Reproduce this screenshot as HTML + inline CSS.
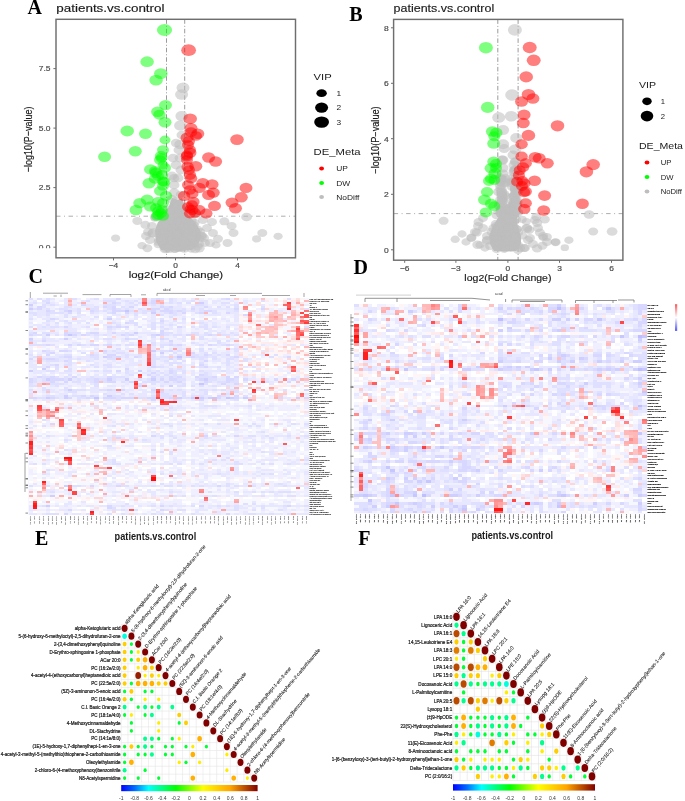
<!DOCTYPE html><html><head><meta charset="utf-8"><style>html,body{margin:0;padding:0;background:#fff;width:685px;height:801px;overflow:hidden}</style></head><body><svg width="685" height="801" viewBox="0 0 685 801" style="position:absolute;left:0;top:0;will-change:transform">
<rect width="685" height="801" fill="#fff"/>
<defs><clipPath id="clipA"><rect x="56" y="19.3" width="239.5" height="238.5"/></clipPath></defs>
<line x1="166.5" y1="19.3" x2="166.5" y2="257.8" stroke="#707070" stroke-width="0.7" stroke-dasharray="4.5,2,1,2"/>
<line x1="184.7" y1="19.3" x2="184.7" y2="257.8" stroke="#707070" stroke-width="0.7" stroke-dasharray="4.5,2,1,2"/>
<line x1="56.0" y1="216.2" x2="295.5" y2="216.2" stroke="#8a8a8a" stroke-width="0.7" stroke-dasharray="4.5,3.5,1,3.5"/>
<g clip-path="url(#clipA)">
<polygon points="161.0,250.0 192.0,250.0 197.0,246.0 201.0,238.0 200.0,230.0 195.0,222.0 188.0,215.0 185.0,206.0 182.0,198.0 178.0,200.0 172.0,198.0 169.0,206.0 165.0,215.0 158.0,222.0 155.0,230.0 156.0,241.0" fill="#bebebe"/>
<ellipse cx="180.4" cy="194.4" rx="4.6" ry="3.7" fill="#bebebe" fill-opacity="0.55"/>
<ellipse cx="163.5" cy="224.8" rx="4.9" ry="3.9" fill="#bebebe" fill-opacity="0.55"/>
<ellipse cx="178.3" cy="233.4" rx="4.3" ry="3.5" fill="#bebebe" fill-opacity="0.55"/>
<ellipse cx="171.0" cy="242.1" rx="4.9" ry="3.9" fill="#bebebe" fill-opacity="0.55"/>
<ellipse cx="191.3" cy="238.8" rx="5.2" ry="4.2" fill="#bebebe" fill-opacity="0.55"/>
<ellipse cx="177.1" cy="204.9" rx="5.5" ry="4.4" fill="#bebebe" fill-opacity="0.55"/>
<ellipse cx="180.3" cy="245.0" rx="5.0" ry="4.0" fill="#bebebe" fill-opacity="0.55"/>
<ellipse cx="177.7" cy="246.5" rx="4.8" ry="3.8" fill="#bebebe" fill-opacity="0.55"/>
<ellipse cx="176.1" cy="203.7" rx="4.6" ry="3.7" fill="#bebebe" fill-opacity="0.55"/>
<ellipse cx="178.0" cy="221.2" rx="4.9" ry="4.0" fill="#bebebe" fill-opacity="0.55"/>
<ellipse cx="177.4" cy="205.3" rx="4.9" ry="3.9" fill="#bebebe" fill-opacity="0.55"/>
<ellipse cx="181.2" cy="210.3" rx="4.3" ry="3.5" fill="#bebebe" fill-opacity="0.55"/>
<ellipse cx="158.1" cy="242.2" rx="4.5" ry="3.6" fill="#bebebe" fill-opacity="0.55"/>
<ellipse cx="169.2" cy="248.7" rx="5.4" ry="4.3" fill="#bebebe" fill-opacity="0.55"/>
<ellipse cx="174.2" cy="192.5" rx="5.2" ry="4.2" fill="#bebebe" fill-opacity="0.55"/>
<ellipse cx="198.0" cy="246.4" rx="4.8" ry="3.9" fill="#bebebe" fill-opacity="0.55"/>
<ellipse cx="171.3" cy="241.9" rx="5.1" ry="4.1" fill="#bebebe" fill-opacity="0.55"/>
<ellipse cx="166.2" cy="244.2" rx="5.4" ry="4.3" fill="#bebebe" fill-opacity="0.55"/>
<ellipse cx="174.8" cy="225.3" rx="4.6" ry="3.7" fill="#bebebe" fill-opacity="0.55"/>
<ellipse cx="175.1" cy="240.4" rx="4.8" ry="3.9" fill="#bebebe" fill-opacity="0.55"/>
<ellipse cx="171.8" cy="199.1" rx="5.2" ry="4.1" fill="#bebebe" fill-opacity="0.55"/>
<ellipse cx="173.4" cy="216.9" rx="4.9" ry="3.9" fill="#bebebe" fill-opacity="0.55"/>
<ellipse cx="179.1" cy="225.5" rx="4.8" ry="3.8" fill="#bebebe" fill-opacity="0.55"/>
<ellipse cx="165.5" cy="224.4" rx="4.3" ry="3.5" fill="#bebebe" fill-opacity="0.55"/>
<ellipse cx="174.1" cy="178.2" rx="5.1" ry="4.1" fill="#bebebe" fill-opacity="0.55"/>
<ellipse cx="155.0" cy="218.2" rx="4.5" ry="3.6" fill="#bebebe" fill-opacity="0.55"/>
<ellipse cx="193.7" cy="225.2" rx="5.0" ry="4.0" fill="#bebebe" fill-opacity="0.55"/>
<ellipse cx="174.2" cy="243.2" rx="4.6" ry="3.7" fill="#bebebe" fill-opacity="0.55"/>
<ellipse cx="189.5" cy="225.8" rx="4.9" ry="3.9" fill="#bebebe" fill-opacity="0.55"/>
<ellipse cx="174.8" cy="208.6" rx="5.0" ry="4.0" fill="#bebebe" fill-opacity="0.55"/>
<ellipse cx="172.3" cy="221.3" rx="4.9" ry="3.9" fill="#bebebe" fill-opacity="0.55"/>
<ellipse cx="164.1" cy="224.3" rx="5.3" ry="4.3" fill="#bebebe" fill-opacity="0.55"/>
<ellipse cx="158.2" cy="244.6" rx="4.6" ry="3.7" fill="#bebebe" fill-opacity="0.55"/>
<ellipse cx="176.6" cy="200.4" rx="4.8" ry="3.8" fill="#bebebe" fill-opacity="0.55"/>
<ellipse cx="199.7" cy="238.6" rx="4.6" ry="3.7" fill="#bebebe" fill-opacity="0.55"/>
<ellipse cx="184.5" cy="225.1" rx="4.4" ry="3.5" fill="#bebebe" fill-opacity="0.55"/>
<ellipse cx="174.5" cy="248.9" rx="5.1" ry="4.1" fill="#bebebe" fill-opacity="0.55"/>
<ellipse cx="166.4" cy="209.0" rx="4.7" ry="3.8" fill="#bebebe" fill-opacity="0.55"/>
<ellipse cx="201.4" cy="235.8" rx="4.8" ry="3.8" fill="#bebebe" fill-opacity="0.55"/>
<ellipse cx="191.2" cy="220.6" rx="5.4" ry="4.3" fill="#bebebe" fill-opacity="0.55"/>
<ellipse cx="185.0" cy="218.5" rx="5.0" ry="4.0" fill="#bebebe" fill-opacity="0.55"/>
<ellipse cx="171.4" cy="230.2" rx="4.9" ry="3.9" fill="#bebebe" fill-opacity="0.55"/>
<ellipse cx="195.1" cy="222.6" rx="4.6" ry="3.7" fill="#bebebe" fill-opacity="0.55"/>
<ellipse cx="184.3" cy="243.9" rx="4.6" ry="3.7" fill="#bebebe" fill-opacity="0.55"/>
<ellipse cx="199.4" cy="248.3" rx="5.3" ry="4.2" fill="#bebebe" fill-opacity="0.55"/>
<ellipse cx="162.5" cy="238.5" rx="5.2" ry="4.2" fill="#bebebe" fill-opacity="0.55"/>
<ellipse cx="162.2" cy="218.3" rx="4.6" ry="3.6" fill="#bebebe" fill-opacity="0.55"/>
<ellipse cx="181.6" cy="247.3" rx="5.5" ry="4.4" fill="#bebebe" fill-opacity="0.55"/>
<ellipse cx="168.0" cy="232.8" rx="4.8" ry="3.8" fill="#bebebe" fill-opacity="0.55"/>
<ellipse cx="191.1" cy="248.9" rx="4.8" ry="3.8" fill="#bebebe" fill-opacity="0.55"/>
<ellipse cx="183.4" cy="207.7" rx="5.6" ry="4.5" fill="#bebebe" fill-opacity="0.55"/>
<ellipse cx="188.7" cy="235.8" rx="4.9" ry="4.0" fill="#bebebe" fill-opacity="0.55"/>
<ellipse cx="176.9" cy="237.5" rx="5.1" ry="4.1" fill="#bebebe" fill-opacity="0.55"/>
<ellipse cx="167.2" cy="237.7" rx="5.1" ry="4.1" fill="#bebebe" fill-opacity="0.55"/>
<ellipse cx="181.1" cy="222.2" rx="5.5" ry="4.4" fill="#bebebe" fill-opacity="0.55"/>
<ellipse cx="186.4" cy="230.3" rx="5.1" ry="4.1" fill="#bebebe" fill-opacity="0.55"/>
<ellipse cx="180.3" cy="228.7" rx="5.4" ry="4.3" fill="#bebebe" fill-opacity="0.55"/>
<ellipse cx="180.5" cy="243.8" rx="4.8" ry="3.8" fill="#bebebe" fill-opacity="0.55"/>
<ellipse cx="162.7" cy="241.4" rx="5.5" ry="4.4" fill="#bebebe" fill-opacity="0.55"/>
<ellipse cx="153.5" cy="232.7" rx="5.6" ry="4.5" fill="#bebebe" fill-opacity="0.55"/>
<ellipse cx="147.4" cy="248.2" rx="4.9" ry="4.0" fill="#bebebe" fill-opacity="0.55"/>
<ellipse cx="163.7" cy="231.5" rx="4.6" ry="3.7" fill="#bebebe" fill-opacity="0.55"/>
<ellipse cx="180.2" cy="246.2" rx="5.3" ry="4.3" fill="#bebebe" fill-opacity="0.55"/>
<ellipse cx="182.0" cy="243.7" rx="4.9" ry="3.9" fill="#bebebe" fill-opacity="0.55"/>
<ellipse cx="188.8" cy="245.3" rx="4.7" ry="3.7" fill="#bebebe" fill-opacity="0.55"/>
<ellipse cx="180.1" cy="233.2" rx="4.5" ry="3.6" fill="#bebebe" fill-opacity="0.55"/>
<ellipse cx="169.6" cy="213.6" rx="5.6" ry="4.5" fill="#bebebe" fill-opacity="0.55"/>
<ellipse cx="205.1" cy="243.0" rx="4.9" ry="3.9" fill="#bebebe" fill-opacity="0.55"/>
<ellipse cx="189.2" cy="226.1" rx="5.2" ry="4.2" fill="#bebebe" fill-opacity="0.55"/>
<ellipse cx="175.5" cy="208.0" rx="4.6" ry="3.7" fill="#bebebe" fill-opacity="0.55"/>
<ellipse cx="186.3" cy="245.3" rx="5.1" ry="4.1" fill="#bebebe" fill-opacity="0.55"/>
<ellipse cx="152.2" cy="233.4" rx="5.1" ry="4.0" fill="#bebebe" fill-opacity="0.55"/>
<ellipse cx="169.9" cy="245.6" rx="4.7" ry="3.7" fill="#bebebe" fill-opacity="0.55"/>
<ellipse cx="195.0" cy="243.6" rx="4.3" ry="3.5" fill="#bebebe" fill-opacity="0.55"/>
<ellipse cx="180.1" cy="241.4" rx="5.1" ry="4.1" fill="#bebebe" fill-opacity="0.55"/>
<ellipse cx="159.0" cy="239.8" rx="4.9" ry="3.9" fill="#bebebe" fill-opacity="0.55"/>
<ellipse cx="170.5" cy="240.9" rx="5.1" ry="4.1" fill="#bebebe" fill-opacity="0.55"/>
<ellipse cx="165.3" cy="232.3" rx="5.3" ry="4.3" fill="#bebebe" fill-opacity="0.55"/>
<ellipse cx="177.1" cy="228.2" rx="4.7" ry="3.8" fill="#bebebe" fill-opacity="0.55"/>
<ellipse cx="183.1" cy="228.0" rx="4.4" ry="3.5" fill="#bebebe" fill-opacity="0.55"/>
<ellipse cx="165.1" cy="248.8" rx="5.6" ry="4.4" fill="#bebebe" fill-opacity="0.55"/>
<ellipse cx="174.1" cy="243.7" rx="4.3" ry="3.5" fill="#bebebe" fill-opacity="0.55"/>
<ellipse cx="174.5" cy="241.3" rx="4.4" ry="3.5" fill="#bebebe" fill-opacity="0.55"/>
<ellipse cx="178.1" cy="232.5" rx="4.9" ry="3.9" fill="#bebebe" fill-opacity="0.55"/>
<ellipse cx="180.2" cy="239.5" rx="5.4" ry="4.3" fill="#bebebe" fill-opacity="0.55"/>
<ellipse cx="171.3" cy="241.2" rx="5.2" ry="4.1" fill="#bebebe" fill-opacity="0.55"/>
<ellipse cx="169.8" cy="239.9" rx="4.7" ry="3.7" fill="#bebebe" fill-opacity="0.55"/>
<ellipse cx="195.2" cy="249.0" rx="5.2" ry="4.2" fill="#bebebe" fill-opacity="0.55"/>
<ellipse cx="177.5" cy="236.4" rx="4.6" ry="3.7" fill="#bebebe" fill-opacity="0.55"/>
<ellipse cx="191.9" cy="235.7" rx="4.8" ry="3.9" fill="#bebebe" fill-opacity="0.55"/>
<ellipse cx="184.6" cy="246.8" rx="4.8" ry="3.8" fill="#bebebe" fill-opacity="0.55"/>
<ellipse cx="178.2" cy="248.4" rx="4.6" ry="3.7" fill="#bebebe" fill-opacity="0.55"/>
<ellipse cx="177.8" cy="247.7" rx="4.9" ry="3.9" fill="#bebebe" fill-opacity="0.55"/>
<ellipse cx="175.2" cy="248.7" rx="5.1" ry="4.1" fill="#bebebe" fill-opacity="0.55"/>
<ellipse cx="180.1" cy="245.8" rx="4.7" ry="3.7" fill="#bebebe" fill-opacity="0.55"/>
<ellipse cx="166.5" cy="227.8" rx="5.3" ry="4.2" fill="#bebebe" fill-opacity="0.55"/>
<ellipse cx="198.2" cy="229.5" rx="4.6" ry="3.7" fill="#bebebe" fill-opacity="0.55"/>
<ellipse cx="192.9" cy="228.6" rx="4.5" ry="3.6" fill="#bebebe" fill-opacity="0.55"/>
<ellipse cx="183.9" cy="241.9" rx="4.9" ry="3.9" fill="#bebebe" fill-opacity="0.55"/>
<ellipse cx="177.5" cy="232.5" rx="5.1" ry="4.1" fill="#bebebe" fill-opacity="0.55"/>
<ellipse cx="173.3" cy="229.4" rx="4.8" ry="3.9" fill="#bebebe" fill-opacity="0.55"/>
<ellipse cx="175.0" cy="233.3" rx="5.3" ry="4.3" fill="#bebebe" fill-opacity="0.55"/>
<ellipse cx="201.8" cy="236.1" rx="5.5" ry="4.4" fill="#bebebe" fill-opacity="0.55"/>
<ellipse cx="164.1" cy="233.2" rx="5.1" ry="4.1" fill="#bebebe" fill-opacity="0.55"/>
<ellipse cx="188.9" cy="228.6" rx="5.6" ry="4.5" fill="#bebebe" fill-opacity="0.55"/>
<ellipse cx="177.2" cy="233.3" rx="4.7" ry="3.8" fill="#bebebe" fill-opacity="0.55"/>
<ellipse cx="193.5" cy="235.9" rx="4.4" ry="3.5" fill="#bebebe" fill-opacity="0.55"/>
<ellipse cx="172.2" cy="228.0" rx="5.1" ry="4.1" fill="#bebebe" fill-opacity="0.55"/>
<ellipse cx="174.7" cy="237.9" rx="4.9" ry="3.9" fill="#bebebe" fill-opacity="0.55"/>
<ellipse cx="166.3" cy="248.4" rx="5.4" ry="4.3" fill="#bebebe" fill-opacity="0.55"/>
<ellipse cx="179.2" cy="232.2" rx="4.5" ry="3.6" fill="#bebebe" fill-opacity="0.55"/>
<ellipse cx="180.8" cy="247.7" rx="4.5" ry="3.6" fill="#bebebe" fill-opacity="0.55"/>
<ellipse cx="171.8" cy="245.1" rx="5.5" ry="4.4" fill="#bebebe" fill-opacity="0.55"/>
<ellipse cx="195.7" cy="232.7" rx="5.1" ry="4.1" fill="#bebebe" fill-opacity="0.55"/>
<ellipse cx="172.3" cy="239.1" rx="4.4" ry="3.5" fill="#bebebe" fill-opacity="0.55"/>
<ellipse cx="184.5" cy="224.3" rx="5.2" ry="4.2" fill="#bebebe" fill-opacity="0.55"/>
<ellipse cx="176.5" cy="234.7" rx="5.4" ry="4.3" fill="#bebebe" fill-opacity="0.55"/>
<ellipse cx="176.5" cy="242.7" rx="5.2" ry="4.2" fill="#bebebe" fill-opacity="0.55"/>
<ellipse cx="183.4" cy="226.7" rx="4.6" ry="3.7" fill="#bebebe" fill-opacity="0.55"/>
<ellipse cx="185.5" cy="241.9" rx="4.7" ry="3.7" fill="#bebebe" fill-opacity="0.55"/>
<ellipse cx="168.1" cy="247.8" rx="4.6" ry="3.7" fill="#bebebe" fill-opacity="0.55"/>
<ellipse cx="176.8" cy="221.6" rx="4.4" ry="3.5" fill="#bebebe" fill-opacity="0.55"/>
<ellipse cx="187.7" cy="232.0" rx="4.8" ry="3.8" fill="#bebebe" fill-opacity="0.55"/>
<ellipse cx="183.8" cy="242.2" rx="5.5" ry="4.4" fill="#bebebe" fill-opacity="0.55"/>
<ellipse cx="184.3" cy="248.7" rx="5.2" ry="4.1" fill="#bebebe" fill-opacity="0.55"/>
<ellipse cx="183.0" cy="87.8" rx="6.5" ry="5.2" fill="#bebebe" fill-opacity="0.55"/>
<ellipse cx="181.6" cy="94.5" rx="6.5" ry="5.2" fill="#bebebe" fill-opacity="0.55"/>
<ellipse cx="181.6" cy="116.1" rx="6.2" ry="5.0" fill="#bebebe" fill-opacity="0.55"/>
<ellipse cx="180.3" cy="125.6" rx="6.2" ry="5.0" fill="#bebebe" fill-opacity="0.55"/>
<ellipse cx="180.3" cy="144.5" rx="6.0" ry="4.8" fill="#bebebe" fill-opacity="0.55"/>
<ellipse cx="246.6" cy="217.0" rx="5.4" ry="4.3" fill="#bebebe" fill-opacity="0.55"/>
<ellipse cx="262.3" cy="233.0" rx="5.0" ry="4.0" fill="#bebebe" fill-opacity="0.55"/>
<ellipse cx="256.6" cy="238.9" rx="4.6" ry="3.6" fill="#bebebe" fill-opacity="0.55"/>
<ellipse cx="278.1" cy="236.3" rx="4.6" ry="3.6" fill="#bebebe" fill-opacity="0.55"/>
<ellipse cx="224.3" cy="221.3" rx="5.0" ry="4.0" fill="#bebebe" fill-opacity="0.55"/>
<ellipse cx="231.6" cy="225.9" rx="5.0" ry="4.0" fill="#bebebe" fill-opacity="0.55"/>
<ellipse cx="233.5" cy="232.9" rx="5.0" ry="4.0" fill="#bebebe" fill-opacity="0.55"/>
<ellipse cx="227.5" cy="242.9" rx="5.0" ry="4.0" fill="#bebebe" fill-opacity="0.55"/>
<ellipse cx="218.0" cy="238.8" rx="5.0" ry="4.0" fill="#bebebe" fill-opacity="0.55"/>
<ellipse cx="115.6" cy="238.1" rx="4.6" ry="3.6" fill="#bebebe" fill-opacity="0.55"/>
<ellipse cx="137.3" cy="220.9" rx="5.0" ry="4.0" fill="#bebebe" fill-opacity="0.55"/>
<ellipse cx="145.3" cy="224.8" rx="5.0" ry="4.0" fill="#bebebe" fill-opacity="0.55"/>
<ellipse cx="142.0" cy="245.6" rx="4.6" ry="3.6" fill="#bebebe" fill-opacity="0.55"/>
<ellipse cx="212.0" cy="222.0" rx="5.0" ry="4.0" fill="#bebebe" fill-opacity="0.55"/>
<ellipse cx="207.0" cy="228.0" rx="5.0" ry="4.0" fill="#bebebe" fill-opacity="0.55"/>
<ellipse cx="213.0" cy="233.0" rx="5.0" ry="4.0" fill="#bebebe" fill-opacity="0.55"/>
<ellipse cx="210.0" cy="243.0" rx="5.0" ry="4.0" fill="#bebebe" fill-opacity="0.55"/>
<ellipse cx="204.0" cy="238.0" rx="5.0" ry="4.0" fill="#bebebe" fill-opacity="0.55"/>
<ellipse cx="203.0" cy="220.0" rx="5.0" ry="4.0" fill="#bebebe" fill-opacity="0.55"/>
<ellipse cx="148.0" cy="232.0" rx="5.0" ry="4.0" fill="#bebebe" fill-opacity="0.55"/>
<ellipse cx="150.0" cy="240.0" rx="5.0" ry="4.0" fill="#bebebe" fill-opacity="0.55"/>
<ellipse cx="152.0" cy="226.0" rx="5.0" ry="4.0" fill="#bebebe" fill-opacity="0.55"/>
<ellipse cx="146.0" cy="236.0" rx="5.0" ry="4.0" fill="#bebebe" fill-opacity="0.55"/>
<ellipse cx="200.0" cy="232.0" rx="5.0" ry="4.0" fill="#bebebe" fill-opacity="0.55"/>
<ellipse cx="199.0" cy="244.0" rx="5.0" ry="4.0" fill="#bebebe" fill-opacity="0.55"/>
<ellipse cx="216.0" cy="245.0" rx="4.6" ry="3.6" fill="#bebebe" fill-opacity="0.55"/>
<ellipse cx="196.0" cy="214.0" rx="5.0" ry="4.0" fill="#bebebe" fill-opacity="0.55"/>
<ellipse cx="155.0" cy="217.0" rx="5.0" ry="4.0" fill="#bebebe" fill-opacity="0.55"/>
<ellipse cx="174.0" cy="185.0" rx="5.5" ry="4.4" fill="#bebebe" fill-opacity="0.55"/>
<ellipse cx="178.0" cy="178.0" rx="5.5" ry="4.4" fill="#bebebe" fill-opacity="0.55"/>
<ellipse cx="172.0" cy="176.0" rx="5.5" ry="4.4" fill="#bebebe" fill-opacity="0.55"/>
<ellipse cx="181.0" cy="170.0" rx="5.5" ry="4.4" fill="#bebebe" fill-opacity="0.55"/>
<ellipse cx="176.0" cy="165.0" rx="5.5" ry="4.4" fill="#bebebe" fill-opacity="0.55"/>
<ellipse cx="180.0" cy="158.0" rx="5.5" ry="4.4" fill="#bebebe" fill-opacity="0.55"/>
<ellipse cx="173.0" cy="158.0" rx="5.2" ry="4.2" fill="#bebebe" fill-opacity="0.55"/>
<ellipse cx="179.0" cy="150.0" rx="5.5" ry="4.4" fill="#bebebe" fill-opacity="0.55"/>
<ellipse cx="176.0" cy="143.0" rx="5.2" ry="4.2" fill="#bebebe" fill-opacity="0.55"/>
<ellipse cx="182.0" cy="135.0" rx="5.5" ry="4.4" fill="#bebebe" fill-opacity="0.55"/>
<ellipse cx="164.5" cy="29.9" rx="7.6" ry="6.0" fill="#00ff00" fill-opacity="0.5"/>
<ellipse cx="147.1" cy="61.7" rx="6.8" ry="5.4" fill="#00ff00" fill-opacity="0.5"/>
<ellipse cx="160.8" cy="73.6" rx="6.8" ry="5.4" fill="#00ff00" fill-opacity="0.5"/>
<ellipse cx="156.1" cy="80.1" rx="6.8" ry="5.4" fill="#00ff00" fill-opacity="0.5"/>
<ellipse cx="165.5" cy="105.1" rx="6.5" ry="5.2" fill="#00ff00" fill-opacity="0.5"/>
<ellipse cx="157.6" cy="111.7" rx="6.5" ry="5.2" fill="#00ff00" fill-opacity="0.5"/>
<ellipse cx="159.5" cy="114.8" rx="6.2" ry="5.0" fill="#00ff00" fill-opacity="0.5"/>
<ellipse cx="165.0" cy="122.2" rx="6.5" ry="5.2" fill="#00ff00" fill-opacity="0.5"/>
<ellipse cx="127.2" cy="131.0" rx="6.8" ry="5.4" fill="#00ff00" fill-opacity="0.5"/>
<ellipse cx="145.5" cy="133.8" rx="6.5" ry="5.2" fill="#00ff00" fill-opacity="0.5"/>
<ellipse cx="104.6" cy="156.8" rx="6.5" ry="5.2" fill="#00ff00" fill-opacity="0.5"/>
<ellipse cx="135.3" cy="151.2" rx="6.5" ry="5.2" fill="#00ff00" fill-opacity="0.5"/>
<ellipse cx="161.0" cy="156.0" rx="6.2" ry="5.0" fill="#00ff00" fill-opacity="0.5"/>
<ellipse cx="161.5" cy="158.0" rx="6.0" ry="4.8" fill="#00ff00" fill-opacity="0.5"/>
<ellipse cx="150.5" cy="169.4" rx="6.5" ry="5.2" fill="#00ff00" fill-opacity="0.5"/>
<ellipse cx="156.0" cy="172.7" rx="6.5" ry="5.2" fill="#00ff00" fill-opacity="0.5"/>
<ellipse cx="162.0" cy="175.0" rx="6.2" ry="5.0" fill="#00ff00" fill-opacity="0.5"/>
<ellipse cx="149.0" cy="183.2" rx="6.5" ry="5.2" fill="#00ff00" fill-opacity="0.5"/>
<ellipse cx="164.2" cy="182.0" rx="6.2" ry="5.0" fill="#00ff00" fill-opacity="0.5"/>
<ellipse cx="155.0" cy="178.8" rx="6.2" ry="5.0" fill="#00ff00" fill-opacity="0.5"/>
<ellipse cx="166.0" cy="196.0" rx="6.2" ry="5.0" fill="#00ff00" fill-opacity="0.5"/>
<ellipse cx="147.2" cy="199.6" rx="6.5" ry="5.2" fill="#00ff00" fill-opacity="0.5"/>
<ellipse cx="139.7" cy="203.1" rx="6.5" ry="5.2" fill="#00ff00" fill-opacity="0.5"/>
<ellipse cx="158.4" cy="201.9" rx="6.2" ry="5.0" fill="#00ff00" fill-opacity="0.5"/>
<ellipse cx="136.0" cy="210.0" rx="6.5" ry="5.2" fill="#00ff00" fill-opacity="0.5"/>
<ellipse cx="150.2" cy="206.6" rx="6.2" ry="5.0" fill="#00ff00" fill-opacity="0.5"/>
<ellipse cx="158.4" cy="211.2" rx="6.2" ry="5.0" fill="#00ff00" fill-opacity="0.5"/>
<ellipse cx="158.4" cy="214.7" rx="6.2" ry="5.0" fill="#00ff00" fill-opacity="0.5"/>
<ellipse cx="161.0" cy="213.0" rx="6.0" ry="4.8" fill="#00ff00" fill-opacity="0.5"/>
<ellipse cx="155.0" cy="171.0" rx="6.0" ry="4.8" fill="#00ff00" fill-opacity="0.5"/>
<ellipse cx="162.9" cy="181.4" rx="6.0" ry="4.8" fill="#00ff00" fill-opacity="0.5"/>
<ellipse cx="163.0" cy="165.0" rx="5.5" ry="4.4" fill="#00ff00" fill-opacity="0.5"/>
<ellipse cx="165.0" cy="140.0" rx="5.5" ry="4.4" fill="#00ff00" fill-opacity="0.5"/>
<ellipse cx="163.0" cy="150.0" rx="6.0" ry="4.8" fill="#00ff00" fill-opacity="0.5"/>
<ellipse cx="160.0" cy="160.0" rx="6.0" ry="4.8" fill="#00ff00" fill-opacity="0.5"/>
<ellipse cx="165.0" cy="168.0" rx="6.0" ry="4.8" fill="#00ff00" fill-opacity="0.5"/>
<ellipse cx="158.0" cy="176.0" rx="6.0" ry="4.8" fill="#00ff00" fill-opacity="0.5"/>
<ellipse cx="163.0" cy="186.0" rx="6.0" ry="4.8" fill="#00ff00" fill-opacity="0.5"/>
<ellipse cx="160.0" cy="191.0" rx="6.0" ry="4.8" fill="#00ff00" fill-opacity="0.5"/>
<ellipse cx="163.0" cy="203.0" rx="6.0" ry="4.8" fill="#00ff00" fill-opacity="0.5"/>
<ellipse cx="156.0" cy="208.0" rx="6.0" ry="4.8" fill="#00ff00" fill-opacity="0.5"/>
<ellipse cx="162.0" cy="210.0" rx="6.0" ry="4.8" fill="#00ff00" fill-opacity="0.5"/>
<ellipse cx="157.0" cy="216.0" rx="6.0" ry="4.8" fill="#00ff00" fill-opacity="0.5"/>
<ellipse cx="163.0" cy="216.0" rx="6.0" ry="4.8" fill="#00ff00" fill-opacity="0.5"/>
<ellipse cx="188.6" cy="50.2" rx="7.4" ry="5.9" fill="#ff0000" fill-opacity="0.5"/>
<ellipse cx="190.2" cy="118.8" rx="6.8" ry="5.4" fill="#ff0000" fill-opacity="0.5"/>
<ellipse cx="191.0" cy="128.3" rx="6.5" ry="5.2" fill="#ff0000" fill-opacity="0.5"/>
<ellipse cx="197.8" cy="133.7" rx="6.5" ry="5.2" fill="#ff0000" fill-opacity="0.5"/>
<ellipse cx="187.0" cy="137.7" rx="6.5" ry="5.2" fill="#ff0000" fill-opacity="0.5"/>
<ellipse cx="237.0" cy="139.6" rx="6.8" ry="5.4" fill="#ff0000" fill-opacity="0.5"/>
<ellipse cx="188.8" cy="141.2" rx="6.2" ry="5.0" fill="#ff0000" fill-opacity="0.5"/>
<ellipse cx="190.0" cy="152.8" rx="6.5" ry="5.2" fill="#ff0000" fill-opacity="0.5"/>
<ellipse cx="186.9" cy="156.4" rx="6.2" ry="5.0" fill="#ff0000" fill-opacity="0.5"/>
<ellipse cx="195.8" cy="166.2" rx="6.5" ry="5.2" fill="#ff0000" fill-opacity="0.5"/>
<ellipse cx="187.6" cy="166.9" rx="6.2" ry="5.0" fill="#ff0000" fill-opacity="0.5"/>
<ellipse cx="208.6" cy="157.5" rx="6.5" ry="5.2" fill="#ff0000" fill-opacity="0.5"/>
<ellipse cx="215.6" cy="161.5" rx="6.5" ry="5.2" fill="#ff0000" fill-opacity="0.5"/>
<ellipse cx="189.9" cy="175.0" rx="6.2" ry="5.0" fill="#ff0000" fill-opacity="0.5"/>
<ellipse cx="191.1" cy="178.5" rx="6.2" ry="5.0" fill="#ff0000" fill-opacity="0.5"/>
<ellipse cx="202.8" cy="183.2" rx="6.5" ry="5.2" fill="#ff0000" fill-opacity="0.5"/>
<ellipse cx="212.1" cy="184.4" rx="6.5" ry="5.2" fill="#ff0000" fill-opacity="0.5"/>
<ellipse cx="199.3" cy="187.9" rx="6.5" ry="5.2" fill="#ff0000" fill-opacity="0.5"/>
<ellipse cx="213.3" cy="192.6" rx="6.5" ry="5.2" fill="#ff0000" fill-opacity="0.5"/>
<ellipse cx="208.6" cy="194.9" rx="6.5" ry="5.2" fill="#ff0000" fill-opacity="0.5"/>
<ellipse cx="246.0" cy="187.9" rx="6.5" ry="5.2" fill="#ff0000" fill-opacity="0.5"/>
<ellipse cx="241.3" cy="197.2" rx="6.5" ry="5.2" fill="#ff0000" fill-opacity="0.5"/>
<ellipse cx="232.0" cy="202.6" rx="6.5" ry="5.2" fill="#ff0000" fill-opacity="0.5"/>
<ellipse cx="235.5" cy="208.2" rx="6.5" ry="5.2" fill="#ff0000" fill-opacity="0.5"/>
<ellipse cx="214.5" cy="205.9" rx="6.5" ry="5.2" fill="#ff0000" fill-opacity="0.5"/>
<ellipse cx="192.3" cy="193.7" rx="6.2" ry="5.0" fill="#ff0000" fill-opacity="0.5"/>
<ellipse cx="184.1" cy="196.1" rx="6.2" ry="5.0" fill="#ff0000" fill-opacity="0.5"/>
<ellipse cx="193.4" cy="201.9" rx="6.2" ry="5.0" fill="#ff0000" fill-opacity="0.5"/>
<ellipse cx="192.3" cy="210.1" rx="6.2" ry="5.0" fill="#ff0000" fill-opacity="0.5"/>
<ellipse cx="189.9" cy="213.6" rx="6.0" ry="4.8" fill="#ff0000" fill-opacity="0.5"/>
<ellipse cx="199.3" cy="210.1" rx="6.2" ry="5.0" fill="#ff0000" fill-opacity="0.5"/>
<ellipse cx="206.3" cy="213.6" rx="6.2" ry="5.0" fill="#ff0000" fill-opacity="0.5"/>
<ellipse cx="187.0" cy="155.1" rx="6.0" ry="4.8" fill="#ff0000" fill-opacity="0.5"/>
<ellipse cx="191.0" cy="132.2" rx="6.2" ry="5.0" fill="#ff0000" fill-opacity="0.5"/>
<ellipse cx="190.0" cy="209.0" rx="5.5" ry="4.4" fill="#ff0000" fill-opacity="0.5"/>
<ellipse cx="188.0" cy="145.0" rx="6.0" ry="4.8" fill="#ff0000" fill-opacity="0.5"/>
<ellipse cx="190.0" cy="150.0" rx="6.0" ry="4.8" fill="#ff0000" fill-opacity="0.5"/>
<ellipse cx="187.0" cy="160.0" rx="6.0" ry="4.8" fill="#ff0000" fill-opacity="0.5"/>
<ellipse cx="189.0" cy="170.0" rx="6.0" ry="4.8" fill="#ff0000" fill-opacity="0.5"/>
<ellipse cx="188.0" cy="185.0" rx="6.0" ry="4.8" fill="#ff0000" fill-opacity="0.5"/>
<ellipse cx="190.0" cy="190.0" rx="6.0" ry="4.8" fill="#ff0000" fill-opacity="0.5"/>
<ellipse cx="192.0" cy="205.0" rx="6.0" ry="4.8" fill="#ff0000" fill-opacity="0.5"/>
<ellipse cx="188.0" cy="207.0" rx="6.0" ry="4.8" fill="#ff0000" fill-opacity="0.5"/>
<ellipse cx="195.0" cy="213.0" rx="6.0" ry="4.8" fill="#ff0000" fill-opacity="0.5"/>
<ellipse cx="196.0" cy="136.0" rx="6.0" ry="4.8" fill="#ff0000" fill-opacity="0.5"/>
</g>
<rect x="56" y="19.3" width="239.5" height="238.5" fill="none" stroke="#6e6e6e" stroke-width="1.45"/>
<line x1="113.5" y1="257.8" x2="113.5" y2="260.4" stroke="#6e6e6e" stroke-width="1"/>
<text transform="translate(113.50,268.30) scale(1.15,1)" font-size="7.3" text-anchor="middle" fill="#4d4d4d" font-family="Liberation Sans" stroke="#4d4d4d" stroke-width="0.2">−4</text>
<line x1="175.5" y1="257.8" x2="175.5" y2="260.4" stroke="#6e6e6e" stroke-width="1"/>
<text transform="translate(175.50,268.30) scale(1.15,1)" font-size="7.3" text-anchor="middle" fill="#4d4d4d" font-family="Liberation Sans" stroke="#4d4d4d" stroke-width="0.2">0</text>
<line x1="237.5" y1="257.8" x2="237.5" y2="260.4" stroke="#6e6e6e" stroke-width="1"/>
<text transform="translate(237.50,268.30) scale(1.15,1)" font-size="7.3" text-anchor="middle" fill="#4d4d4d" font-family="Liberation Sans" stroke="#4d4d4d" stroke-width="0.2">4</text>
<line x1="53.4" y1="247.2" x2="56.0" y2="247.2" stroke="#6e6e6e" stroke-width="1"/>
<text transform="translate(50.50,250.00) scale(1.1,1)" font-size="7.7" text-anchor="end" fill="#4d4d4d" font-family="Liberation Sans" stroke="#4d4d4d" stroke-width="0.2">0.0</text>
<line x1="53.4" y1="187.6" x2="56.0" y2="187.6" stroke="#6e6e6e" stroke-width="1"/>
<text transform="translate(50.50,190.40) scale(1.1,1)" font-size="7.7" text-anchor="end" fill="#4d4d4d" font-family="Liberation Sans" stroke="#4d4d4d" stroke-width="0.2">2.5</text>
<line x1="53.4" y1="128.1" x2="56.0" y2="128.1" stroke="#6e6e6e" stroke-width="1"/>
<text transform="translate(50.50,130.90) scale(1.1,1)" font-size="7.7" text-anchor="end" fill="#4d4d4d" font-family="Liberation Sans" stroke="#4d4d4d" stroke-width="0.2">5.0</text>
<line x1="53.4" y1="68.6" x2="56.0" y2="68.6" stroke="#6e6e6e" stroke-width="1"/>
<text transform="translate(50.50,71.40) scale(1.1,1)" font-size="7.7" text-anchor="end" fill="#4d4d4d" font-family="Liberation Sans" stroke="#4d4d4d" stroke-width="0.2">7.5</text>
<text transform="translate(56.30,12.10) scale(1.2,1)" font-size="11.2" text-anchor="start" fill="#1a1a1a" font-family="Liberation Sans" stroke="#1a1a1a" stroke-width="0.15">patients.vs.control</text>
<text transform="translate(175.90,278.10) scale(1.215,1)" font-size="9.4" text-anchor="middle" fill="#1a1a1a" font-family="Liberation Sans" stroke="#1a1a1a" stroke-width="0.15">log2(Fold Change)</text>
<text transform="translate(31.50,139.40) scale(1.215,1) rotate(-90)" font-size="8.95" text-anchor="middle" fill="#1a1a1a" stroke="#1a1a1a" stroke-width="0.15" font-family="Liberation Sans">−log10(P−value)</text>
<rect x="36" y="248.2" width="15" height="4" fill="#fff"/>
<text transform="translate(313.60,80.20) scale(1.2,1)" font-size="9.4" text-anchor="start" fill="#1a1a1a" font-family="Liberation Sans">VIP</text>
<ellipse cx="321.6" cy="93.2" rx="5.2" ry="3.9" fill="#000"/>
<text transform="translate(336.60,95.70) scale(1.2,1)" font-size="7" text-anchor="start" fill="#1a1a1a" font-family="Liberation Sans">1</text>
<ellipse cx="321.6" cy="107.6" rx="6.5" ry="5.2" fill="#000"/>
<text transform="translate(336.60,110.10) scale(1.2,1)" font-size="7" text-anchor="start" fill="#1a1a1a" font-family="Liberation Sans">2</text>
<ellipse cx="321.6" cy="122.1" rx="7.4" ry="5.7" fill="#000"/>
<text transform="translate(336.60,124.60) scale(1.2,1)" font-size="7" text-anchor="start" fill="#1a1a1a" font-family="Liberation Sans">3</text>
<text transform="translate(313.60,154.80) scale(1.2,1)" font-size="9.4" text-anchor="start" fill="#1a1a1a" font-family="Liberation Sans">DE_Meta</text>
<ellipse cx="321.6" cy="168.4" rx="2.4" ry="2.0" fill="#ff0000"/>
<text transform="translate(336.30,170.90) scale(1.2,1)" font-size="7" text-anchor="start" fill="#1a1a1a" font-family="Liberation Sans">UP</text>
<ellipse cx="321.6" cy="183.0" rx="2.4" ry="2.0" fill="#00ff00"/>
<text transform="translate(336.30,185.50) scale(1.2,1)" font-size="7" text-anchor="start" fill="#1a1a1a" font-family="Liberation Sans">DW</text>
<ellipse cx="321.6" cy="197.0" rx="2.4" ry="2.0" fill="#bebebe"/>
<text transform="translate(336.30,199.50) scale(1.2,1)" font-size="7" text-anchor="start" fill="#1a1a1a" font-family="Liberation Sans">NoDiff</text>
<defs><clipPath id="clipB"><rect x="393.6" y="19.4" width="229.29999999999995" height="240.79999999999998"/></clipPath></defs>
<line x1="497.8" y1="19.4" x2="497.8" y2="260.2" stroke="#707070" stroke-width="0.7" stroke-dasharray="4.5,2,1,2"/>
<line x1="518.1" y1="19.4" x2="518.1" y2="260.2" stroke="#707070" stroke-width="0.7" stroke-dasharray="4.5,2,1,2"/>
<line x1="393.6" y1="213.6" x2="622.9" y2="213.6" stroke="#8a8a8a" stroke-width="0.7" stroke-dasharray="4.5,3.5,1,3.5"/>
<g clip-path="url(#clipB)">
<polygon points="494.0,251.0 516.0,251.0 521.0,244.0 521.0,236.0 518.0,228.0 517.0,218.0 515.0,210.0 512.0,210.0 508.0,212.0 504.0,208.0 500.0,210.0 498.0,218.0 493.0,226.0 489.0,236.0 490.0,244.0" fill="#bebebe"/>
<ellipse cx="503.2" cy="179.4" rx="5.2" ry="4.2" fill="#bebebe" fill-opacity="0.55"/>
<ellipse cx="502.9" cy="191.5" rx="4.4" ry="3.6" fill="#bebebe" fill-opacity="0.55"/>
<ellipse cx="501.6" cy="196.0" rx="5.3" ry="4.2" fill="#bebebe" fill-opacity="0.55"/>
<ellipse cx="500.3" cy="208.5" rx="4.5" ry="3.6" fill="#bebebe" fill-opacity="0.55"/>
<ellipse cx="499.4" cy="205.5" rx="5.6" ry="4.5" fill="#bebebe" fill-opacity="0.55"/>
<ellipse cx="502.2" cy="188.6" rx="4.3" ry="3.5" fill="#bebebe" fill-opacity="0.55"/>
<ellipse cx="500.3" cy="213.9" rx="4.7" ry="3.8" fill="#bebebe" fill-opacity="0.55"/>
<ellipse cx="502.3" cy="200.7" rx="5.5" ry="4.4" fill="#bebebe" fill-opacity="0.55"/>
<ellipse cx="502.1" cy="195.0" rx="5.0" ry="4.0" fill="#bebebe" fill-opacity="0.55"/>
<ellipse cx="504.4" cy="214.2" rx="5.4" ry="4.3" fill="#bebebe" fill-opacity="0.55"/>
<ellipse cx="502.7" cy="200.4" rx="5.6" ry="4.5" fill="#bebebe" fill-opacity="0.55"/>
<ellipse cx="505.5" cy="182.6" rx="5.3" ry="4.2" fill="#bebebe" fill-opacity="0.55"/>
<ellipse cx="500.6" cy="212.6" rx="5.3" ry="4.3" fill="#bebebe" fill-opacity="0.55"/>
<ellipse cx="500.2" cy="209.9" rx="4.6" ry="3.6" fill="#bebebe" fill-opacity="0.55"/>
<ellipse cx="501.6" cy="208.0" rx="4.7" ry="3.8" fill="#bebebe" fill-opacity="0.55"/>
<ellipse cx="502.1" cy="199.7" rx="4.8" ry="3.9" fill="#bebebe" fill-opacity="0.55"/>
<ellipse cx="504.4" cy="208.1" rx="5.6" ry="4.5" fill="#bebebe" fill-opacity="0.55"/>
<ellipse cx="496.7" cy="214.9" rx="5.3" ry="4.3" fill="#bebebe" fill-opacity="0.55"/>
<ellipse cx="502.9" cy="198.8" rx="5.0" ry="4.0" fill="#bebebe" fill-opacity="0.55"/>
<ellipse cx="504.3" cy="208.7" rx="4.4" ry="3.5" fill="#bebebe" fill-opacity="0.55"/>
<ellipse cx="504.1" cy="194.3" rx="5.2" ry="4.2" fill="#bebebe" fill-opacity="0.55"/>
<ellipse cx="500.1" cy="188.8" rx="4.8" ry="3.9" fill="#bebebe" fill-opacity="0.55"/>
<ellipse cx="514.3" cy="181.0" rx="5.5" ry="4.4" fill="#bebebe" fill-opacity="0.55"/>
<ellipse cx="515.5" cy="202.0" rx="5.2" ry="4.2" fill="#bebebe" fill-opacity="0.55"/>
<ellipse cx="510.5" cy="183.1" rx="5.0" ry="4.0" fill="#bebebe" fill-opacity="0.55"/>
<ellipse cx="513.8" cy="213.8" rx="5.4" ry="4.4" fill="#bebebe" fill-opacity="0.55"/>
<ellipse cx="517.0" cy="197.6" rx="4.5" ry="3.6" fill="#bebebe" fill-opacity="0.55"/>
<ellipse cx="514.0" cy="170.2" rx="5.2" ry="4.2" fill="#bebebe" fill-opacity="0.55"/>
<ellipse cx="516.3" cy="211.5" rx="4.6" ry="3.6" fill="#bebebe" fill-opacity="0.55"/>
<ellipse cx="510.2" cy="181.4" rx="4.5" ry="3.6" fill="#bebebe" fill-opacity="0.55"/>
<ellipse cx="514.8" cy="214.5" rx="4.3" ry="3.5" fill="#bebebe" fill-opacity="0.55"/>
<ellipse cx="514.7" cy="177.9" rx="4.3" ry="3.5" fill="#bebebe" fill-opacity="0.55"/>
<ellipse cx="514.8" cy="196.9" rx="5.5" ry="4.4" fill="#bebebe" fill-opacity="0.55"/>
<ellipse cx="515.3" cy="187.9" rx="5.4" ry="4.3" fill="#bebebe" fill-opacity="0.55"/>
<ellipse cx="511.9" cy="208.9" rx="5.3" ry="4.2" fill="#bebebe" fill-opacity="0.55"/>
<ellipse cx="513.0" cy="204.8" rx="4.6" ry="3.7" fill="#bebebe" fill-opacity="0.55"/>
<ellipse cx="514.1" cy="196.0" rx="5.6" ry="4.5" fill="#bebebe" fill-opacity="0.55"/>
<ellipse cx="515.8" cy="199.7" rx="4.4" ry="3.5" fill="#bebebe" fill-opacity="0.55"/>
<ellipse cx="514.8" cy="201.4" rx="5.2" ry="4.2" fill="#bebebe" fill-opacity="0.55"/>
<ellipse cx="512.2" cy="182.3" rx="4.4" ry="3.5" fill="#bebebe" fill-opacity="0.55"/>
<ellipse cx="515.5" cy="206.9" rx="4.8" ry="3.8" fill="#bebebe" fill-opacity="0.55"/>
<ellipse cx="514.5" cy="189.5" rx="4.3" ry="3.5" fill="#bebebe" fill-opacity="0.55"/>
<ellipse cx="516.6" cy="169.2" rx="5.5" ry="4.4" fill="#bebebe" fill-opacity="0.55"/>
<ellipse cx="513.2" cy="201.9" rx="5.5" ry="4.4" fill="#bebebe" fill-opacity="0.55"/>
<ellipse cx="510.6" cy="248.4" rx="4.4" ry="3.5" fill="#bebebe" fill-opacity="0.55"/>
<ellipse cx="504.6" cy="243.8" rx="5.3" ry="4.2" fill="#bebebe" fill-opacity="0.55"/>
<ellipse cx="500.6" cy="236.7" rx="5.1" ry="4.1" fill="#bebebe" fill-opacity="0.55"/>
<ellipse cx="518.6" cy="232.4" rx="4.5" ry="3.6" fill="#bebebe" fill-opacity="0.55"/>
<ellipse cx="496.3" cy="224.3" rx="5.6" ry="4.5" fill="#bebebe" fill-opacity="0.55"/>
<ellipse cx="520.1" cy="248.1" rx="5.0" ry="4.0" fill="#bebebe" fill-opacity="0.55"/>
<ellipse cx="505.8" cy="225.1" rx="4.3" ry="3.5" fill="#bebebe" fill-opacity="0.55"/>
<ellipse cx="508.2" cy="226.2" rx="4.7" ry="3.8" fill="#bebebe" fill-opacity="0.55"/>
<ellipse cx="512.5" cy="221.1" rx="5.0" ry="4.0" fill="#bebebe" fill-opacity="0.55"/>
<ellipse cx="502.9" cy="210.5" rx="4.3" ry="3.5" fill="#bebebe" fill-opacity="0.55"/>
<ellipse cx="510.6" cy="217.4" rx="5.6" ry="4.5" fill="#bebebe" fill-opacity="0.55"/>
<ellipse cx="516.0" cy="236.9" rx="4.5" ry="3.6" fill="#bebebe" fill-opacity="0.55"/>
<ellipse cx="512.4" cy="246.0" rx="5.5" ry="4.4" fill="#bebebe" fill-opacity="0.55"/>
<ellipse cx="487.1" cy="240.8" rx="5.3" ry="4.3" fill="#bebebe" fill-opacity="0.55"/>
<ellipse cx="522.2" cy="219.4" rx="4.5" ry="3.6" fill="#bebebe" fill-opacity="0.55"/>
<ellipse cx="502.3" cy="240.4" rx="5.2" ry="4.2" fill="#bebebe" fill-opacity="0.55"/>
<ellipse cx="496.7" cy="226.1" rx="5.5" ry="4.4" fill="#bebebe" fill-opacity="0.55"/>
<ellipse cx="504.1" cy="228.3" rx="5.4" ry="4.3" fill="#bebebe" fill-opacity="0.55"/>
<ellipse cx="516.2" cy="219.4" rx="4.9" ry="3.9" fill="#bebebe" fill-opacity="0.55"/>
<ellipse cx="492.0" cy="231.8" rx="5.5" ry="4.4" fill="#bebebe" fill-opacity="0.55"/>
<ellipse cx="497.7" cy="239.1" rx="4.7" ry="3.8" fill="#bebebe" fill-opacity="0.55"/>
<ellipse cx="506.7" cy="238.0" rx="4.5" ry="3.6" fill="#bebebe" fill-opacity="0.55"/>
<ellipse cx="502.6" cy="246.6" rx="4.7" ry="3.8" fill="#bebebe" fill-opacity="0.55"/>
<ellipse cx="537.1" cy="248.4" rx="5.2" ry="4.2" fill="#bebebe" fill-opacity="0.55"/>
<ellipse cx="493.3" cy="228.4" rx="5.1" ry="4.1" fill="#bebebe" fill-opacity="0.55"/>
<ellipse cx="505.1" cy="216.5" rx="4.6" ry="3.7" fill="#bebebe" fill-opacity="0.55"/>
<ellipse cx="517.4" cy="228.9" rx="4.4" ry="3.5" fill="#bebebe" fill-opacity="0.55"/>
<ellipse cx="498.8" cy="243.1" rx="5.2" ry="4.2" fill="#bebebe" fill-opacity="0.55"/>
<ellipse cx="514.2" cy="246.6" rx="4.4" ry="3.5" fill="#bebebe" fill-opacity="0.55"/>
<ellipse cx="522.7" cy="235.9" rx="4.7" ry="3.7" fill="#bebebe" fill-opacity="0.55"/>
<ellipse cx="507.3" cy="209.7" rx="5.0" ry="4.0" fill="#bebebe" fill-opacity="0.55"/>
<ellipse cx="501.6" cy="244.5" rx="4.6" ry="3.7" fill="#bebebe" fill-opacity="0.55"/>
<ellipse cx="508.6" cy="208.3" rx="5.2" ry="4.2" fill="#bebebe" fill-opacity="0.55"/>
<ellipse cx="500.2" cy="182.7" rx="4.8" ry="3.8" fill="#bebebe" fill-opacity="0.55"/>
<ellipse cx="501.5" cy="204.5" rx="5.5" ry="4.4" fill="#bebebe" fill-opacity="0.55"/>
<ellipse cx="501.1" cy="180.7" rx="5.2" ry="4.2" fill="#bebebe" fill-opacity="0.55"/>
<ellipse cx="501.8" cy="179.2" rx="4.5" ry="3.6" fill="#bebebe" fill-opacity="0.55"/>
<ellipse cx="510.9" cy="205.7" rx="5.2" ry="4.2" fill="#bebebe" fill-opacity="0.55"/>
<ellipse cx="526.3" cy="221.5" rx="4.5" ry="3.6" fill="#bebebe" fill-opacity="0.55"/>
<ellipse cx="504.0" cy="183.9" rx="4.7" ry="3.8" fill="#bebebe" fill-opacity="0.55"/>
<ellipse cx="505.8" cy="234.1" rx="4.7" ry="3.8" fill="#bebebe" fill-opacity="0.55"/>
<ellipse cx="500.8" cy="182.4" rx="4.9" ry="3.9" fill="#bebebe" fill-opacity="0.55"/>
<ellipse cx="504.3" cy="240.9" rx="5.3" ry="4.2" fill="#bebebe" fill-opacity="0.55"/>
<ellipse cx="477.5" cy="244.8" rx="5.2" ry="4.2" fill="#bebebe" fill-opacity="0.55"/>
<ellipse cx="507.9" cy="226.7" rx="4.7" ry="3.8" fill="#bebebe" fill-opacity="0.55"/>
<ellipse cx="505.6" cy="196.1" rx="4.9" ry="3.9" fill="#bebebe" fill-opacity="0.55"/>
<ellipse cx="518.3" cy="245.3" rx="4.8" ry="3.8" fill="#bebebe" fill-opacity="0.55"/>
<ellipse cx="514.6" cy="229.0" rx="4.5" ry="3.6" fill="#bebebe" fill-opacity="0.55"/>
<ellipse cx="504.9" cy="248.5" rx="4.8" ry="3.9" fill="#bebebe" fill-opacity="0.55"/>
<ellipse cx="505.4" cy="178.1" rx="5.0" ry="4.0" fill="#bebebe" fill-opacity="0.55"/>
<ellipse cx="502.6" cy="201.1" rx="4.5" ry="3.6" fill="#bebebe" fill-opacity="0.55"/>
<ellipse cx="502.2" cy="195.2" rx="5.1" ry="4.1" fill="#bebebe" fill-opacity="0.55"/>
<ellipse cx="526.6" cy="228.7" rx="5.6" ry="4.5" fill="#bebebe" fill-opacity="0.55"/>
<ellipse cx="505.1" cy="210.2" rx="4.9" ry="3.9" fill="#bebebe" fill-opacity="0.55"/>
<ellipse cx="500.9" cy="211.8" rx="5.3" ry="4.3" fill="#bebebe" fill-opacity="0.55"/>
<ellipse cx="497.2" cy="238.5" rx="4.6" ry="3.7" fill="#bebebe" fill-opacity="0.55"/>
<ellipse cx="505.3" cy="223.8" rx="4.3" ry="3.5" fill="#bebebe" fill-opacity="0.55"/>
<ellipse cx="505.9" cy="222.9" rx="4.4" ry="3.6" fill="#bebebe" fill-opacity="0.55"/>
<ellipse cx="506.3" cy="239.1" rx="4.5" ry="3.6" fill="#bebebe" fill-opacity="0.55"/>
<ellipse cx="507.8" cy="210.1" rx="4.6" ry="3.7" fill="#bebebe" fill-opacity="0.55"/>
<ellipse cx="498.4" cy="229.3" rx="5.1" ry="4.1" fill="#bebebe" fill-opacity="0.55"/>
<ellipse cx="506.7" cy="208.4" rx="5.5" ry="4.4" fill="#bebebe" fill-opacity="0.55"/>
<ellipse cx="504.0" cy="248.7" rx="5.0" ry="4.0" fill="#bebebe" fill-opacity="0.55"/>
<ellipse cx="495.5" cy="232.4" rx="4.4" ry="3.5" fill="#bebebe" fill-opacity="0.55"/>
<ellipse cx="501.3" cy="223.5" rx="4.4" ry="3.5" fill="#bebebe" fill-opacity="0.55"/>
<ellipse cx="504.7" cy="242.4" rx="4.8" ry="3.8" fill="#bebebe" fill-opacity="0.55"/>
<ellipse cx="516.9" cy="229.2" rx="4.7" ry="3.7" fill="#bebebe" fill-opacity="0.55"/>
<ellipse cx="496.6" cy="249.4" rx="4.8" ry="3.8" fill="#bebebe" fill-opacity="0.55"/>
<ellipse cx="501.5" cy="178.5" rx="4.7" ry="3.8" fill="#bebebe" fill-opacity="0.55"/>
<ellipse cx="500.5" cy="244.0" rx="5.2" ry="4.1" fill="#bebebe" fill-opacity="0.55"/>
<ellipse cx="511.7" cy="186.6" rx="5.1" ry="4.1" fill="#bebebe" fill-opacity="0.55"/>
<ellipse cx="513.3" cy="203.9" rx="4.4" ry="3.5" fill="#bebebe" fill-opacity="0.55"/>
<ellipse cx="515.0" cy="161.5" rx="4.6" ry="3.7" fill="#bebebe" fill-opacity="0.55"/>
<ellipse cx="512.3" cy="214.9" rx="4.9" ry="3.9" fill="#bebebe" fill-opacity="0.55"/>
<ellipse cx="510.5" cy="210.5" rx="4.5" ry="3.6" fill="#bebebe" fill-opacity="0.55"/>
<ellipse cx="514.5" cy="204.2" rx="5.4" ry="4.3" fill="#bebebe" fill-opacity="0.55"/>
<ellipse cx="513.8" cy="200.2" rx="4.4" ry="3.5" fill="#bebebe" fill-opacity="0.55"/>
<ellipse cx="510.3" cy="208.2" rx="5.1" ry="4.1" fill="#bebebe" fill-opacity="0.55"/>
<ellipse cx="518.9" cy="190.2" rx="4.9" ry="3.9" fill="#bebebe" fill-opacity="0.55"/>
<ellipse cx="515.0" cy="207.0" rx="5.4" ry="4.4" fill="#bebebe" fill-opacity="0.55"/>
<ellipse cx="516.2" cy="206.8" rx="5.3" ry="4.3" fill="#bebebe" fill-opacity="0.55"/>
<ellipse cx="512.8" cy="197.0" rx="5.5" ry="4.4" fill="#bebebe" fill-opacity="0.55"/>
<ellipse cx="515.1" cy="211.7" rx="4.6" ry="3.7" fill="#bebebe" fill-opacity="0.55"/>
<ellipse cx="514.8" cy="214.1" rx="4.9" ry="3.9" fill="#bebebe" fill-opacity="0.55"/>
<ellipse cx="513.1" cy="203.9" rx="4.8" ry="3.8" fill="#bebebe" fill-opacity="0.55"/>
<ellipse cx="516.8" cy="192.8" rx="5.1" ry="4.0" fill="#bebebe" fill-opacity="0.55"/>
<ellipse cx="517.1" cy="202.4" rx="5.5" ry="4.4" fill="#bebebe" fill-opacity="0.55"/>
<ellipse cx="511.9" cy="211.1" rx="5.6" ry="4.5" fill="#bebebe" fill-opacity="0.55"/>
<ellipse cx="516.6" cy="205.4" rx="5.6" ry="4.4" fill="#bebebe" fill-opacity="0.55"/>
<ellipse cx="518.2" cy="212.4" rx="5.0" ry="4.0" fill="#bebebe" fill-opacity="0.55"/>
<ellipse cx="515.1" cy="206.8" rx="5.0" ry="4.0" fill="#bebebe" fill-opacity="0.55"/>
<ellipse cx="518.6" cy="189.3" rx="4.4" ry="3.5" fill="#bebebe" fill-opacity="0.55"/>
<ellipse cx="515.1" cy="211.0" rx="5.3" ry="4.3" fill="#bebebe" fill-opacity="0.55"/>
<ellipse cx="513.9" cy="195.5" rx="4.5" ry="3.6" fill="#bebebe" fill-opacity="0.55"/>
<ellipse cx="514.6" cy="189.8" rx="4.4" ry="3.5" fill="#bebebe" fill-opacity="0.55"/>
<ellipse cx="514.9" cy="29.9" rx="7.0" ry="5.8" fill="#bebebe" fill-opacity="0.55"/>
<ellipse cx="512.2" cy="95.0" rx="7.0" ry="5.8" fill="#bebebe" fill-opacity="0.55"/>
<ellipse cx="498.7" cy="117.4" rx="6.5" ry="5.3" fill="#bebebe" fill-opacity="0.55"/>
<ellipse cx="511.3" cy="116.3" rx="6.5" ry="5.3" fill="#bebebe" fill-opacity="0.55"/>
<ellipse cx="503.1" cy="130.1" rx="6.0" ry="5.0" fill="#bebebe" fill-opacity="0.55"/>
<ellipse cx="516.2" cy="138.0" rx="6.0" ry="5.0" fill="#bebebe" fill-opacity="0.55"/>
<ellipse cx="503.1" cy="144.2" rx="6.0" ry="5.0" fill="#bebebe" fill-opacity="0.55"/>
<ellipse cx="515.3" cy="149.4" rx="6.0" ry="5.0" fill="#bebebe" fill-opacity="0.55"/>
<ellipse cx="515.3" cy="161.7" rx="5.5" ry="4.5" fill="#bebebe" fill-opacity="0.55"/>
<ellipse cx="515.3" cy="169.6" rx="5.5" ry="4.5" fill="#bebebe" fill-opacity="0.55"/>
<ellipse cx="503.1" cy="174.0" rx="5.5" ry="4.5" fill="#bebebe" fill-opacity="0.55"/>
<ellipse cx="500.4" cy="185.3" rx="5.5" ry="4.5" fill="#bebebe" fill-opacity="0.55"/>
<ellipse cx="501.3" cy="192.3" rx="5.5" ry="4.5" fill="#bebebe" fill-opacity="0.55"/>
<ellipse cx="515.3" cy="188.8" rx="5.5" ry="4.5" fill="#bebebe" fill-opacity="0.55"/>
<ellipse cx="443.6" cy="220.8" rx="5.0" ry="4.0" fill="#bebebe" fill-opacity="0.55"/>
<ellipse cx="455.2" cy="239.3" rx="4.6" ry="3.7" fill="#bebebe" fill-opacity="0.55"/>
<ellipse cx="471.5" cy="237.6" rx="5.0" ry="4.0" fill="#bebebe" fill-opacity="0.55"/>
<ellipse cx="476.8" cy="232.6" rx="5.0" ry="4.0" fill="#bebebe" fill-opacity="0.55"/>
<ellipse cx="478.5" cy="222.0" rx="5.0" ry="4.0" fill="#bebebe" fill-opacity="0.55"/>
<ellipse cx="536.4" cy="216.8" rx="5.0" ry="4.0" fill="#bebebe" fill-opacity="0.55"/>
<ellipse cx="544.8" cy="219.4" rx="5.0" ry="4.0" fill="#bebebe" fill-opacity="0.55"/>
<ellipse cx="537.2" cy="222.9" rx="5.0" ry="4.0" fill="#bebebe" fill-opacity="0.55"/>
<ellipse cx="529.3" cy="229.9" rx="5.0" ry="4.0" fill="#bebebe" fill-opacity="0.55"/>
<ellipse cx="539.9" cy="232.6" rx="5.0" ry="4.0" fill="#bebebe" fill-opacity="0.55"/>
<ellipse cx="546.9" cy="236.9" rx="5.0" ry="4.0" fill="#bebebe" fill-opacity="0.55"/>
<ellipse cx="555.6" cy="242.2" rx="5.0" ry="4.0" fill="#bebebe" fill-opacity="0.55"/>
<ellipse cx="542.5" cy="245.7" rx="5.0" ry="4.0" fill="#bebebe" fill-opacity="0.55"/>
<ellipse cx="589.1" cy="214.5" rx="5.4" ry="4.3" fill="#bebebe" fill-opacity="0.55"/>
<ellipse cx="612.1" cy="231.5" rx="5.4" ry="4.3" fill="#bebebe" fill-opacity="0.55"/>
<ellipse cx="593.2" cy="231.5" rx="5.0" ry="4.0" fill="#bebebe" fill-opacity="0.55"/>
<ellipse cx="568.9" cy="240.2" rx="4.6" ry="3.7" fill="#bebebe" fill-opacity="0.55"/>
<ellipse cx="564.8" cy="247.7" rx="4.2" ry="3.4" fill="#bebebe" fill-opacity="0.55"/>
<ellipse cx="555.4" cy="242.1" rx="4.6" ry="3.7" fill="#bebebe" fill-opacity="0.55"/>
<ellipse cx="543.2" cy="237.5" rx="4.6" ry="3.7" fill="#bebebe" fill-opacity="0.55"/>
<ellipse cx="504.2" cy="148.6" rx="5.5" ry="4.5" fill="#bebebe" fill-opacity="0.55"/>
<ellipse cx="502.9" cy="160.0" rx="5.5" ry="4.5" fill="#bebebe" fill-opacity="0.55"/>
<ellipse cx="513.0" cy="178.0" rx="5.5" ry="4.5" fill="#bebebe" fill-opacity="0.55"/>
<ellipse cx="483.0" cy="228.0" rx="5.0" ry="4.0" fill="#bebebe" fill-opacity="0.55"/>
<ellipse cx="487.0" cy="236.0" rx="5.0" ry="4.0" fill="#bebebe" fill-opacity="0.55"/>
<ellipse cx="528.0" cy="240.0" rx="5.0" ry="4.0" fill="#bebebe" fill-opacity="0.55"/>
<ellipse cx="533.0" cy="244.0" rx="5.0" ry="4.0" fill="#bebebe" fill-opacity="0.55"/>
<ellipse cx="490.0" cy="246.0" rx="5.0" ry="4.0" fill="#bebebe" fill-opacity="0.55"/>
<ellipse cx="525.0" cy="248.0" rx="5.0" ry="4.0" fill="#bebebe" fill-opacity="0.55"/>
<ellipse cx="462.0" cy="234.0" rx="4.6" ry="3.7" fill="#bebebe" fill-opacity="0.55"/>
<ellipse cx="466.0" cy="242.0" rx="4.6" ry="3.7" fill="#bebebe" fill-opacity="0.55"/>
<ellipse cx="502.0" cy="160.0" rx="5.5" ry="4.5" fill="#bebebe" fill-opacity="0.55"/>
<ellipse cx="503.0" cy="168.0" rx="5.5" ry="4.5" fill="#bebebe" fill-opacity="0.55"/>
<ellipse cx="514.0" cy="165.0" rx="5.5" ry="4.5" fill="#bebebe" fill-opacity="0.55"/>
<ellipse cx="513.0" cy="155.0" rx="5.5" ry="4.5" fill="#bebebe" fill-opacity="0.55"/>
<ellipse cx="500.0" cy="178.0" rx="5.5" ry="4.5" fill="#bebebe" fill-opacity="0.55"/>
<ellipse cx="514.0" cy="172.0" rx="5.5" ry="4.5" fill="#bebebe" fill-opacity="0.55"/>
<ellipse cx="471.2" cy="238.0" rx="4.8" ry="3.9" fill="#bebebe" fill-opacity="0.55"/>
<ellipse cx="475.0" cy="232.0" rx="5.0" ry="4.0" fill="#bebebe" fill-opacity="0.55"/>
<ellipse cx="478.0" cy="226.0" rx="5.0" ry="4.0" fill="#bebebe" fill-opacity="0.55"/>
<ellipse cx="483.0" cy="218.0" rx="5.0" ry="4.0" fill="#bebebe" fill-opacity="0.55"/>
<ellipse cx="487.0" cy="240.0" rx="5.0" ry="4.0" fill="#bebebe" fill-opacity="0.55"/>
<ellipse cx="480.0" cy="245.0" rx="4.6" ry="3.7" fill="#bebebe" fill-opacity="0.55"/>
<ellipse cx="485.0" cy="248.0" rx="4.6" ry="3.7" fill="#bebebe" fill-opacity="0.55"/>
<ellipse cx="535.0" cy="220.0" rx="5.0" ry="4.0" fill="#bebebe" fill-opacity="0.55"/>
<ellipse cx="538.0" cy="228.0" rx="5.0" ry="4.0" fill="#bebebe" fill-opacity="0.55"/>
<ellipse cx="543.0" cy="236.0" rx="5.0" ry="4.0" fill="#bebebe" fill-opacity="0.55"/>
<ellipse cx="547.0" cy="242.0" rx="5.0" ry="4.0" fill="#bebebe" fill-opacity="0.55"/>
<ellipse cx="530.0" cy="238.0" rx="5.0" ry="4.0" fill="#bebebe" fill-opacity="0.55"/>
<ellipse cx="527.0" cy="228.0" rx="5.0" ry="4.0" fill="#bebebe" fill-opacity="0.55"/>
<ellipse cx="524.0" cy="248.0" rx="5.0" ry="4.0" fill="#bebebe" fill-opacity="0.55"/>
<ellipse cx="518.0" cy="250.0" rx="5.0" ry="4.0" fill="#bebebe" fill-opacity="0.55"/>
<ellipse cx="500.0" cy="200.0" rx="5.0" ry="4.0" fill="#bebebe" fill-opacity="0.55"/>
<ellipse cx="517.0" cy="205.0" rx="5.0" ry="4.0" fill="#bebebe" fill-opacity="0.55"/>
<ellipse cx="498.0" cy="192.0" rx="5.0" ry="4.0" fill="#bebebe" fill-opacity="0.55"/>
<ellipse cx="515.0" cy="193.0" rx="5.0" ry="4.0" fill="#bebebe" fill-opacity="0.55"/>
<ellipse cx="485.9" cy="47.7" rx="7.0" ry="5.8" fill="#00ff00" fill-opacity="0.5"/>
<ellipse cx="487.7" cy="107.4" rx="6.8" ry="5.6" fill="#00ff00" fill-opacity="0.5"/>
<ellipse cx="492.4" cy="131.5" rx="6.5" ry="5.3" fill="#00ff00" fill-opacity="0.5"/>
<ellipse cx="496.3" cy="132.8" rx="6.2" ry="5.0" fill="#00ff00" fill-opacity="0.5"/>
<ellipse cx="494.3" cy="136.3" rx="6.0" ry="5.0" fill="#00ff00" fill-opacity="0.5"/>
<ellipse cx="493.7" cy="143.4" rx="6.5" ry="5.3" fill="#00ff00" fill-opacity="0.5"/>
<ellipse cx="493.7" cy="161.7" rx="6.5" ry="5.3" fill="#00ff00" fill-opacity="0.5"/>
<ellipse cx="496.0" cy="164.0" rx="6.0" ry="5.0" fill="#00ff00" fill-opacity="0.5"/>
<ellipse cx="491.1" cy="168.3" rx="6.5" ry="5.3" fill="#00ff00" fill-opacity="0.5"/>
<ellipse cx="496.0" cy="168.0" rx="6.0" ry="5.0" fill="#00ff00" fill-opacity="0.5"/>
<ellipse cx="495.0" cy="173.6" rx="6.5" ry="5.3" fill="#00ff00" fill-opacity="0.5"/>
<ellipse cx="491.1" cy="178.8" rx="6.2" ry="5.0" fill="#00ff00" fill-opacity="0.5"/>
<ellipse cx="494.3" cy="180.0" rx="6.0" ry="5.0" fill="#00ff00" fill-opacity="0.5"/>
<ellipse cx="487.1" cy="192.0" rx="6.2" ry="5.0" fill="#00ff00" fill-opacity="0.5"/>
<ellipse cx="484.5" cy="199.8" rx="6.5" ry="5.3" fill="#00ff00" fill-opacity="0.5"/>
<ellipse cx="491.1" cy="203.8" rx="6.2" ry="5.0" fill="#00ff00" fill-opacity="0.5"/>
<ellipse cx="494.3" cy="206.3" rx="6.0" ry="5.0" fill="#00ff00" fill-opacity="0.5"/>
<ellipse cx="485.9" cy="212.4" rx="6.2" ry="5.0" fill="#00ff00" fill-opacity="0.5"/>
<ellipse cx="489.0" cy="181.0" rx="6.0" ry="5.0" fill="#00ff00" fill-opacity="0.5"/>
<ellipse cx="529.7" cy="47.5" rx="7.0" ry="5.8" fill="#ff0000" fill-opacity="0.5"/>
<ellipse cx="533.7" cy="60.3" rx="7.0" ry="5.8" fill="#ff0000" fill-opacity="0.5"/>
<ellipse cx="526.2" cy="76.9" rx="6.8" ry="5.6" fill="#ff0000" fill-opacity="0.5"/>
<ellipse cx="528.5" cy="94.5" rx="6.8" ry="5.6" fill="#ff0000" fill-opacity="0.5"/>
<ellipse cx="532.9" cy="98.5" rx="6.5" ry="5.3" fill="#ff0000" fill-opacity="0.5"/>
<ellipse cx="521.5" cy="101.5" rx="6.5" ry="5.3" fill="#ff0000" fill-opacity="0.5"/>
<ellipse cx="557.5" cy="125.8" rx="6.8" ry="5.6" fill="#ff0000" fill-opacity="0.5"/>
<ellipse cx="524.1" cy="114.8" rx="6.5" ry="5.3" fill="#ff0000" fill-opacity="0.5"/>
<ellipse cx="523.3" cy="123.0" rx="6.5" ry="5.3" fill="#ff0000" fill-opacity="0.5"/>
<ellipse cx="528.4" cy="135.4" rx="6.8" ry="5.6" fill="#ff0000" fill-opacity="0.5"/>
<ellipse cx="521.6" cy="144.3" rx="6.2" ry="5.0" fill="#ff0000" fill-opacity="0.5"/>
<ellipse cx="521.6" cy="156.5" rx="6.2" ry="5.0" fill="#ff0000" fill-opacity="0.5"/>
<ellipse cx="535.1" cy="157.3" rx="6.5" ry="5.3" fill="#ff0000" fill-opacity="0.5"/>
<ellipse cx="539.2" cy="158.3" rx="6.5" ry="5.3" fill="#ff0000" fill-opacity="0.5"/>
<ellipse cx="547.3" cy="163.2" rx="6.5" ry="5.3" fill="#ff0000" fill-opacity="0.5"/>
<ellipse cx="525.7" cy="163.2" rx="6.2" ry="5.0" fill="#ff0000" fill-opacity="0.5"/>
<ellipse cx="523.0" cy="167.3" rx="6.2" ry="5.0" fill="#ff0000" fill-opacity="0.5"/>
<ellipse cx="593.2" cy="164.6" rx="6.8" ry="5.6" fill="#ff0000" fill-opacity="0.5"/>
<ellipse cx="586.4" cy="171.8" rx="6.8" ry="5.6" fill="#ff0000" fill-opacity="0.5"/>
<ellipse cx="518.9" cy="175.4" rx="6.0" ry="5.0" fill="#ff0000" fill-opacity="0.5"/>
<ellipse cx="524.3" cy="183.5" rx="6.2" ry="5.0" fill="#ff0000" fill-opacity="0.5"/>
<ellipse cx="525.7" cy="191.6" rx="6.2" ry="5.0" fill="#ff0000" fill-opacity="0.5"/>
<ellipse cx="534.6" cy="180.8" rx="6.5" ry="5.3" fill="#ff0000" fill-opacity="0.5"/>
<ellipse cx="544.6" cy="195.6" rx="6.5" ry="5.3" fill="#ff0000" fill-opacity="0.5"/>
<ellipse cx="582.4" cy="203.7" rx="6.5" ry="5.3" fill="#ff0000" fill-opacity="0.5"/>
<ellipse cx="525.7" cy="203.2" rx="6.2" ry="5.0" fill="#ff0000" fill-opacity="0.5"/>
<ellipse cx="524.3" cy="209.1" rx="6.2" ry="5.0" fill="#ff0000" fill-opacity="0.5"/>
<ellipse cx="543.7" cy="210.5" rx="6.5" ry="5.3" fill="#ff0000" fill-opacity="0.5"/>
<ellipse cx="522.3" cy="181.0" rx="6.0" ry="5.0" fill="#ff0000" fill-opacity="0.5"/>
<ellipse cx="519.7" cy="170.4" rx="6.0" ry="5.0" fill="#ff0000" fill-opacity="0.5"/>
<ellipse cx="517.1" cy="181.8" rx="6.0" ry="5.0" fill="#ff0000" fill-opacity="0.5"/>
<ellipse cx="524.1" cy="192.3" rx="6.0" ry="5.0" fill="#ff0000" fill-opacity="0.5"/>
<ellipse cx="522.0" cy="186.0" rx="6.0" ry="5.0" fill="#ff0000" fill-opacity="0.5"/>
</g>
<rect x="393.6" y="19.4" width="229.29999999999995" height="240.79999999999998" fill="none" stroke="#6e6e6e" stroke-width="1.45"/>
<line x1="404.7" y1="260.2" x2="404.7" y2="262.8" stroke="#6e6e6e" stroke-width="1"/>
<text transform="translate(404.70,270.70) scale(1.15,1)" font-size="7.3" text-anchor="middle" fill="#4d4d4d" font-family="Liberation Sans" stroke="#4d4d4d" stroke-width="0.2">−6</text>
<line x1="455.9" y1="260.2" x2="455.9" y2="262.8" stroke="#6e6e6e" stroke-width="1"/>
<text transform="translate(455.90,270.70) scale(1.15,1)" font-size="7.3" text-anchor="middle" fill="#4d4d4d" font-family="Liberation Sans" stroke="#4d4d4d" stroke-width="0.2">−3</text>
<line x1="507.9" y1="260.2" x2="507.9" y2="262.8" stroke="#6e6e6e" stroke-width="1"/>
<text transform="translate(507.90,270.70) scale(1.15,1)" font-size="7.3" text-anchor="middle" fill="#4d4d4d" font-family="Liberation Sans" stroke="#4d4d4d" stroke-width="0.2">0</text>
<line x1="559.5" y1="260.2" x2="559.5" y2="262.8" stroke="#6e6e6e" stroke-width="1"/>
<text transform="translate(559.50,270.70) scale(1.15,1)" font-size="7.3" text-anchor="middle" fill="#4d4d4d" font-family="Liberation Sans" stroke="#4d4d4d" stroke-width="0.2">3</text>
<line x1="611.5" y1="260.2" x2="611.5" y2="262.8" stroke="#6e6e6e" stroke-width="1"/>
<text transform="translate(611.50,270.70) scale(1.15,1)" font-size="7.3" text-anchor="middle" fill="#4d4d4d" font-family="Liberation Sans" stroke="#4d4d4d" stroke-width="0.2">6</text>
<line x1="391.0" y1="249.8" x2="393.6" y2="249.8" stroke="#6e6e6e" stroke-width="1"/>
<text transform="translate(388.80,252.60) scale(1.1,1)" font-size="7.7" text-anchor="end" fill="#4d4d4d" font-family="Liberation Sans" stroke="#4d4d4d" stroke-width="0.2">0</text>
<line x1="391.0" y1="194.3" x2="393.6" y2="194.3" stroke="#6e6e6e" stroke-width="1"/>
<text transform="translate(388.80,197.10) scale(1.1,1)" font-size="7.7" text-anchor="end" fill="#4d4d4d" font-family="Liberation Sans" stroke="#4d4d4d" stroke-width="0.2">2</text>
<line x1="391.0" y1="138.7" x2="393.6" y2="138.7" stroke="#6e6e6e" stroke-width="1"/>
<text transform="translate(388.80,141.50) scale(1.1,1)" font-size="7.7" text-anchor="end" fill="#4d4d4d" font-family="Liberation Sans" stroke="#4d4d4d" stroke-width="0.2">4</text>
<line x1="391.0" y1="83.3" x2="393.6" y2="83.3" stroke="#6e6e6e" stroke-width="1"/>
<text transform="translate(388.80,86.10) scale(1.1,1)" font-size="7.7" text-anchor="end" fill="#4d4d4d" font-family="Liberation Sans" stroke="#4d4d4d" stroke-width="0.2">6</text>
<line x1="391.0" y1="27.8" x2="393.6" y2="27.8" stroke="#6e6e6e" stroke-width="1"/>
<text transform="translate(388.80,30.60) scale(1.1,1)" font-size="7.7" text-anchor="end" fill="#4d4d4d" font-family="Liberation Sans" stroke="#4d4d4d" stroke-width="0.2">8</text>
<text transform="translate(393.60,12.30) scale(1.086,1)" font-size="11.5" text-anchor="start" fill="#1a1a1a" font-family="Liberation Sans" stroke="#1a1a1a" stroke-width="0.15">patients.vs.control</text>
<text transform="translate(507.90,281.00) scale(1.12,1)" font-size="9.4" text-anchor="middle" fill="#1a1a1a" font-family="Liberation Sans" stroke="#1a1a1a" stroke-width="0.15">log2(Fold Change)</text>
<text transform="translate(378.50,140.00) scale(1.12,1) rotate(-90)" font-size="9.18" text-anchor="middle" fill="#1a1a1a" stroke="#1a1a1a" stroke-width="0.15" font-family="Liberation Sans">−log10(P−value)</text>
<text transform="translate(639.00,88.20) scale(1.1,1)" font-size="9.6" text-anchor="start" fill="#1a1a1a" font-family="Liberation Sans">VIP</text>
<ellipse cx="647.0" cy="101.3" rx="4.7" ry="3.9" fill="#000"/>
<text transform="translate(660.80,103.80) scale(1.1,1)" font-size="7" text-anchor="start" fill="#1a1a1a" font-family="Liberation Sans">1</text>
<ellipse cx="647.0" cy="116.1" rx="6.3" ry="5.3" fill="#000"/>
<text transform="translate(660.80,118.60) scale(1.1,1)" font-size="7" text-anchor="start" fill="#1a1a1a" font-family="Liberation Sans">2</text>
<text transform="translate(639.00,149.40) scale(1.1,1)" font-size="9.6" text-anchor="start" fill="#1a1a1a" font-family="Liberation Sans">DE_Meta</text>
<ellipse cx="647.0" cy="162.4" rx="2.4" ry="2.0" fill="#ff0000"/>
<text transform="translate(660.70,164.90) scale(1.1,1)" font-size="7" text-anchor="start" fill="#1a1a1a" font-family="Liberation Sans">UP</text>
<ellipse cx="647.0" cy="177.0" rx="2.4" ry="2.0" fill="#00ff00"/>
<text transform="translate(660.70,179.50) scale(1.1,1)" font-size="7" text-anchor="start" fill="#1a1a1a" font-family="Liberation Sans">DW</text>
<ellipse cx="647.0" cy="191.6" rx="2.4" ry="2.0" fill="#bebebe"/>
<text transform="translate(660.70,194.10) scale(1.1,1)" font-size="7" text-anchor="start" fill="#1a1a1a" font-family="Liberation Sans">NoDiff</text>
<rect x="28.60" y="298.20" width="280.20" height="216.80" fill="rgb(235, 235, 255)"/>
<g transform="translate(28.60,298.20) scale(4.3781,2.0074)" shape-rendering="crispEdges">
<path fill="#dfdfff" d="M0 0h1v1h-1zM2 0h1v1h-1zM4 0h1v1h-1zM10 0h1v1h-1zM15 0h1v1h-1zM28 0h1v1h-1zM30 0h1v1h-1zM32 0h1v1h-1zM44 0h1v1h-1zM59 0h1v1h-1zM3 1h2v1h-2zM13 1h1v1h-1zM17 1h3v1h-3zM22 1h1v1h-1zM24 1h1v1h-1zM32 1h1v1h-1zM37 1h1v1h-1zM53 1h1v1h-1zM1 2h1v1h-1zM20 2h1v1h-1zM23 2h1v1h-1zM25 2h1v1h-1zM27 2h1v1h-1zM32 2h1v1h-1zM34 2h1v1h-1zM36 2h1v1h-1zM44 2h2v1h-2zM3 3h1v1h-1zM5 3h1v1h-1zM17 3h3v1h-3zM24 3h1v1h-1zM28 3h1v1h-1zM30 3h1v1h-1zM38 3h2v1h-2zM47 3h1v1h-1zM0 4h1v1h-1zM3 4h1v1h-1zM8 4h2v1h-2zM15 4h1v1h-1zM18 4h1v1h-1zM21 4h1v1h-1zM31 4h1v1h-1zM37 4h1v1h-1zM43 4h1v1h-1zM45 4h1v1h-1zM47 4h1v1h-1zM53 4h1v1h-1zM1 5h1v1h-1zM4 5h1v1h-1zM7 5h2v1h-2zM11 5h1v1h-1zM14 5h2v1h-2zM18 5h1v1h-1zM20 5h1v1h-1zM22 5h1v1h-1zM25 5h1v1h-1zM32 5h1v1h-1zM35 5h1v1h-1zM39 5h1v1h-1zM63 5h1v1h-1zM5 6h1v1h-1zM11 6h1v1h-1zM15 6h1v1h-1zM17 6h1v1h-1zM23 6h1v1h-1zM26 6h2v1h-2zM33 6h1v1h-1zM35 6h1v1h-1zM37 6h1v1h-1zM39 6h1v1h-1zM42 6h1v1h-1zM47 6h1v1h-1zM0 7h2v1h-2zM4 7h4v1h-4zM11 7h1v1h-1zM14 7h1v1h-1zM18 7h1v1h-1zM24 7h1v1h-1zM26 7h1v1h-1zM31 7h1v1h-1zM33 7h1v1h-1zM38 7h1v1h-1zM42 7h1v1h-1zM1 8h1v1h-1zM4 8h1v1h-1zM8 8h1v1h-1zM24 8h1v1h-1zM30 8h1v1h-1zM33 8h1v1h-1zM8 9h1v1h-1zM10 9h1v1h-1zM15 9h1v1h-1zM18 9h1v1h-1zM32 9h1v1h-1zM0 10h1v1h-1zM6 10h1v1h-1zM30 10h1v1h-1zM35 10h1v1h-1zM37 10h1v1h-1zM4 11h1v1h-1zM8 11h1v1h-1zM23 11h1v1h-1zM33 11h1v1h-1zM6 12h1v1h-1zM9 12h1v1h-1zM13 12h1v1h-1zM19 12h1v1h-1zM23 12h2v1h-2zM28 12h1v1h-1zM30 12h1v1h-1zM39 12h1v1h-1zM4 13h1v1h-1zM20 13h1v1h-1zM24 13h1v1h-1zM28 13h1v1h-1zM32 13h1v1h-1zM40 13h1v1h-1zM0 14h1v1h-1zM3 14h1v1h-1zM5 14h2v1h-2zM13 14h1v1h-1zM19 14h1v1h-1zM21 14h1v1h-1zM25 14h1v1h-1zM28 14h1v1h-1zM30 14h1v1h-1zM37 14h1v1h-1zM39 14h2v1h-2zM42 14h1v1h-1zM45 14h1v1h-1zM63 14h1v1h-1zM18 15h1v1h-1zM28 15h1v1h-1zM31 15h1v1h-1zM40 15h1v1h-1zM0 17h1v1h-1zM3 17h2v1h-2zM9 17h3v1h-3zM13 17h1v1h-1zM22 17h1v1h-1zM31 17h2v1h-2zM37 17h2v1h-2zM40 17h1v1h-1zM43 17h1v1h-1zM46 17h1v1h-1zM1 18h2v1h-2zM6 18h1v1h-1zM13 18h1v1h-1zM15 18h1v1h-1zM17 18h1v1h-1zM22 18h1v1h-1zM31 18h1v1h-1zM33 18h2v1h-2zM38 18h1v1h-1zM40 18h1v1h-1zM42 18h1v1h-1zM44 18h2v1h-2zM47 18h1v1h-1zM28 19h1v1h-1zM39 19h1v1h-1zM3 20h1v1h-1zM17 20h2v1h-2zM23 20h2v1h-2zM31 20h1v1h-1zM39 20h1v1h-1zM43 21h1v1h-1zM45 21h1v1h-1zM28 22h1v1h-1zM32 22h1v1h-1zM37 22h1v1h-1zM43 22h1v1h-1zM0 23h4v1h-4zM5 23h1v1h-1zM12 23h1v1h-1zM17 23h1v1h-1zM20 23h1v1h-1zM22 23h2v1h-2zM28 23h1v1h-1zM30 23h2v1h-2zM33 23h1v1h-1zM39 23h1v1h-1zM42 23h1v1h-1zM44 23h1v1h-1zM46 23h1v1h-1zM30 24h1v1h-1zM20 25h1v1h-1zM39 25h1v1h-1zM41 25h1v1h-1zM47 25h1v1h-1zM49 25h1v1h-1zM4 26h1v1h-1zM9 26h1v1h-1zM19 26h1v1h-1zM30 26h2v1h-2zM34 26h1v1h-1zM39 26h1v1h-1zM47 26h1v1h-1zM4 27h1v1h-1zM12 27h1v1h-1zM17 27h1v1h-1zM20 27h2v1h-2zM33 27h1v1h-1zM40 27h1v1h-1zM42 27h1v1h-1zM0 28h1v1h-1zM8 28h2v1h-2zM15 28h1v1h-1zM22 28h1v1h-1zM25 28h1v1h-1zM28 28h1v1h-1zM32 28h1v1h-1zM34 28h1v1h-1zM37 28h2v1h-2zM41 28h1v1h-1zM43 28h1v1h-1zM56 28h1v1h-1zM1 29h1v1h-1zM7 29h1v1h-1zM14 29h2v1h-2zM19 29h1v1h-1zM22 29h1v1h-1zM25 29h1v1h-1zM28 29h1v1h-1zM30 29h2v1h-2zM33 29h1v1h-1zM36 29h1v1h-1zM38 29h3v1h-3zM42 29h1v1h-1zM46 29h1v1h-1zM55 29h1v1h-1zM3 30h1v1h-1zM6 30h1v1h-1zM9 30h1v1h-1zM11 30h1v1h-1zM15 30h1v1h-1zM18 30h2v1h-2zM28 30h2v1h-2zM39 30h1v1h-1zM42 30h1v1h-1zM45 30h2v1h-2zM49 30h1v1h-1zM4 31h3v1h-3zM9 31h1v1h-1zM13 31h1v1h-1zM28 31h1v1h-1zM31 31h1v1h-1zM35 31h1v1h-1zM45 31h1v1h-1zM49 31h1v1h-1zM9 32h1v1h-1zM28 32h1v1h-1zM32 32h3v1h-3zM39 32h1v1h-1zM45 32h1v1h-1zM5 33h1v1h-1zM8 33h2v1h-2zM14 33h1v1h-1zM17 33h2v1h-2zM28 33h1v1h-1zM32 33h1v1h-1zM45 33h1v1h-1zM6 34h1v1h-1zM15 34h1v1h-1zM18 34h1v1h-1zM29 34h2v1h-2zM39 34h1v1h-1zM43 34h1v1h-1zM51 34h1v1h-1zM6 35h1v1h-1zM9 35h1v1h-1zM32 35h1v1h-1zM34 35h1v1h-1zM4 36h2v1h-2zM8 36h2v1h-2zM15 36h1v1h-1zM17 36h2v1h-2zM22 36h1v1h-1zM27 36h1v1h-1zM29 36h1v1h-1zM33 36h1v1h-1zM35 36h1v1h-1zM39 36h1v1h-1zM44 36h1v1h-1zM47 36h1v1h-1zM22 37h1v1h-1zM30 37h1v1h-1zM33 37h1v1h-1zM35 37h1v1h-1zM40 37h1v1h-1zM9 38h1v1h-1zM23 38h1v1h-1zM29 38h1v1h-1zM31 38h1v1h-1zM33 38h1v1h-1zM40 38h1v1h-1zM3 39h2v1h-2zM6 39h1v1h-1zM8 39h1v1h-1zM14 39h1v1h-1zM19 39h3v1h-3zM30 39h1v1h-1zM33 39h1v1h-1zM39 39h3v1h-3zM1 40h1v1h-1zM3 40h1v1h-1zM8 40h1v1h-1zM11 40h1v1h-1zM13 40h2v1h-2zM16 40h2v1h-2zM19 40h1v1h-1zM25 40h1v1h-1zM27 40h1v1h-1zM34 40h2v1h-2zM38 40h1v1h-1zM41 40h2v1h-2zM47 40h1v1h-1zM1 41h1v1h-1zM3 41h2v1h-2zM10 41h2v1h-2zM14 41h1v1h-1zM17 41h1v1h-1zM21 41h1v1h-1zM26 41h4v1h-4zM33 41h1v1h-1zM41 41h1v1h-1zM43 41h2v1h-2zM46 41h2v1h-2zM54 41h1v1h-1zM0 42h1v1h-1zM5 42h3v1h-3zM15 42h1v1h-1zM25 42h1v1h-1zM28 42h1v1h-1zM35 42h1v1h-1zM40 42h1v1h-1zM0 43h2v1h-2zM6 43h1v1h-1zM15 43h1v1h-1zM30 43h1v1h-1zM34 43h2v1h-2zM37 43h1v1h-1zM39 43h1v1h-1zM42 43h1v1h-1zM45 43h1v1h-1zM3 44h1v1h-1zM8 44h1v1h-1zM0 45h1v1h-1zM3 45h1v1h-1zM8 45h1v1h-1zM10 45h3v1h-3zM16 45h2v1h-2zM19 45h1v1h-1zM32 45h1v1h-1zM34 45h1v1h-1zM37 45h1v1h-1zM39 45h2v1h-2zM42 45h1v1h-1zM44 45h1v1h-1zM46 45h2v1h-2zM58 45h1v1h-1zM9 46h2v1h-2zM20 46h1v1h-1zM28 46h1v1h-1zM35 46h1v1h-1zM40 46h1v1h-1zM47 46h1v1h-1zM0 47h1v1h-1zM17 47h1v1h-1zM21 47h1v1h-1zM23 47h1v1h-1zM30 47h2v1h-2zM35 47h1v1h-1zM40 47h1v1h-1zM45 47h1v1h-1zM4 48h2v1h-2zM10 48h2v1h-2zM15 48h1v1h-1zM19 48h2v1h-2zM28 48h1v1h-1zM30 48h3v1h-3zM35 48h1v1h-1zM37 48h3v1h-3zM44 48h1v1h-1zM49 48h1v1h-1zM2 49h2v1h-2zM6 49h1v1h-1zM11 49h2v1h-2zM14 49h1v1h-1zM20 49h1v1h-1zM25 49h2v1h-2zM30 49h2v1h-2zM35 49h2v1h-2zM40 49h1v1h-1zM50 49h1v1h-1zM11 50h1v1h-1zM15 50h1v1h-1zM20 50h1v1h-1zM38 50h1v1h-1zM47 50h1v1h-1zM15 53h1v1h-1zM40 53h3v1h-3zM50 53h1v1h-1zM28 54h1v1h-1zM32 54h1v1h-1zM32 58h1v1h-1zM3 60h1v1h-1zM31 62h1v1h-1zM40 62h1v1h-1zM43 62h1v1h-1zM51 62h1v1h-1zM60 62h1v1h-1zM63 62h1v1h-1zM3 63h1v1h-1zM19 63h1v1h-1zM32 63h1v1h-1zM50 63h1v1h-1zM52 63h1v1h-1zM53 66h1v1h-1zM4 68h1v1h-1zM9 68h1v1h-1zM19 68h1v1h-1zM30 68h1v1h-1zM32 68h1v1h-1zM42 68h1v1h-1zM50 68h2v1h-2zM54 68h1v1h-1zM59 68h1v1h-1zM63 68h1v1h-1zM30 69h1v1h-1zM33 69h1v1h-1zM40 69h1v1h-1zM55 69h1v1h-1zM8 70h1v1h-1zM26 70h1v1h-1zM18 73h1v1h-1zM8 75h1v1h-1zM28 75h1v1h-1zM30 76h1v1h-1zM32 76h1v1h-1zM53 76h1v1h-1zM32 77h1v1h-1zM45 79h1v1h-1zM19 80h1v1h-1zM42 80h1v1h-1zM44 80h1v1h-1zM63 80h1v1h-1zM19 81h1v1h-1zM47 81h1v1h-1zM1 82h1v1h-1zM3 82h1v1h-1zM19 82h2v1h-2zM32 82h1v1h-1zM34 82h1v1h-1zM39 82h1v1h-1zM47 82h2v1h-2zM53 82h1v1h-1zM55 82h1v1h-1zM59 82h1v1h-1zM63 82h1v1h-1zM4 85h1v1h-1zM3 87h1v1h-1zM30 87h1v1h-1zM43 87h1v1h-1zM53 87h1v1h-1zM55 87h1v1h-1zM30 92h1v1h-1zM45 92h1v1h-1zM57 92h1v1h-1zM0 93h1v1h-1zM4 93h1v1h-1zM10 93h2v1h-2zM21 93h2v1h-2zM28 93h1v1h-1zM31 93h2v1h-2zM34 93h1v1h-1zM37 93h1v1h-1zM39 93h1v1h-1zM45 93h1v1h-1zM47 93h1v1h-1zM51 93h1v1h-1zM58 93h1v1h-1zM23 95h1v1h-1zM5 96h1v1h-1zM32 96h1v1h-1zM41 96h1v1h-1zM47 96h1v1h-1zM51 96h1v1h-1zM53 96h1v1h-1zM55 96h1v1h-1zM57 96h3v1h-3zM33 98h1v1h-1zM35 98h1v1h-1zM40 98h1v1h-1zM42 98h1v1h-1zM53 98h1v1h-1zM59 98h2v1h-2zM22 102h1v1h-1zM49 102h1v1h-1zM51 102h1v1h-1zM3 103h1v1h-1zM21 103h1v1h-1zM28 103h1v1h-1zM32 103h1v1h-1zM37 103h1v1h-1zM43 103h1v1h-1zM45 103h1v1h-1zM47 103h1v1h-1zM53 103h1v1h-1zM58 103h1v1h-1zM63 103h1v1h-1zM19 104h1v1h-1zM47 104h1v1h-1zM53 104h1v1h-1zM14 105h1v1h-1zM19 105h1v1h-1zM21 105h1v1h-1zM24 105h1v1h-1zM31 105h1v1h-1zM34 105h2v1h-2zM47 105h1v1h-1zM51 105h1v1h-1zM57 105h1v1h-1zM4 107h3v1h-3zM13 107h1v1h-1zM18 107h1v1h-1zM21 107h1v1h-1zM28 107h1v1h-1zM30 107h1v1h-1zM32 107h1v1h-1zM37 107h1v1h-1zM50 107h2v1h-2zM55 107h1v1h-1zM59 107h1v1h-1z"/>
<path fill="#f7f7ff" d="M1 0h1v1h-1zM6 0h2v1h-2zM16 0h1v1h-1zM36 0h1v1h-1zM40 0h1v1h-1zM42 0h1v1h-1zM50 0h1v1h-1zM55 0h1v1h-1zM63 0h1v1h-1zM6 1h1v1h-1zM11 1h1v1h-1zM31 1h1v1h-1zM41 1h1v1h-1zM48 1h1v1h-1zM55 1h1v1h-1zM16 2h1v1h-1zM35 2h1v1h-1zM41 2h1v1h-1zM46 2h1v1h-1zM50 2h2v1h-2zM54 2h2v1h-2zM63 2h1v1h-1zM2 3h1v1h-1zM11 3h1v1h-1zM57 3h1v1h-1zM6 4h1v1h-1zM20 4h1v1h-1zM25 4h1v1h-1zM36 4h1v1h-1zM42 4h1v1h-1zM46 4h1v1h-1zM48 4h1v1h-1zM51 4h1v1h-1zM56 4h1v1h-1zM58 4h1v1h-1zM12 5h1v1h-1zM56 5h1v1h-1zM61 5h1v1h-1zM6 6h1v1h-1zM48 6h1v1h-1zM52 6h1v1h-1zM62 6h1v1h-1zM13 7h1v1h-1zM21 7h1v1h-1zM36 7h1v1h-1zM48 7h1v1h-1zM52 7h2v1h-2zM6 8h1v1h-1zM10 8h1v1h-1zM13 8h1v1h-1zM16 8h1v1h-1zM18 8h1v1h-1zM25 8h1v1h-1zM38 8h1v1h-1zM51 8h1v1h-1zM58 8h1v1h-1zM1 9h1v1h-1zM14 9h1v1h-1zM23 9h1v1h-1zM30 9h1v1h-1zM36 9h3v1h-3zM40 9h3v1h-3zM45 9h1v1h-1zM2 10h1v1h-1zM8 10h2v1h-2zM11 10h1v1h-1zM22 10h1v1h-1zM31 10h1v1h-1zM39 10h1v1h-1zM43 10h1v1h-1zM46 10h1v1h-1zM49 10h1v1h-1zM51 10h1v1h-1zM1 11h3v1h-3zM6 11h1v1h-1zM13 11h1v1h-1zM15 11h1v1h-1zM17 11h1v1h-1zM25 11h2v1h-2zM29 11h1v1h-1zM34 11h1v1h-1zM46 11h1v1h-1zM2 12h1v1h-1zM7 12h1v1h-1zM10 12h1v1h-1zM12 12h1v1h-1zM14 12h2v1h-2zM17 12h1v1h-1zM21 12h1v1h-1zM25 12h2v1h-2zM36 12h1v1h-1zM44 12h1v1h-1zM48 12h1v1h-1zM52 12h2v1h-2zM58 12h1v1h-1zM7 13h1v1h-1zM25 13h1v1h-1zM29 13h1v1h-1zM34 13h1v1h-1zM49 13h2v1h-2zM54 13h1v1h-1zM60 13h1v1h-1zM1 14h1v1h-1zM14 14h2v1h-2zM23 14h1v1h-1zM26 14h1v1h-1zM33 14h1v1h-1zM46 14h1v1h-1zM58 14h2v1h-2zM0 15h1v1h-1zM12 15h1v1h-1zM23 15h1v1h-1zM25 15h1v1h-1zM29 15h1v1h-1zM36 15h1v1h-1zM42 15h1v1h-1zM53 15h1v1h-1zM58 15h2v1h-2zM4 16h1v1h-1zM7 16h1v1h-1zM11 16h1v1h-1zM13 16h1v1h-1zM16 16h2v1h-2zM20 16h1v1h-1zM22 16h1v1h-1zM25 16h1v1h-1zM28 16h1v1h-1zM32 16h1v1h-1zM36 16h1v1h-1zM40 16h1v1h-1zM2 17h1v1h-1zM7 17h1v1h-1zM12 17h1v1h-1zM42 17h1v1h-1zM48 17h1v1h-1zM50 17h1v1h-1zM49 18h1v1h-1zM1 19h1v1h-1zM13 19h1v1h-1zM16 19h1v1h-1zM23 19h2v1h-2zM27 19h1v1h-1zM29 19h1v1h-1zM34 19h1v1h-1zM40 19h2v1h-2zM43 19h2v1h-2zM47 19h1v1h-1zM10 20h1v1h-1zM14 20h1v1h-1zM27 20h1v1h-1zM36 20h1v1h-1zM49 20h1v1h-1zM55 20h1v1h-1zM11 21h2v1h-2zM20 21h1v1h-1zM23 21h2v1h-2zM38 21h1v1h-1zM44 21h1v1h-1zM53 21h2v1h-2zM63 21h1v1h-1zM2 22h1v1h-1zM12 22h1v1h-1zM17 22h1v1h-1zM19 22h2v1h-2zM22 22h1v1h-1zM27 22h1v1h-1zM35 22h2v1h-2zM41 22h2v1h-2zM46 22h1v1h-1zM51 22h1v1h-1zM7 23h1v1h-1zM36 23h1v1h-1zM52 23h1v1h-1zM57 23h1v1h-1zM4 24h1v1h-1zM10 24h1v1h-1zM14 24h1v1h-1zM17 24h1v1h-1zM21 24h1v1h-1zM24 24h1v1h-1zM29 24h1v1h-1zM31 24h1v1h-1zM37 24h1v1h-1zM40 24h3v1h-3zM44 24h1v1h-1zM49 24h1v1h-1zM2 25h2v1h-2zM5 25h1v1h-1zM12 25h1v1h-1zM16 25h1v1h-1zM21 25h1v1h-1zM31 25h1v1h-1zM37 25h1v1h-1zM40 25h1v1h-1zM43 25h2v1h-2zM6 26h1v1h-1zM10 26h1v1h-1zM24 26h1v1h-1zM35 26h1v1h-1zM38 26h1v1h-1zM49 26h1v1h-1zM7 27h1v1h-1zM11 27h1v1h-1zM16 27h1v1h-1zM24 27h1v1h-1zM29 27h1v1h-1zM32 27h1v1h-1zM41 27h1v1h-1zM50 27h3v1h-3zM1 28h1v1h-1zM3 28h1v1h-1zM5 28h1v1h-1zM10 28h2v1h-2zM29 28h1v1h-1zM31 28h1v1h-1zM46 28h1v1h-1zM49 28h1v1h-1zM55 28h1v1h-1zM50 29h1v1h-1zM54 29h1v1h-1zM60 29h1v1h-1zM63 29h1v1h-1zM24 30h1v1h-1zM41 30h1v1h-1zM51 30h1v1h-1zM53 30h1v1h-1zM55 30h1v1h-1zM58 30h1v1h-1zM24 31h1v1h-1zM32 31h1v1h-1zM34 31h1v1h-1zM38 31h1v1h-1zM55 31h1v1h-1zM59 31h1v1h-1zM61 31h1v1h-1zM13 32h2v1h-2zM38 32h1v1h-1zM41 32h1v1h-1zM43 32h1v1h-1zM48 32h1v1h-1zM55 32h1v1h-1zM59 32h1v1h-1zM20 33h1v1h-1zM33 33h1v1h-1zM41 33h3v1h-3zM57 33h1v1h-1zM24 34h1v1h-1zM36 34h1v1h-1zM57 34h1v1h-1zM61 34h2v1h-2zM7 35h2v1h-2zM14 35h3v1h-3zM19 35h3v1h-3zM29 35h1v1h-1zM36 35h2v1h-2zM42 35h1v1h-1zM44 35h1v1h-1zM56 35h1v1h-1zM63 35h1v1h-1zM7 36h1v1h-1zM19 36h1v1h-1zM21 36h1v1h-1zM24 36h1v1h-1zM38 36h1v1h-1zM50 36h1v1h-1zM55 36h2v1h-2zM63 36h1v1h-1zM4 37h1v1h-1zM14 37h1v1h-1zM19 37h1v1h-1zM25 37h1v1h-1zM34 37h1v1h-1zM44 37h1v1h-1zM47 37h1v1h-1zM50 37h1v1h-1zM2 38h1v1h-1zM8 38h1v1h-1zM10 38h1v1h-1zM14 38h1v1h-1zM16 38h1v1h-1zM20 38h1v1h-1zM24 38h1v1h-1zM36 38h1v1h-1zM38 38h1v1h-1zM47 38h1v1h-1zM52 38h1v1h-1zM55 38h1v1h-1zM59 38h1v1h-1zM24 39h1v1h-1zM26 39h1v1h-1zM37 39h1v1h-1zM46 39h1v1h-1zM48 39h1v1h-1zM54 39h1v1h-1zM56 39h1v1h-1zM62 39h1v1h-1zM25 41h1v1h-1zM36 41h1v1h-1zM38 41h1v1h-1zM58 41h1v1h-1zM60 41h1v1h-1zM62 41h1v1h-1zM13 42h1v1h-1zM17 42h2v1h-2zM27 42h1v1h-1zM36 42h1v1h-1zM41 42h1v1h-1zM57 42h1v1h-1zM59 42h2v1h-2zM3 43h1v1h-1zM14 43h1v1h-1zM17 43h1v1h-1zM33 43h1v1h-1zM36 43h1v1h-1zM53 43h1v1h-1zM1 44h1v1h-1zM7 44h1v1h-1zM11 44h1v1h-1zM22 44h1v1h-1zM26 44h1v1h-1zM31 44h2v1h-2zM35 44h1v1h-1zM37 44h1v1h-1zM62 44h1v1h-1zM27 45h1v1h-1zM54 45h1v1h-1zM56 45h1v1h-1zM59 45h1v1h-1zM61 45h2v1h-2zM13 46h1v1h-1zM25 46h1v1h-1zM41 46h1v1h-1zM43 46h1v1h-1zM53 46h1v1h-1zM59 46h1v1h-1zM63 46h1v1h-1zM2 47h1v1h-1zM5 47h1v1h-1zM9 47h1v1h-1zM13 47h1v1h-1zM27 47h1v1h-1zM49 47h1v1h-1zM51 47h1v1h-1zM59 47h1v1h-1zM16 48h1v1h-1zM42 48h1v1h-1zM48 48h1v1h-1zM50 48h1v1h-1zM53 48h1v1h-1zM54 49h1v1h-1zM0 50h1v1h-1zM6 50h1v1h-1zM24 50h2v1h-2zM35 50h1v1h-1zM41 50h1v1h-1zM49 50h1v1h-1zM53 50h2v1h-2zM0 51h1v1h-1zM18 51h1v1h-1zM37 51h1v1h-1zM43 51h2v1h-2zM47 51h2v1h-2zM51 51h1v1h-1zM53 51h3v1h-3zM57 51h2v1h-2zM0 52h1v1h-1zM4 52h2v1h-2zM8 52h1v1h-1zM15 52h1v1h-1zM18 52h1v1h-1zM21 52h2v1h-2zM24 52h1v1h-1zM32 52h2v1h-2zM35 52h3v1h-3zM40 52h1v1h-1zM42 52h2v1h-2zM46 52h1v1h-1zM48 52h2v1h-2zM56 52h2v1h-2zM59 52h3v1h-3zM1 53h1v1h-1zM4 53h1v1h-1zM6 53h1v1h-1zM11 53h1v1h-1zM13 53h1v1h-1zM16 53h1v1h-1zM19 53h1v1h-1zM21 53h1v1h-1zM23 53h1v1h-1zM37 53h2v1h-2zM51 53h1v1h-1zM1 54h1v1h-1zM10 54h1v1h-1zM12 54h3v1h-3zM16 54h1v1h-1zM19 54h1v1h-1zM21 54h1v1h-1zM23 54h1v1h-1zM29 54h1v1h-1zM45 54h1v1h-1zM48 54h1v1h-1zM56 54h1v1h-1zM62 54h1v1h-1zM8 55h1v1h-1zM13 55h1v1h-1zM18 55h1v1h-1zM21 55h1v1h-1zM27 55h1v1h-1zM29 55h1v1h-1zM37 55h2v1h-2zM41 55h6v1h-6zM49 55h1v1h-1zM51 55h1v1h-1zM56 55h1v1h-1zM61 55h1v1h-1zM63 55h1v1h-1zM0 56h1v1h-1zM8 56h1v1h-1zM21 56h1v1h-1zM33 56h1v1h-1zM37 56h1v1h-1zM41 56h1v1h-1zM44 56h1v1h-1zM48 56h2v1h-2zM51 56h1v1h-1zM56 56h1v1h-1zM59 56h1v1h-1zM0 57h2v1h-2zM6 57h1v1h-1zM12 57h1v1h-1zM22 57h3v1h-3zM26 57h1v1h-1zM29 57h1v1h-1zM36 57h6v1h-6zM47 57h1v1h-1zM53 57h2v1h-2zM56 57h1v1h-1zM59 57h1v1h-1zM61 57h1v1h-1zM1 58h1v1h-1zM6 58h1v1h-1zM11 58h1v1h-1zM14 58h2v1h-2zM17 58h1v1h-1zM19 58h3v1h-3zM24 58h1v1h-1zM29 58h1v1h-1zM33 58h1v1h-1zM35 58h1v1h-1zM38 58h1v1h-1zM46 58h2v1h-2zM49 58h1v1h-1zM51 58h3v1h-3zM56 58h1v1h-1zM58 58h1v1h-1zM61 58h1v1h-1zM0 59h1v1h-1zM8 59h1v1h-1zM11 59h1v1h-1zM15 59h1v1h-1zM19 59h2v1h-2zM22 59h3v1h-3zM26 59h1v1h-1zM30 59h1v1h-1zM33 59h3v1h-3zM38 59h3v1h-3zM42 59h1v1h-1zM45 59h6v1h-6zM57 59h2v1h-2zM62 59h1v1h-1zM1 60h1v1h-1zM6 60h1v1h-1zM10 60h3v1h-3zM14 60h1v1h-1zM16 60h2v1h-2zM20 60h1v1h-1zM23 60h1v1h-1zM27 60h1v1h-1zM34 60h1v1h-1zM36 60h1v1h-1zM40 60h1v1h-1zM46 60h1v1h-1zM49 60h1v1h-1zM51 60h1v1h-1zM56 60h1v1h-1zM61 60h3v1h-3zM9 61h1v1h-1zM23 61h1v1h-1zM30 61h1v1h-1zM32 61h1v1h-1zM37 61h1v1h-1zM39 61h1v1h-1zM43 61h1v1h-1zM47 61h4v1h-4zM52 61h1v1h-1zM58 61h1v1h-1zM61 61h1v1h-1zM1 62h1v1h-1zM6 62h1v1h-1zM12 62h1v1h-1zM14 62h1v1h-1zM24 62h1v1h-1zM26 62h1v1h-1zM29 62h1v1h-1zM38 62h1v1h-1zM48 62h1v1h-1zM50 62h1v1h-1zM58 62h1v1h-1zM62 62h1v1h-1zM0 63h1v1h-1zM2 63h1v1h-1zM8 63h2v1h-2zM12 63h1v1h-1zM14 63h4v1h-4zM20 63h1v1h-1zM22 63h1v1h-1zM24 63h2v1h-2zM27 63h2v1h-2zM33 63h1v1h-1zM35 63h1v1h-1zM39 63h1v1h-1zM47 63h1v1h-1zM55 63h1v1h-1zM57 63h2v1h-2zM60 63h3v1h-3zM1 64h1v1h-1zM4 64h2v1h-2zM15 64h1v1h-1zM18 64h2v1h-2zM22 64h1v1h-1zM24 64h1v1h-1zM31 64h1v1h-1zM33 64h1v1h-1zM37 64h1v1h-1zM40 64h2v1h-2zM45 64h1v1h-1zM49 64h1v1h-1zM51 64h1v1h-1zM53 64h1v1h-1zM55 64h2v1h-2zM60 64h1v1h-1zM8 65h1v1h-1zM10 65h1v1h-1zM20 65h1v1h-1zM31 65h3v1h-3zM35 65h3v1h-3zM40 65h1v1h-1zM42 65h1v1h-1zM44 65h1v1h-1zM51 65h2v1h-2zM55 65h1v1h-1zM60 65h1v1h-1zM2 66h1v1h-1zM5 66h2v1h-2zM8 66h2v1h-2zM13 66h1v1h-1zM15 66h1v1h-1zM18 66h1v1h-1zM22 66h1v1h-1zM24 66h1v1h-1zM26 66h2v1h-2zM31 66h1v1h-1zM37 66h1v1h-1zM43 66h1v1h-1zM45 66h1v1h-1zM49 66h1v1h-1zM51 66h1v1h-1zM56 66h2v1h-2zM60 66h2v1h-2zM1 67h2v1h-2zM4 67h2v1h-2zM7 67h1v1h-1zM14 67h1v1h-1zM18 67h1v1h-1zM21 67h2v1h-2zM27 67h1v1h-1zM33 67h1v1h-1zM38 67h1v1h-1zM45 67h1v1h-1zM48 67h4v1h-4zM54 67h1v1h-1zM58 67h1v1h-1zM60 67h1v1h-1zM3 68h1v1h-1zM27 68h1v1h-1zM36 68h1v1h-1zM41 68h1v1h-1zM44 68h1v1h-1zM2 69h1v1h-1zM5 69h2v1h-2zM9 69h2v1h-2zM15 69h2v1h-2zM22 69h1v1h-1zM31 69h1v1h-1zM45 69h2v1h-2zM52 69h1v1h-1zM57 69h1v1h-1zM2 70h6v1h-6zM15 70h1v1h-1zM31 70h1v1h-1zM33 70h1v1h-1zM45 70h1v1h-1zM50 70h1v1h-1zM52 70h1v1h-1zM54 70h1v1h-1zM57 70h1v1h-1zM60 70h1v1h-1zM63 70h1v1h-1zM1 71h1v1h-1zM3 71h1v1h-1zM5 71h2v1h-2zM9 71h3v1h-3zM20 71h1v1h-1zM23 71h1v1h-1zM30 71h2v1h-2zM38 71h1v1h-1zM41 71h2v1h-2zM44 71h3v1h-3zM48 71h1v1h-1zM57 71h3v1h-3zM61 71h1v1h-1zM1 72h1v1h-1zM4 72h2v1h-2zM9 72h1v1h-1zM11 72h5v1h-5zM17 72h2v1h-2zM22 72h1v1h-1zM35 72h4v1h-4zM40 72h2v1h-2zM44 72h1v1h-1zM46 72h1v1h-1zM48 72h1v1h-1zM53 72h1v1h-1zM55 72h1v1h-1zM59 72h2v1h-2zM62 72h1v1h-1zM6 73h1v1h-1zM8 73h1v1h-1zM10 73h1v1h-1zM13 73h2v1h-2zM19 73h2v1h-2zM24 73h1v1h-1zM31 73h3v1h-3zM36 73h1v1h-1zM38 73h1v1h-1zM43 73h1v1h-1zM62 73h1v1h-1zM1 74h1v1h-1zM9 74h1v1h-1zM11 74h1v1h-1zM17 74h1v1h-1zM21 74h3v1h-3zM30 74h3v1h-3zM34 74h2v1h-2zM40 74h1v1h-1zM42 74h1v1h-1zM45 74h1v1h-1zM50 74h1v1h-1zM54 74h1v1h-1zM57 74h1v1h-1zM59 74h2v1h-2zM1 75h2v1h-2zM13 75h1v1h-1zM16 75h1v1h-1zM20 75h2v1h-2zM23 75h1v1h-1zM25 75h3v1h-3zM35 75h1v1h-1zM37 75h1v1h-1zM43 75h1v1h-1zM47 75h3v1h-3zM53 75h1v1h-1zM57 75h1v1h-1zM2 76h1v1h-1zM4 76h2v1h-2zM8 76h1v1h-1zM13 76h2v1h-2zM16 76h1v1h-1zM18 76h3v1h-3zM23 76h1v1h-1zM26 76h2v1h-2zM29 76h1v1h-1zM36 76h1v1h-1zM48 76h1v1h-1zM57 76h1v1h-1zM61 76h3v1h-3zM2 77h1v1h-1zM13 77h1v1h-1zM15 77h1v1h-1zM18 77h5v1h-5zM24 77h3v1h-3zM30 77h1v1h-1zM33 77h1v1h-1zM39 77h1v1h-1zM41 77h1v1h-1zM46 77h1v1h-1zM48 77h1v1h-1zM50 77h1v1h-1zM52 77h2v1h-2zM61 77h1v1h-1zM63 77h1v1h-1zM0 78h1v1h-1zM10 78h2v1h-2zM15 78h1v1h-1zM18 78h1v1h-1zM21 78h3v1h-3zM27 78h1v1h-1zM29 78h1v1h-1zM36 78h1v1h-1zM40 78h3v1h-3zM49 78h1v1h-1zM52 78h1v1h-1zM54 78h1v1h-1zM57 78h2v1h-2zM61 78h1v1h-1zM1 79h2v1h-2zM4 79h1v1h-1zM7 79h1v1h-1zM12 79h1v1h-1zM18 79h1v1h-1zM20 79h1v1h-1zM22 79h3v1h-3zM34 79h2v1h-2zM37 79h2v1h-2zM43 79h1v1h-1zM46 79h2v1h-2zM50 79h1v1h-1zM53 79h1v1h-1zM59 79h2v1h-2zM0 80h3v1h-3zM10 80h1v1h-1zM16 80h1v1h-1zM21 80h2v1h-2zM27 80h1v1h-1zM39 80h1v1h-1zM51 80h1v1h-1zM1 81h2v1h-2zM5 81h1v1h-1zM8 81h1v1h-1zM12 81h1v1h-1zM21 81h3v1h-3zM28 81h3v1h-3zM38 81h1v1h-1zM50 81h2v1h-2zM56 81h2v1h-2zM62 81h1v1h-1zM2 82h1v1h-1zM10 82h1v1h-1zM21 82h1v1h-1zM24 82h1v1h-1zM33 82h1v1h-1zM36 82h1v1h-1zM41 82h1v1h-1zM52 82h1v1h-1zM56 82h2v1h-2zM3 83h1v1h-1zM18 83h2v1h-2zM30 83h1v1h-1zM37 83h2v1h-2zM41 83h3v1h-3zM45 83h2v1h-2zM49 83h2v1h-2zM52 83h4v1h-4zM57 83h1v1h-1zM59 83h2v1h-2zM62 83h2v1h-2zM3 84h3v1h-3zM7 84h1v1h-1zM13 84h1v1h-1zM23 84h1v1h-1zM25 84h1v1h-1zM40 84h1v1h-1zM43 84h2v1h-2zM49 84h3v1h-3zM53 84h2v1h-2zM57 84h3v1h-3zM61 84h3v1h-3zM1 85h1v1h-1zM3 85h1v1h-1zM9 85h1v1h-1zM11 85h2v1h-2zM14 85h1v1h-1zM26 85h1v1h-1zM32 85h2v1h-2zM35 85h1v1h-1zM37 85h1v1h-1zM41 85h1v1h-1zM44 85h1v1h-1zM49 85h3v1h-3zM56 85h2v1h-2zM61 85h1v1h-1zM1 86h1v1h-1zM13 86h1v1h-1zM22 86h1v1h-1zM24 86h2v1h-2zM29 86h1v1h-1zM31 86h1v1h-1zM58 86h1v1h-1zM60 86h1v1h-1zM2 87h1v1h-1zM5 87h1v1h-1zM8 87h1v1h-1zM10 87h2v1h-2zM16 87h1v1h-1zM21 87h1v1h-1zM24 87h3v1h-3zM36 87h1v1h-1zM62 87h1v1h-1zM0 88h1v1h-1zM2 88h2v1h-2zM5 88h1v1h-1zM7 88h1v1h-1zM15 88h1v1h-1zM17 88h1v1h-1zM19 88h1v1h-1zM22 88h1v1h-1zM25 88h1v1h-1zM27 88h1v1h-1zM31 88h1v1h-1zM39 88h1v1h-1zM42 88h2v1h-2zM59 88h2v1h-2zM62 88h1v1h-1zM0 89h1v1h-1zM2 89h1v1h-1zM4 89h1v1h-1zM6 89h1v1h-1zM9 89h1v1h-1zM11 89h3v1h-3zM15 89h1v1h-1zM23 89h1v1h-1zM31 89h1v1h-1zM35 89h3v1h-3zM39 89h1v1h-1zM41 89h3v1h-3zM47 89h1v1h-1zM49 89h2v1h-2zM52 89h1v1h-1zM54 89h1v1h-1zM56 89h1v1h-1zM58 89h1v1h-1zM62 89h1v1h-1zM0 90h1v1h-1zM19 90h1v1h-1zM33 90h1v1h-1zM35 90h1v1h-1zM37 90h1v1h-1zM41 90h1v1h-1zM58 90h1v1h-1zM61 90h1v1h-1zM2 91h1v1h-1zM7 91h1v1h-1zM10 91h4v1h-4zM17 91h2v1h-2zM20 91h2v1h-2zM23 91h2v1h-2zM30 91h1v1h-1zM33 91h1v1h-1zM37 91h2v1h-2zM42 91h1v1h-1zM46 91h3v1h-3zM51 91h1v1h-1zM54 91h1v1h-1zM56 91h2v1h-2zM61 91h2v1h-2zM0 92h1v1h-1zM2 92h1v1h-1zM5 92h1v1h-1zM8 92h1v1h-1zM11 92h3v1h-3zM15 92h1v1h-1zM22 92h2v1h-2zM26 92h1v1h-1zM43 92h1v1h-1zM60 92h1v1h-1zM62 92h1v1h-1zM7 93h1v1h-1zM16 93h1v1h-1zM0 94h1v1h-1zM15 94h1v1h-1zM17 94h1v1h-1zM26 94h1v1h-1zM30 94h1v1h-1zM32 94h2v1h-2zM37 94h4v1h-4zM42 94h1v1h-1zM44 94h1v1h-1zM49 94h1v1h-1zM51 94h1v1h-1zM56 94h1v1h-1zM59 94h1v1h-1zM1 95h1v1h-1zM7 95h1v1h-1zM14 95h2v1h-2zM17 95h1v1h-1zM20 95h1v1h-1zM22 95h1v1h-1zM24 95h1v1h-1zM28 95h1v1h-1zM35 95h1v1h-1zM41 95h2v1h-2zM44 95h1v1h-1zM46 95h1v1h-1zM48 95h1v1h-1zM50 95h1v1h-1zM52 95h2v1h-2zM56 95h1v1h-1zM61 95h2v1h-2zM1 96h1v1h-1zM13 96h1v1h-1zM16 96h1v1h-1zM22 96h1v1h-1zM25 96h1v1h-1zM29 96h1v1h-1zM36 96h1v1h-1zM48 96h1v1h-1zM0 97h1v1h-1zM3 97h1v1h-1zM6 97h2v1h-2zM15 97h1v1h-1zM18 97h1v1h-1zM20 97h1v1h-1zM23 97h1v1h-1zM25 97h1v1h-1zM27 97h1v1h-1zM29 97h3v1h-3zM33 97h1v1h-1zM40 97h5v1h-5zM55 97h1v1h-1zM58 97h1v1h-1zM60 97h1v1h-1zM62 97h1v1h-1zM1 98h1v1h-1zM6 98h1v1h-1zM8 98h1v1h-1zM10 98h1v1h-1zM12 98h2v1h-2zM15 98h2v1h-2zM27 98h1v1h-1zM36 98h1v1h-1zM46 98h1v1h-1zM18 99h1v1h-1zM38 99h1v1h-1zM41 99h1v1h-1zM46 99h1v1h-1zM51 99h1v1h-1zM54 99h1v1h-1zM56 99h1v1h-1zM59 99h1v1h-1zM3 100h1v1h-1zM5 100h2v1h-2zM8 100h2v1h-2zM15 100h1v1h-1zM18 100h1v1h-1zM20 100h1v1h-1zM25 100h1v1h-1zM31 100h2v1h-2zM35 100h4v1h-4zM43 100h1v1h-1zM46 100h1v1h-1zM48 100h5v1h-5zM55 100h1v1h-1zM59 100h1v1h-1zM61 100h1v1h-1zM6 101h3v1h-3zM11 101h1v1h-1zM15 101h1v1h-1zM17 101h2v1h-2zM23 101h1v1h-1zM25 101h2v1h-2zM28 101h1v1h-1zM37 101h2v1h-2zM41 101h1v1h-1zM44 101h1v1h-1zM48 101h3v1h-3zM52 101h4v1h-4zM57 101h1v1h-1zM60 101h3v1h-3zM0 102h1v1h-1zM2 102h2v1h-2zM5 102h1v1h-1zM10 102h2v1h-2zM13 102h1v1h-1zM15 102h1v1h-1zM23 102h1v1h-1zM29 102h1v1h-1zM35 102h1v1h-1zM42 102h1v1h-1zM48 102h1v1h-1zM50 102h1v1h-1zM52 102h1v1h-1zM54 102h1v1h-1zM57 102h1v1h-1zM62 102h1v1h-1zM2 104h2v1h-2zM10 104h1v1h-1zM14 104h1v1h-1zM17 104h1v1h-1zM20 104h1v1h-1zM24 104h2v1h-2zM28 104h1v1h-1zM33 104h1v1h-1zM35 104h4v1h-4zM50 104h1v1h-1zM52 104h1v1h-1zM54 104h3v1h-3zM59 104h2v1h-2zM62 104h1v1h-1zM16 105h1v1h-1zM25 105h3v1h-3zM29 105h1v1h-1zM36 105h1v1h-1zM41 105h1v1h-1zM52 105h1v1h-1zM55 105h1v1h-1zM3 106h1v1h-1zM15 106h1v1h-1zM18 106h1v1h-1zM21 106h1v1h-1zM23 106h2v1h-2zM26 106h1v1h-1zM28 106h1v1h-1zM37 106h1v1h-1zM39 106h3v1h-3zM45 106h3v1h-3zM50 106h3v1h-3zM54 106h1v1h-1zM56 106h2v1h-2zM60 106h3v1h-3zM7 107h1v1h-1zM15 107h1v1h-1zM19 107h1v1h-1z"/>
<path fill="#efefff" d="M3 0h1v1h-1zM11 0h1v1h-1zM13 0h1v1h-1zM21 0h4v1h-4zM27 0h1v1h-1zM31 0h1v1h-1zM34 0h1v1h-1zM39 0h1v1h-1zM41 0h1v1h-1zM43 0h1v1h-1zM46 0h1v1h-1zM49 0h1v1h-1zM51 0h2v1h-2zM0 1h1v1h-1zM5 1h1v1h-1zM7 1h1v1h-1zM10 1h1v1h-1zM14 1h3v1h-3zM20 1h1v1h-1zM25 1h1v1h-1zM34 1h1v1h-1zM38 1h1v1h-1zM44 1h2v1h-2zM47 1h1v1h-1zM50 1h2v1h-2zM2 2h1v1h-1zM6 2h1v1h-1zM10 2h1v1h-1zM13 2h3v1h-3zM21 2h1v1h-1zM24 2h1v1h-1zM43 2h1v1h-1zM60 2h1v1h-1zM1 3h1v1h-1zM7 3h1v1h-1zM15 3h2v1h-2zM21 3h1v1h-1zM25 3h1v1h-1zM31 3h3v1h-3zM35 3h3v1h-3zM41 3h3v1h-3zM45 3h1v1h-1zM49 3h1v1h-1zM51 3h1v1h-1zM55 3h1v1h-1zM63 3h1v1h-1zM1 4h1v1h-1zM4 4h2v1h-2zM7 4h1v1h-1zM10 4h3v1h-3zM16 4h1v1h-1zM24 4h1v1h-1zM26 4h2v1h-2zM35 4h1v1h-1zM44 4h1v1h-1zM61 4h1v1h-1zM5 5h1v1h-1zM24 5h1v1h-1zM36 5h1v1h-1zM40 5h1v1h-1zM52 5h1v1h-1zM55 5h1v1h-1zM57 5h2v1h-2zM60 5h1v1h-1zM1 6h1v1h-1zM12 6h2v1h-2zM43 6h2v1h-2zM49 6h1v1h-1zM55 6h1v1h-1zM58 6h2v1h-2zM10 7h1v1h-1zM16 7h2v1h-2zM20 7h1v1h-1zM27 7h1v1h-1zM37 7h1v1h-1zM41 7h1v1h-1zM44 7h1v1h-1zM51 7h1v1h-1zM59 7h1v1h-1zM5 8h1v1h-1zM7 8h1v1h-1zM9 8h1v1h-1zM14 8h2v1h-2zM17 8h1v1h-1zM21 8h1v1h-1zM23 8h1v1h-1zM26 8h2v1h-2zM31 8h1v1h-1zM35 8h1v1h-1zM37 8h1v1h-1zM39 8h1v1h-1zM44 8h3v1h-3zM53 8h1v1h-1zM3 9h1v1h-1zM5 9h3v1h-3zM9 9h1v1h-1zM12 9h2v1h-2zM17 9h1v1h-1zM20 9h1v1h-1zM25 9h1v1h-1zM27 9h1v1h-1zM31 9h1v1h-1zM33 9h2v1h-2zM39 9h1v1h-1zM44 9h1v1h-1zM46 9h1v1h-1zM53 9h1v1h-1zM1 10h1v1h-1zM7 10h1v1h-1zM12 10h2v1h-2zM15 10h1v1h-1zM19 10h1v1h-1zM21 10h1v1h-1zM23 10h1v1h-1zM27 10h1v1h-1zM29 10h1v1h-1zM32 10h1v1h-1zM34 10h1v1h-1zM45 10h1v1h-1zM0 11h1v1h-1zM9 11h1v1h-1zM14 11h1v1h-1zM16 11h1v1h-1zM18 11h1v1h-1zM20 11h1v1h-1zM22 11h1v1h-1zM32 11h1v1h-1zM37 11h2v1h-2zM40 11h1v1h-1zM42 11h3v1h-3zM60 11h1v1h-1zM5 12h1v1h-1zM16 12h1v1h-1zM27 12h1v1h-1zM31 12h1v1h-1zM33 12h1v1h-1zM41 12h1v1h-1zM43 12h1v1h-1zM45 12h3v1h-3zM0 13h1v1h-1zM3 13h1v1h-1zM5 13h1v1h-1zM8 13h1v1h-1zM10 13h5v1h-5zM19 13h1v1h-1zM21 13h3v1h-3zM26 13h1v1h-1zM35 13h1v1h-1zM37 13h1v1h-1zM41 13h1v1h-1zM43 13h2v1h-2zM53 13h1v1h-1zM10 14h2v1h-2zM17 14h1v1h-1zM24 14h1v1h-1zM29 14h1v1h-1zM31 14h1v1h-1zM38 14h1v1h-1zM41 14h1v1h-1zM44 14h1v1h-1zM47 14h1v1h-1zM6 15h2v1h-2zM11 15h1v1h-1zM13 15h2v1h-2zM17 15h1v1h-1zM20 15h1v1h-1zM24 15h1v1h-1zM26 15h1v1h-1zM33 15h1v1h-1zM35 15h1v1h-1zM37 15h1v1h-1zM39 15h1v1h-1zM43 15h2v1h-2zM1 16h3v1h-3zM6 16h1v1h-1zM14 16h2v1h-2zM19 16h1v1h-1zM21 16h1v1h-1zM23 16h2v1h-2zM26 16h2v1h-2zM31 16h1v1h-1zM33 16h1v1h-1zM35 16h1v1h-1zM37 16h3v1h-3zM43 16h1v1h-1zM45 16h3v1h-3zM49 16h1v1h-1zM51 16h1v1h-1zM16 17h2v1h-2zM29 17h1v1h-1zM33 17h1v1h-1zM35 17h2v1h-2zM39 17h1v1h-1zM45 17h1v1h-1zM58 17h2v1h-2zM5 18h1v1h-1zM7 18h1v1h-1zM19 18h1v1h-1zM25 18h2v1h-2zM51 18h1v1h-1zM59 18h1v1h-1zM0 19h1v1h-1zM4 19h1v1h-1zM8 19h2v1h-2zM11 19h1v1h-1zM14 19h1v1h-1zM18 19h1v1h-1zM20 19h2v1h-2zM26 19h1v1h-1zM31 19h2v1h-2zM42 19h1v1h-1zM46 19h1v1h-1zM1 20h2v1h-2zM6 20h1v1h-1zM12 20h2v1h-2zM16 20h1v1h-1zM20 20h1v1h-1zM25 20h2v1h-2zM29 20h1v1h-1zM32 20h2v1h-2zM38 20h1v1h-1zM41 20h1v1h-1zM43 20h3v1h-3zM50 20h1v1h-1zM52 20h1v1h-1zM57 20h1v1h-1zM7 21h4v1h-4zM13 21h1v1h-1zM15 21h1v1h-1zM17 21h1v1h-1zM19 21h1v1h-1zM26 21h1v1h-1zM31 21h1v1h-1zM33 21h2v1h-2zM37 21h1v1h-1zM39 21h2v1h-2zM46 21h1v1h-1zM3 22h7v1h-7zM13 22h1v1h-1zM21 22h1v1h-1zM24 22h1v1h-1zM26 22h1v1h-1zM29 22h1v1h-1zM33 22h2v1h-2zM39 22h1v1h-1zM45 22h1v1h-1zM47 22h1v1h-1zM6 23h1v1h-1zM16 23h1v1h-1zM21 23h1v1h-1zM29 23h1v1h-1zM37 23h1v1h-1zM40 23h1v1h-1zM48 23h1v1h-1zM51 23h1v1h-1zM54 23h2v1h-2zM58 23h1v1h-1zM63 23h1v1h-1zM0 24h1v1h-1zM3 24h1v1h-1zM12 24h2v1h-2zM15 24h1v1h-1zM19 24h2v1h-2zM22 24h1v1h-1zM32 24h1v1h-1zM35 24h1v1h-1zM39 24h1v1h-1zM43 24h1v1h-1zM45 24h1v1h-1zM0 25h1v1h-1zM4 25h1v1h-1zM6 25h2v1h-2zM9 25h2v1h-2zM17 25h3v1h-3zM24 25h1v1h-1zM30 25h1v1h-1zM38 25h1v1h-1zM42 25h1v1h-1zM1 26h2v1h-2zM12 26h2v1h-2zM15 26h1v1h-1zM22 26h1v1h-1zM37 26h1v1h-1zM40 26h2v1h-2zM43 26h2v1h-2zM46 26h1v1h-1zM55 26h1v1h-1zM2 27h1v1h-1zM6 27h1v1h-1zM8 27h2v1h-2zM23 27h1v1h-1zM31 27h1v1h-1zM34 27h1v1h-1zM38 27h1v1h-1zM43 27h1v1h-1zM46 27h1v1h-1zM54 27h1v1h-1zM16 28h2v1h-2zM20 28h1v1h-1zM26 28h1v1h-1zM33 28h1v1h-1zM50 28h1v1h-1zM52 28h1v1h-1zM58 28h2v1h-2zM10 29h1v1h-1zM16 29h1v1h-1zM23 29h1v1h-1zM26 29h1v1h-1zM43 29h1v1h-1zM53 29h1v1h-1zM57 29h1v1h-1zM61 29h1v1h-1zM1 30h1v1h-1zM16 30h2v1h-2zM21 30h1v1h-1zM25 30h2v1h-2zM35 30h1v1h-1zM44 30h1v1h-1zM52 30h1v1h-1zM61 30h1v1h-1zM11 31h2v1h-2zM15 31h2v1h-2zM18 31h1v1h-1zM20 31h1v1h-1zM22 31h1v1h-1zM26 31h1v1h-1zM29 31h1v1h-1zM37 31h1v1h-1zM41 31h1v1h-1zM44 31h1v1h-1zM46 31h1v1h-1zM50 31h1v1h-1zM58 31h1v1h-1zM63 31h1v1h-1zM1 32h1v1h-1zM3 32h1v1h-1zM5 32h3v1h-3zM16 32h2v1h-2zM19 32h1v1h-1zM21 32h2v1h-2zM26 32h1v1h-1zM29 32h2v1h-2zM35 32h1v1h-1zM40 32h1v1h-1zM42 32h1v1h-1zM47 32h1v1h-1zM7 33h1v1h-1zM10 33h1v1h-1zM13 33h1v1h-1zM16 33h1v1h-1zM19 33h1v1h-1zM21 33h1v1h-1zM26 33h1v1h-1zM29 33h1v1h-1zM31 33h1v1h-1zM36 33h1v1h-1zM44 33h1v1h-1zM46 33h1v1h-1zM5 34h1v1h-1zM7 34h1v1h-1zM10 34h2v1h-2zM14 34h1v1h-1zM16 34h1v1h-1zM21 34h1v1h-1zM23 34h1v1h-1zM25 34h2v1h-2zM32 34h2v1h-2zM44 34h1v1h-1zM47 34h1v1h-1zM50 34h1v1h-1zM52 34h2v1h-2zM63 34h1v1h-1zM0 35h1v1h-1zM4 35h1v1h-1zM10 35h1v1h-1zM12 35h1v1h-1zM18 35h1v1h-1zM23 35h4v1h-4zM28 35h1v1h-1zM30 35h2v1h-2zM39 35h3v1h-3zM46 35h1v1h-1zM57 35h1v1h-1zM10 36h1v1h-1zM13 36h1v1h-1zM16 36h1v1h-1zM26 36h1v1h-1zM30 36h1v1h-1zM36 36h1v1h-1zM54 36h1v1h-1zM57 36h3v1h-3zM0 37h1v1h-1zM3 37h1v1h-1zM6 37h1v1h-1zM10 37h2v1h-2zM13 37h1v1h-1zM15 37h2v1h-2zM21 37h1v1h-1zM38 37h1v1h-1zM42 37h2v1h-2zM49 37h1v1h-1zM53 37h1v1h-1zM0 38h2v1h-2zM4 38h2v1h-2zM7 38h1v1h-1zM13 38h1v1h-1zM21 38h1v1h-1zM26 38h1v1h-1zM30 38h1v1h-1zM42 38h1v1h-1zM45 38h2v1h-2zM58 38h1v1h-1zM61 38h1v1h-1zM0 39h1v1h-1zM7 39h1v1h-1zM11 39h1v1h-1zM23 39h1v1h-1zM27 39h1v1h-1zM36 39h1v1h-1zM43 39h1v1h-1zM50 39h1v1h-1zM55 39h1v1h-1zM57 39h2v1h-2zM60 39h1v1h-1zM23 40h1v1h-1zM36 40h2v1h-2zM52 40h1v1h-1zM55 40h1v1h-1zM57 40h1v1h-1zM7 41h1v1h-1zM9 41h1v1h-1zM12 41h1v1h-1zM20 41h1v1h-1zM56 41h1v1h-1zM9 42h2v1h-2zM19 42h3v1h-3zM23 42h1v1h-1zM29 42h1v1h-1zM42 42h1v1h-1zM52 42h1v1h-1zM61 42h2v1h-2zM4 43h1v1h-1zM7 43h2v1h-2zM10 43h2v1h-2zM13 43h1v1h-1zM20 43h1v1h-1zM22 43h2v1h-2zM27 43h3v1h-3zM31 43h1v1h-1zM38 43h1v1h-1zM40 43h1v1h-1zM44 43h1v1h-1zM59 43h1v1h-1zM61 43h1v1h-1zM0 44h1v1h-1zM2 44h1v1h-1zM4 44h3v1h-3zM9 44h1v1h-1zM12 44h1v1h-1zM17 44h3v1h-3zM21 44h1v1h-1zM23 44h1v1h-1zM25 44h1v1h-1zM27 44h1v1h-1zM30 44h1v1h-1zM33 44h2v1h-2zM38 44h5v1h-5zM46 44h1v1h-1zM1 45h2v1h-2zM6 45h1v1h-1zM24 45h1v1h-1zM36 45h1v1h-1zM38 45h1v1h-1zM49 45h1v1h-1zM57 45h1v1h-1zM2 46h1v1h-1zM7 46h1v1h-1zM11 46h2v1h-2zM16 46h2v1h-2zM21 46h1v1h-1zM23 46h2v1h-2zM36 46h2v1h-2zM42 46h1v1h-1zM44 46h1v1h-1zM48 46h2v1h-2zM56 46h1v1h-1zM1 47h1v1h-1zM3 47h1v1h-1zM6 47h1v1h-1zM11 47h2v1h-2zM14 47h2v1h-2zM20 47h1v1h-1zM22 47h1v1h-1zM24 47h1v1h-1zM38 47h1v1h-1zM43 47h1v1h-1zM47 47h1v1h-1zM1 48h2v1h-2zM22 48h1v1h-1zM27 48h1v1h-1zM34 48h1v1h-1zM36 48h1v1h-1zM46 48h1v1h-1zM55 48h1v1h-1zM58 48h1v1h-1zM63 48h1v1h-1zM10 49h1v1h-1zM16 49h1v1h-1zM52 49h2v1h-2zM55 49h1v1h-1zM60 49h1v1h-1zM62 49h1v1h-1zM2 50h1v1h-1zM7 50h4v1h-4zM12 50h2v1h-2zM21 50h3v1h-3zM29 50h1v1h-1zM31 50h1v1h-1zM36 50h1v1h-1zM40 50h1v1h-1zM45 50h1v1h-1zM28 51h1v1h-1zM34 51h2v1h-2zM39 51h2v1h-2zM42 51h1v1h-1zM45 51h1v1h-1zM50 51h1v1h-1zM63 51h1v1h-1zM9 52h1v1h-1zM34 52h1v1h-1zM38 52h1v1h-1zM47 52h1v1h-1zM50 52h4v1h-4zM55 52h1v1h-1zM58 52h1v1h-1zM63 52h1v1h-1zM3 53h1v1h-1zM7 53h2v1h-2zM10 53h1v1h-1zM17 53h2v1h-2zM20 53h1v1h-1zM25 53h4v1h-4zM33 53h1v1h-1zM35 53h2v1h-2zM44 53h3v1h-3zM53 53h2v1h-2zM56 53h5v1h-5zM63 53h1v1h-1zM0 54h1v1h-1zM4 54h1v1h-1zM11 54h1v1h-1zM31 54h1v1h-1zM36 54h1v1h-1zM38 54h1v1h-1zM41 54h1v1h-1zM43 54h2v1h-2zM46 54h2v1h-2zM49 54h1v1h-1zM52 54h2v1h-2zM55 54h1v1h-1zM57 54h5v1h-5zM63 54h1v1h-1zM0 55h1v1h-1zM5 55h1v1h-1zM9 55h2v1h-2zM14 55h2v1h-2zM22 55h2v1h-2zM28 55h1v1h-1zM34 55h2v1h-2zM39 55h2v1h-2zM47 55h1v1h-1zM50 55h1v1h-1zM53 55h3v1h-3zM57 55h4v1h-4zM32 56h1v1h-1zM39 56h1v1h-1zM50 56h1v1h-1zM9 57h1v1h-1zM20 57h2v1h-2zM25 57h1v1h-1zM33 57h1v1h-1zM42 57h2v1h-2zM45 57h2v1h-2zM48 57h5v1h-5zM58 57h1v1h-1zM60 57h1v1h-1zM63 57h1v1h-1zM0 58h1v1h-1zM8 58h3v1h-3zM13 58h1v1h-1zM18 58h1v1h-1zM22 58h2v1h-2zM25 58h1v1h-1zM28 58h1v1h-1zM39 58h2v1h-2zM44 58h2v1h-2zM50 58h1v1h-1zM55 58h1v1h-1zM57 58h1v1h-1zM59 58h2v1h-2zM62 58h2v1h-2zM5 59h1v1h-1zM31 59h1v1h-1zM41 59h1v1h-1zM44 59h1v1h-1zM52 59h2v1h-2zM0 60h1v1h-1zM15 60h1v1h-1zM19 60h1v1h-1zM21 60h2v1h-2zM24 60h1v1h-1zM28 60h3v1h-3zM32 60h2v1h-2zM37 60h2v1h-2zM42 60h1v1h-1zM48 60h1v1h-1zM50 60h1v1h-1zM52 60h1v1h-1zM55 60h1v1h-1zM57 60h1v1h-1zM60 60h1v1h-1zM4 61h1v1h-1zM28 61h1v1h-1zM34 61h1v1h-1zM51 61h1v1h-1zM53 61h1v1h-1zM63 61h1v1h-1zM0 62h1v1h-1zM3 62h2v1h-2zM9 62h2v1h-2zM13 62h1v1h-1zM15 62h1v1h-1zM17 62h3v1h-3zM25 62h1v1h-1zM27 62h1v1h-1zM33 62h1v1h-1zM36 62h1v1h-1zM39 62h1v1h-1zM41 62h2v1h-2zM44 62h3v1h-3zM52 62h2v1h-2zM59 62h1v1h-1zM4 63h1v1h-1zM10 63h1v1h-1zM13 63h1v1h-1zM23 63h1v1h-1zM29 63h3v1h-3zM34 63h1v1h-1zM37 63h2v1h-2zM40 63h7v1h-7zM48 63h2v1h-2zM51 63h1v1h-1zM53 63h1v1h-1zM8 64h1v1h-1zM23 64h1v1h-1zM27 64h1v1h-1zM30 64h1v1h-1zM32 64h1v1h-1zM34 64h2v1h-2zM39 64h1v1h-1zM42 64h3v1h-3zM46 64h1v1h-1zM50 64h1v1h-1zM52 64h1v1h-1zM58 64h1v1h-1zM62 64h2v1h-2zM9 65h1v1h-1zM14 65h1v1h-1zM17 65h2v1h-2zM22 65h1v1h-1zM24 65h1v1h-1zM34 65h1v1h-1zM38 65h1v1h-1zM45 65h2v1h-2zM48 65h2v1h-2zM53 65h2v1h-2zM61 65h1v1h-1zM4 66h1v1h-1zM23 66h1v1h-1zM30 66h1v1h-1zM33 66h1v1h-1zM35 66h1v1h-1zM39 66h4v1h-4zM47 66h2v1h-2zM50 66h1v1h-1zM54 66h1v1h-1zM58 66h2v1h-2zM63 66h1v1h-1zM3 67h1v1h-1zM8 67h2v1h-2zM13 67h1v1h-1zM15 67h1v1h-1zM17 67h1v1h-1zM19 67h1v1h-1zM23 67h1v1h-1zM28 67h1v1h-1zM34 67h1v1h-1zM37 67h1v1h-1zM46 67h2v1h-2zM52 67h2v1h-2zM55 67h3v1h-3zM61 67h1v1h-1zM63 67h1v1h-1zM1 68h1v1h-1zM6 68h3v1h-3zM12 68h1v1h-1zM15 68h1v1h-1zM17 68h2v1h-2zM21 68h2v1h-2zM24 68h3v1h-3zM31 68h1v1h-1zM34 68h1v1h-1zM37 68h2v1h-2zM46 68h1v1h-1zM49 68h1v1h-1zM52 68h1v1h-1zM55 68h1v1h-1zM60 68h2v1h-2zM3 69h2v1h-2zM8 69h1v1h-1zM14 69h1v1h-1zM26 69h4v1h-4zM32 69h1v1h-1zM34 69h4v1h-4zM42 69h3v1h-3zM47 69h1v1h-1zM51 69h1v1h-1zM54 69h1v1h-1zM56 69h1v1h-1zM58 69h1v1h-1zM60 69h1v1h-1zM62 69h1v1h-1zM1 70h1v1h-1zM16 70h1v1h-1zM23 70h1v1h-1zM25 70h1v1h-1zM28 70h3v1h-3zM37 70h1v1h-1zM40 70h2v1h-2zM47 70h3v1h-3zM53 70h1v1h-1zM56 70h1v1h-1zM58 70h2v1h-2zM61 70h2v1h-2zM2 71h1v1h-1zM12 71h1v1h-1zM14 71h2v1h-2zM18 71h1v1h-1zM22 71h1v1h-1zM24 71h2v1h-2zM28 71h2v1h-2zM33 71h1v1h-1zM35 71h1v1h-1zM39 71h2v1h-2zM43 71h1v1h-1zM52 71h1v1h-1zM60 71h1v1h-1zM63 71h1v1h-1zM19 72h1v1h-1zM23 72h1v1h-1zM28 72h1v1h-1zM32 72h3v1h-3zM39 72h1v1h-1zM42 72h1v1h-1zM47 72h1v1h-1zM49 72h1v1h-1zM51 72h1v1h-1zM54 72h1v1h-1zM57 72h1v1h-1zM61 72h1v1h-1zM63 72h1v1h-1zM1 73h2v1h-2zM5 73h1v1h-1zM12 73h1v1h-1zM15 73h2v1h-2zM21 73h1v1h-1zM26 73h2v1h-2zM35 73h1v1h-1zM37 73h1v1h-1zM40 73h1v1h-1zM44 73h1v1h-1zM46 73h2v1h-2zM49 73h2v1h-2zM53 73h7v1h-7zM61 73h1v1h-1zM63 73h1v1h-1zM2 74h3v1h-3zM10 74h1v1h-1zM28 74h1v1h-1zM33 74h1v1h-1zM37 74h2v1h-2zM44 74h1v1h-1zM49 74h1v1h-1zM51 74h3v1h-3zM55 74h1v1h-1zM58 74h1v1h-1zM61 74h1v1h-1zM63 74h1v1h-1zM4 75h1v1h-1zM6 75h1v1h-1zM18 75h2v1h-2zM30 75h1v1h-1zM32 75h1v1h-1zM34 75h1v1h-1zM36 75h1v1h-1zM38 75h1v1h-1zM40 75h1v1h-1zM44 75h2v1h-2zM51 75h1v1h-1zM55 75h1v1h-1zM58 75h4v1h-4zM63 75h1v1h-1zM1 76h1v1h-1zM3 76h1v1h-1zM7 76h1v1h-1zM9 76h1v1h-1zM11 76h2v1h-2zM15 76h1v1h-1zM17 76h1v1h-1zM21 76h1v1h-1zM24 76h2v1h-2zM28 76h1v1h-1zM33 76h3v1h-3zM37 76h2v1h-2zM40 76h2v1h-2zM43 76h1v1h-1zM46 76h1v1h-1zM49 76h4v1h-4zM56 76h1v1h-1zM59 76h1v1h-1zM3 77h1v1h-1zM5 77h1v1h-1zM7 77h2v1h-2zM17 77h1v1h-1zM23 77h1v1h-1zM28 77h1v1h-1zM34 77h2v1h-2zM37 77h2v1h-2zM43 77h1v1h-1zM47 77h1v1h-1zM51 77h1v1h-1zM59 77h2v1h-2zM62 77h1v1h-1zM4 78h1v1h-1zM9 78h1v1h-1zM16 78h1v1h-1zM20 78h1v1h-1zM30 78h1v1h-1zM32 78h4v1h-4zM37 78h3v1h-3zM44 78h2v1h-2zM47 78h2v1h-2zM51 78h1v1h-1zM53 78h1v1h-1zM55 78h2v1h-2zM59 78h2v1h-2zM63 78h1v1h-1zM0 79h1v1h-1zM6 79h1v1h-1zM14 79h2v1h-2zM19 79h1v1h-1zM26 79h1v1h-1zM30 79h1v1h-1zM32 79h1v1h-1zM39 79h1v1h-1zM41 79h2v1h-2zM44 79h1v1h-1zM49 79h1v1h-1zM51 79h1v1h-1zM54 79h2v1h-2zM57 79h2v1h-2zM61 79h1v1h-1zM5 80h2v1h-2zM11 80h1v1h-1zM14 80h1v1h-1zM23 80h1v1h-1zM30 80h1v1h-1zM32 80h1v1h-1zM34 80h1v1h-1zM36 80h1v1h-1zM38 80h1v1h-1zM43 80h1v1h-1zM45 80h1v1h-1zM47 80h3v1h-3zM52 80h1v1h-1zM57 80h2v1h-2zM60 80h1v1h-1zM0 81h1v1h-1zM3 81h2v1h-2zM17 81h1v1h-1zM20 81h1v1h-1zM24 81h1v1h-1zM27 81h1v1h-1zM32 81h1v1h-1zM35 81h1v1h-1zM39 81h1v1h-1zM42 81h5v1h-5zM48 81h2v1h-2zM53 81h1v1h-1zM55 81h1v1h-1zM58 81h2v1h-2zM61 81h1v1h-1zM63 81h1v1h-1zM4 82h1v1h-1zM6 82h1v1h-1zM14 82h2v1h-2zM26 82h2v1h-2zM29 82h1v1h-1zM35 82h1v1h-1zM38 82h1v1h-1zM40 82h1v1h-1zM43 82h2v1h-2zM49 82h1v1h-1zM54 82h1v1h-1zM62 82h1v1h-1zM9 83h1v1h-1zM20 83h2v1h-2zM33 83h1v1h-1zM39 83h2v1h-2zM44 83h1v1h-1zM47 83h1v1h-1zM9 84h1v1h-1zM28 84h1v1h-1zM32 84h3v1h-3zM37 84h1v1h-1zM39 84h1v1h-1zM45 84h1v1h-1zM0 85h1v1h-1zM6 85h1v1h-1zM10 85h1v1h-1zM17 85h3v1h-3zM21 85h1v1h-1zM25 85h1v1h-1zM30 85h2v1h-2zM38 85h1v1h-1zM40 85h1v1h-1zM42 85h1v1h-1zM45 85h1v1h-1zM52 85h1v1h-1zM59 85h2v1h-2zM62 85h2v1h-2zM0 86h1v1h-1zM4 86h1v1h-1zM6 86h3v1h-3zM14 86h2v1h-2zM21 86h1v1h-1zM33 86h1v1h-1zM35 86h1v1h-1zM38 86h5v1h-5zM44 86h1v1h-1zM46 86h1v1h-1zM48 86h1v1h-1zM51 86h1v1h-1zM53 86h5v1h-5zM61 86h2v1h-2zM0 87h2v1h-2zM6 87h2v1h-2zM12 87h1v1h-1zM14 87h1v1h-1zM18 87h1v1h-1zM20 87h1v1h-1zM23 87h1v1h-1zM27 87h1v1h-1zM31 87h1v1h-1zM38 87h1v1h-1zM41 87h1v1h-1zM46 87h1v1h-1zM48 87h1v1h-1zM50 87h1v1h-1zM52 87h1v1h-1zM57 87h1v1h-1zM61 87h1v1h-1zM4 88h1v1h-1zM8 88h1v1h-1zM13 88h2v1h-2zM20 88h2v1h-2zM23 88h2v1h-2zM26 88h1v1h-1zM34 88h2v1h-2zM41 88h1v1h-1zM45 88h7v1h-7zM53 88h6v1h-6zM61 88h1v1h-1zM63 88h1v1h-1zM1 89h1v1h-1zM5 89h1v1h-1zM8 89h1v1h-1zM22 89h1v1h-1zM24 89h1v1h-1zM30 89h1v1h-1zM32 89h1v1h-1zM34 89h1v1h-1zM38 89h1v1h-1zM46 89h1v1h-1zM53 89h1v1h-1zM55 89h1v1h-1zM57 89h1v1h-1zM59 89h1v1h-1zM61 89h1v1h-1zM63 89h1v1h-1zM17 90h1v1h-1zM25 90h1v1h-1zM38 90h3v1h-3zM45 90h1v1h-1zM49 90h1v1h-1zM53 90h1v1h-1zM63 90h1v1h-1zM4 91h1v1h-1zM8 91h2v1h-2zM27 91h1v1h-1zM35 91h2v1h-2zM41 91h1v1h-1zM43 91h3v1h-3zM49 91h1v1h-1zM53 91h1v1h-1zM55 91h1v1h-1zM58 91h1v1h-1zM4 92h1v1h-1zM9 92h1v1h-1zM14 92h1v1h-1zM19 92h1v1h-1zM24 92h2v1h-2zM27 92h2v1h-2zM31 92h1v1h-1zM33 92h1v1h-1zM35 92h3v1h-3zM39 92h1v1h-1zM41 92h1v1h-1zM44 92h1v1h-1zM47 92h1v1h-1zM50 92h1v1h-1zM52 92h1v1h-1zM55 92h1v1h-1zM59 92h1v1h-1zM61 92h1v1h-1zM1 93h2v1h-2zM5 93h1v1h-1zM13 93h1v1h-1zM15 93h1v1h-1zM23 93h1v1h-1zM30 93h1v1h-1zM33 93h1v1h-1zM36 93h1v1h-1zM46 93h1v1h-1zM52 93h1v1h-1zM54 93h2v1h-2zM10 94h1v1h-1zM18 94h2v1h-2zM22 94h2v1h-2zM35 94h1v1h-1zM41 94h1v1h-1zM43 94h1v1h-1zM45 94h1v1h-1zM47 94h1v1h-1zM52 94h1v1h-1zM55 94h1v1h-1zM0 95h1v1h-1zM6 95h1v1h-1zM18 95h2v1h-2zM21 95h1v1h-1zM31 95h1v1h-1zM33 95h2v1h-2zM37 95h2v1h-2zM40 95h1v1h-1zM49 95h1v1h-1zM51 95h1v1h-1zM54 95h2v1h-2zM57 95h3v1h-3zM63 95h1v1h-1zM6 96h3v1h-3zM11 96h1v1h-1zM15 96h1v1h-1zM17 96h2v1h-2zM21 96h1v1h-1zM24 96h1v1h-1zM26 96h1v1h-1zM30 96h2v1h-2zM35 96h1v1h-1zM37 96h2v1h-2zM40 96h1v1h-1zM42 96h3v1h-3zM46 96h1v1h-1zM52 96h1v1h-1zM61 96h3v1h-3zM4 97h2v1h-2zM8 97h1v1h-1zM11 97h1v1h-1zM14 97h1v1h-1zM19 97h1v1h-1zM22 97h1v1h-1zM34 97h2v1h-2zM37 97h3v1h-3zM45 97h2v1h-2zM49 97h2v1h-2zM53 97h1v1h-1zM57 97h1v1h-1zM59 97h1v1h-1zM61 97h1v1h-1zM63 97h1v1h-1zM9 98h1v1h-1zM14 98h1v1h-1zM18 98h1v1h-1zM20 98h2v1h-2zM24 98h1v1h-1zM26 98h1v1h-1zM29 98h1v1h-1zM38 98h1v1h-1zM44 98h1v1h-1zM50 98h1v1h-1zM54 98h2v1h-2zM58 98h1v1h-1zM61 98h2v1h-2zM17 100h1v1h-1zM19 100h1v1h-1zM23 100h1v1h-1zM30 100h1v1h-1zM33 100h2v1h-2zM39 100h1v1h-1zM41 100h2v1h-2zM56 100h3v1h-3zM60 100h1v1h-1zM63 100h1v1h-1zM0 101h1v1h-1zM3 101h1v1h-1zM20 101h2v1h-2zM24 101h1v1h-1zM27 101h1v1h-1zM30 101h5v1h-5zM42 101h2v1h-2zM45 101h2v1h-2zM63 101h1v1h-1zM4 102h1v1h-1zM6 102h1v1h-1zM12 102h1v1h-1zM18 102h4v1h-4zM24 102h4v1h-4zM31 102h2v1h-2zM34 102h1v1h-1zM38 102h4v1h-4zM43 102h1v1h-1zM45 102h2v1h-2zM53 102h1v1h-1zM56 102h1v1h-1zM58 102h2v1h-2zM61 102h1v1h-1zM63 102h1v1h-1zM5 103h1v1h-1zM7 103h1v1h-1zM9 103h2v1h-2zM12 103h1v1h-1zM15 103h1v1h-1zM26 103h1v1h-1zM29 103h1v1h-1zM36 103h1v1h-1zM40 103h1v1h-1zM49 103h1v1h-1zM51 103h1v1h-1zM4 104h1v1h-1zM7 104h3v1h-3zM21 104h3v1h-3zM29 104h4v1h-4zM34 104h1v1h-1zM40 104h1v1h-1zM42 104h1v1h-1zM44 104h3v1h-3zM57 104h1v1h-1zM61 104h1v1h-1zM63 104h1v1h-1zM2 105h2v1h-2zM5 105h2v1h-2zM10 105h2v1h-2zM15 105h1v1h-1zM17 105h1v1h-1zM33 105h1v1h-1zM37 105h1v1h-1zM42 105h2v1h-2zM48 105h3v1h-3zM54 105h1v1h-1zM56 105h1v1h-1zM59 105h1v1h-1zM61 105h2v1h-2zM0 106h1v1h-1zM4 106h1v1h-1zM8 106h2v1h-2zM22 106h1v1h-1zM27 106h1v1h-1zM30 106h1v1h-1zM33 106h1v1h-1zM35 106h1v1h-1zM44 106h1v1h-1zM48 106h1v1h-1zM53 106h1v1h-1zM55 106h1v1h-1zM58 106h2v1h-2zM63 106h1v1h-1zM2 107h1v1h-1zM9 107h1v1h-1zM12 107h1v1h-1zM16 107h2v1h-2zM20 107h1v1h-1zM25 107h1v1h-1zM27 107h1v1h-1zM33 107h1v1h-1zM35 107h2v1h-2zM40 107h2v1h-2zM44 107h1v1h-1zM46 107h1v1h-1zM48 107h1v1h-1zM58 107h1v1h-1z"/>
<path fill="#e7e7ff" d="M5 0h1v1h-1zM8 0h1v1h-1zM14 0h1v1h-1zM17 0h3v1h-3zM25 0h1v1h-1zM33 0h1v1h-1zM35 0h1v1h-1zM37 0h1v1h-1zM1 1h1v1h-1zM8 1h1v1h-1zM12 1h1v1h-1zM21 1h1v1h-1zM23 1h1v1h-1zM27 1h1v1h-1zM33 1h1v1h-1zM35 1h2v1h-2zM39 1h2v1h-2zM42 1h2v1h-2zM46 1h1v1h-1zM49 1h1v1h-1zM0 2h1v1h-1zM3 2h1v1h-1zM5 2h1v1h-1zM8 2h1v1h-1zM11 2h1v1h-1zM18 2h1v1h-1zM22 2h1v1h-1zM31 2h1v1h-1zM33 2h1v1h-1zM40 2h1v1h-1zM42 2h1v1h-1zM47 2h1v1h-1zM49 2h1v1h-1zM4 3h1v1h-1zM6 3h1v1h-1zM8 3h1v1h-1zM10 3h1v1h-1zM13 3h2v1h-2zM20 3h1v1h-1zM22 3h2v1h-2zM27 3h1v1h-1zM29 3h1v1h-1zM34 3h1v1h-1zM40 3h1v1h-1zM44 3h1v1h-1zM46 3h1v1h-1zM53 3h1v1h-1zM13 4h2v1h-2zM22 4h1v1h-1zM28 4h2v1h-2zM33 4h2v1h-2zM38 4h2v1h-2zM41 4h1v1h-1zM3 5h1v1h-1zM6 5h1v1h-1zM9 5h2v1h-2zM17 5h1v1h-1zM21 5h1v1h-1zM23 5h1v1h-1zM26 5h1v1h-1zM30 5h1v1h-1zM33 5h2v1h-2zM38 5h1v1h-1zM41 5h6v1h-6zM0 6h1v1h-1zM2 6h2v1h-2zM7 6h1v1h-1zM10 6h1v1h-1zM16 6h1v1h-1zM18 6h1v1h-1zM25 6h1v1h-1zM29 6h1v1h-1zM36 6h1v1h-1zM38 6h1v1h-1zM45 6h2v1h-2zM50 6h1v1h-1zM53 6h1v1h-1zM57 6h1v1h-1zM2 7h2v1h-2zM8 7h1v1h-1zM15 7h1v1h-1zM23 7h1v1h-1zM25 7h1v1h-1zM29 7h2v1h-2zM34 7h1v1h-1zM43 7h1v1h-1zM46 7h2v1h-2zM0 8h1v1h-1zM2 8h2v1h-2zM11 8h2v1h-2zM19 8h2v1h-2zM22 8h1v1h-1zM28 8h1v1h-1zM32 8h1v1h-1zM34 8h1v1h-1zM40 8h4v1h-4zM47 8h1v1h-1zM0 9h1v1h-1zM2 9h1v1h-1zM4 9h1v1h-1zM11 9h1v1h-1zM22 9h1v1h-1zM24 9h1v1h-1zM28 9h1v1h-1zM35 9h1v1h-1zM47 9h1v1h-1zM3 10h2v1h-2zM14 10h1v1h-1zM17 10h1v1h-1zM20 10h1v1h-1zM24 10h1v1h-1zM26 10h1v1h-1zM28 10h1v1h-1zM42 10h1v1h-1zM44 10h1v1h-1zM47 10h1v1h-1zM58 10h1v1h-1zM5 11h1v1h-1zM7 11h1v1h-1zM10 11h3v1h-3zM19 11h1v1h-1zM27 11h2v1h-2zM31 11h1v1h-1zM35 11h1v1h-1zM39 11h1v1h-1zM41 11h1v1h-1zM45 11h1v1h-1zM47 11h1v1h-1zM0 12h1v1h-1zM3 12h2v1h-2zM8 12h1v1h-1zM11 12h1v1h-1zM20 12h1v1h-1zM29 12h1v1h-1zM32 12h1v1h-1zM34 12h2v1h-2zM40 12h1v1h-1zM42 12h1v1h-1zM1 13h2v1h-2zM6 13h1v1h-1zM9 13h1v1h-1zM17 13h2v1h-2zM27 13h1v1h-1zM30 13h2v1h-2zM33 13h1v1h-1zM39 13h1v1h-1zM42 13h1v1h-1zM45 13h3v1h-3zM55 13h1v1h-1zM2 14h1v1h-1zM4 14h1v1h-1zM7 14h1v1h-1zM9 14h1v1h-1zM12 14h1v1h-1zM27 14h1v1h-1zM32 14h1v1h-1zM35 14h1v1h-1zM43 14h1v1h-1zM2 15h4v1h-4zM8 15h3v1h-3zM15 15h1v1h-1zM19 15h1v1h-1zM22 15h1v1h-1zM30 15h1v1h-1zM32 15h1v1h-1zM34 15h1v1h-1zM38 15h1v1h-1zM41 15h1v1h-1zM45 15h1v1h-1zM47 15h1v1h-1zM0 16h1v1h-1zM9 16h2v1h-2zM18 16h1v1h-1zM34 16h1v1h-1zM41 16h2v1h-2zM44 16h1v1h-1zM5 17h2v1h-2zM18 17h1v1h-1zM20 17h2v1h-2zM23 17h1v1h-1zM25 17h4v1h-4zM34 17h1v1h-1zM41 17h1v1h-1zM44 17h1v1h-1zM47 17h1v1h-1zM3 18h1v1h-1zM11 18h1v1h-1zM14 18h1v1h-1zM16 18h1v1h-1zM18 18h1v1h-1zM20 18h1v1h-1zM24 18h1v1h-1zM27 18h1v1h-1zM32 18h1v1h-1zM35 18h1v1h-1zM39 18h1v1h-1zM46 18h1v1h-1zM56 18h1v1h-1zM3 19h1v1h-1zM10 19h1v1h-1zM15 19h1v1h-1zM22 19h1v1h-1zM25 19h1v1h-1zM33 19h1v1h-1zM35 19h1v1h-1zM4 20h2v1h-2zM7 20h1v1h-1zM9 20h1v1h-1zM11 20h1v1h-1zM15 20h1v1h-1zM19 20h1v1h-1zM21 20h1v1h-1zM28 20h1v1h-1zM34 20h2v1h-2zM40 20h1v1h-1zM42 20h1v1h-1zM46 20h2v1h-2zM1 21h2v1h-2zM4 21h3v1h-3zM18 21h1v1h-1zM21 21h2v1h-2zM27 21h2v1h-2zM30 21h1v1h-1zM35 21h1v1h-1zM41 21h2v1h-2zM1 22h1v1h-1zM10 22h2v1h-2zM14 22h1v1h-1zM18 22h1v1h-1zM23 22h1v1h-1zM30 22h2v1h-2zM38 22h1v1h-1zM40 22h1v1h-1zM44 22h1v1h-1zM8 23h1v1h-1zM10 23h1v1h-1zM13 23h1v1h-1zM19 23h1v1h-1zM24 23h1v1h-1zM35 23h1v1h-1zM38 23h1v1h-1zM43 23h1v1h-1zM47 23h1v1h-1zM53 23h1v1h-1zM60 23h1v1h-1zM62 23h1v1h-1zM6 24h1v1h-1zM9 24h1v1h-1zM28 24h1v1h-1zM33 24h2v1h-2zM47 24h1v1h-1zM8 25h1v1h-1zM15 25h1v1h-1zM22 25h2v1h-2zM28 25h1v1h-1zM32 25h1v1h-1zM34 25h2v1h-2zM46 25h1v1h-1zM0 26h1v1h-1zM5 26h1v1h-1zM11 26h1v1h-1zM14 26h1v1h-1zM18 26h1v1h-1zM20 26h2v1h-2zM29 26h1v1h-1zM33 26h1v1h-1zM42 26h1v1h-1zM45 26h1v1h-1zM53 26h1v1h-1zM0 27h1v1h-1zM3 27h1v1h-1zM15 27h1v1h-1zM18 27h2v1h-2zM22 27h1v1h-1zM28 27h1v1h-1zM35 27h1v1h-1zM39 27h1v1h-1zM44 27h2v1h-2zM47 27h1v1h-1zM2 28h1v1h-1zM6 28h2v1h-2zM13 28h1v1h-1zM21 28h1v1h-1zM23 28h2v1h-2zM30 28h1v1h-1zM35 28h1v1h-1zM39 28h1v1h-1zM42 28h1v1h-1zM44 28h1v1h-1zM47 28h1v1h-1zM51 28h1v1h-1zM53 28h1v1h-1zM0 29h1v1h-1zM3 29h4v1h-4zM11 29h3v1h-3zM21 29h1v1h-1zM29 29h1v1h-1zM35 29h1v1h-1zM41 29h1v1h-1zM44 29h2v1h-2zM48 29h1v1h-1zM58 29h1v1h-1zM7 30h2v1h-2zM10 30h1v1h-1zM12 30h3v1h-3zM22 30h2v1h-2zM30 30h2v1h-2zM33 30h1v1h-1zM37 30h2v1h-2zM40 30h1v1h-1zM43 30h1v1h-1zM47 30h1v1h-1zM50 30h1v1h-1zM0 31h2v1h-2zM3 31h1v1h-1zM7 31h1v1h-1zM14 31h1v1h-1zM17 31h1v1h-1zM19 31h1v1h-1zM21 31h1v1h-1zM23 31h1v1h-1zM25 31h1v1h-1zM30 31h1v1h-1zM33 31h1v1h-1zM39 31h1v1h-1zM42 31h2v1h-2zM47 31h1v1h-1zM0 32h1v1h-1zM4 32h1v1h-1zM8 32h1v1h-1zM10 32h1v1h-1zM15 32h1v1h-1zM18 32h1v1h-1zM20 32h1v1h-1zM23 32h3v1h-3zM31 32h1v1h-1zM37 32h1v1h-1zM44 32h1v1h-1zM46 32h1v1h-1zM0 33h2v1h-2zM3 33h2v1h-2zM15 33h1v1h-1zM22 33h3v1h-3zM30 33h1v1h-1zM34 33h2v1h-2zM37 33h1v1h-1zM40 33h1v1h-1zM47 33h1v1h-1zM59 33h1v1h-1zM0 34h4v1h-4zM9 34h1v1h-1zM12 34h2v1h-2zM17 34h1v1h-1zM19 34h2v1h-2zM22 34h1v1h-1zM27 34h1v1h-1zM31 34h1v1h-1zM35 34h1v1h-1zM38 34h1v1h-1zM41 34h2v1h-2zM45 34h2v1h-2zM49 34h1v1h-1zM58 34h1v1h-1zM1 35h1v1h-1zM17 35h1v1h-1zM27 35h1v1h-1zM33 35h1v1h-1zM35 35h1v1h-1zM43 35h1v1h-1zM45 35h1v1h-1zM47 35h1v1h-1zM1 36h3v1h-3zM6 36h1v1h-1zM14 36h1v1h-1zM23 36h1v1h-1zM28 36h1v1h-1zM31 36h1v1h-1zM34 36h1v1h-1zM37 36h1v1h-1zM40 36h4v1h-4zM45 36h2v1h-2zM49 36h1v1h-1zM51 36h2v1h-2zM61 36h1v1h-1zM1 37h2v1h-2zM5 37h1v1h-1zM7 37h3v1h-3zM17 37h2v1h-2zM20 37h1v1h-1zM23 37h2v1h-2zM26 37h2v1h-2zM29 37h1v1h-1zM31 37h1v1h-1zM37 37h1v1h-1zM39 37h1v1h-1zM41 37h1v1h-1zM45 37h2v1h-2zM59 37h1v1h-1zM3 38h1v1h-1zM11 38h1v1h-1zM15 38h1v1h-1zM17 38h1v1h-1zM19 38h1v1h-1zM22 38h1v1h-1zM28 38h1v1h-1zM32 38h1v1h-1zM34 38h2v1h-2zM37 38h1v1h-1zM41 38h1v1h-1zM1 39h1v1h-1zM9 39h1v1h-1zM12 39h2v1h-2zM15 39h3v1h-3zM22 39h1v1h-1zM29 39h1v1h-1zM31 39h1v1h-1zM35 39h1v1h-1zM44 39h1v1h-1zM49 39h1v1h-1zM51 39h1v1h-1zM53 39h1v1h-1zM61 39h1v1h-1zM63 39h1v1h-1zM2 40h1v1h-1zM10 40h1v1h-1zM12 40h1v1h-1zM20 40h2v1h-2zM24 40h1v1h-1zM26 40h1v1h-1zM29 40h1v1h-1zM31 40h1v1h-1zM43 40h2v1h-2zM50 40h2v1h-2zM54 40h1v1h-1zM59 40h1v1h-1zM61 40h1v1h-1zM2 41h1v1h-1zM6 41h1v1h-1zM13 41h1v1h-1zM22 41h1v1h-1zM30 41h1v1h-1zM32 41h1v1h-1zM35 41h1v1h-1zM37 41h1v1h-1zM39 41h1v1h-1zM42 41h1v1h-1zM49 41h1v1h-1zM52 41h1v1h-1zM55 41h1v1h-1zM63 41h1v1h-1zM1 42h1v1h-1zM8 42h1v1h-1zM11 42h2v1h-2zM14 42h1v1h-1zM22 42h1v1h-1zM26 42h1v1h-1zM30 42h5v1h-5zM37 42h2v1h-2zM43 42h1v1h-1zM45 42h2v1h-2zM55 42h1v1h-1zM5 43h1v1h-1zM9 43h1v1h-1zM12 43h1v1h-1zM18 43h2v1h-2zM21 43h1v1h-1zM41 43h1v1h-1zM43 43h1v1h-1zM46 43h2v1h-2zM49 43h1v1h-1zM14 44h2v1h-2zM28 44h1v1h-1zM5 45h1v1h-1zM7 45h1v1h-1zM13 45h3v1h-3zM22 45h2v1h-2zM25 45h2v1h-2zM31 45h1v1h-1zM33 45h1v1h-1zM35 45h1v1h-1zM41 45h1v1h-1zM43 45h1v1h-1zM45 45h1v1h-1zM52 45h1v1h-1zM0 46h1v1h-1zM3 46h1v1h-1zM5 46h2v1h-2zM8 46h1v1h-1zM14 46h2v1h-2zM18 46h2v1h-2zM22 46h1v1h-1zM26 46h2v1h-2zM31 46h4v1h-4zM38 46h2v1h-2zM45 46h1v1h-1zM60 46h1v1h-1zM4 47h1v1h-1zM7 47h2v1h-2zM10 47h1v1h-1zM18 47h2v1h-2zM25 47h2v1h-2zM28 47h1v1h-1zM32 47h3v1h-3zM37 47h1v1h-1zM39 47h1v1h-1zM50 47h1v1h-1zM54 47h1v1h-1zM63 47h1v1h-1zM3 48h1v1h-1zM6 48h2v1h-2zM9 48h1v1h-1zM13 48h1v1h-1zM17 48h1v1h-1zM21 48h1v1h-1zM23 48h4v1h-4zM40 48h2v1h-2zM45 48h1v1h-1zM7 49h1v1h-1zM44 49h1v1h-1zM48 49h1v1h-1zM58 49h2v1h-2zM1 50h1v1h-1zM3 50h3v1h-3zM17 50h3v1h-3zM27 50h1v1h-1zM32 50h1v1h-1zM34 50h1v1h-1zM37 50h1v1h-1zM43 50h2v1h-2zM46 50h1v1h-1zM59 50h1v1h-1zM17 52h1v1h-1zM39 52h1v1h-1zM45 52h1v1h-1zM9 53h1v1h-1zM12 53h1v1h-1zM14 53h1v1h-1zM22 53h1v1h-1zM24 53h1v1h-1zM29 53h4v1h-4zM34 53h1v1h-1zM39 53h1v1h-1zM43 53h1v1h-1zM47 53h3v1h-3zM52 53h1v1h-1zM55 53h1v1h-1zM61 53h1v1h-1zM3 54h1v1h-1zM8 54h1v1h-1zM18 54h1v1h-1zM22 54h1v1h-1zM24 54h1v1h-1zM26 54h2v1h-2zM30 54h1v1h-1zM33 54h3v1h-3zM37 54h1v1h-1zM39 54h2v1h-2zM42 54h1v1h-1zM50 54h1v1h-1zM54 54h1v1h-1zM17 55h1v1h-1zM19 55h1v1h-1zM25 55h1v1h-1zM30 55h1v1h-1zM32 55h2v1h-2zM52 55h1v1h-1zM11 57h1v1h-1zM14 57h1v1h-1zM18 57h2v1h-2zM28 57h1v1h-1zM32 57h1v1h-1zM34 57h2v1h-2zM30 58h1v1h-1zM37 58h1v1h-1zM41 58h3v1h-3zM4 60h1v1h-1zM9 60h1v1h-1zM18 60h1v1h-1zM26 60h1v1h-1zM39 60h1v1h-1zM43 60h3v1h-3zM53 60h1v1h-1zM58 60h2v1h-2zM0 61h1v1h-1zM19 61h1v1h-1zM59 61h1v1h-1zM8 62h1v1h-1zM20 62h2v1h-2zM23 62h1v1h-1zM28 62h1v1h-1zM30 62h1v1h-1zM32 62h1v1h-1zM34 62h2v1h-2zM37 62h1v1h-1zM49 62h1v1h-1zM55 62h1v1h-1zM57 62h1v1h-1zM61 62h1v1h-1zM1 63h1v1h-1zM18 63h1v1h-1zM21 63h1v1h-1zM56 63h1v1h-1zM59 63h1v1h-1zM63 63h1v1h-1zM0 64h1v1h-1zM14 64h1v1h-1zM28 64h1v1h-1zM47 64h1v1h-1zM39 65h1v1h-1zM47 65h1v1h-1zM17 66h1v1h-1zM20 66h1v1h-1zM25 66h1v1h-1zM28 66h1v1h-1zM32 66h1v1h-1zM44 66h1v1h-1zM52 66h1v1h-1zM62 66h1v1h-1zM29 67h1v1h-1zM31 67h2v1h-2zM40 67h1v1h-1zM59 67h1v1h-1zM2 68h1v1h-1zM5 68h1v1h-1zM13 68h1v1h-1zM16 68h1v1h-1zM20 68h1v1h-1zM23 68h1v1h-1zM29 68h1v1h-1zM33 68h1v1h-1zM35 68h1v1h-1zM43 68h1v1h-1zM45 68h1v1h-1zM48 68h1v1h-1zM53 68h1v1h-1zM56 68h3v1h-3zM62 68h1v1h-1zM18 69h1v1h-1zM21 69h1v1h-1zM23 69h2v1h-2zM39 69h1v1h-1zM41 69h1v1h-1zM49 69h2v1h-2zM53 69h1v1h-1zM59 69h1v1h-1zM63 69h1v1h-1zM9 70h1v1h-1zM12 70h2v1h-2zM18 70h1v1h-1zM27 70h1v1h-1zM32 70h1v1h-1zM34 70h2v1h-2zM39 70h1v1h-1zM42 70h3v1h-3zM51 70h1v1h-1zM55 70h1v1h-1zM4 71h1v1h-1zM8 71h1v1h-1zM19 71h1v1h-1zM26 71h2v1h-2zM32 71h1v1h-1zM34 71h1v1h-1zM47 71h1v1h-1zM49 71h3v1h-3zM53 71h1v1h-1zM55 71h1v1h-1zM62 71h1v1h-1zM30 72h1v1h-1zM45 72h1v1h-1zM17 73h1v1h-1zM22 73h2v1h-2zM28 73h1v1h-1zM30 73h1v1h-1zM34 73h1v1h-1zM39 73h1v1h-1zM42 73h1v1h-1zM45 73h1v1h-1zM51 73h1v1h-1zM18 74h2v1h-2zM46 74h2v1h-2zM56 74h1v1h-1zM9 75h1v1h-1zM24 75h1v1h-1zM39 75h1v1h-1zM41 75h2v1h-2zM46 75h1v1h-1zM50 75h1v1h-1zM52 75h1v1h-1zM39 76h1v1h-1zM42 76h1v1h-1zM44 76h2v1h-2zM47 76h1v1h-1zM54 76h2v1h-2zM58 76h1v1h-1zM60 76h1v1h-1zM4 77h1v1h-1zM9 77h1v1h-1zM40 77h1v1h-1zM42 77h1v1h-1zM44 77h2v1h-2zM55 77h1v1h-1zM58 77h1v1h-1zM1 78h1v1h-1zM28 78h1v1h-1zM46 78h1v1h-1zM33 79h1v1h-1zM63 79h1v1h-1zM4 80h1v1h-1zM13 80h1v1h-1zM18 80h1v1h-1zM24 80h3v1h-3zM28 80h1v1h-1zM33 80h1v1h-1zM35 80h1v1h-1zM37 80h1v1h-1zM40 80h2v1h-2zM50 80h1v1h-1zM53 80h4v1h-4zM59 80h1v1h-1zM61 80h1v1h-1zM15 81h1v1h-1zM18 81h1v1h-1zM31 81h1v1h-1zM33 81h2v1h-2zM37 81h1v1h-1zM40 81h1v1h-1zM52 81h1v1h-1zM60 81h1v1h-1zM0 82h1v1h-1zM8 82h1v1h-1zM11 82h3v1h-3zM17 82h2v1h-2zM22 82h2v1h-2zM25 82h1v1h-1zM28 82h1v1h-1zM30 82h2v1h-2zM37 82h1v1h-1zM42 82h1v1h-1zM45 82h2v1h-2zM50 82h2v1h-2zM58 82h1v1h-1zM60 82h2v1h-2zM47 84h1v1h-1zM52 84h1v1h-1zM5 85h1v1h-1zM15 85h1v1h-1zM22 85h1v1h-1zM27 85h2v1h-2zM34 85h1v1h-1zM39 85h1v1h-1zM43 85h1v1h-1zM47 85h1v1h-1zM53 85h3v1h-3zM58 85h1v1h-1zM9 86h2v1h-2zM19 86h1v1h-1zM23 86h1v1h-1zM28 86h1v1h-1zM30 86h1v1h-1zM32 86h1v1h-1zM34 86h1v1h-1zM37 86h1v1h-1zM43 86h1v1h-1zM45 86h1v1h-1zM47 86h1v1h-1zM49 86h1v1h-1zM52 86h1v1h-1zM59 86h1v1h-1zM63 86h1v1h-1zM4 87h1v1h-1zM9 87h1v1h-1zM19 87h1v1h-1zM22 87h1v1h-1zM28 87h1v1h-1zM32 87h3v1h-3zM37 87h1v1h-1zM39 87h2v1h-2zM42 87h1v1h-1zM44 87h2v1h-2zM47 87h1v1h-1zM49 87h1v1h-1zM51 87h1v1h-1zM54 87h1v1h-1zM58 87h2v1h-2zM63 87h1v1h-1zM9 88h1v1h-1zM18 88h1v1h-1zM37 88h1v1h-1zM40 88h1v1h-1zM44 88h1v1h-1zM52 88h1v1h-1zM3 89h1v1h-1zM17 89h1v1h-1zM19 89h1v1h-1zM33 89h1v1h-1zM40 89h1v1h-1zM45 89h1v1h-1zM51 89h1v1h-1zM60 89h1v1h-1zM15 91h1v1h-1zM19 91h1v1h-1zM22 91h1v1h-1zM25 91h1v1h-1zM28 91h1v1h-1zM32 91h1v1h-1zM39 91h1v1h-1zM59 91h1v1h-1zM63 91h1v1h-1zM1 92h1v1h-1zM18 92h1v1h-1zM20 92h1v1h-1zM32 92h1v1h-1zM34 92h1v1h-1zM38 92h1v1h-1zM40 92h1v1h-1zM42 92h1v1h-1zM46 92h1v1h-1zM49 92h1v1h-1zM51 92h1v1h-1zM53 92h1v1h-1zM56 92h1v1h-1zM58 92h1v1h-1zM6 93h1v1h-1zM12 93h1v1h-1zM17 93h3v1h-3zM24 93h4v1h-4zM29 93h1v1h-1zM35 93h1v1h-1zM38 93h1v1h-1zM40 93h3v1h-3zM44 93h1v1h-1zM48 93h2v1h-2zM53 93h1v1h-1zM56 93h2v1h-2zM59 93h5v1h-5zM46 94h1v1h-1zM63 94h1v1h-1zM4 95h2v1h-2zM8 95h1v1h-1zM25 95h1v1h-1zM27 95h1v1h-1zM29 95h2v1h-2zM32 95h1v1h-1zM43 95h1v1h-1zM45 95h1v1h-1zM4 96h1v1h-1zM9 96h1v1h-1zM12 96h1v1h-1zM19 96h2v1h-2zM27 96h2v1h-2zM33 96h2v1h-2zM45 96h1v1h-1zM49 96h2v1h-2zM54 96h1v1h-1zM56 96h1v1h-1zM60 96h1v1h-1zM2 97h1v1h-1zM9 97h1v1h-1zM13 97h1v1h-1zM28 97h1v1h-1zM32 97h1v1h-1zM47 97h1v1h-1zM56 97h1v1h-1zM3 98h2v1h-2zM11 98h1v1h-1zM17 98h1v1h-1zM19 98h1v1h-1zM23 98h1v1h-1zM25 98h1v1h-1zM28 98h1v1h-1zM30 98h2v1h-2zM34 98h1v1h-1zM37 98h1v1h-1zM39 98h1v1h-1zM41 98h1v1h-1zM43 98h1v1h-1zM45 98h1v1h-1zM47 98h3v1h-3zM51 98h2v1h-2zM56 98h2v1h-2zM63 98h1v1h-1zM9 101h1v1h-1zM12 101h1v1h-1zM39 101h2v1h-2zM51 101h1v1h-1zM58 101h2v1h-2zM8 102h2v1h-2zM28 102h1v1h-1zM30 102h1v1h-1zM33 102h1v1h-1zM37 102h1v1h-1zM47 102h1v1h-1zM55 102h1v1h-1zM0 103h1v1h-1zM2 103h1v1h-1zM6 103h1v1h-1zM8 103h1v1h-1zM11 103h1v1h-1zM13 103h2v1h-2zM16 103h2v1h-2zM19 103h2v1h-2zM22 103h2v1h-2zM25 103h1v1h-1zM27 103h1v1h-1zM31 103h1v1h-1zM33 103h3v1h-3zM41 103h2v1h-2zM44 103h1v1h-1zM46 103h1v1h-1zM48 103h1v1h-1zM50 103h1v1h-1zM52 103h1v1h-1zM54 103h4v1h-4zM60 103h3v1h-3zM0 104h1v1h-1zM39 104h1v1h-1zM41 104h1v1h-1zM43 104h1v1h-1zM48 104h2v1h-2zM51 104h1v1h-1zM58 104h1v1h-1zM0 105h2v1h-2zM4 105h1v1h-1zM7 105h2v1h-2zM12 105h1v1h-1zM18 105h1v1h-1zM20 105h1v1h-1zM22 105h1v1h-1zM28 105h1v1h-1zM32 105h1v1h-1zM38 105h3v1h-3zM45 105h2v1h-2zM53 105h1v1h-1zM58 105h1v1h-1zM60 105h1v1h-1zM63 105h1v1h-1zM29 106h1v1h-1zM38 106h1v1h-1zM43 106h1v1h-1zM49 106h1v1h-1zM0 107h2v1h-2zM3 107h1v1h-1zM10 107h2v1h-2zM22 107h1v1h-1zM24 107h1v1h-1zM26 107h1v1h-1zM29 107h1v1h-1zM31 107h1v1h-1zM34 107h1v1h-1zM38 107h2v1h-2zM42 107h2v1h-2zM47 107h1v1h-1zM49 107h1v1h-1zM52 107h3v1h-3zM56 107h2v1h-2zM61 107h3v1h-3z"/>
<path fill="#ffcccc" d="M9 0h1v1h-1zM38 0h1v1h-1zM47 0h1v1h-1zM9 2h1v1h-1zM50 3h1v1h-1zM58 7h1v1h-1zM61 8h1v1h-1zM57 9h1v1h-1zM60 9h1v1h-1zM10 10h1v1h-1zM59 10h1v1h-1zM18 12h1v1h-1zM54 12h1v1h-1zM56 12h1v1h-1zM60 12h1v1h-1zM53 14h1v1h-1zM60 14h1v1h-1zM52 15h1v1h-1zM5 16h1v1h-1zM8 16h1v1h-1zM55 17h2v1h-2zM37 18h1v1h-1zM43 18h1v1h-1zM55 18h1v1h-1zM52 19h2v1h-2zM14 21h1v1h-1zM50 23h1v1h-1zM58 24h1v1h-1zM62 26h1v1h-1zM26 27h1v1h-1zM32 29h1v1h-1zM48 33h1v1h-1zM34 34h1v1h-1zM59 34h1v1h-1zM48 35h1v1h-1zM44 38h1v1h-1zM2 42h1v1h-1zM2 43h1v1h-1zM63 43h1v1h-1zM55 45h1v1h-1zM57 47h2v1h-2zM51 48h1v1h-1zM57 48h1v1h-1zM51 49h1v1h-1zM0 53h1v1h-1zM31 55h1v1h-1zM54 58h1v1h-1zM11 61h1v1h-1zM12 64h2v1h-2zM21 65h1v1h-1zM58 65h1v1h-1zM11 66h1v1h-1zM11 67h1v1h-1zM39 67h1v1h-1zM11 68h1v1h-1zM11 69h1v1h-1zM11 70h1v1h-1zM21 70h2v1h-2zM24 70h1v1h-1zM4 73h1v1h-1zM3 75h1v1h-1zM31 75h1v1h-1zM57 77h1v1h-1zM12 78h1v1h-1zM46 80h1v1h-1zM62 80h1v1h-1zM41 81h1v1h-1zM7 85h1v1h-1zM13 87h1v1h-1zM35 87h1v1h-1zM38 88h1v1h-1zM6 92h1v1h-1zM63 92h1v1h-1zM7 94h1v1h-1zM14 96h1v1h-1zM2 98h1v1h-1zM42 106h1v1h-1z"/>
<path fill="#ffffff" d="M12 0h1v1h-1zM57 0h1v1h-1zM2 1h1v1h-1zM62 1h1v1h-1zM7 2h1v1h-1zM37 2h1v1h-1zM53 2h1v1h-1zM56 2h2v1h-2zM48 3h1v1h-1zM50 4h1v1h-1zM52 4h1v1h-1zM57 4h1v1h-1zM63 4h1v1h-1zM50 5h2v1h-2zM12 7h1v1h-1zM49 7h1v1h-1zM54 7h1v1h-1zM63 7h1v1h-1zM36 8h1v1h-1zM59 8h1v1h-1zM16 9h1v1h-1zM19 9h1v1h-1zM26 9h1v1h-1zM29 9h1v1h-1zM43 9h1v1h-1zM51 9h1v1h-1zM58 9h1v1h-1zM16 10h1v1h-1zM25 10h1v1h-1zM36 10h1v1h-1zM38 10h1v1h-1zM41 10h1v1h-1zM53 10h1v1h-1zM61 10h1v1h-1zM63 10h1v1h-1zM21 11h1v1h-1zM24 11h1v1h-1zM36 11h1v1h-1zM1 12h1v1h-1zM49 12h1v1h-1zM55 12h1v1h-1zM16 13h1v1h-1zM38 13h1v1h-1zM61 13h2v1h-2zM16 14h1v1h-1zM36 14h1v1h-1zM51 14h1v1h-1zM62 14h1v1h-1zM21 15h1v1h-1zM27 15h1v1h-1zM46 15h1v1h-1zM12 16h1v1h-1zM29 16h1v1h-1zM50 16h1v1h-1zM57 16h1v1h-1zM57 17h1v1h-1zM60 17h1v1h-1zM63 17h1v1h-1zM53 18h2v1h-2zM57 18h2v1h-2zM63 18h1v1h-1zM2 19h1v1h-1zM5 19h3v1h-3zM17 19h1v1h-1zM36 19h1v1h-1zM49 19h1v1h-1zM48 20h1v1h-1zM51 20h1v1h-1zM53 20h1v1h-1zM58 20h1v1h-1zM62 20h1v1h-1zM16 21h1v1h-1zM29 21h1v1h-1zM36 21h1v1h-1zM51 21h1v1h-1zM55 21h2v1h-2zM15 22h1v1h-1zM49 22h1v1h-1zM61 23h1v1h-1zM7 24h2v1h-2zM11 24h1v1h-1zM23 24h1v1h-1zM38 24h1v1h-1zM46 24h1v1h-1zM59 24h1v1h-1zM62 24h1v1h-1zM1 25h1v1h-1zM11 25h1v1h-1zM13 25h2v1h-2zM53 25h1v1h-1zM57 25h1v1h-1zM59 25h1v1h-1zM62 25h1v1h-1zM51 26h1v1h-1zM60 26h1v1h-1zM63 26h1v1h-1zM1 27h1v1h-1zM10 27h1v1h-1zM13 27h1v1h-1zM12 28h1v1h-1zM52 29h1v1h-1zM62 29h1v1h-1zM36 30h1v1h-1zM63 30h1v1h-1zM10 31h1v1h-1zM36 31h1v1h-1zM53 31h2v1h-2zM36 32h1v1h-1zM49 32h1v1h-1zM60 32h1v1h-1zM2 33h1v1h-1zM11 33h2v1h-2zM38 33h1v1h-1zM49 33h1v1h-1zM53 33h1v1h-1zM55 33h1v1h-1zM58 33h1v1h-1zM54 34h3v1h-3zM2 35h1v1h-1zM5 35h1v1h-1zM11 35h1v1h-1zM38 35h1v1h-1zM49 35h3v1h-3zM53 36h1v1h-1zM12 37h1v1h-1zM52 37h1v1h-1zM54 37h1v1h-1zM58 37h1v1h-1zM60 37h1v1h-1zM63 37h1v1h-1zM6 38h1v1h-1zM12 38h1v1h-1zM18 38h1v1h-1zM43 38h1v1h-1zM59 39h1v1h-1zM48 40h1v1h-1zM48 41h1v1h-1zM50 41h1v1h-1zM16 42h1v1h-1zM49 42h1v1h-1zM51 42h1v1h-1zM53 42h2v1h-2zM56 42h1v1h-1zM63 42h1v1h-1zM16 43h1v1h-1zM51 43h1v1h-1zM54 43h1v1h-1zM10 44h1v1h-1zM13 44h1v1h-1zM20 44h1v1h-1zM29 44h1v1h-1zM36 44h1v1h-1zM43 44h2v1h-2zM49 44h1v1h-1zM53 44h1v1h-1zM58 44h2v1h-2zM61 44h1v1h-1zM63 44h1v1h-1zM48 45h1v1h-1zM50 45h1v1h-1zM60 45h1v1h-1zM52 46h1v1h-1zM55 46h1v1h-1zM57 46h1v1h-1zM61 46h1v1h-1zM16 47h1v1h-1zM41 47h1v1h-1zM52 47h2v1h-2zM55 47h1v1h-1zM60 47h1v1h-1zM54 48h1v1h-1zM59 48h2v1h-2zM14 50h1v1h-1zM16 50h1v1h-1zM48 50h1v1h-1zM52 50h1v1h-1zM3 51h1v1h-1zM9 51h1v1h-1zM20 51h3v1h-3zM24 51h1v1h-1zM38 51h1v1h-1zM46 51h1v1h-1zM49 51h1v1h-1zM56 51h1v1h-1zM59 51h1v1h-1zM61 51h1v1h-1zM1 52h3v1h-3zM13 52h1v1h-1zM16 52h1v1h-1zM19 52h2v1h-2zM23 52h1v1h-1zM25 52h2v1h-2zM28 52h2v1h-2zM41 52h1v1h-1zM44 52h1v1h-1zM54 52h1v1h-1zM62 52h1v1h-1zM5 53h1v1h-1zM5 54h1v1h-1zM25 54h1v1h-1zM51 54h1v1h-1zM1 55h1v1h-1zM36 55h1v1h-1zM48 55h1v1h-1zM1 56h1v1h-1zM17 56h4v1h-4zM23 56h1v1h-1zM30 56h2v1h-2zM34 56h2v1h-2zM38 56h1v1h-1zM42 56h1v1h-1zM45 56h3v1h-3zM52 56h4v1h-4zM57 56h2v1h-2zM60 56h2v1h-2zM7 57h2v1h-2zM10 57h1v1h-1zM13 57h1v1h-1zM15 57h1v1h-1zM17 57h1v1h-1zM27 57h1v1h-1zM30 57h1v1h-1zM44 57h1v1h-1zM55 57h1v1h-1zM57 57h1v1h-1zM62 57h1v1h-1zM7 58h1v1h-1zM12 58h1v1h-1zM16 58h1v1h-1zM26 58h2v1h-2zM31 58h1v1h-1zM36 58h1v1h-1zM48 58h1v1h-1zM1 59h1v1h-1zM3 59h1v1h-1zM10 59h1v1h-1zM16 59h1v1h-1zM21 59h1v1h-1zM25 59h1v1h-1zM27 59h2v1h-2zM32 59h1v1h-1zM37 59h1v1h-1zM43 59h1v1h-1zM51 59h1v1h-1zM54 59h3v1h-3zM60 59h2v1h-2zM63 59h1v1h-1zM2 60h1v1h-1zM5 60h1v1h-1zM8 60h1v1h-1zM13 60h1v1h-1zM25 60h1v1h-1zM31 60h1v1h-1zM41 60h1v1h-1zM54 60h1v1h-1zM3 61h1v1h-1zM8 61h1v1h-1zM12 61h3v1h-3zM25 61h2v1h-2zM31 61h1v1h-1zM33 61h1v1h-1zM35 61h1v1h-1zM40 61h3v1h-3zM46 61h1v1h-1zM54 61h3v1h-3zM60 61h1v1h-1zM2 62h1v1h-1zM54 62h1v1h-1zM26 63h1v1h-1zM54 63h1v1h-1zM2 64h1v1h-1zM6 64h1v1h-1zM9 64h2v1h-2zM17 64h1v1h-1zM21 64h1v1h-1zM25 64h2v1h-2zM38 64h1v1h-1zM54 64h1v1h-1zM57 64h1v1h-1zM59 64h1v1h-1zM61 64h1v1h-1zM3 65h5v1h-5zM15 65h1v1h-1zM19 65h1v1h-1zM23 65h1v1h-1zM25 65h2v1h-2zM28 65h1v1h-1zM30 65h1v1h-1zM41 65h1v1h-1zM50 65h1v1h-1zM56 65h2v1h-2zM59 65h1v1h-1zM63 65h1v1h-1zM1 66h1v1h-1zM3 66h1v1h-1zM7 66h1v1h-1zM14 66h1v1h-1zM21 66h1v1h-1zM34 66h1v1h-1zM36 66h1v1h-1zM38 66h1v1h-1zM46 66h1v1h-1zM10 67h1v1h-1zM16 67h1v1h-1zM20 67h1v1h-1zM24 67h3v1h-3zM30 67h1v1h-1zM36 67h1v1h-1zM41 67h1v1h-1zM43 67h2v1h-2zM62 67h1v1h-1zM7 69h1v1h-1zM17 69h1v1h-1zM10 70h1v1h-1zM14 70h1v1h-1zM38 70h1v1h-1zM46 70h1v1h-1zM7 71h1v1h-1zM13 71h1v1h-1zM16 71h2v1h-2zM36 71h1v1h-1zM54 71h1v1h-1zM56 71h1v1h-1zM8 72h1v1h-1zM10 72h1v1h-1zM20 72h1v1h-1zM24 72h4v1h-4zM29 72h1v1h-1zM31 72h1v1h-1zM43 72h1v1h-1zM50 72h1v1h-1zM52 72h1v1h-1zM56 72h1v1h-1zM3 73h1v1h-1zM9 73h1v1h-1zM11 73h1v1h-1zM48 73h1v1h-1zM52 73h1v1h-1zM60 73h1v1h-1zM5 74h1v1h-1zM8 74h1v1h-1zM13 74h1v1h-1zM15 74h2v1h-2zM24 74h2v1h-2zM29 74h1v1h-1zM36 74h1v1h-1zM39 74h1v1h-1zM41 74h1v1h-1zM43 74h1v1h-1zM48 74h1v1h-1zM62 74h1v1h-1zM5 75h1v1h-1zM7 75h1v1h-1zM11 75h1v1h-1zM14 75h1v1h-1zM17 75h1v1h-1zM22 75h1v1h-1zM29 75h1v1h-1zM54 75h1v1h-1zM56 75h1v1h-1zM62 75h1v1h-1zM31 76h1v1h-1zM1 77h1v1h-1zM6 77h1v1h-1zM11 77h2v1h-2zM16 77h1v1h-1zM27 77h1v1h-1zM29 77h1v1h-1zM36 77h1v1h-1zM54 77h1v1h-1zM2 78h1v1h-1zM5 78h4v1h-4zM14 78h1v1h-1zM19 78h1v1h-1zM24 78h2v1h-2zM31 78h1v1h-1zM50 78h1v1h-1zM62 78h1v1h-1zM3 79h1v1h-1zM5 79h1v1h-1zM10 79h2v1h-2zM16 79h1v1h-1zM21 79h1v1h-1zM29 79h1v1h-1zM31 79h1v1h-1zM36 79h1v1h-1zM40 79h1v1h-1zM48 79h1v1h-1zM52 79h1v1h-1zM56 79h1v1h-1zM62 79h1v1h-1zM7 80h1v1h-1zM15 80h1v1h-1zM20 80h1v1h-1zM29 80h1v1h-1zM31 80h1v1h-1zM7 81h1v1h-1zM10 81h2v1h-2zM13 81h2v1h-2zM26 81h1v1h-1zM36 81h1v1h-1zM54 81h1v1h-1zM5 82h1v1h-1zM16 82h1v1h-1zM0 83h3v1h-3zM4 83h1v1h-1zM6 83h1v1h-1zM8 83h1v1h-1zM10 83h3v1h-3zM14 83h1v1h-1zM17 83h1v1h-1zM25 83h1v1h-1zM28 83h2v1h-2zM31 83h2v1h-2zM34 83h2v1h-2zM48 83h1v1h-1zM51 83h1v1h-1zM56 83h1v1h-1zM58 83h1v1h-1zM61 83h1v1h-1zM2 84h1v1h-1zM8 84h1v1h-1zM19 84h1v1h-1zM22 84h1v1h-1zM26 84h2v1h-2zM29 84h1v1h-1zM31 84h1v1h-1zM35 84h2v1h-2zM38 84h1v1h-1zM42 84h1v1h-1zM48 84h1v1h-1zM55 84h2v1h-2zM60 84h1v1h-1zM2 85h1v1h-1zM8 85h1v1h-1zM13 85h1v1h-1zM16 85h1v1h-1zM20 85h1v1h-1zM23 85h2v1h-2zM29 85h1v1h-1zM48 85h1v1h-1zM2 86h1v1h-1zM5 86h1v1h-1zM11 86h2v1h-2zM26 86h1v1h-1zM36 86h1v1h-1zM29 87h1v1h-1zM56 87h1v1h-1zM60 87h1v1h-1zM1 88h1v1h-1zM11 88h2v1h-2zM29 88h2v1h-2zM33 88h1v1h-1zM7 89h1v1h-1zM18 89h1v1h-1zM20 89h2v1h-2zM25 89h3v1h-3zM44 89h1v1h-1zM2 90h1v1h-1zM4 90h3v1h-3zM8 90h2v1h-2zM18 90h1v1h-1zM24 90h1v1h-1zM31 90h2v1h-2zM34 90h1v1h-1zM42 90h3v1h-3zM47 90h1v1h-1zM52 90h1v1h-1zM54 90h3v1h-3zM59 90h1v1h-1zM0 91h1v1h-1zM5 91h1v1h-1zM14 91h1v1h-1zM26 91h1v1h-1zM29 91h1v1h-1zM31 91h1v1h-1zM40 91h1v1h-1zM52 91h1v1h-1zM60 91h1v1h-1zM10 92h1v1h-1zM29 92h1v1h-1zM48 92h1v1h-1zM1 94h2v1h-2zM4 94h1v1h-1zM6 94h1v1h-1zM8 94h1v1h-1zM11 94h2v1h-2zM16 94h1v1h-1zM21 94h1v1h-1zM25 94h1v1h-1zM27 94h3v1h-3zM31 94h1v1h-1zM34 94h1v1h-1zM48 94h1v1h-1zM50 94h1v1h-1zM53 94h2v1h-2zM57 94h2v1h-2zM60 94h1v1h-1zM62 94h1v1h-1zM2 95h1v1h-1zM11 95h1v1h-1zM13 95h1v1h-1zM26 95h1v1h-1zM47 95h1v1h-1zM60 95h1v1h-1zM1 97h1v1h-1zM12 97h1v1h-1zM16 97h1v1h-1zM24 97h1v1h-1zM36 97h1v1h-1zM48 97h1v1h-1zM51 97h2v1h-2zM54 97h1v1h-1zM4 99h1v1h-1zM8 99h1v1h-1zM19 99h1v1h-1zM32 99h1v1h-1zM34 99h2v1h-2zM39 99h1v1h-1zM42 99h1v1h-1zM45 99h1v1h-1zM47 99h1v1h-1zM49 99h2v1h-2zM55 99h1v1h-1zM57 99h2v1h-2zM61 99h3v1h-3zM0 100h1v1h-1zM4 100h1v1h-1zM11 100h1v1h-1zM14 100h1v1h-1zM21 100h2v1h-2zM26 100h3v1h-3zM44 100h2v1h-2zM53 100h2v1h-2zM62 100h1v1h-1zM2 101h1v1h-1zM5 101h1v1h-1zM10 101h1v1h-1zM13 101h2v1h-2zM19 101h1v1h-1zM22 101h1v1h-1zM29 101h1v1h-1zM35 101h2v1h-2zM56 101h1v1h-1zM7 102h1v1h-1zM16 102h2v1h-2zM36 102h1v1h-1zM44 102h1v1h-1zM60 102h1v1h-1zM24 103h1v1h-1zM38 103h1v1h-1zM5 104h2v1h-2zM11 104h3v1h-3zM26 104h2v1h-2zM13 105h1v1h-1zM1 106h1v1h-1zM5 106h1v1h-1zM10 106h2v1h-2zM13 106h1v1h-1zM17 106h1v1h-1zM20 106h1v1h-1zM25 106h1v1h-1zM31 106h1v1h-1zM34 106h1v1h-1zM36 106h1v1h-1z"/>
<path fill="#d7d7ff" d="M20 0h1v1h-1zM29 0h1v1h-1zM45 0h1v1h-1zM28 1h1v1h-1zM4 2h1v1h-1zM19 2h1v1h-1zM28 2h1v1h-1zM12 3h1v1h-1zM2 4h1v1h-1zM17 4h1v1h-1zM19 4h1v1h-1zM23 4h1v1h-1zM30 4h1v1h-1zM32 4h1v1h-1zM40 4h1v1h-1zM2 5h1v1h-1zM19 5h1v1h-1zM28 5h2v1h-2zM31 5h1v1h-1zM37 5h1v1h-1zM47 5h1v1h-1zM53 5h1v1h-1zM4 6h1v1h-1zM8 6h1v1h-1zM14 6h1v1h-1zM19 6h3v1h-3zM28 6h1v1h-1zM30 6h3v1h-3zM34 6h1v1h-1zM40 6h2v1h-2zM9 7h1v1h-1zM19 7h1v1h-1zM22 7h1v1h-1zM32 7h1v1h-1zM35 7h1v1h-1zM39 7h1v1h-1zM45 7h1v1h-1zM49 8h1v1h-1zM5 10h1v1h-1zM30 11h1v1h-1zM22 12h1v1h-1zM8 14h1v1h-1zM18 14h1v1h-1zM20 14h1v1h-1zM22 14h1v1h-1zM34 14h1v1h-1zM30 16h1v1h-1zM1 17h1v1h-1zM8 17h1v1h-1zM14 17h2v1h-2zM19 17h1v1h-1zM30 17h1v1h-1zM0 18h1v1h-1zM8 18h1v1h-1zM10 18h1v1h-1zM12 18h1v1h-1zM21 18h1v1h-1zM23 18h1v1h-1zM28 18h1v1h-1zM30 18h1v1h-1zM36 18h1v1h-1zM41 18h1v1h-1zM22 20h1v1h-1zM30 20h1v1h-1zM0 21h1v1h-1zM3 21h1v1h-1zM32 21h1v1h-1zM4 23h1v1h-1zM9 23h1v1h-1zM11 23h1v1h-1zM14 23h2v1h-2zM18 23h1v1h-1zM26 23h1v1h-1zM32 23h1v1h-1zM34 23h1v1h-1zM41 23h1v1h-1zM45 23h1v1h-1zM3 26h1v1h-1zM7 26h2v1h-2zM17 26h1v1h-1zM32 26h1v1h-1zM5 27h1v1h-1zM37 27h1v1h-1zM4 28h1v1h-1zM14 28h1v1h-1zM18 28h2v1h-2zM40 28h1v1h-1zM45 28h1v1h-1zM8 29h2v1h-2zM18 29h1v1h-1zM20 29h1v1h-1zM24 29h1v1h-1zM37 29h1v1h-1zM47 29h1v1h-1zM59 29h1v1h-1zM0 30h1v1h-1zM4 30h2v1h-2zM32 30h1v1h-1zM34 30h1v1h-1zM8 31h1v1h-1zM40 31h1v1h-1zM6 33h1v1h-1zM39 33h1v1h-1zM4 34h1v1h-1zM28 34h1v1h-1zM40 34h1v1h-1zM22 35h1v1h-1zM20 36h1v1h-1zM32 36h1v1h-1zM28 37h1v1h-1zM32 37h1v1h-1zM27 38h1v1h-1zM39 38h1v1h-1zM2 39h1v1h-1zM5 39h1v1h-1zM10 39h1v1h-1zM18 39h1v1h-1zM28 39h1v1h-1zM32 39h1v1h-1zM34 39h1v1h-1zM38 39h1v1h-1zM42 39h1v1h-1zM45 39h1v1h-1zM47 39h1v1h-1zM0 40h1v1h-1zM5 40h3v1h-3zM15 40h1v1h-1zM30 40h1v1h-1zM32 40h2v1h-2zM39 40h1v1h-1zM45 40h2v1h-2zM49 40h1v1h-1zM56 40h1v1h-1zM60 40h1v1h-1zM0 41h1v1h-1zM5 41h1v1h-1zM8 41h1v1h-1zM15 41h1v1h-1zM18 41h2v1h-2zM23 41h1v1h-1zM31 41h1v1h-1zM34 41h1v1h-1zM40 41h1v1h-1zM45 41h1v1h-1zM59 41h1v1h-1zM44 42h1v1h-1zM47 42h1v1h-1zM25 43h1v1h-1zM4 45h1v1h-1zM18 45h1v1h-1zM21 45h1v1h-1zM28 45h1v1h-1zM63 45h1v1h-1zM30 46h1v1h-1zM12 48h1v1h-1zM14 48h1v1h-1zM43 48h1v1h-1zM47 48h1v1h-1zM0 49h2v1h-2zM5 49h1v1h-1zM9 49h1v1h-1zM13 49h1v1h-1zM17 49h3v1h-3zM21 49h3v1h-3zM27 49h2v1h-2zM32 49h1v1h-1zM43 49h1v1h-1zM47 49h1v1h-1zM57 49h1v1h-1zM63 49h1v1h-1zM28 50h1v1h-1zM33 50h1v1h-1zM39 50h1v1h-1zM5 62h1v1h-1zM28 68h1v1h-1zM40 68h1v1h-1zM47 68h1v1h-1zM20 69h1v1h-1zM14 93h1v1h-1zM20 93h1v1h-1zM43 93h1v1h-1zM18 103h1v1h-1zM30 103h1v1h-1zM39 103h1v1h-1zM59 103h1v1h-1zM18 104h1v1h-1zM9 105h1v1h-1zM30 105h1v1h-1zM8 107h1v1h-1zM45 107h1v1h-1z"/>
<path fill="#ff8585" d="M26 0h1v1h-1zM26 1h1v1h-1zM49 4h1v1h-1zM61 14h1v1h-1zM61 19h1v1h-1zM27 23h1v1h-1zM36 28h1v1h-1zM58 40h1v1h-1zM20 45h1v1h-1zM5 58h1v1h-1zM43 78h1v1h-1zM9 93h1v1h-1zM9 94h1v1h-1zM39 96h1v1h-1z"/>
<path fill="#fff5f5" d="M48 0h1v1h-1zM54 0h1v1h-1zM58 0h1v1h-1zM60 0h1v1h-1zM62 0h1v1h-1zM52 1h1v1h-1zM57 1h1v1h-1zM59 1h1v1h-1zM54 3h1v1h-1zM60 3h1v1h-1zM54 4h2v1h-2zM16 5h1v1h-1zM48 5h1v1h-1zM54 6h1v1h-1zM62 8h1v1h-1zM48 9h1v1h-1zM48 10h1v1h-1zM52 10h1v1h-1zM54 10h1v1h-1zM48 11h1v1h-1zM59 11h1v1h-1zM61 11h1v1h-1zM36 13h1v1h-1zM51 13h1v1h-1zM59 13h1v1h-1zM16 15h1v1h-1zM49 15h1v1h-1zM51 15h1v1h-1zM57 15h1v1h-1zM58 16h1v1h-1zM12 19h1v1h-1zM38 19h1v1h-1zM50 19h2v1h-2zM54 19h1v1h-1zM57 19h1v1h-1zM59 19h1v1h-1zM54 20h1v1h-1zM56 20h1v1h-1zM59 20h1v1h-1zM63 20h1v1h-1zM48 21h1v1h-1zM50 21h1v1h-1zM57 21h2v1h-2zM16 22h1v1h-1zM48 22h1v1h-1zM50 22h1v1h-1zM52 22h1v1h-1zM56 22h2v1h-2zM59 22h3v1h-3zM63 22h1v1h-1zM1 24h1v1h-1zM5 24h1v1h-1zM16 24h1v1h-1zM53 24h1v1h-1zM55 24h2v1h-2zM50 25h2v1h-2zM56 25h1v1h-1zM61 25h1v1h-1zM63 25h1v1h-1zM48 26h1v1h-1zM52 26h1v1h-1zM56 26h1v1h-1zM61 26h1v1h-1zM49 27h1v1h-1zM55 27h4v1h-4zM60 27h1v1h-1zM62 27h1v1h-1zM57 28h1v1h-1zM60 28h3v1h-3zM56 29h1v1h-1zM48 30h1v1h-1zM54 30h1v1h-1zM60 30h1v1h-1zM52 31h1v1h-1zM56 31h1v1h-1zM62 31h1v1h-1zM12 32h1v1h-1zM51 32h1v1h-1zM53 32h1v1h-1zM56 32h2v1h-2zM51 33h1v1h-1zM60 33h3v1h-3zM13 35h1v1h-1zM53 35h1v1h-1zM55 35h1v1h-1zM58 35h1v1h-1zM48 36h1v1h-1zM62 36h1v1h-1zM51 37h1v1h-1zM55 37h3v1h-3zM54 38h1v1h-1zM57 38h1v1h-1zM62 38h1v1h-1zM52 39h1v1h-1zM50 43h1v1h-1zM52 43h1v1h-1zM55 43h1v1h-1zM62 43h1v1h-1zM16 44h1v1h-1zM48 44h1v1h-1zM54 44h1v1h-1zM57 44h1v1h-1zM60 44h1v1h-1zM50 46h1v1h-1zM62 46h1v1h-1zM36 47h1v1h-1zM42 47h1v1h-1zM52 48h1v1h-1zM55 50h2v1h-2zM58 50h1v1h-1zM1 51h2v1h-2zM5 51h1v1h-1zM7 51h2v1h-2zM10 51h1v1h-1zM12 51h2v1h-2zM15 51h1v1h-1zM17 51h1v1h-1zM26 51h2v1h-2zM29 51h1v1h-1zM36 51h1v1h-1zM41 51h1v1h-1zM52 51h1v1h-1zM60 51h1v1h-1zM62 51h1v1h-1zM6 52h1v1h-1zM10 52h3v1h-3zM62 53h1v1h-1zM17 54h1v1h-1zM7 55h1v1h-1zM11 55h2v1h-2zM24 55h1v1h-1zM62 55h1v1h-1zM7 56h1v1h-1zM9 56h1v1h-1zM13 56h3v1h-3zM24 56h1v1h-1zM27 56h3v1h-3zM40 56h1v1h-1zM43 56h1v1h-1zM31 57h1v1h-1zM7 59h1v1h-1zM9 59h1v1h-1zM13 59h2v1h-2zM18 59h1v1h-1zM29 59h1v1h-1zM36 59h1v1h-1zM59 59h1v1h-1zM5 61h2v1h-2zM10 61h1v1h-1zM15 61h2v1h-2zM20 61h1v1h-1zM22 61h1v1h-1zM36 61h1v1h-1zM38 61h1v1h-1zM44 61h2v1h-2zM57 61h1v1h-1zM62 61h1v1h-1zM16 62h1v1h-1zM6 63h1v1h-1zM36 63h1v1h-1zM3 64h1v1h-1zM7 64h1v1h-1zM20 64h1v1h-1zM36 64h1v1h-1zM48 64h1v1h-1zM0 65h3v1h-3zM29 65h1v1h-1zM43 65h1v1h-1zM62 65h1v1h-1zM29 66h1v1h-1zM55 66h1v1h-1zM6 67h1v1h-1zM25 69h1v1h-1zM36 70h1v1h-1zM2 72h2v1h-2zM6 72h2v1h-2zM16 72h1v1h-1zM21 72h1v1h-1zM25 73h1v1h-1zM29 73h1v1h-1zM12 74h1v1h-1zM26 74h2v1h-2zM10 77h1v1h-1zM14 77h1v1h-1zM31 77h1v1h-1zM3 78h1v1h-1zM13 78h1v1h-1zM17 78h1v1h-1zM26 78h1v1h-1zM27 79h1v1h-1zM12 80h1v1h-1zM5 83h1v1h-1zM7 83h1v1h-1zM13 83h1v1h-1zM23 83h1v1h-1zM26 83h2v1h-2zM36 83h1v1h-1zM0 84h2v1h-2zM10 84h1v1h-1zM12 84h1v1h-1zM14 84h1v1h-1zM20 84h1v1h-1zM36 85h1v1h-1zM18 86h1v1h-1zM6 88h1v1h-1zM16 88h1v1h-1zM36 88h1v1h-1zM10 89h1v1h-1zM14 89h1v1h-1zM48 89h1v1h-1zM1 90h1v1h-1zM3 90h1v1h-1zM7 90h1v1h-1zM10 90h2v1h-2zM13 90h2v1h-2zM16 90h1v1h-1zM20 90h4v1h-4zM26 90h1v1h-1zM29 90h1v1h-1zM46 90h1v1h-1zM48 90h1v1h-1zM50 90h2v1h-2zM57 90h1v1h-1zM60 90h1v1h-1zM62 90h1v1h-1zM1 91h1v1h-1zM6 91h1v1h-1zM16 91h1v1h-1zM7 92h1v1h-1zM20 94h1v1h-1zM36 94h1v1h-1zM10 95h1v1h-1zM36 95h1v1h-1zM0 99h4v1h-4zM5 99h1v1h-1zM7 99h1v1h-1zM10 99h3v1h-3zM14 99h1v1h-1zM17 99h1v1h-1zM20 99h1v1h-1zM22 99h2v1h-2zM30 99h1v1h-1zM33 99h1v1h-1zM36 99h2v1h-2zM43 99h2v1h-2zM48 99h1v1h-1zM52 99h2v1h-2zM60 99h1v1h-1zM2 100h1v1h-1zM7 100h1v1h-1zM10 100h1v1h-1zM12 100h2v1h-2zM14 102h1v1h-1zM16 104h1v1h-1zM2 106h1v1h-1zM6 106h2v1h-2zM12 106h1v1h-1z"/>
<path fill="#ffc2c2" d="M53 0h1v1h-1zM30 1h1v1h-1zM29 2h1v1h-1zM38 2h1v1h-1zM13 5h1v1h-1zM24 6h1v1h-1zM60 6h1v1h-1zM55 7h1v1h-1zM56 8h2v1h-2zM33 10h1v1h-1zM40 10h1v1h-1zM57 10h1v1h-1zM60 10h1v1h-1zM62 10h1v1h-1zM56 11h2v1h-2zM56 13h2v1h-2zM54 14h1v1h-1zM56 14h1v1h-1zM54 15h2v1h-2zM63 15h1v1h-1zM53 16h3v1h-3zM59 16h1v1h-1zM63 16h1v1h-1zM53 17h1v1h-1zM52 18h1v1h-1zM37 19h1v1h-1zM55 19h1v1h-1zM37 20h1v1h-1zM29 25h1v1h-1zM26 26h1v1h-1zM25 27h1v1h-1zM2 29h1v1h-1zM58 32h1v1h-1zM54 33h1v1h-1zM37 34h1v1h-1zM11 36h2v1h-2zM63 40h1v1h-1zM16 41h1v1h-1zM61 41h1v1h-1zM52 44h1v1h-1zM30 45h1v1h-1zM4 46h1v1h-1zM56 47h1v1h-1zM33 49h1v1h-1zM51 50h1v1h-1zM14 52h1v1h-1zM7 54h1v1h-1zM16 55h1v1h-1zM3 56h1v1h-1zM36 56h1v1h-1zM2 57h2v1h-2zM5 57h1v1h-1zM16 57h1v1h-1zM3 58h1v1h-1zM2 59h1v1h-1zM19 66h1v1h-1zM35 67h1v1h-1zM42 67h1v1h-1zM39 68h1v1h-1zM38 69h1v1h-1zM61 69h1v1h-1zM7 82h1v1h-1zM15 84h1v1h-1zM16 86h1v1h-1zM10 88h1v1h-1zM50 91h1v1h-1zM17 92h1v1h-1zM24 94h1v1h-1zM0 96h1v1h-1zM23 96h1v1h-1z"/>
<path fill="#ffebeb" d="M56 0h1v1h-1zM54 1h1v1h-1zM56 1h1v1h-1zM60 1h1v1h-1zM62 2h1v1h-1zM61 3h1v1h-1zM62 4h1v1h-1zM61 6h1v1h-1zM48 8h1v1h-1zM54 8h1v1h-1zM49 9h1v1h-1zM61 9h1v1h-1zM49 11h1v1h-1zM51 11h1v1h-1zM53 11h1v1h-1zM51 12h1v1h-1zM63 13h1v1h-1zM49 14h1v1h-1zM57 14h1v1h-1zM50 15h1v1h-1zM60 15h1v1h-1zM62 15h1v1h-1zM52 16h1v1h-1zM48 18h1v1h-1zM60 18h1v1h-1zM49 21h1v1h-1zM60 21h3v1h-3zM53 22h3v1h-3zM58 22h1v1h-1zM62 22h1v1h-1zM2 24h1v1h-1zM36 24h1v1h-1zM54 24h1v1h-1zM57 24h1v1h-1zM60 24h1v1h-1zM55 25h1v1h-1zM58 25h1v1h-1zM50 26h1v1h-1zM58 26h1v1h-1zM63 27h1v1h-1zM49 29h1v1h-1zM56 30h2v1h-2zM51 31h1v1h-1zM57 31h1v1h-1zM62 32h1v1h-1zM63 33h1v1h-1zM48 34h1v1h-1zM54 35h1v1h-1zM59 35h1v1h-1zM61 35h2v1h-2zM36 37h1v1h-1zM61 37h2v1h-2zM48 38h1v1h-1zM50 38h1v1h-1zM53 38h1v1h-1zM60 38h1v1h-1zM58 42h1v1h-1zM56 43h3v1h-3zM51 44h1v1h-1zM54 46h1v1h-1zM62 50h1v1h-1zM6 51h1v1h-1zM14 51h1v1h-1zM19 51h1v1h-1zM23 51h1v1h-1zM25 51h1v1h-1zM20 55h1v1h-1zM10 56h3v1h-3zM22 56h1v1h-1zM25 56h1v1h-1zM62 56h1v1h-1zM12 59h1v1h-1zM1 61h2v1h-2zM17 61h2v1h-2zM21 61h1v1h-1zM24 61h1v1h-1zM29 61h1v1h-1zM16 64h1v1h-1zM16 65h1v1h-1zM27 65h1v1h-1zM10 66h1v1h-1zM48 69h1v1h-1zM6 74h1v1h-1zM20 74h1v1h-1zM12 75h1v1h-1zM16 81h1v1h-1zM16 83h1v1h-1zM22 83h1v1h-1zM24 83h1v1h-1zM6 84h1v1h-1zM11 84h1v1h-1zM21 84h1v1h-1zM24 84h1v1h-1zM50 86h1v1h-1zM16 89h1v1h-1zM29 89h1v1h-1zM27 90h1v1h-1zM30 90h1v1h-1zM36 90h1v1h-1zM5 94h1v1h-1zM13 94h1v1h-1zM26 97h1v1h-1zM13 99h1v1h-1zM21 99h1v1h-1zM25 99h1v1h-1zM27 99h1v1h-1zM29 99h1v1h-1zM1 100h1v1h-1zM16 100h1v1h-1zM16 106h1v1h-1z"/>
<path fill="#ffe0e0" d="M61 0h1v1h-1zM58 1h1v1h-1zM52 2h1v1h-1zM58 2h1v1h-1zM52 3h1v1h-1zM51 6h1v1h-1zM57 7h1v1h-1zM61 7h1v1h-1zM52 8h1v1h-1zM52 9h1v1h-1zM54 9h1v1h-1zM52 11h1v1h-1zM54 11h1v1h-1zM38 12h1v1h-1zM50 12h1v1h-1zM57 12h1v1h-1zM59 12h1v1h-1zM48 13h1v1h-1zM50 14h1v1h-1zM48 15h1v1h-1zM51 17h1v1h-1zM60 19h1v1h-1zM62 19h2v1h-2zM52 21h1v1h-1zM56 23h1v1h-1zM59 23h1v1h-1zM52 24h1v1h-1zM48 25h1v1h-1zM52 25h1v1h-1zM54 25h1v1h-1zM60 25h1v1h-1zM54 26h1v1h-1zM57 26h1v1h-1zM48 27h1v1h-1zM59 27h1v1h-1zM51 29h1v1h-1zM50 32h1v1h-1zM52 32h1v1h-1zM61 32h1v1h-1zM63 32h1v1h-1zM52 35h1v1h-1zM51 38h1v1h-1zM56 38h1v1h-1zM63 38h1v1h-1zM48 42h1v1h-1zM48 43h1v1h-1zM56 44h1v1h-1zM48 47h1v1h-1zM61 47h1v1h-1zM61 48h1v1h-1zM26 50h1v1h-1zM61 50h1v1h-1zM63 50h1v1h-1zM4 51h1v1h-1zM11 51h1v1h-1zM16 51h1v1h-1zM26 56h1v1h-1zM63 56h1v1h-1zM5 63h1v1h-1zM13 69h1v1h-1zM20 70h1v1h-1zM7 73h1v1h-1zM14 74h1v1h-1zM22 76h1v1h-1zM49 77h1v1h-1zM56 77h1v1h-1zM41 84h1v1h-1zM12 90h1v1h-1zM16 92h1v1h-1zM14 94h1v1h-1zM3 96h1v1h-1zM21 97h1v1h-1zM6 99h1v1h-1zM24 99h1v1h-1zM26 99h1v1h-1zM28 99h1v1h-1zM31 99h1v1h-1zM15 104h1v1h-1z"/>
<path fill="#ffadad" d="M9 1h1v1h-1zM29 1h1v1h-1zM12 2h1v1h-1zM17 2h1v1h-1zM30 2h1v1h-1zM61 2h1v1h-1zM60 8h1v1h-1zM55 9h1v1h-1zM56 10h1v1h-1zM55 11h1v1h-1zM37 12h1v1h-1zM60 16h1v1h-1zM49 17h1v1h-1zM52 17h1v1h-1zM58 19h1v1h-1zM47 21h1v1h-1zM0 22h1v1h-1zM48 24h1v1h-1zM45 25h1v1h-1zM2 30h1v1h-1zM53 40h1v1h-1zM4 42h1v1h-1zM53 45h1v1h-1zM33 48h1v1h-1zM24 49h1v1h-1zM56 49h1v1h-1zM2 58h1v1h-1zM0 69h1v1h-1zM37 71h1v1h-1zM33 75h1v1h-1zM6 76h1v1h-1zM28 79h1v1h-1zM16 84h2v1h-2zM17 87h1v1h-1zM54 92h1v1h-1zM3 93h1v1h-1zM16 95h1v1h-1zM17 97h1v1h-1zM0 98h1v1h-1zM7 98h1v1h-1zM9 99h1v1h-1zM47 100h1v1h-1zM60 107h1v1h-1z"/>
<path fill="#ffd6d6" d="M61 1h1v1h-1zM56 3h1v1h-1zM60 4h1v1h-1zM54 5h1v1h-1zM62 5h1v1h-1zM21 9h1v1h-1zM58 13h1v1h-1zM48 14h1v1h-1zM52 14h1v1h-1zM48 16h1v1h-1zM56 16h1v1h-1zM19 19h1v1h-1zM30 19h1v1h-1zM45 19h1v1h-1zM48 19h1v1h-1zM60 20h1v1h-1zM59 21h1v1h-1zM49 23h1v1h-1zM26 24h1v1h-1zM50 24h1v1h-1zM61 24h1v1h-1zM59 26h1v1h-1zM14 27h1v1h-1zM53 27h1v1h-1zM48 28h1v1h-1zM59 30h1v1h-1zM62 30h1v1h-1zM48 31h1v1h-1zM11 32h1v1h-1zM54 32h1v1h-1zM25 33h1v1h-1zM52 33h1v1h-1zM48 37h1v1h-1zM49 38h1v1h-1zM60 43h1v1h-1zM45 44h1v1h-1zM58 46h1v1h-1zM0 48h1v1h-1zM57 50h1v1h-1zM7 52h1v1h-1zM27 52h1v1h-1zM15 54h1v1h-1zM34 58h1v1h-1zM27 61h1v1h-1zM22 62h1v1h-1zM29 64h1v1h-1zM11 65h1v1h-1zM13 65h1v1h-1zM16 66h1v1h-1zM14 68h1v1h-1zM1 69h1v1h-1zM12 69h1v1h-1zM19 69h1v1h-1zM19 70h1v1h-1zM41 73h1v1h-1zM7 74h1v1h-1zM10 75h1v1h-1zM15 75h1v1h-1zM10 76h1v1h-1zM13 79h1v1h-1zM25 79h1v1h-1zM3 80h1v1h-1zM6 81h1v1h-1zM30 84h1v1h-1zM20 86h1v1h-1zM27 86h1v1h-1zM34 91h1v1h-1zM21 92h1v1h-1zM12 95h1v1h-1zM15 99h2v1h-2zM24 100h1v1h-1zM29 100h1v1h-1zM19 106h1v1h-1zM23 107h1v1h-1z"/>
<path fill="#ffb8b8" d="M63 1h1v1h-1zM48 2h1v1h-1zM9 3h1v1h-1zM62 3h1v1h-1zM27 5h1v1h-1zM56 6h1v1h-1zM40 7h1v1h-1zM56 7h1v1h-1zM60 7h1v1h-1zM29 8h1v1h-1zM55 8h1v1h-1zM59 9h1v1h-1zM55 10h1v1h-1zM58 11h1v1h-1zM61 12h1v1h-1zM15 13h1v1h-1zM55 14h1v1h-1zM1 15h1v1h-1zM56 15h1v1h-1zM54 17h1v1h-1zM56 19h1v1h-1zM18 24h1v1h-1zM51 24h1v1h-1zM63 24h1v1h-1zM25 25h2v1h-2zM23 26h1v1h-1zM25 26h1v1h-1zM61 27h1v1h-1zM63 28h1v1h-1zM60 31h1v1h-1zM50 33h1v1h-1zM56 33h1v1h-1zM8 34h1v1h-1zM62 40h1v1h-1zM57 41h1v1h-1zM50 42h1v1h-1zM47 44h1v1h-1zM50 44h1v1h-1zM46 46h1v1h-1zM44 47h1v1h-1zM56 48h1v1h-1zM42 50h1v1h-1zM60 50h1v1h-1zM9 54h1v1h-1zM20 54h1v1h-1zM26 55h1v1h-1zM16 56h1v1h-1zM6 59h1v1h-1zM35 60h1v1h-1zM56 62h1v1h-1zM0 67h1v1h-1zM10 68h1v1h-1zM17 70h1v1h-1zM17 80h1v1h-1zM25 81h1v1h-1zM3 86h1v1h-1zM17 86h1v1h-1zM15 87h1v1h-1zM15 90h1v1h-1zM3 95h1v1h-1zM2 96h1v1h-1zM32 98h1v1h-1zM4 101h1v1h-1zM16 101h1v1h-1zM32 106h1v1h-1z"/>
<path fill="#ff5252" d="M26 2h1v1h-1zM63 8h1v1h-1zM63 9h1v1h-1zM62 11h1v1h-1zM25 22h1v1h-1zM60 34h1v1h-1zM24 41h1v1h-1zM53 41h1v1h-1zM24 44h1v1h-1zM2 55h1v1h-1zM6 55h1v1h-1zM0 75h1v1h-1zM9 82h1v1h-1z"/>
<path fill="#cfcfff" d="M39 2h1v1h-1zM0 3h1v1h-1zM0 5h1v1h-1zM9 6h1v1h-1zM28 7h1v1h-1zM18 10h1v1h-1zM24 17h1v1h-1zM4 18h1v1h-1zM29 18h1v1h-1zM0 20h1v1h-1zM8 20h1v1h-1zM28 26h1v1h-1zM30 27h1v1h-1zM17 29h1v1h-1zM3 35h1v1h-1zM0 36h1v1h-1zM25 36h1v1h-1zM4 40h1v1h-1zM9 40h1v1h-1zM18 40h1v1h-1zM22 40h1v1h-1zM28 40h1v1h-1zM40 40h1v1h-1zM32 43h1v1h-1zM9 45h1v1h-1zM8 48h1v1h-1zM18 48h1v1h-1zM4 49h1v1h-1zM8 49h1v1h-1zM34 49h1v1h-1zM37 49h1v1h-1zM39 49h1v1h-1zM41 49h1v1h-1zM46 49h1v1h-1zM49 49h1v1h-1zM61 49h1v1h-1zM8 93h1v1h-1zM5 98h1v1h-1zM4 103h1v1h-1z"/>
<path fill="#ff3d3d" d="M59 2h1v1h-1zM63 12h1v1h-1zM61 15h1v1h-1zM25 21h1v1h-1zM25 23h1v1h-1zM27 32h1v1h-1zM27 33h1v1h-1zM25 38h1v1h-1zM38 49h1v1h-1zM31 51h1v1h-1zM2 53h1v1h-1zM0 73h1v1h-1zM14 107h1v1h-1z"/>
<path fill="#ff7a7a" d="M26 3h1v1h-1zM50 8h1v1h-1zM62 12h1v1h-1zM36 27h1v1h-1zM60 35h1v1h-1zM29 47h1v1h-1zM6 54h1v1h-1zM4 55h1v1h-1zM22 98h1v1h-1zM40 100h1v1h-1z"/>
<path fill="#ff6666" d="M58 3h1v1h-1zM25 24h1v1h-1zM27 28h1v1h-1zM25 39h1v1h-1zM29 45h1v1h-1zM62 47h1v1h-1zM7 63h1v1h-1zM3 92h1v1h-1zM40 99h1v1h-1z"/>
<path fill="#ff5c5c" d="M59 3h1v1h-1zM59 4h1v1h-1zM63 11h1v1h-1zM61 16h1v1h-1zM62 17h1v1h-1zM61 20h1v1h-1zM54 28h1v1h-1zM27 30h1v1h-1zM27 31h1v1h-1zM60 36h1v1h-1zM7 61h1v1h-1zM7 62h1v1h-1zM11 62h1v1h-1zM58 72h1v1h-1zM8 80h1v1h-1zM9 81h1v1h-1zM23 105h1v1h-1z"/>
<path fill="#ff8f8f" d="M49 5h1v1h-1zM36 26h1v1h-1zM5 56h1v1h-1zM4 58h1v1h-1zM0 68h1v1h-1zM46 85h1v1h-1zM3 94h1v1h-1zM39 95h1v1h-1z"/>
<path fill="#ff3333" d="M59 5h1v1h-1zM24 42h1v1h-1zM51 45h1v1h-1zM30 50h1v1h-1zM32 51h1v1h-1zM12 66h1v1h-1zM21 71h1v1h-1zM0 74h1v1h-1z"/>
<path fill="#c7c7ff" d="M22 6h1v1h-1zM9 18h1v1h-1zM34 29h1v1h-1zM39 42h1v1h-1zM15 49h1v1h-1zM42 49h1v1h-1zM45 49h1v1h-1z"/>
<path fill="#ff7070" d="M63 6h1v1h-1zM62 9h1v1h-1zM50 11h1v1h-1zM52 13h1v1h-1zM61 17h1v1h-1zM61 18h1v1h-1zM27 27h1v1h-1zM27 29h1v1h-1zM24 43h1v1h-1zM29 48h1v1h-1zM62 48h1v1h-1zM11 63h1v1h-1zM32 88h1v1h-1zM61 94h1v1h-1z"/>
<path fill="#ff9999" d="M50 7h1v1h-1zM56 9h1v1h-1zM50 10h1v1h-1zM62 16h1v1h-1zM27 24h1v1h-1zM27 25h1v1h-1zM27 26h1v1h-1zM3 42h1v1h-1zM26 43h1v1h-1zM1 46h1v1h-1zM0 66h1v1h-1zM0 70h1v1h-1zM46 84h1v1h-1z"/>
<path fill="#ff4747" d="M62 7h1v1h-1zM62 18h1v1h-1zM51 41h1v1h-1zM29 46h1v1h-1zM51 46h1v1h-1zM29 49h1v1h-1zM30 52h2v1h-2zM2 54h1v1h-1zM17 59h1v1h-1zM7 60h1v1h-1zM47 60h1v1h-1zM11 64h1v1h-1zM0 76h1v1h-1zM15 83h1v1h-1zM18 84h1v1h-1zM28 88h1v1h-1zM9 95h1v1h-1zM10 96h1v1h-1zM10 97h1v1h-1zM1 101h1v1h-1z"/>
<path fill="#ffa3a3" d="M50 9h1v1h-1zM50 18h1v1h-1zM33 25h1v1h-1zM36 25h1v1h-1zM16 26h1v1h-1zM20 30h1v1h-1zM2 31h1v1h-1zM2 32h1v1h-1zM55 44h1v1h-1zM46 47h1v1h-1zM50 50h1v1h-1zM3 55h1v1h-1zM2 56h1v1h-1zM4 56h1v1h-1zM6 56h1v1h-1zM4 57h1v1h-1zM4 59h1v1h-1zM47 62h1v1h-1zM17 79h1v1h-1zM50 93h1v1h-1zM47 101h1v1h-1zM44 105h1v1h-1z"/>
<path fill="#ff1f1f" d="M30 51h1v1h-1zM12 65h1v1h-1zM0 71h1v1h-1zM0 72h1v1h-1zM3 91h1v1h-1zM1 102h1v1h-1zM1 104h1v1h-1zM14 106h1v1h-1z"/>
<path fill="#ff2929" d="M33 51h1v1h-1zM12 67h1v1h-1zM0 77h1v1h-1zM9 80h1v1h-1z"/>
<path fill="#ff1414" d="M8 79h2v1h-2zM1 103h1v1h-1z"/>
<path fill="#ff0a0a" d="M28 89h1v1h-1zM28 90h1v1h-1z"/>
</g>
<path d="M30.3 292.0L30.3 298.0M43.0 293.2L68.0 293.2M82.5 294.6L101.5 294.6M110.0 294.5L131.0 294.5M110.0 294.5L110.0 296.5M141.0 294.8L146.0 294.8M157.0 293.4L262.0 293.4M157.0 293.4L157.0 296.0M262.0 295.5L290.0 295.5M304.0 293.0L304.0 297.0M53.5 296.0L56.8 296.0M61.0 294.6L61.0 297.0M131.0 294.5L131.0 297.0M196.0 295.5L205.0 295.5M230.0 295.5L236.0 295.5" stroke="#666" stroke-width="0.6" fill="none"/>
<text transform="translate(163.00,291.00) scale(1.0,1)" font-size="3" text-anchor="start" fill="#222" font-family="Liberation Sans">ab.cd</text>
<g transform="scale(0.21000000000000002)" font-size="10" fill="#1a1a1a" stroke="#1a1a1a" stroke-width="0.5" font-family="Liberation Sans"><text x="1473.8" y="1428.3">Phe-LPA18:1amineDL-18</text><text x="1473.8" y="1437.8">hydroxy PC Sph-inea</text><text x="1473.8" y="1447.4">CE Car</text><text x="1473.8" y="1457.0">-2</text><text x="1473.8" y="1466.5">amine-y</text><text x="1473.8" y="1476.1">-2- ateoxoDL-amine </text><text x="1473.8" y="1485.6">acid-oxo3-</text><text x="1473.8" y="1495.2">ene-one-ine</text><text x="1473.8" y="1504.8">inePheeneLPADL-PC</text><text x="1473.8" y="1514.3">ine</text><text x="1473.8" y="1523.9">18:1e</text><text x="1473.8" y="1533.4">Phehydroxy-cisTG-2</text><text x="1473.8" y="1543.0">DL- 3--Ala-yl-ineo</text><text x="1473.8" y="1552.5">amineAlaLPC ene-2</text><text x="1473.8" y="1562.1">PEol--</text><text x="1473.8" y="1571.7">Carhydroxy TG-oylSph</text><text x="1473.8" y="1581.2">2,5- 2</text><text x="1473.8" y="1590.8">ylglu-oneoylide ol-ineol</text><text x="1473.8" y="1600.3">DL-eneoxo-gluPhe-3</text><text x="1473.8" y="1609.9">PCPhe-glucis-ene-ene</text><text x="1473.8" y="1619.5">ineDL--oyl at</text><text x="1473.8" y="1629.0">cisSph Sph-gluate</text><text x="1473.8" y="1638.6">CE (16:0) LPC(16:0) </text><text x="1473.8" y="1648.1">Car</text><text x="1473.8" y="1657.7">ineateSphene</text><text x="1473.8" y="1667.3">acid 18:1-PC-ester-SphD</text><text x="1473.8" y="1676.8">oxocis-cis-CarSph-2</text><text x="1473.8" y="1686.4">ideate </text><text x="1473.8" y="1695.9">Ala-PChydroxy-oyl-ide</text><text x="1473.8" y="1705.5">(16:0)cisideami</text><text x="1473.8" y="1715.1">ol-Sphyl-ol</text><text x="1473.8" y="1724.6">onemet</text><text x="1473.8" y="1734.2">cisCarPCg</text><text x="1473.8" y="1743.7">LPC ol-oyl-cisone</text><text x="1473.8" y="1753.3">Ca</text><text x="1473.8" y="1762.8">3--LPAene-C</text><text x="1473.8" y="1772.4">Ph</text><text x="1473.8" y="1782.0">hydroxy PCTGideester ci</text><text x="1473.8" y="1791.5">oxoT</text><text x="1473.8" y="1801.1">one-oyl one3- TGacid g</text><text x="1473.8" y="1810.6">LPA-</text><text x="1473.8" y="1820.2">acidolmethyl(16</text><text x="1473.8" y="1829.8">Car-CE ine Sph acid LPCi</text><text x="1473.8" y="1839.3">PEester PC</text><text x="1473.8" y="1848.9">ylol</text><text x="1473.8" y="1858.4">DL-Car-oyl-(16:0)-acid</text><text x="1473.8" y="1868.0">cis 18:1-2</text><text x="1473.8" y="1877.6">Car3-LP</text><text x="1473.8" y="1887.1">2,5- </text><text x="1473.8" y="1896.7">2,5-ylLPAPE TG</text><text x="1473.8" y="1906.2">Ala-2</text><text x="1473.8" y="1915.8">ide-18:1-3--ideCar-cisDL</text><text x="1473.8" y="1925.4">-2- esterhydroxyLPC </text><text x="1473.8" y="1934.9">ateolene</text><text x="1473.8" y="1944.5">one-TG-2,5-hydr</text><text x="1473.8" y="1954.0">amineD</text><text x="1473.8" y="1963.6">oyl-methyl-amine-</text><text x="1473.8" y="1973.1">18:1oneene-ylLPAone met</text><text x="1473.8" y="1982.7">2,5- aminea</text><text x="1473.8" y="1992.3">(16:0)ester-oxo 2,5-</text><text x="1473.8" y="2001.8">acidamine i</text><text x="1473.8" y="2011.4">TG-</text><text x="1473.8" y="2020.9">2,</text><text x="1473.8" y="2030.5">Sph LPCeneacid o</text><text x="1473.8" y="2040.1">PE PEesterPE-Spho</text><text x="1473.8" y="2049.6">ate</text><text x="1473.8" y="2059.2">ester (16:0)ylAla acid L</text><text x="1473.8" y="2068.7">eneTGCaroxo(16:0)Ca</text><text x="1473.8" y="2078.3">Ala-ester-Car Ala</text><text x="1473.8" y="2087.9">Ala18:1-P</text><text x="1473.8" y="2097.4">18:1ate-DL-acidylPC-CarC</text><text x="1473.8" y="2107.0">LPATG-hydroxyCar-acid-am</text><text x="1473.8" y="2116.5">ol-cisacid</text><text x="1473.8" y="2126.1">me</text><text x="1473.8" y="2135.7">enePhe</text><text x="1473.8" y="2145.2">TG DL- 3-</text><text x="1473.8" y="2154.8">am</text><text x="1473.8" y="2164.3">glu o</text><text x="1473.8" y="2173.9">TG3--CE 2,5-ami</text><text x="1473.8" y="2183.4">ami</text><text x="1473.8" y="2193.0">PCCarPE PC18:1ene</text><text x="1473.8" y="2202.6">-2- glu oxo-18:1</text><text x="1473.8" y="2212.1">18:1olene oyl</text><text x="1473.8" y="2221.7">idehydroxy esterc</text><text x="1473.8" y="2231.2">oneAla idehy</text><text x="1473.8" y="2240.8">LPA-LPA-ideest</text><text x="1473.8" y="2250.4">PE Sph-LPA cis-acidA</text><text x="1473.8" y="2259.9">Sph-PC-18:1LPCoxo--2-</text><text x="1473.8" y="2269.5">Ala18:1-TGPCide -2</text><text x="1473.8" y="2279.0">ylDL- hydroxy </text><text x="1473.8" y="2288.6">oxo-acid ac</text><text x="1473.8" y="2298.2">(16:0)S</text><text x="1473.8" y="2307.7">TG18:1-Sp</text><text x="1473.8" y="2317.3">3- S</text><text x="1473.8" y="2326.8">methyl</text><text x="1473.8" y="2336.4">ineate-hydroxy-acido</text><text x="1473.8" y="2346.0">acid-ateide onePC </text><text x="1473.8" y="2355.5">amineAla-oyl-hydroxyyl </text><text x="1473.8" y="2365.1">hydroxy-hydroxyate yl-in</text><text x="1473.8" y="2374.6">Ala esteridemethyl-Caro</text><text x="1473.8" y="2384.2">acidcismethy</text><text x="1473.8" y="2393.7">ate-ide cisAl</text><text x="1473.8" y="2403.3">Sph-acidPE </text><text x="1473.8" y="2412.9">18:1-acid gluon</text><text x="1473.8" y="2422.4">ide Ala</text><text x="1473.8" y="2432.0">CarPC DL-LPA-</text><text x="1473.8" y="2441.5">2,5-Ala-2- CEoneglu</text><text x="1473.8" y="2451.1">LPAamineTG-2-SphTG</text></g>
<g fill="#777" stroke="#777" stroke-width="0.5" font-family="Liberation Sans"><text transform="translate(30.1,516.3) rotate(90) scale(0.21000000000000002)" font-size="10">S134  e1</text><text transform="translate(34.4,516.3) rotate(90) scale(0.21000000000000002)" font-size="10">S47  1a</text><text transform="translate(38.8,516.3) rotate(90) scale(0.21000000000000002)" font-size="10">C15  ee</text><text transform="translate(43.2,516.3) rotate(90) scale(0.21000000000000002)" font-size="10">P115  21</text><text transform="translate(47.6,516.3) rotate(90) scale(0.21000000000000002)" font-size="10">P154  2a</text><text transform="translate(51.9,516.3) rotate(90) scale(0.21000000000000002)" font-size="10">S118  k1</text><text transform="translate(56.3,516.3) rotate(90) scale(0.21000000000000002)" font-size="10">C114  ee</text><text transform="translate(60.7,516.3) rotate(90) scale(0.21000000000000002)" font-size="10">S60  e1</text><text transform="translate(65.1,516.3) rotate(90) scale(0.21000000000000002)" font-size="10">S160  da</text><text transform="translate(69.5,516.3) rotate(90) scale(0.21000000000000002)" font-size="10">N59  21</text><text transform="translate(73.8,516.3) rotate(90) scale(0.21000000000000002)" font-size="10">C72  ra</text><text transform="translate(78.2,516.3) rotate(90) scale(0.21000000000000002)" font-size="10">C160  b1</text><text transform="translate(82.6,516.3) rotate(90) scale(0.21000000000000002)" font-size="10">P39  ea</text><text transform="translate(87.0,516.3) rotate(90) scale(0.21000000000000002)" font-size="10">P107  12</text><text transform="translate(91.3,516.3) rotate(90) scale(0.21000000000000002)" font-size="10">P63  21</text><text transform="translate(95.7,516.3) rotate(90) scale(0.21000000000000002)" font-size="10">P53  aa</text><text transform="translate(100.1,516.3) rotate(90) scale(0.21000000000000002)" font-size="10">C105  re</text><text transform="translate(104.5,516.3) rotate(90) scale(0.21000000000000002)" font-size="10">C42  11</text><text transform="translate(108.9,516.3) rotate(90) scale(0.21000000000000002)" font-size="10">P118  r1</text><text transform="translate(113.2,516.3) rotate(90) scale(0.21000000000000002)" font-size="10">N72  be</text><text transform="translate(117.6,516.3) rotate(90) scale(0.21000000000000002)" font-size="10">N107  be</text><text transform="translate(122.0,516.3) rotate(90) scale(0.21000000000000002)" font-size="10">N87  r1</text><text transform="translate(126.4,516.3) rotate(90) scale(0.21000000000000002)" font-size="10">P78  1e</text><text transform="translate(130.8,516.3) rotate(90) scale(0.21000000000000002)" font-size="10">P14  a1</text><text transform="translate(135.1,516.3) rotate(90) scale(0.21000000000000002)" font-size="10">C160  k2</text><text transform="translate(139.5,516.3) rotate(90) scale(0.21000000000000002)" font-size="10">C138  1a</text><text transform="translate(143.9,516.3) rotate(90) scale(0.21000000000000002)" font-size="10">C115  re</text><text transform="translate(148.3,516.3) rotate(90) scale(0.21000000000000002)" font-size="10">C131  1e</text><text transform="translate(152.6,516.3) rotate(90) scale(0.21000000000000002)" font-size="10">P106  1a</text><text transform="translate(157.0,516.3) rotate(90) scale(0.21000000000000002)" font-size="10">N92  k2</text><text transform="translate(161.4,516.3) rotate(90) scale(0.21000000000000002)" font-size="10">N78  ke</text><text transform="translate(165.8,516.3) rotate(90) scale(0.21000000000000002)" font-size="10">N50  e1</text><text transform="translate(170.2,516.3) rotate(90) scale(0.21000000000000002)" font-size="10">N24  c1</text><text transform="translate(174.5,516.3) rotate(90) scale(0.21000000000000002)" font-size="10">S104  ke</text><text transform="translate(178.9,516.3) rotate(90) scale(0.21000000000000002)" font-size="10">S59  ca</text><text transform="translate(183.3,516.3) rotate(90) scale(0.21000000000000002)" font-size="10">S118  2e</text><text transform="translate(187.7,516.3) rotate(90) scale(0.21000000000000002)" font-size="10">S130  d1</text><text transform="translate(192.0,516.3) rotate(90) scale(0.21000000000000002)" font-size="10">C102  c2</text><text transform="translate(196.4,516.3) rotate(90) scale(0.21000000000000002)" font-size="10">C46  a1</text><text transform="translate(200.8,516.3) rotate(90) scale(0.21000000000000002)" font-size="10">S21  1e</text><text transform="translate(205.2,516.3) rotate(90) scale(0.21000000000000002)" font-size="10">S17  22</text><text transform="translate(209.6,516.3) rotate(90) scale(0.21000000000000002)" font-size="10">S51  ee</text><text transform="translate(213.9,516.3) rotate(90) scale(0.21000000000000002)" font-size="10">N15  c2</text><text transform="translate(218.3,516.3) rotate(90) scale(0.21000000000000002)" font-size="10">N132  1e</text><text transform="translate(222.7,516.3) rotate(90) scale(0.21000000000000002)" font-size="10">C132  ba</text><text transform="translate(227.1,516.3) rotate(90) scale(0.21000000000000002)" font-size="10">C83  k1</text><text transform="translate(231.4,516.3) rotate(90) scale(0.21000000000000002)" font-size="10">S138  ea</text><text transform="translate(235.8,516.3) rotate(90) scale(0.21000000000000002)" font-size="10">C131  re</text><text transform="translate(240.2,516.3) rotate(90) scale(0.21000000000000002)" font-size="10">C18  b2</text><text transform="translate(244.6,516.3) rotate(90) scale(0.21000000000000002)" font-size="10">P147  a2</text><text transform="translate(249.0,516.3) rotate(90) scale(0.21000000000000002)" font-size="10">C104  a1</text><text transform="translate(253.3,516.3) rotate(90) scale(0.21000000000000002)" font-size="10">P120  k1</text><text transform="translate(257.7,516.3) rotate(90) scale(0.21000000000000002)" font-size="10">P39  r2</text><text transform="translate(262.1,516.3) rotate(90) scale(0.21000000000000002)" font-size="10">N136  b2</text><text transform="translate(266.5,516.3) rotate(90) scale(0.21000000000000002)" font-size="10">S99  21</text><text transform="translate(270.9,516.3) rotate(90) scale(0.21000000000000002)" font-size="10">P144  c2</text><text transform="translate(275.2,516.3) rotate(90) scale(0.21000000000000002)" font-size="10">C48  2e</text><text transform="translate(279.6,516.3) rotate(90) scale(0.21000000000000002)" font-size="10">P66  ce</text><text transform="translate(284.0,516.3) rotate(90) scale(0.21000000000000002)" font-size="10">P91  d1</text><text transform="translate(288.4,516.3) rotate(90) scale(0.21000000000000002)" font-size="10">N58  ke</text><text transform="translate(292.7,516.3) rotate(90) scale(0.21000000000000002)" font-size="10">N12  r2</text><text transform="translate(297.1,516.3) rotate(90) scale(0.21000000000000002)" font-size="10">P149  ka</text><text transform="translate(301.5,516.3) rotate(90) scale(0.21000000000000002)" font-size="10">P48  c2</text><text transform="translate(305.9,516.3) rotate(90) scale(0.21000000000000002)" font-size="10">N29  a1</text></g>
<path d="M25.5 349.4h2.5M25.5 415.6h2.5M25.5 377.9h2.5M25.5 428.4h2.5M25.5 433.2h2.5M25.5 312.2h2.5M25.5 300.8h2.5M25.5 478.9h2.5M25.5 354.0h2.5M25.5 348.6h2.5M25.5 513.1h2.5M25.5 399.6h2.5M25.5 478.7h2.5M25.5 400.9h2.5M25.5 436.0h2.5M25.5 330.5h2.5M25.5 435.1h2.5M25.5 485.5h2.5M25.5 411.0h2.5M25.5 458.1h2.5M25.5 443.0h2.5M25.5 311.8h2.5M25.5 461.8h2.5M25.5 425.7h2.5M25.5 363.1h2.5M25.5 304.7h2.5M25.5 485.0h2.5M25.5 400.1h2.5M25.5 453.3h2.5M25.5 487.8h2.5" stroke="#555" stroke-width="0.7" fill="none"/>
<line x1="25.0" y1="453.0" x2="25.0" y2="492.0" stroke="#777" stroke-width="0.7"/>
<rect x="354.20" y="304.30" width="292.50" height="209.00" fill="rgb(235, 235, 255)"/>
<g transform="translate(354.20,304.30) scale(4.5000,2.7867)" shape-rendering="crispEdges">
<path fill="#dfdfff" d="M0 0h1v1h-1zM32 0h1v1h-1zM37 0h1v1h-1zM43 0h2v1h-2zM54 0h1v1h-1zM62 0h1v1h-1zM8 1h1v1h-1zM20 1h1v1h-1zM25 1h1v1h-1zM35 1h1v1h-1zM37 1h1v1h-1zM40 1h1v1h-1zM55 1h1v1h-1zM57 1h1v1h-1zM62 1h1v1h-1zM13 2h1v1h-1zM21 2h1v1h-1zM32 2h2v1h-2zM37 2h2v1h-2zM40 2h1v1h-1zM46 2h1v1h-1zM56 2h2v1h-2zM41 3h1v1h-1zM44 3h2v1h-2zM47 3h1v1h-1zM53 3h1v1h-1zM46 4h1v1h-1zM4 5h1v1h-1zM14 5h1v1h-1zM16 5h1v1h-1zM21 5h1v1h-1zM27 5h1v1h-1zM33 5h1v1h-1zM55 5h1v1h-1zM60 5h2v1h-2zM24 6h1v1h-1zM27 6h1v1h-1zM32 6h1v1h-1zM36 6h1v1h-1zM43 6h1v1h-1zM46 6h1v1h-1zM51 6h1v1h-1zM53 6h1v1h-1zM7 7h1v1h-1zM14 7h1v1h-1zM41 7h1v1h-1zM43 7h1v1h-1zM54 7h1v1h-1zM41 8h1v1h-1zM47 8h1v1h-1zM50 8h1v1h-1zM63 8h1v1h-1zM1 9h1v1h-1zM4 9h1v1h-1zM8 9h1v1h-1zM25 9h1v1h-1zM35 9h2v1h-2zM47 9h1v1h-1zM50 9h4v1h-4zM61 9h1v1h-1zM60 10h1v1h-1zM10 11h1v1h-1zM12 11h1v1h-1zM15 11h2v1h-2zM26 11h1v1h-1zM30 11h1v1h-1zM32 11h1v1h-1zM41 11h1v1h-1zM43 11h1v1h-1zM45 11h1v1h-1zM50 11h1v1h-1zM57 11h1v1h-1zM60 11h1v1h-1zM40 12h1v1h-1zM45 12h1v1h-1zM57 12h1v1h-1zM17 13h1v1h-1zM29 13h1v1h-1zM32 13h2v1h-2zM39 13h1v1h-1zM41 13h1v1h-1zM44 13h2v1h-2zM47 13h1v1h-1zM50 13h2v1h-2zM13 14h1v1h-1zM36 14h1v1h-1zM39 14h1v1h-1zM44 14h2v1h-2zM60 14h1v1h-1zM63 15h1v1h-1zM32 16h1v1h-1zM34 16h1v1h-1zM45 16h1v1h-1zM32 17h1v1h-1zM37 17h2v1h-2zM53 17h2v1h-2zM56 17h1v1h-1zM61 17h1v1h-1zM64 17h1v1h-1zM0 18h1v1h-1zM8 18h2v1h-2zM19 18h1v1h-1zM32 18h1v1h-1zM34 18h1v1h-1zM57 18h1v1h-1zM62 18h3v1h-3zM15 19h2v1h-2zM33 19h1v1h-1zM36 19h1v1h-1zM39 19h1v1h-1zM41 19h1v1h-1zM48 19h1v1h-1zM54 19h1v1h-1zM56 19h1v1h-1zM60 19h1v1h-1zM63 19h2v1h-2zM12 20h2v1h-2zM33 20h3v1h-3zM46 20h2v1h-2zM50 20h2v1h-2zM53 20h1v1h-1zM55 20h1v1h-1zM58 20h1v1h-1zM46 21h1v1h-1zM12 22h1v1h-1zM17 22h1v1h-1zM19 22h1v1h-1zM25 22h1v1h-1zM35 22h1v1h-1zM45 22h1v1h-1zM47 22h1v1h-1zM52 22h1v1h-1zM54 22h1v1h-1zM57 22h1v1h-1zM59 22h1v1h-1zM63 22h2v1h-2zM0 23h1v1h-1zM2 23h1v1h-1zM15 23h2v1h-2zM26 23h3v1h-3zM31 23h1v1h-1zM35 23h1v1h-1zM49 23h2v1h-2zM52 23h1v1h-1zM60 23h1v1h-1zM43 24h1v1h-1zM54 24h1v1h-1zM57 24h1v1h-1zM47 25h1v1h-1zM61 25h1v1h-1zM64 25h1v1h-1zM6 26h1v1h-1zM17 26h1v1h-1zM45 26h3v1h-3zM62 26h1v1h-1zM53 27h1v1h-1zM63 27h1v1h-1zM32 28h3v1h-3zM38 28h1v1h-1zM41 28h1v1h-1zM47 28h2v1h-2zM53 28h4v1h-4zM62 28h1v1h-1zM21 29h1v1h-1zM34 29h1v1h-1zM36 29h1v1h-1zM41 29h1v1h-1zM44 29h1v1h-1zM53 29h2v1h-2zM56 29h1v1h-1zM59 29h1v1h-1zM32 30h1v1h-1zM45 30h3v1h-3zM7 31h1v1h-1zM45 31h2v1h-2zM48 31h2v1h-2zM54 31h1v1h-1zM3 32h1v1h-1zM13 32h1v1h-1zM24 32h1v1h-1zM34 32h1v1h-1zM45 32h1v1h-1zM48 32h1v1h-1zM57 32h2v1h-2zM63 32h1v1h-1zM32 34h1v1h-1zM38 34h1v1h-1zM46 34h1v1h-1zM53 34h1v1h-1zM62 34h2v1h-2zM15 35h1v1h-1zM37 35h1v1h-1zM43 35h1v1h-1zM56 35h1v1h-1zM62 35h1v1h-1zM2 36h1v1h-1zM9 36h1v1h-1zM17 36h1v1h-1zM32 36h1v1h-1zM39 36h1v1h-1zM47 36h1v1h-1zM50 36h1v1h-1zM56 36h1v1h-1zM60 36h1v1h-1zM62 36h1v1h-1zM43 37h1v1h-1zM47 37h1v1h-1zM54 37h1v1h-1zM2 38h1v1h-1zM16 38h1v1h-1zM24 38h1v1h-1zM27 38h1v1h-1zM46 38h1v1h-1zM61 38h1v1h-1zM2 39h2v1h-2zM12 39h1v1h-1zM14 39h2v1h-2zM19 39h1v1h-1zM24 39h1v1h-1zM7 40h1v1h-1zM14 40h2v1h-2zM2 41h1v1h-1zM7 41h1v1h-1zM10 41h1v1h-1zM19 41h1v1h-1zM21 41h1v1h-1zM23 41h1v1h-1zM25 41h1v1h-1zM45 41h1v1h-1zM1 42h1v1h-1zM20 42h2v1h-2zM23 42h2v1h-2zM28 42h1v1h-1zM2 43h1v1h-1zM7 43h1v1h-1zM27 43h1v1h-1zM63 43h1v1h-1zM1 44h1v1h-1zM4 44h1v1h-1zM9 44h1v1h-1zM14 44h1v1h-1zM43 44h1v1h-1zM53 44h1v1h-1zM63 44h1v1h-1zM9 46h1v1h-1zM16 46h1v1h-1zM21 46h1v1h-1zM24 46h1v1h-1zM29 46h2v1h-2zM32 46h1v1h-1zM36 46h1v1h-1zM51 46h1v1h-1zM0 47h1v1h-1zM3 47h1v1h-1zM6 47h1v1h-1zM16 47h1v1h-1zM28 47h1v1h-1zM30 47h1v1h-1zM9 48h1v1h-1zM11 48h1v1h-1zM15 48h1v1h-1zM19 48h1v1h-1zM22 48h2v1h-2zM32 48h1v1h-1zM34 48h1v1h-1zM38 48h1v1h-1zM54 48h1v1h-1zM56 48h1v1h-1zM63 48h1v1h-1zM2 49h1v1h-1zM7 49h1v1h-1zM9 49h1v1h-1zM14 49h1v1h-1zM19 49h1v1h-1zM23 49h1v1h-1zM27 49h1v1h-1zM37 49h1v1h-1zM63 49h1v1h-1zM8 50h1v1h-1zM4 51h1v1h-1zM6 51h1v1h-1zM10 51h1v1h-1zM13 51h1v1h-1zM20 51h1v1h-1zM22 51h1v1h-1zM24 51h2v1h-2zM28 51h1v1h-1zM30 51h1v1h-1zM37 51h1v1h-1zM50 51h1v1h-1zM10 52h1v1h-1zM14 52h1v1h-1zM17 52h1v1h-1zM45 52h1v1h-1zM8 53h1v1h-1zM29 53h1v1h-1zM45 53h1v1h-1zM25 54h1v1h-1zM10 55h1v1h-1zM12 55h1v1h-1zM27 55h1v1h-1zM14 56h2v1h-2zM19 56h2v1h-2zM22 56h1v1h-1zM25 56h1v1h-1zM27 56h1v1h-1zM30 56h2v1h-2zM36 56h1v1h-1zM38 56h2v1h-2zM55 56h1v1h-1zM63 56h1v1h-1zM13 57h1v1h-1zM21 57h1v1h-1zM25 57h1v1h-1zM0 58h1v1h-1zM4 58h1v1h-1zM6 58h1v1h-1zM11 58h1v1h-1zM14 58h1v1h-1zM17 58h1v1h-1zM23 58h1v1h-1zM26 58h1v1h-1zM34 58h1v1h-1zM37 58h1v1h-1zM43 58h1v1h-1zM56 58h1v1h-1zM60 58h1v1h-1zM1 59h1v1h-1zM6 59h1v1h-1zM10 59h1v1h-1zM15 59h1v1h-1zM19 59h2v1h-2zM25 59h1v1h-1zM45 59h1v1h-1zM63 59h1v1h-1zM3 60h1v1h-1zM9 60h1v1h-1zM12 60h1v1h-1zM30 60h1v1h-1zM9 61h1v1h-1zM11 61h2v1h-2zM17 61h1v1h-1zM21 61h1v1h-1zM5 62h1v1h-1zM21 62h1v1h-1zM25 62h1v1h-1zM32 62h1v1h-1zM46 62h1v1h-1zM49 62h1v1h-1zM59 62h1v1h-1zM62 62h1v1h-1zM2 63h1v1h-1zM6 63h1v1h-1zM8 63h1v1h-1zM15 63h1v1h-1zM17 63h1v1h-1zM20 63h1v1h-1zM22 63h1v1h-1zM44 63h1v1h-1zM5 64h1v1h-1zM7 64h1v1h-1zM14 64h1v1h-1zM24 64h1v1h-1zM32 64h1v1h-1zM64 64h1v1h-1zM7 65h1v1h-1zM11 65h1v1h-1zM13 65h1v1h-1zM20 65h1v1h-1zM26 65h1v1h-1zM32 65h1v1h-1zM37 65h1v1h-1zM39 65h1v1h-1zM46 65h1v1h-1zM63 65h1v1h-1zM2 66h1v1h-1zM9 66h1v1h-1zM11 66h1v1h-1zM20 66h1v1h-1zM28 66h1v1h-1zM1 67h2v1h-2zM6 67h1v1h-1zM9 67h1v1h-1zM15 67h3v1h-3zM22 67h2v1h-2zM41 67h1v1h-1zM62 67h2v1h-2zM6 68h1v1h-1zM11 68h2v1h-2zM19 68h1v1h-1zM25 68h1v1h-1zM28 68h1v1h-1zM30 68h1v1h-1zM34 68h1v1h-1zM43 68h2v1h-2zM51 68h1v1h-1zM7 69h1v1h-1zM7 70h1v1h-1zM15 70h1v1h-1zM44 70h2v1h-2zM62 70h2v1h-2zM0 71h3v1h-3zM6 71h1v1h-1zM10 71h2v1h-2zM15 71h3v1h-3zM26 71h3v1h-3zM34 71h1v1h-1zM36 71h1v1h-1zM43 71h1v1h-1zM48 71h1v1h-1zM1 72h2v1h-2zM6 72h1v1h-1zM10 72h1v1h-1zM15 72h1v1h-1zM19 72h3v1h-3zM23 72h1v1h-1zM27 72h1v1h-1zM30 72h1v1h-1zM35 72h1v1h-1zM41 72h1v1h-1zM43 72h1v1h-1zM48 72h1v1h-1zM50 72h1v1h-1zM52 72h2v1h-2zM0 73h2v1h-2zM3 73h2v1h-2zM11 73h1v1h-1zM14 73h1v1h-1zM17 73h1v1h-1zM28 73h1v1h-1zM34 73h1v1h-1zM41 73h1v1h-1zM59 73h1v1h-1zM64 73h1v1h-1zM3 74h1v1h-1zM19 74h1v1h-1zM23 74h1v1h-1zM25 74h1v1h-1zM29 74h1v1h-1zM34 74h1v1h-1zM41 74h1v1h-1z"/>
<path fill="#fff5f5" d="M1 0h1v1h-1zM10 0h1v1h-1zM59 0h1v1h-1zM1 3h1v1h-1zM16 3h1v1h-1zM20 3h1v1h-1zM11 4h1v1h-1zM18 4h1v1h-1zM24 4h1v1h-1zM26 4h1v1h-1zM34 4h2v1h-2zM42 4h1v1h-1zM49 4h1v1h-1zM60 4h1v1h-1zM42 6h1v1h-1zM1 7h1v1h-1zM5 7h2v1h-2zM20 7h1v1h-1zM26 7h1v1h-1zM5 8h1v1h-1zM11 8h1v1h-1zM37 8h1v1h-1zM55 8h1v1h-1zM28 9h1v1h-1zM1 10h1v1h-1zM4 10h1v1h-1zM16 10h1v1h-1zM28 10h1v1h-1zM40 10h1v1h-1zM48 10h2v1h-2zM53 10h1v1h-1zM11 12h1v1h-1zM21 12h1v1h-1zM25 12h1v1h-1zM50 12h1v1h-1zM20 13h1v1h-1zM30 13h1v1h-1zM43 13h1v1h-1zM18 14h1v1h-1zM1 15h2v1h-2zM4 15h1v1h-1zM10 15h1v1h-1zM17 15h2v1h-2zM23 15h1v1h-1zM26 15h2v1h-2zM29 15h1v1h-1zM33 15h1v1h-1zM40 15h1v1h-1zM42 15h1v1h-1zM51 15h2v1h-2zM20 16h1v1h-1zM28 16h1v1h-1zM33 16h1v1h-1zM42 16h1v1h-1zM10 21h1v1h-1zM13 21h2v1h-2zM18 21h1v1h-1zM25 21h1v1h-1zM57 21h1v1h-1zM1 22h1v1h-1zM2 24h1v1h-1zM4 24h1v1h-1zM11 24h1v1h-1zM18 24h1v1h-1zM22 24h1v1h-1zM28 24h1v1h-1zM42 24h1v1h-1zM51 24h1v1h-1zM2 25h2v1h-2zM8 25h1v1h-1zM13 25h2v1h-2zM16 25h1v1h-1zM55 25h1v1h-1zM60 25h1v1h-1zM55 26h1v1h-1zM1 27h1v1h-1zM4 27h4v1h-4zM10 27h1v1h-1zM12 27h2v1h-2zM26 27h1v1h-1zM31 27h1v1h-1zM37 27h1v1h-1zM40 27h1v1h-1zM0 30h1v1h-1zM5 30h1v1h-1zM12 30h1v1h-1zM20 30h1v1h-1zM23 30h1v1h-1zM5 31h1v1h-1zM9 31h1v1h-1zM20 31h1v1h-1zM25 31h1v1h-1zM10 32h1v1h-1zM23 32h1v1h-1zM5 33h1v1h-1zM8 33h1v1h-1zM10 33h1v1h-1zM16 33h1v1h-1zM24 33h1v1h-1zM2 34h1v1h-1zM26 34h1v1h-1zM28 34h1v1h-1zM42 34h1v1h-1zM1 35h1v1h-1zM5 35h1v1h-1zM8 35h1v1h-1zM16 35h3v1h-3zM22 35h1v1h-1zM1 36h1v1h-1zM13 37h1v1h-1zM49 37h1v1h-1zM22 39h1v1h-1zM11 40h1v1h-1zM27 40h1v1h-1zM30 40h1v1h-1zM35 40h1v1h-1zM38 40h1v1h-1zM42 40h1v1h-1zM61 40h1v1h-1zM46 41h1v1h-1zM48 41h1v1h-1zM29 42h1v1h-1zM38 42h1v1h-1zM52 42h1v1h-1zM33 43h1v1h-1zM42 43h1v1h-1zM48 43h1v1h-1zM54 43h1v1h-1zM59 44h1v1h-1zM2 45h1v1h-1zM9 45h2v1h-2zM22 45h2v1h-2zM30 45h2v1h-2zM36 45h1v1h-1zM40 45h2v1h-2zM43 45h1v1h-1zM48 45h1v1h-1zM51 45h1v1h-1zM59 45h1v1h-1zM42 46h1v1h-1zM17 47h1v1h-1zM49 47h1v1h-1zM31 49h1v1h-1zM48 49h1v1h-1zM52 49h1v1h-1zM0 50h1v1h-1zM7 50h1v1h-1zM9 50h2v1h-2zM17 50h1v1h-1zM22 50h1v1h-1zM27 50h1v1h-1zM29 50h1v1h-1zM36 50h1v1h-1zM43 50h1v1h-1zM46 50h1v1h-1zM49 50h2v1h-2zM57 50h1v1h-1zM59 50h1v1h-1zM36 52h1v1h-1zM44 52h1v1h-1zM48 52h1v1h-1zM54 52h1v1h-1zM36 53h1v1h-1zM29 54h1v1h-1zM31 54h1v1h-1zM38 54h1v1h-1zM57 54h3v1h-3zM31 55h1v1h-1zM43 55h1v1h-1zM52 55h1v1h-1zM54 55h1v1h-1zM57 55h1v1h-1zM57 56h1v1h-1zM16 57h1v1h-1zM28 57h1v1h-1zM33 57h1v1h-1zM42 57h1v1h-1zM47 57h1v1h-1zM49 57h1v1h-1zM53 57h1v1h-1zM59 57h2v1h-2zM46 58h1v1h-1zM31 60h1v1h-1zM42 60h1v1h-1zM46 60h1v1h-1zM49 60h1v1h-1zM51 60h1v1h-1zM58 60h1v1h-1zM31 61h1v1h-1zM35 61h1v1h-1zM49 61h1v1h-1zM53 61h1v1h-1zM58 61h1v1h-1zM61 61h1v1h-1zM52 63h1v1h-1zM50 65h1v1h-1zM52 66h1v1h-1zM60 67h1v1h-1zM5 69h1v1h-1zM35 69h2v1h-2zM44 69h1v1h-1zM46 69h1v1h-1zM49 69h1v1h-1zM57 69h3v1h-3zM6 70h1v1h-1zM43 70h1v1h-1zM51 70h3v1h-3zM35 73h1v1h-1zM48 73h1v1h-1zM51 74h1v1h-1zM60 74h1v1h-1z"/>
<path fill="#ffcccc" d="M2 0h1v1h-1zM0 3h1v1h-1zM64 4h1v1h-1zM40 8h1v1h-1zM39 9h1v1h-1zM56 10h1v1h-1zM64 10h1v1h-1zM21 13h1v1h-1zM35 16h1v1h-1zM16 17h1v1h-1zM18 17h1v1h-1zM2 21h1v1h-1zM11 21h2v1h-2zM60 21h1v1h-1zM5 25h1v1h-1zM24 25h1v1h-1zM29 26h1v1h-1zM36 26h1v1h-1zM64 28h1v1h-1zM24 29h1v1h-1zM1 30h1v1h-1zM6 30h1v1h-1zM52 31h1v1h-1zM50 32h1v1h-1zM18 37h1v1h-1zM29 39h1v1h-1zM53 40h1v1h-1zM49 41h1v1h-1zM33 42h1v1h-1zM48 42h1v1h-1zM33 45h1v1h-1zM52 45h1v1h-1zM57 45h1v1h-1zM5 46h1v1h-1zM34 47h1v1h-1zM55 47h1v1h-1zM58 47h1v1h-1zM33 48h1v1h-1zM35 48h1v1h-1zM37 52h1v1h-1zM13 53h1v1h-1zM23 53h1v1h-1zM4 55h1v1h-1zM40 56h1v1h-1zM55 57h1v1h-1zM37 62h1v1h-1zM47 63h1v1h-1zM53 63h1v1h-1zM63 64h1v1h-1zM36 66h1v1h-1zM53 68h1v1h-1zM46 71h1v1h-1zM49 71h1v1h-1zM19 73h1v1h-1zM9 74h1v1h-1z"/>
<path fill="#efefff" d="M3 0h1v1h-1zM5 0h2v1h-2zM12 0h1v1h-1zM19 0h1v1h-1zM21 0h1v1h-1zM25 0h2v1h-2zM33 0h2v1h-2zM36 0h1v1h-1zM39 0h1v1h-1zM41 0h1v1h-1zM51 0h1v1h-1zM55 0h1v1h-1zM58 0h1v1h-1zM60 0h1v1h-1zM0 1h3v1h-3zM5 1h1v1h-1zM11 1h3v1h-3zM22 1h1v1h-1zM26 1h1v1h-1zM28 1h1v1h-1zM33 1h1v1h-1zM47 1h1v1h-1zM61 1h1v1h-1zM2 2h1v1h-1zM8 2h1v1h-1zM14 2h1v1h-1zM18 2h1v1h-1zM24 2h2v1h-2zM28 2h1v1h-1zM31 2h1v1h-1zM34 2h2v1h-2zM42 2h1v1h-1zM45 2h1v1h-1zM47 2h1v1h-1zM53 2h3v1h-3zM58 2h1v1h-1zM60 2h1v1h-1zM17 3h1v1h-1zM25 3h1v1h-1zM27 3h5v1h-5zM42 3h1v1h-1zM50 3h1v1h-1zM52 3h1v1h-1zM56 3h1v1h-1zM59 3h1v1h-1zM61 3h1v1h-1zM64 3h1v1h-1zM14 4h1v1h-1zM32 4h1v1h-1zM36 4h1v1h-1zM44 4h1v1h-1zM47 4h1v1h-1zM51 4h1v1h-1zM54 4h1v1h-1zM58 4h2v1h-2zM61 4h1v1h-1zM63 4h1v1h-1zM8 5h1v1h-1zM11 5h1v1h-1zM15 5h1v1h-1zM17 5h1v1h-1zM19 5h2v1h-2zM25 5h2v1h-2zM29 5h3v1h-3zM37 5h1v1h-1zM39 5h1v1h-1zM42 5h1v1h-1zM46 5h1v1h-1zM48 5h1v1h-1zM50 5h1v1h-1zM56 5h1v1h-1zM59 5h1v1h-1zM2 6h1v1h-1zM4 6h2v1h-2zM7 6h1v1h-1zM11 6h1v1h-1zM16 6h1v1h-1zM25 6h2v1h-2zM33 6h1v1h-1zM40 6h1v1h-1zM44 6h1v1h-1zM47 6h1v1h-1zM50 6h1v1h-1zM55 6h1v1h-1zM62 6h1v1h-1zM2 7h1v1h-1zM11 7h1v1h-1zM24 7h1v1h-1zM27 7h1v1h-1zM39 7h1v1h-1zM44 7h1v1h-1zM48 7h1v1h-1zM51 7h2v1h-2zM56 7h2v1h-2zM60 7h2v1h-2zM2 8h1v1h-1zM9 8h1v1h-1zM13 8h1v1h-1zM16 8h1v1h-1zM19 8h1v1h-1zM25 8h1v1h-1zM45 8h1v1h-1zM49 8h1v1h-1zM52 8h1v1h-1zM54 8h1v1h-1zM57 8h2v1h-2zM64 8h1v1h-1zM12 9h1v1h-1zM15 9h3v1h-3zM22 9h1v1h-1zM24 9h1v1h-1zM26 9h1v1h-1zM37 9h1v1h-1zM43 9h1v1h-1zM49 9h1v1h-1zM3 10h1v1h-1zM6 10h1v1h-1zM14 10h1v1h-1zM38 10h1v1h-1zM41 10h1v1h-1zM3 11h1v1h-1zM5 11h2v1h-2zM11 11h1v1h-1zM22 11h1v1h-1zM33 11h1v1h-1zM35 11h1v1h-1zM38 11h1v1h-1zM44 11h1v1h-1zM54 11h1v1h-1zM56 11h1v1h-1zM7 12h1v1h-1zM9 12h1v1h-1zM13 12h1v1h-1zM17 12h1v1h-1zM23 12h1v1h-1zM32 12h1v1h-1zM34 12h1v1h-1zM37 12h1v1h-1zM41 12h1v1h-1zM48 12h1v1h-1zM51 12h2v1h-2zM54 12h3v1h-3zM59 12h3v1h-3zM64 12h1v1h-1zM8 13h1v1h-1zM10 13h2v1h-2zM14 13h2v1h-2zM19 13h1v1h-1zM38 13h1v1h-1zM46 13h1v1h-1zM59 13h1v1h-1zM61 13h2v1h-2zM1 14h1v1h-1zM3 14h1v1h-1zM10 14h1v1h-1zM26 14h1v1h-1zM30 14h1v1h-1zM35 14h1v1h-1zM37 14h1v1h-1zM40 14h3v1h-3zM47 14h1v1h-1zM53 14h2v1h-2zM63 14h2v1h-2zM3 15h1v1h-1zM11 15h1v1h-1zM38 15h1v1h-1zM43 15h1v1h-1zM53 15h2v1h-2zM62 15h1v1h-1zM4 16h1v1h-1zM23 16h2v1h-2zM27 16h1v1h-1zM36 16h1v1h-1zM39 16h1v1h-1zM43 16h2v1h-2zM47 16h2v1h-2zM53 16h1v1h-1zM61 16h1v1h-1zM1 17h1v1h-1zM4 17h1v1h-1zM25 17h1v1h-1zM30 17h1v1h-1zM33 17h1v1h-1zM35 17h2v1h-2zM41 17h3v1h-3zM47 17h1v1h-1zM62 17h2v1h-2zM1 18h1v1h-1zM7 18h1v1h-1zM10 18h2v1h-2zM13 18h1v1h-1zM23 18h1v1h-1zM25 18h1v1h-1zM39 18h2v1h-2zM44 18h1v1h-1zM49 18h1v1h-1zM52 18h1v1h-1zM1 19h1v1h-1zM6 19h2v1h-2zM10 19h1v1h-1zM12 19h2v1h-2zM17 19h2v1h-2zM22 19h1v1h-1zM24 19h1v1h-1zM28 19h1v1h-1zM38 19h1v1h-1zM49 19h1v1h-1zM52 19h1v1h-1zM61 19h1v1h-1zM0 20h1v1h-1zM4 20h1v1h-1zM6 20h1v1h-1zM8 20h1v1h-1zM11 20h1v1h-1zM22 20h1v1h-1zM24 20h1v1h-1zM26 20h1v1h-1zM28 20h3v1h-3zM39 20h1v1h-1zM52 20h1v1h-1zM60 20h1v1h-1zM3 21h1v1h-1zM9 21h1v1h-1zM33 21h2v1h-2zM39 21h1v1h-1zM47 21h4v1h-4zM56 21h1v1h-1zM64 21h1v1h-1zM5 22h1v1h-1zM11 22h1v1h-1zM18 22h1v1h-1zM22 22h1v1h-1zM50 22h1v1h-1zM58 22h1v1h-1zM62 22h1v1h-1zM5 23h1v1h-1zM10 23h1v1h-1zM18 23h1v1h-1zM20 23h1v1h-1zM47 23h1v1h-1zM3 24h1v1h-1zM21 24h1v1h-1zM33 24h2v1h-2zM46 24h2v1h-2zM58 24h2v1h-2zM63 24h1v1h-1zM40 25h1v1h-1zM44 25h1v1h-1zM46 25h1v1h-1zM52 25h1v1h-1zM56 25h1v1h-1zM2 26h1v1h-1zM7 26h1v1h-1zM15 26h1v1h-1zM25 26h2v1h-2zM28 26h1v1h-1zM30 26h1v1h-1zM33 26h3v1h-3zM40 26h1v1h-1zM42 26h2v1h-2zM48 26h1v1h-1zM51 26h2v1h-2zM57 26h3v1h-3zM64 26h1v1h-1zM0 27h1v1h-1zM8 27h2v1h-2zM15 27h1v1h-1zM21 27h1v1h-1zM23 27h2v1h-2zM29 27h1v1h-1zM33 27h1v1h-1zM38 27h1v1h-1zM41 27h1v1h-1zM46 27h1v1h-1zM52 27h1v1h-1zM54 27h4v1h-4zM61 27h1v1h-1zM2 28h1v1h-1zM9 28h1v1h-1zM14 28h1v1h-1zM22 28h1v1h-1zM26 28h1v1h-1zM28 28h1v1h-1zM49 28h1v1h-1zM58 28h1v1h-1zM0 29h2v1h-2zM6 29h1v1h-1zM9 29h8v1h-8zM26 29h1v1h-1zM30 29h1v1h-1zM43 29h1v1h-1zM52 29h1v1h-1zM55 29h1v1h-1zM57 29h2v1h-2zM2 30h1v1h-1zM4 30h1v1h-1zM13 30h2v1h-2zM25 30h1v1h-1zM38 30h1v1h-1zM41 30h1v1h-1zM43 30h2v1h-2zM51 30h5v1h-5zM57 30h5v1h-5zM63 30h1v1h-1zM15 31h1v1h-1zM18 31h1v1h-1zM23 31h1v1h-1zM34 31h1v1h-1zM41 31h1v1h-1zM55 31h1v1h-1zM58 31h1v1h-1zM61 31h1v1h-1zM63 31h1v1h-1zM7 32h2v1h-2zM11 32h1v1h-1zM14 32h1v1h-1zM22 32h1v1h-1zM32 32h2v1h-2zM38 32h1v1h-1zM40 32h1v1h-1zM43 32h1v1h-1zM49 32h1v1h-1zM61 32h1v1h-1zM0 33h1v1h-1zM4 33h1v1h-1zM11 33h1v1h-1zM22 33h1v1h-1zM41 33h1v1h-1zM43 33h1v1h-1zM48 33h1v1h-1zM53 33h1v1h-1zM60 33h1v1h-1zM63 33h1v1h-1zM7 34h1v1h-1zM10 34h1v1h-1zM12 34h1v1h-1zM18 34h1v1h-1zM34 34h1v1h-1zM36 34h1v1h-1zM44 34h2v1h-2zM47 34h1v1h-1zM49 34h2v1h-2zM64 34h1v1h-1zM2 35h1v1h-1zM7 35h1v1h-1zM14 35h1v1h-1zM33 35h2v1h-2zM36 35h1v1h-1zM39 35h2v1h-2zM48 35h2v1h-2zM51 35h1v1h-1zM54 35h1v1h-1zM61 35h1v1h-1zM64 35h1v1h-1zM6 36h1v1h-1zM12 36h1v1h-1zM26 36h1v1h-1zM28 36h3v1h-3zM41 36h1v1h-1zM52 36h1v1h-1zM1 37h1v1h-1zM3 37h1v1h-1zM9 37h1v1h-1zM11 37h1v1h-1zM15 37h1v1h-1zM21 37h1v1h-1zM23 37h1v1h-1zM25 37h1v1h-1zM34 37h1v1h-1zM36 37h1v1h-1zM38 37h2v1h-2zM42 37h1v1h-1zM59 37h1v1h-1zM61 37h1v1h-1zM0 38h2v1h-2zM9 38h2v1h-2zM15 38h1v1h-1zM20 38h1v1h-1zM22 38h2v1h-2zM26 38h1v1h-1zM29 38h2v1h-2zM37 38h1v1h-1zM40 38h1v1h-1zM42 38h1v1h-1zM49 38h1v1h-1zM53 38h1v1h-1zM56 38h1v1h-1zM4 39h1v1h-1zM8 39h1v1h-1zM11 39h1v1h-1zM18 39h1v1h-1zM20 39h1v1h-1zM25 39h1v1h-1zM27 39h2v1h-2zM30 39h1v1h-1zM34 39h1v1h-1zM36 39h2v1h-2zM41 39h1v1h-1zM43 39h1v1h-1zM45 39h1v1h-1zM63 39h1v1h-1zM3 40h1v1h-1zM17 40h1v1h-1zM19 40h4v1h-4zM36 40h1v1h-1zM41 40h1v1h-1zM44 40h2v1h-2zM1 41h1v1h-1zM9 41h1v1h-1zM12 41h1v1h-1zM22 41h1v1h-1zM27 41h2v1h-2zM32 41h1v1h-1zM37 41h2v1h-2zM44 41h1v1h-1zM50 41h1v1h-1zM53 41h4v1h-4zM58 41h1v1h-1zM60 41h2v1h-2zM6 42h2v1h-2zM11 42h1v1h-1zM13 42h1v1h-1zM26 42h2v1h-2zM36 42h1v1h-1zM46 42h1v1h-1zM53 42h1v1h-1zM4 43h1v1h-1zM6 43h1v1h-1zM9 43h1v1h-1zM19 43h1v1h-1zM24 43h1v1h-1zM28 43h2v1h-2zM31 43h1v1h-1zM43 43h1v1h-1zM51 43h1v1h-1zM62 43h1v1h-1zM0 44h1v1h-1zM27 44h1v1h-1zM29 44h1v1h-1zM32 44h1v1h-1zM37 44h1v1h-1zM42 44h1v1h-1zM45 44h1v1h-1zM62 44h1v1h-1zM3 45h2v1h-2zM6 45h1v1h-1zM8 45h1v1h-1zM15 45h1v1h-1zM19 45h1v1h-1zM24 45h1v1h-1zM20 46h1v1h-1zM33 46h1v1h-1zM37 46h1v1h-1zM47 46h1v1h-1zM49 46h1v1h-1zM8 47h2v1h-2zM12 47h1v1h-1zM14 47h1v1h-1zM18 47h1v1h-1zM22 47h1v1h-1zM33 47h1v1h-1zM41 47h3v1h-3zM46 47h1v1h-1zM53 47h2v1h-2zM59 47h1v1h-1zM63 47h2v1h-2zM4 48h1v1h-1zM18 48h1v1h-1zM24 48h1v1h-1zM26 48h1v1h-1zM30 48h1v1h-1zM36 48h1v1h-1zM41 48h1v1h-1zM48 48h1v1h-1zM55 48h1v1h-1zM57 48h2v1h-2zM60 48h1v1h-1zM64 48h1v1h-1zM8 49h1v1h-1zM10 49h1v1h-1zM18 49h1v1h-1zM24 49h1v1h-1zM28 49h1v1h-1zM32 49h1v1h-1zM41 49h1v1h-1zM43 49h3v1h-3zM54 49h1v1h-1zM59 49h1v1h-1zM64 49h1v1h-1zM2 50h1v1h-1zM17 51h1v1h-1zM29 51h1v1h-1zM31 51h1v1h-1zM35 51h1v1h-1zM42 51h2v1h-2zM51 51h1v1h-1zM56 51h2v1h-2zM62 51h1v1h-1zM0 52h1v1h-1zM3 52h1v1h-1zM5 52h3v1h-3zM13 52h1v1h-1zM22 52h1v1h-1zM27 52h1v1h-1zM31 52h1v1h-1zM40 52h1v1h-1zM42 52h1v1h-1zM47 52h1v1h-1zM51 52h1v1h-1zM7 53h1v1h-1zM18 53h3v1h-3zM24 53h2v1h-2zM30 53h2v1h-2zM47 53h1v1h-1zM50 53h1v1h-1zM54 53h1v1h-1zM59 53h2v1h-2zM64 53h1v1h-1zM5 54h3v1h-3zM10 54h2v1h-2zM14 54h1v1h-1zM27 54h1v1h-1zM32 54h1v1h-1zM37 54h1v1h-1zM41 54h1v1h-1zM46 54h1v1h-1zM50 54h1v1h-1zM54 54h3v1h-3zM62 54h1v1h-1zM0 55h1v1h-1zM11 55h1v1h-1zM14 55h1v1h-1zM21 55h1v1h-1zM28 55h1v1h-1zM40 55h1v1h-1zM53 55h1v1h-1zM63 55h1v1h-1zM0 56h1v1h-1zM5 56h1v1h-1zM11 56h1v1h-1zM26 56h1v1h-1zM32 56h1v1h-1zM44 56h1v1h-1zM49 56h1v1h-1zM54 56h1v1h-1zM56 56h1v1h-1zM59 56h1v1h-1zM0 57h1v1h-1zM7 57h1v1h-1zM12 57h1v1h-1zM17 57h1v1h-1zM20 57h1v1h-1zM30 57h2v1h-2zM38 57h1v1h-1zM43 57h1v1h-1zM54 57h1v1h-1zM56 57h1v1h-1zM62 57h3v1h-3zM9 58h1v1h-1zM12 58h2v1h-2zM21 58h1v1h-1zM27 58h1v1h-1zM32 58h2v1h-2zM36 58h1v1h-1zM39 58h1v1h-1zM51 58h1v1h-1zM9 59h1v1h-1zM11 59h1v1h-1zM29 59h1v1h-1zM38 59h1v1h-1zM40 59h1v1h-1zM44 59h1v1h-1zM46 59h2v1h-2zM51 59h2v1h-2zM54 59h1v1h-1zM58 59h1v1h-1zM62 59h1v1h-1zM4 60h1v1h-1zM6 60h1v1h-1zM14 60h1v1h-1zM23 60h2v1h-2zM26 60h1v1h-1zM28 60h2v1h-2zM53 60h1v1h-1zM61 60h1v1h-1zM2 61h1v1h-1zM5 61h1v1h-1zM18 61h1v1h-1zM20 61h1v1h-1zM26 61h1v1h-1zM39 61h1v1h-1zM44 61h1v1h-1zM46 61h1v1h-1zM54 61h1v1h-1zM62 61h1v1h-1zM64 61h1v1h-1zM9 62h1v1h-1zM12 62h1v1h-1zM18 62h1v1h-1zM27 62h1v1h-1zM38 62h1v1h-1zM40 62h1v1h-1zM42 62h1v1h-1zM51 62h1v1h-1zM55 62h2v1h-2zM61 62h1v1h-1zM64 62h1v1h-1zM4 63h1v1h-1zM19 63h1v1h-1zM28 63h1v1h-1zM30 63h1v1h-1zM32 63h1v1h-1zM35 63h1v1h-1zM38 63h1v1h-1zM40 63h1v1h-1zM43 63h1v1h-1zM48 63h1v1h-1zM58 63h1v1h-1zM61 63h1v1h-1zM0 64h1v1h-1zM9 64h1v1h-1zM11 64h1v1h-1zM16 64h2v1h-2zM19 64h5v1h-5zM33 64h1v1h-1zM39 64h1v1h-1zM43 64h1v1h-1zM45 64h1v1h-1zM47 64h1v1h-1zM49 64h1v1h-1zM54 64h1v1h-1zM56 64h1v1h-1zM59 64h1v1h-1zM0 65h1v1h-1zM5 65h2v1h-2zM14 65h1v1h-1zM29 65h2v1h-2zM40 65h1v1h-1zM42 65h2v1h-2zM47 65h1v1h-1zM54 65h1v1h-1zM57 65h1v1h-1zM60 65h1v1h-1zM3 66h1v1h-1zM5 66h1v1h-1zM15 66h1v1h-1zM17 66h1v1h-1zM22 66h1v1h-1zM24 66h3v1h-3zM33 66h1v1h-1zM35 66h1v1h-1zM39 66h2v1h-2zM44 66h3v1h-3zM51 66h1v1h-1zM61 66h1v1h-1zM64 66h1v1h-1zM0 67h1v1h-1zM4 67h1v1h-1zM18 67h2v1h-2zM25 67h3v1h-3zM32 67h1v1h-1zM38 67h1v1h-1zM40 67h1v1h-1zM43 67h1v1h-1zM53 67h1v1h-1zM55 67h1v1h-1zM64 67h1v1h-1zM5 68h1v1h-1zM14 68h1v1h-1zM17 68h2v1h-2zM38 68h2v1h-2zM42 68h1v1h-1zM50 68h1v1h-1zM56 68h1v1h-1zM58 68h1v1h-1zM62 68h1v1h-1zM0 69h1v1h-1zM6 69h1v1h-1zM8 69h2v1h-2zM13 69h1v1h-1zM15 69h1v1h-1zM39 69h1v1h-1zM41 69h1v1h-1zM54 69h1v1h-1zM14 70h1v1h-1zM20 70h1v1h-1zM22 70h2v1h-2zM26 70h2v1h-2zM39 70h2v1h-2zM48 70h1v1h-1zM56 70h1v1h-1zM5 71h1v1h-1zM18 71h1v1h-1zM35 71h1v1h-1zM51 71h2v1h-2zM57 71h2v1h-2zM64 71h1v1h-1zM11 72h1v1h-1zM16 72h1v1h-1zM18 72h1v1h-1zM26 72h1v1h-1zM34 72h1v1h-1zM38 72h1v1h-1zM40 72h1v1h-1zM55 72h1v1h-1zM58 72h1v1h-1zM6 73h1v1h-1zM29 73h1v1h-1zM36 73h1v1h-1zM38 73h1v1h-1zM43 73h2v1h-2zM50 73h1v1h-1zM55 73h1v1h-1zM61 73h2v1h-2zM0 74h1v1h-1zM4 74h1v1h-1zM7 74h1v1h-1zM17 74h1v1h-1zM27 74h1v1h-1zM33 74h1v1h-1zM35 74h2v1h-2zM43 74h3v1h-3zM56 74h1v1h-1z"/>
<path fill="#ffffff" d="M4 0h1v1h-1zM9 0h1v1h-1zM14 0h1v1h-1zM20 0h1v1h-1zM28 0h2v1h-2zM31 0h1v1h-1zM47 0h1v1h-1zM52 0h1v1h-1zM52 1h1v1h-1zM54 1h1v1h-1zM5 2h1v1h-1zM26 2h2v1h-2zM29 2h1v1h-1zM5 3h1v1h-1zM10 3h1v1h-1zM13 3h2v1h-2zM23 3h1v1h-1zM38 3h1v1h-1zM58 3h1v1h-1zM60 3h1v1h-1zM0 4h2v1h-2zM3 4h1v1h-1zM5 4h1v1h-1zM8 4h1v1h-1zM15 4h1v1h-1zM23 4h1v1h-1zM29 4h3v1h-3zM33 4h1v1h-1zM37 4h2v1h-2zM52 4h1v1h-1zM57 4h1v1h-1zM1 6h1v1h-1zM6 6h1v1h-1zM14 6h1v1h-1zM19 6h1v1h-1zM22 6h1v1h-1zM49 6h1v1h-1zM22 7h1v1h-1zM29 7h2v1h-2zM38 7h1v1h-1zM42 7h1v1h-1zM50 7h1v1h-1zM3 8h2v1h-2zM7 8h1v1h-1zM14 8h1v1h-1zM17 8h2v1h-2zM26 8h1v1h-1zM29 8h1v1h-1zM32 8h1v1h-1zM5 9h2v1h-2zM18 9h2v1h-2zM29 9h1v1h-1zM31 9h1v1h-1zM42 9h1v1h-1zM7 10h2v1h-2zM12 10h2v1h-2zM20 10h1v1h-1zM23 10h1v1h-1zM25 10h1v1h-1zM27 10h1v1h-1zM33 10h1v1h-1zM35 10h2v1h-2zM39 10h1v1h-1zM44 10h2v1h-2zM47 10h1v1h-1zM57 10h3v1h-3zM61 10h1v1h-1zM1 11h1v1h-1zM29 11h1v1h-1zM52 11h1v1h-1zM1 12h1v1h-1zM5 12h1v1h-1zM14 12h1v1h-1zM16 12h1v1h-1zM18 12h2v1h-2zM24 12h1v1h-1zM26 12h1v1h-1zM28 12h2v1h-2zM31 12h1v1h-1zM44 12h1v1h-1zM47 12h1v1h-1zM58 12h1v1h-1zM7 13h1v1h-1zM13 13h1v1h-1zM18 13h1v1h-1zM26 13h1v1h-1zM35 13h1v1h-1zM58 13h1v1h-1zM11 14h2v1h-2zM14 14h1v1h-1zM17 14h1v1h-1zM21 14h1v1h-1zM24 14h2v1h-2zM31 14h1v1h-1zM38 14h1v1h-1zM49 14h1v1h-1zM52 14h1v1h-1zM57 14h1v1h-1zM59 14h1v1h-1zM0 15h1v1h-1zM9 15h1v1h-1zM19 15h1v1h-1zM22 15h1v1h-1zM25 15h1v1h-1zM28 15h1v1h-1zM30 15h1v1h-1zM34 15h3v1h-3zM41 15h1v1h-1zM49 15h1v1h-1zM55 15h1v1h-1zM57 15h2v1h-2zM60 15h2v1h-2zM1 16h1v1h-1zM5 16h2v1h-2zM8 16h1v1h-1zM10 16h2v1h-2zM14 16h1v1h-1zM19 16h1v1h-1zM30 16h1v1h-1zM37 16h2v1h-2zM40 16h1v1h-1zM49 16h1v1h-1zM60 16h1v1h-1zM9 17h3v1h-3zM17 17h1v1h-1zM22 17h1v1h-1zM24 17h1v1h-1zM26 17h1v1h-1zM29 17h1v1h-1zM31 17h1v1h-1zM14 18h1v1h-1zM17 18h1v1h-1zM20 18h1v1h-1zM42 18h1v1h-1zM55 18h1v1h-1zM60 18h1v1h-1zM20 19h1v1h-1zM29 19h1v1h-1zM40 19h1v1h-1zM55 19h1v1h-1zM62 19h1v1h-1zM42 20h1v1h-1zM6 21h3v1h-3zM15 21h2v1h-2zM19 21h2v1h-2zM24 21h1v1h-1zM35 21h4v1h-4zM42 21h3v1h-3zM59 21h1v1h-1zM61 21h2v1h-2zM14 22h1v1h-1zM40 22h1v1h-1zM23 23h1v1h-1zM29 23h1v1h-1zM6 24h3v1h-3zM10 24h1v1h-1zM12 24h1v1h-1zM14 24h3v1h-3zM19 24h2v1h-2zM26 24h1v1h-1zM29 24h1v1h-1zM44 24h1v1h-1zM49 24h1v1h-1zM61 24h2v1h-2zM0 25h1v1h-1zM4 25h1v1h-1zM9 25h1v1h-1zM12 25h1v1h-1zM18 25h1v1h-1zM22 25h1v1h-1zM26 25h3v1h-3zM32 25h2v1h-2zM41 25h1v1h-1zM48 25h1v1h-1zM57 25h1v1h-1zM1 26h1v1h-1zM9 26h1v1h-1zM18 26h1v1h-1zM11 27h1v1h-1zM17 27h1v1h-1zM19 27h1v1h-1zM25 27h1v1h-1zM27 27h1v1h-1zM42 27h1v1h-1zM48 27h1v1h-1zM51 27h1v1h-1zM58 27h1v1h-1zM62 27h1v1h-1zM0 28h2v1h-2zM5 28h1v1h-1zM16 28h2v1h-2zM31 28h1v1h-1zM60 28h1v1h-1zM20 29h1v1h-1zM31 29h1v1h-1zM9 30h1v1h-1zM11 30h1v1h-1zM17 30h2v1h-2zM33 30h1v1h-1zM49 30h1v1h-1zM3 31h1v1h-1zM6 31h1v1h-1zM10 31h1v1h-1zM14 31h1v1h-1zM21 31h1v1h-1zM26 31h1v1h-1zM29 31h1v1h-1zM31 31h1v1h-1zM38 31h1v1h-1zM42 31h1v1h-1zM5 32h1v1h-1zM9 32h1v1h-1zM17 32h1v1h-1zM29 32h1v1h-1zM52 32h1v1h-1zM2 33h1v1h-1zM7 33h1v1h-1zM9 33h1v1h-1zM14 33h1v1h-1zM17 33h2v1h-2zM20 33h1v1h-1zM31 33h1v1h-1zM34 33h1v1h-1zM36 33h1v1h-1zM42 33h1v1h-1zM47 33h1v1h-1zM55 33h1v1h-1zM57 33h1v1h-1zM64 33h1v1h-1zM0 34h2v1h-2zM9 34h1v1h-1zM14 34h1v1h-1zM16 34h1v1h-1zM23 34h1v1h-1zM27 34h1v1h-1zM31 34h1v1h-1zM35 34h1v1h-1zM51 34h2v1h-2zM59 34h1v1h-1zM10 35h2v1h-2zM26 35h1v1h-1zM28 35h3v1h-3zM42 35h1v1h-1zM60 35h1v1h-1zM4 36h1v1h-1zM17 37h1v1h-1zM22 37h1v1h-1zM28 37h2v1h-2zM31 37h1v1h-1zM5 38h1v1h-1zM12 38h1v1h-1zM35 38h1v1h-1zM44 38h1v1h-1zM47 38h1v1h-1zM50 38h2v1h-2zM59 38h2v1h-2zM33 39h1v1h-1zM44 39h1v1h-1zM49 39h1v1h-1zM51 39h1v1h-1zM53 39h1v1h-1zM55 39h2v1h-2zM0 40h1v1h-1zM37 40h1v1h-1zM40 40h1v1h-1zM47 40h2v1h-2zM50 40h1v1h-1zM52 40h1v1h-1zM54 40h2v1h-2zM60 40h1v1h-1zM62 40h3v1h-3zM5 41h1v1h-1zM16 41h2v1h-2zM39 41h1v1h-1zM18 42h1v1h-1zM30 42h2v1h-2zM50 42h1v1h-1zM56 42h1v1h-1zM61 42h1v1h-1zM5 43h1v1h-1zM16 43h1v1h-1zM20 43h1v1h-1zM25 43h1v1h-1zM34 43h2v1h-2zM37 43h1v1h-1zM46 43h1v1h-1zM49 43h1v1h-1zM53 43h1v1h-1zM55 43h3v1h-3zM18 44h1v1h-1zM31 44h1v1h-1zM35 44h1v1h-1zM38 44h1v1h-1zM40 44h2v1h-2zM46 44h3v1h-3zM55 44h1v1h-1zM60 44h1v1h-1zM0 45h1v1h-1zM12 45h1v1h-1zM17 45h2v1h-2zM21 45h1v1h-1zM27 45h1v1h-1zM32 45h1v1h-1zM35 45h1v1h-1zM38 45h1v1h-1zM45 45h1v1h-1zM47 45h1v1h-1zM54 45h1v1h-1zM52 46h1v1h-1zM55 46h1v1h-1zM58 46h1v1h-1zM10 47h1v1h-1zM32 47h1v1h-1zM37 47h1v1h-1zM47 47h1v1h-1zM40 48h1v1h-1zM42 48h1v1h-1zM52 48h1v1h-1zM17 49h1v1h-1zM22 49h1v1h-1zM49 49h1v1h-1zM57 49h2v1h-2zM4 50h1v1h-1zM13 50h2v1h-2zM16 50h1v1h-1zM18 50h1v1h-1zM20 50h1v1h-1zM23 50h1v1h-1zM30 50h2v1h-2zM33 50h1v1h-1zM35 50h1v1h-1zM37 50h1v1h-1zM39 50h1v1h-1zM41 50h1v1h-1zM45 50h1v1h-1zM48 50h1v1h-1zM61 50h1v1h-1zM63 50h1v1h-1zM52 51h1v1h-1zM59 51h1v1h-1zM25 52h1v1h-1zM29 52h1v1h-1zM43 52h1v1h-1zM50 52h1v1h-1zM52 52h1v1h-1zM57 52h1v1h-1zM59 52h1v1h-1zM61 52h1v1h-1zM0 53h1v1h-1zM10 53h1v1h-1zM22 53h1v1h-1zM38 53h1v1h-1zM40 53h1v1h-1zM46 53h1v1h-1zM48 53h1v1h-1zM52 53h1v1h-1zM57 53h1v1h-1zM0 54h2v1h-2zM42 54h4v1h-4zM47 54h2v1h-2zM52 54h1v1h-1zM61 54h1v1h-1zM5 55h2v1h-2zM8 55h1v1h-1zM16 55h1v1h-1zM18 55h1v1h-1zM29 55h1v1h-1zM33 55h1v1h-1zM35 55h1v1h-1zM37 55h2v1h-2zM42 55h1v1h-1zM44 55h2v1h-2zM48 55h2v1h-2zM51 55h1v1h-1zM55 55h1v1h-1zM35 56h1v1h-1zM37 56h1v1h-1zM52 56h1v1h-1zM4 57h2v1h-2zM8 57h2v1h-2zM40 57h1v1h-1zM46 57h1v1h-1zM57 57h1v1h-1zM22 58h1v1h-1zM30 58h1v1h-1zM42 58h1v1h-1zM52 58h1v1h-1zM61 58h1v1h-1zM37 59h1v1h-1zM48 59h1v1h-1zM60 59h1v1h-1zM5 60h1v1h-1zM25 60h1v1h-1zM34 60h3v1h-3zM38 60h1v1h-1zM40 60h1v1h-1zM43 60h1v1h-1zM47 60h1v1h-1zM50 60h1v1h-1zM54 60h1v1h-1zM56 60h1v1h-1zM62 60h1v1h-1zM64 60h1v1h-1zM3 61h1v1h-1zM6 61h1v1h-1zM22 61h1v1h-1zM25 61h1v1h-1zM29 61h2v1h-2zM33 61h1v1h-1zM42 61h2v1h-2zM48 61h1v1h-1zM51 61h1v1h-1zM55 61h1v1h-1zM59 61h2v1h-2zM26 62h1v1h-1zM29 62h1v1h-1zM35 62h1v1h-1zM47 62h2v1h-2zM57 62h1v1h-1zM5 63h1v1h-1zM10 63h1v1h-1zM37 63h1v1h-1zM57 63h1v1h-1zM62 63h1v1h-1zM28 64h1v1h-1zM35 64h1v1h-1zM38 64h1v1h-1zM40 64h1v1h-1zM42 64h1v1h-1zM44 64h1v1h-1zM52 64h1v1h-1zM16 65h1v1h-1zM19 65h1v1h-1zM36 65h1v1h-1zM41 65h1v1h-1zM49 65h1v1h-1zM51 65h1v1h-1zM55 65h1v1h-1zM34 66h1v1h-1zM38 66h1v1h-1zM42 66h1v1h-1zM57 66h1v1h-1zM60 66h1v1h-1zM48 67h2v1h-2zM1 69h1v1h-1zM3 69h2v1h-2zM10 69h1v1h-1zM16 69h1v1h-1zM19 69h2v1h-2zM22 69h1v1h-1zM27 69h2v1h-2zM30 69h1v1h-1zM34 69h1v1h-1zM47 69h1v1h-1zM62 69h1v1h-1zM64 69h1v1h-1zM28 70h1v1h-1zM42 70h1v1h-1zM49 70h1v1h-1zM54 70h1v1h-1zM58 70h2v1h-2zM64 70h1v1h-1zM25 72h1v1h-1zM30 73h1v1h-1zM49 73h1v1h-1zM53 73h1v1h-1zM58 73h1v1h-1zM20 74h1v1h-1zM28 74h1v1h-1zM40 74h1v1h-1zM47 74h1v1h-1zM49 74h1v1h-1zM52 74h1v1h-1zM55 74h1v1h-1zM57 74h1v1h-1zM61 74h1v1h-1zM64 74h1v1h-1z"/>
<path fill="#f7f7ff" d="M7 0h2v1h-2zM11 0h1v1h-1zM22 0h1v1h-1zM27 0h1v1h-1zM35 0h1v1h-1zM40 0h1v1h-1zM48 0h1v1h-1zM57 0h1v1h-1zM10 1h1v1h-1zM19 1h1v1h-1zM21 1h1v1h-1zM30 1h1v1h-1zM42 1h1v1h-1zM0 2h2v1h-2zM11 2h1v1h-1zM20 2h1v1h-1zM22 2h1v1h-1zM30 2h1v1h-1zM52 2h1v1h-1zM61 2h1v1h-1zM3 3h2v1h-2zM11 3h1v1h-1zM19 3h1v1h-1zM21 3h1v1h-1zM24 3h1v1h-1zM26 3h1v1h-1zM32 3h1v1h-1zM35 3h1v1h-1zM43 3h1v1h-1zM48 3h1v1h-1zM4 4h1v1h-1zM6 4h2v1h-2zM9 4h2v1h-2zM12 4h1v1h-1zM17 4h1v1h-1zM19 4h1v1h-1zM39 4h3v1h-3zM48 4h1v1h-1zM50 4h1v1h-1zM56 4h1v1h-1zM1 5h2v1h-2zM5 5h1v1h-1zM12 5h1v1h-1zM18 5h1v1h-1zM24 5h1v1h-1zM28 5h1v1h-1zM0 6h1v1h-1zM8 6h1v1h-1zM20 6h1v1h-1zM29 6h1v1h-1zM41 6h1v1h-1zM48 6h1v1h-1zM3 7h2v1h-2zM8 7h2v1h-2zM12 7h2v1h-2zM16 7h1v1h-1zM18 7h1v1h-1zM23 7h1v1h-1zM25 7h1v1h-1zM28 7h1v1h-1zM31 7h1v1h-1zM33 7h2v1h-2zM53 7h1v1h-1zM55 7h1v1h-1zM8 8h1v1h-1zM10 8h1v1h-1zM15 8h1v1h-1zM22 8h3v1h-3zM27 8h2v1h-2zM31 8h1v1h-1zM33 8h1v1h-1zM35 8h2v1h-2zM38 8h1v1h-1zM43 8h1v1h-1zM53 8h1v1h-1zM60 8h2v1h-2zM10 9h1v1h-1zM14 9h1v1h-1zM23 9h1v1h-1zM33 9h1v1h-1zM9 10h1v1h-1zM15 10h1v1h-1zM32 10h1v1h-1zM34 10h1v1h-1zM37 10h1v1h-1zM43 10h1v1h-1zM46 10h1v1h-1zM50 10h3v1h-3zM54 10h1v1h-1zM62 10h2v1h-2zM8 11h1v1h-1zM14 11h1v1h-1zM17 11h1v1h-1zM19 11h1v1h-1zM25 11h1v1h-1zM31 11h1v1h-1zM42 11h1v1h-1zM61 11h1v1h-1zM2 12h3v1h-3zM6 12h1v1h-1zM10 12h1v1h-1zM15 12h1v1h-1zM22 12h1v1h-1zM27 12h1v1h-1zM33 12h1v1h-1zM35 12h1v1h-1zM38 12h1v1h-1zM42 12h2v1h-2zM49 12h1v1h-1zM53 12h1v1h-1zM62 12h1v1h-1zM1 13h1v1h-1zM4 13h3v1h-3zM16 13h1v1h-1zM22 13h2v1h-2zM28 13h1v1h-1zM31 13h1v1h-1zM36 13h2v1h-2zM52 13h1v1h-1zM54 13h2v1h-2zM6 14h1v1h-1zM8 14h1v1h-1zM16 14h1v1h-1zM20 14h1v1h-1zM23 14h1v1h-1zM27 14h2v1h-2zM33 14h1v1h-1zM46 14h1v1h-1zM55 14h1v1h-1zM58 14h1v1h-1zM62 14h1v1h-1zM7 15h1v1h-1zM13 15h4v1h-4zM21 15h1v1h-1zM24 15h1v1h-1zM32 15h1v1h-1zM37 15h1v1h-1zM44 15h1v1h-1zM46 15h1v1h-1zM48 15h1v1h-1zM50 15h1v1h-1zM59 15h1v1h-1zM9 16h1v1h-1zM13 16h1v1h-1zM17 16h1v1h-1zM25 16h2v1h-2zM29 16h1v1h-1zM41 16h1v1h-1zM46 16h1v1h-1zM50 16h1v1h-1zM55 16h4v1h-4zM0 17h1v1h-1zM3 17h1v1h-1zM6 17h2v1h-2zM12 17h1v1h-1zM14 17h1v1h-1zM20 17h2v1h-2zM23 17h1v1h-1zM27 17h1v1h-1zM39 17h1v1h-1zM44 17h1v1h-1zM48 17h2v1h-2zM52 17h1v1h-1zM55 17h1v1h-1zM57 17h1v1h-1zM15 18h1v1h-1zM22 18h1v1h-1zM29 18h3v1h-3zM59 18h1v1h-1zM0 19h1v1h-1zM4 19h1v1h-1zM11 19h1v1h-1zM23 19h1v1h-1zM25 19h2v1h-2zM31 19h1v1h-1zM1 20h1v1h-1zM5 20h1v1h-1zM14 20h1v1h-1zM17 20h1v1h-1zM25 20h1v1h-1zM27 20h1v1h-1zM31 20h1v1h-1zM49 20h1v1h-1zM4 21h1v1h-1zM27 21h1v1h-1zM32 21h1v1h-1zM41 21h1v1h-1zM45 21h1v1h-1zM51 21h1v1h-1zM54 21h2v1h-2zM58 21h1v1h-1zM63 21h1v1h-1zM44 23h1v1h-1zM13 24h1v1h-1zM25 24h1v1h-1zM32 24h1v1h-1zM36 24h1v1h-1zM38 24h1v1h-1zM40 24h2v1h-2zM48 24h1v1h-1zM50 24h1v1h-1zM52 24h1v1h-1zM56 24h1v1h-1zM64 24h1v1h-1zM6 25h2v1h-2zM10 25h2v1h-2zM15 25h1v1h-1zM19 25h3v1h-3zM25 25h1v1h-1zM29 25h1v1h-1zM31 25h1v1h-1zM34 25h1v1h-1zM36 25h1v1h-1zM38 25h2v1h-2zM42 25h1v1h-1zM49 25h2v1h-2zM58 25h2v1h-2zM62 25h1v1h-1zM0 26h1v1h-1zM3 26h3v1h-3zM10 26h2v1h-2zM13 26h2v1h-2zM20 26h1v1h-1zM22 26h1v1h-1zM27 26h1v1h-1zM31 26h1v1h-1zM2 27h1v1h-1zM18 27h1v1h-1zM20 27h1v1h-1zM22 27h1v1h-1zM30 27h1v1h-1zM34 27h3v1h-3zM50 27h1v1h-1zM59 27h1v1h-1zM6 28h1v1h-1zM13 28h1v1h-1zM20 28h1v1h-1zM27 28h1v1h-1zM35 28h2v1h-2zM40 28h1v1h-1zM42 28h1v1h-1zM44 28h1v1h-1zM5 29h1v1h-1zM8 29h1v1h-1zM17 29h3v1h-3zM22 29h1v1h-1zM29 29h1v1h-1zM35 29h1v1h-1zM42 29h1v1h-1zM60 29h1v1h-1zM7 30h2v1h-2zM15 30h2v1h-2zM22 30h1v1h-1zM24 30h1v1h-1zM35 30h1v1h-1zM40 30h1v1h-1zM0 31h1v1h-1zM2 31h1v1h-1zM4 31h1v1h-1zM11 31h3v1h-3zM16 31h2v1h-2zM37 31h1v1h-1zM39 31h1v1h-1zM44 31h1v1h-1zM59 31h2v1h-2zM62 31h1v1h-1zM1 32h1v1h-1zM4 32h1v1h-1zM12 32h1v1h-1zM15 32h1v1h-1zM18 32h1v1h-1zM20 32h1v1h-1zM26 32h1v1h-1zM35 32h2v1h-2zM42 32h1v1h-1zM55 32h1v1h-1zM12 33h1v1h-1zM15 33h1v1h-1zM21 33h1v1h-1zM25 33h1v1h-1zM27 33h1v1h-1zM35 33h1v1h-1zM37 33h1v1h-1zM39 33h2v1h-2zM44 33h1v1h-1zM56 33h1v1h-1zM58 33h1v1h-1zM5 34h1v1h-1zM13 34h1v1h-1zM15 34h1v1h-1zM17 34h1v1h-1zM24 34h2v1h-2zM30 34h1v1h-1zM33 34h1v1h-1zM39 34h3v1h-3zM54 34h2v1h-2zM58 34h1v1h-1zM0 35h1v1h-1zM3 35h2v1h-2zM6 35h1v1h-1zM13 35h1v1h-1zM19 35h2v1h-2zM23 35h2v1h-2zM31 35h1v1h-1zM44 35h1v1h-1zM55 35h1v1h-1zM58 35h1v1h-1zM5 36h1v1h-1zM7 36h1v1h-1zM10 36h1v1h-1zM14 36h2v1h-2zM19 36h2v1h-2zM22 36h2v1h-2zM25 36h1v1h-1zM44 36h1v1h-1zM61 36h1v1h-1zM0 37h1v1h-1zM5 37h1v1h-1zM8 37h1v1h-1zM12 37h1v1h-1zM19 37h2v1h-2zM30 37h1v1h-1zM32 37h1v1h-1zM41 37h1v1h-1zM18 38h1v1h-1zM28 38h1v1h-1zM31 38h1v1h-1zM36 38h1v1h-1zM38 38h1v1h-1zM43 38h1v1h-1zM45 38h1v1h-1zM48 38h1v1h-1zM1 39h1v1h-1zM9 39h2v1h-2zM13 39h1v1h-1zM31 39h1v1h-1zM35 39h1v1h-1zM46 39h2v1h-2zM50 39h1v1h-1zM54 39h1v1h-1zM60 39h1v1h-1zM64 39h1v1h-1zM1 40h2v1h-2zM4 40h2v1h-2zM16 40h1v1h-1zM25 40h2v1h-2zM28 40h2v1h-2zM32 40h2v1h-2zM39 40h1v1h-1zM43 40h1v1h-1zM46 40h1v1h-1zM49 40h1v1h-1zM56 40h2v1h-2zM4 41h1v1h-1zM18 41h1v1h-1zM29 41h1v1h-1zM31 41h1v1h-1zM33 41h1v1h-1zM36 41h1v1h-1zM42 41h2v1h-2zM51 41h2v1h-2zM57 41h1v1h-1zM62 41h1v1h-1zM0 42h1v1h-1zM4 42h1v1h-1zM10 42h1v1h-1zM16 42h2v1h-2zM22 42h1v1h-1zM32 42h1v1h-1zM35 42h1v1h-1zM40 42h1v1h-1zM42 42h2v1h-2zM47 42h1v1h-1zM49 42h1v1h-1zM54 42h1v1h-1zM57 42h1v1h-1zM59 42h1v1h-1zM62 42h1v1h-1zM0 43h2v1h-2zM3 43h1v1h-1zM11 43h3v1h-3zM17 43h1v1h-1zM22 43h1v1h-1zM26 43h1v1h-1zM30 43h1v1h-1zM36 43h1v1h-1zM38 43h1v1h-1zM40 43h2v1h-2zM52 43h1v1h-1zM60 43h1v1h-1zM64 43h1v1h-1zM6 44h1v1h-1zM10 44h2v1h-2zM19 44h2v1h-2zM23 44h2v1h-2zM26 44h1v1h-1zM28 44h1v1h-1zM30 44h1v1h-1zM33 44h1v1h-1zM44 44h1v1h-1zM51 44h1v1h-1zM54 44h1v1h-1zM56 44h1v1h-1zM61 44h1v1h-1zM64 44h1v1h-1zM1 45h1v1h-1zM7 45h1v1h-1zM13 45h2v1h-2zM20 45h1v1h-1zM34 45h1v1h-1zM39 45h1v1h-1zM53 45h1v1h-1zM28 46h1v1h-1zM31 46h1v1h-1zM2 47h1v1h-1zM15 47h1v1h-1zM19 47h2v1h-2zM23 47h1v1h-1zM35 47h2v1h-2zM45 47h1v1h-1zM51 47h1v1h-1zM56 47h1v1h-1zM37 48h1v1h-1zM47 48h1v1h-1zM49 48h1v1h-1zM0 49h1v1h-1zM6 49h1v1h-1zM11 49h1v1h-1zM21 49h1v1h-1zM25 49h1v1h-1zM30 49h1v1h-1zM33 49h1v1h-1zM36 49h1v1h-1zM38 49h1v1h-1zM40 49h1v1h-1zM42 49h1v1h-1zM46 49h2v1h-2zM50 49h1v1h-1zM53 49h1v1h-1zM55 49h1v1h-1zM3 50h1v1h-1zM6 50h1v1h-1zM12 50h1v1h-1zM19 50h1v1h-1zM21 50h1v1h-1zM26 50h1v1h-1zM40 50h1v1h-1zM44 50h1v1h-1zM56 50h1v1h-1zM64 50h1v1h-1zM36 51h1v1h-1zM55 51h1v1h-1zM60 51h2v1h-2zM4 52h1v1h-1zM19 52h2v1h-2zM33 52h1v1h-1zM38 52h1v1h-1zM53 52h1v1h-1zM56 52h1v1h-1zM58 52h1v1h-1zM1 53h2v1h-2zM4 53h1v1h-1zM11 53h1v1h-1zM16 53h1v1h-1zM28 53h1v1h-1zM32 53h1v1h-1zM42 53h3v1h-3zM49 53h1v1h-1zM51 53h1v1h-1zM53 53h1v1h-1zM56 53h1v1h-1zM58 53h1v1h-1zM30 54h1v1h-1zM35 54h1v1h-1zM39 54h2v1h-2zM51 54h1v1h-1zM53 54h1v1h-1zM63 54h1v1h-1zM9 55h1v1h-1zM15 55h1v1h-1zM19 55h2v1h-2zM25 55h1v1h-1zM30 55h1v1h-1zM36 55h1v1h-1zM39 55h1v1h-1zM41 55h1v1h-1zM47 55h1v1h-1zM50 55h1v1h-1zM56 55h1v1h-1zM59 55h2v1h-2zM64 55h1v1h-1zM42 56h1v1h-1zM48 56h1v1h-1zM50 56h1v1h-1zM58 56h1v1h-1zM1 57h2v1h-2zM10 57h2v1h-2zM18 57h2v1h-2zM22 57h1v1h-1zM26 57h1v1h-1zM29 57h1v1h-1zM35 57h2v1h-2zM41 57h1v1h-1zM44 57h2v1h-2zM50 57h2v1h-2zM58 57h1v1h-1zM2 58h1v1h-1zM35 58h1v1h-1zM40 58h1v1h-1zM49 58h2v1h-2zM55 58h1v1h-1zM58 58h2v1h-2zM4 59h2v1h-2zM14 59h1v1h-1zM31 59h1v1h-1zM42 59h1v1h-1zM49 59h1v1h-1zM53 59h1v1h-1zM0 60h1v1h-1zM13 60h1v1h-1zM21 60h1v1h-1zM37 60h1v1h-1zM41 60h1v1h-1zM44 60h1v1h-1zM48 60h1v1h-1zM60 60h1v1h-1zM0 61h1v1h-1zM10 61h1v1h-1zM14 61h2v1h-2zM24 61h1v1h-1zM27 61h2v1h-2zM34 61h1v1h-1zM36 61h1v1h-1zM40 61h2v1h-2zM45 61h1v1h-1zM47 61h1v1h-1zM10 62h1v1h-1zM23 62h1v1h-1zM36 62h1v1h-1zM39 62h1v1h-1zM52 62h1v1h-1zM58 62h1v1h-1zM9 63h1v1h-1zM29 63h1v1h-1zM31 63h1v1h-1zM33 63h1v1h-1zM50 63h1v1h-1zM59 63h1v1h-1zM4 64h1v1h-1zM25 64h2v1h-2zM29 64h1v1h-1zM34 64h1v1h-1zM37 64h1v1h-1zM46 64h1v1h-1zM50 64h1v1h-1zM53 64h1v1h-1zM58 64h1v1h-1zM60 64h1v1h-1zM62 64h1v1h-1zM10 65h1v1h-1zM28 65h1v1h-1zM31 65h1v1h-1zM33 65h1v1h-1zM35 65h1v1h-1zM44 65h2v1h-2zM48 65h1v1h-1zM52 65h2v1h-2zM59 65h1v1h-1zM61 65h2v1h-2zM0 66h1v1h-1zM6 66h1v1h-1zM13 66h1v1h-1zM37 66h1v1h-1zM47 66h1v1h-1zM49 66h2v1h-2zM54 66h1v1h-1zM58 66h2v1h-2zM14 67h1v1h-1zM29 67h1v1h-1zM31 67h1v1h-1zM37 67h1v1h-1zM44 67h1v1h-1zM47 67h1v1h-1zM50 67h3v1h-3zM54 67h1v1h-1zM59 67h1v1h-1zM61 67h1v1h-1zM61 68h1v1h-1zM12 69h1v1h-1zM17 69h2v1h-2zM21 69h1v1h-1zM23 69h1v1h-1zM25 69h2v1h-2zM29 69h1v1h-1zM31 69h3v1h-3zM43 69h1v1h-1zM45 69h1v1h-1zM48 69h1v1h-1zM51 69h1v1h-1zM53 69h1v1h-1zM55 69h2v1h-2zM61 69h1v1h-1zM63 69h1v1h-1zM0 70h3v1h-3zM10 70h4v1h-4zM16 70h1v1h-1zM18 70h2v1h-2zM29 70h1v1h-1zM33 70h1v1h-1zM36 70h3v1h-3zM41 70h1v1h-1zM46 70h2v1h-2zM50 70h1v1h-1zM55 70h1v1h-1zM57 70h1v1h-1zM60 70h2v1h-2zM30 71h1v1h-1zM42 71h1v1h-1zM61 71h2v1h-2zM0 72h1v1h-1zM5 72h1v1h-1zM33 72h1v1h-1zM36 72h1v1h-1zM42 72h1v1h-1zM57 72h1v1h-1zM59 72h1v1h-1zM7 73h1v1h-1zM18 73h1v1h-1zM20 73h1v1h-1zM25 73h2v1h-2zM33 73h1v1h-1zM37 73h1v1h-1zM40 73h1v1h-1zM42 73h1v1h-1zM45 73h2v1h-2zM51 73h1v1h-1zM60 73h1v1h-1zM5 74h1v1h-1zM18 74h1v1h-1zM38 74h1v1h-1zM48 74h1v1h-1zM50 74h1v1h-1zM58 74h1v1h-1zM62 74h1v1h-1z"/>
<path fill="#ffb8b8" d="M13 0h1v1h-1zM15 0h2v1h-2zM6 1h1v1h-1zM16 1h1v1h-1zM48 1h1v1h-1zM10 2h1v1h-1zM36 2h1v1h-1zM44 2h1v1h-1zM27 4h1v1h-1zM13 5h1v1h-1zM13 6h1v1h-1zM39 8h1v1h-1zM56 8h1v1h-1zM58 9h1v1h-1zM50 14h1v1h-1zM56 14h1v1h-1zM12 18h1v1h-1zM18 18h1v1h-1zM20 20h1v1h-1zM30 21h1v1h-1zM1 23h1v1h-1zM8 23h1v1h-1zM29 33h1v1h-1zM19 34h1v1h-1zM14 38h1v1h-1zM21 39h1v1h-1zM55 42h1v1h-1zM50 43h1v1h-1zM5 45h1v1h-1zM25 45h1v1h-1zM60 45h1v1h-1zM60 46h3v1h-3zM62 47h1v1h-1zM60 50h1v1h-1zM32 52h1v1h-1zM55 52h1v1h-1zM23 54h1v1h-1zM22 55h2v1h-2zM62 56h1v1h-1zM48 57h1v1h-1zM54 58h1v1h-1zM16 59h2v1h-2zM54 62h1v1h-1zM41 63h1v1h-1zM55 64h1v1h-1zM8 65h1v1h-1zM25 65h1v1h-1zM34 67h1v1h-1zM56 67h1v1h-1zM33 71h1v1h-1zM56 73h1v1h-1zM59 74h1v1h-1z"/>
<path fill="#ff8585" d="M17 0h1v1h-1zM49 3h1v1h-1zM23 5h1v1h-1zM2 13h1v1h-1zM41 26h1v1h-1zM60 42h1v1h-1zM64 42h1v1h-1zM48 46h1v1h-1zM7 51h1v1h-1zM34 52h1v1h-1zM33 56h1v1h-1zM57 58h1v1h-1zM57 59h1v1h-1z"/>
<path fill="#ff9999" d="M18 0h1v1h-1zM17 1h1v1h-1zM49 1h1v1h-1zM18 3h1v1h-1zM7 22h1v1h-1zM29 22h2v1h-2zM46 22h1v1h-1zM32 26h1v1h-1zM44 26h1v1h-1zM27 30h1v1h-1zM27 31h1v1h-1zM27 32h1v1h-1zM1 48h1v1h-1zM1 49h1v1h-1zM63 51h1v1h-1zM34 55h1v1h-1zM29 56h1v1h-1zM1 62h1v1h-1zM3 63h1v1h-1zM34 65h1v1h-1zM49 68h1v1h-1zM57 68h1v1h-1zM31 71h1v1h-1zM8 72h1v1h-1z"/>
<path fill="#d7d7ff" d="M23 0h1v1h-1zM63 0h2v1h-2zM23 1h1v1h-1zM34 1h1v1h-1zM36 1h1v1h-1zM39 1h1v1h-1zM43 1h2v1h-2zM46 1h1v1h-1zM50 1h1v1h-1zM63 1h2v1h-2zM3 2h1v1h-1zM23 2h1v1h-1zM41 2h1v1h-1zM43 2h1v1h-1zM63 2h1v1h-1zM34 3h1v1h-1zM37 3h1v1h-1zM46 3h1v1h-1zM63 3h1v1h-1zM3 5h1v1h-1zM35 5h1v1h-1zM38 5h1v1h-1zM41 5h1v1h-1zM51 5h2v1h-2zM62 5h1v1h-1zM64 5h1v1h-1zM34 6h2v1h-2zM58 6h1v1h-1zM63 6h2v1h-2zM15 7h1v1h-1zM63 7h1v1h-1zM46 8h1v1h-1zM51 8h1v1h-1zM7 9h1v1h-1zM11 9h1v1h-1zM34 9h1v1h-1zM38 9h1v1h-1zM41 9h1v1h-1zM44 9h1v1h-1zM62 9h3v1h-3zM23 11h1v1h-1zM37 11h1v1h-1zM40 11h1v1h-1zM46 11h2v1h-2zM53 11h1v1h-1zM57 13h1v1h-1zM63 13h1v1h-1zM9 14h1v1h-1zM32 14h1v1h-1zM34 14h1v1h-1zM8 17h1v1h-1zM28 17h1v1h-1zM45 17h1v1h-1zM60 17h1v1h-1zM21 18h1v1h-1zM41 18h1v1h-1zM43 18h1v1h-1zM45 18h1v1h-1zM47 18h1v1h-1zM53 18h2v1h-2zM56 18h1v1h-1zM61 18h1v1h-1zM3 19h1v1h-1zM19 19h1v1h-1zM32 19h1v1h-1zM46 19h1v1h-1zM51 19h1v1h-1zM59 19h1v1h-1zM9 20h1v1h-1zM36 20h1v1h-1zM40 20h2v1h-2zM56 20h1v1h-1zM9 22h1v1h-1zM13 22h1v1h-1zM20 22h1v1h-1zM33 22h1v1h-1zM56 22h1v1h-1zM61 22h1v1h-1zM3 23h1v1h-1zM6 23h1v1h-1zM17 23h1v1h-1zM19 23h1v1h-1zM33 23h2v1h-2zM36 23h1v1h-1zM41 23h1v1h-1zM45 23h1v1h-1zM51 23h1v1h-1zM53 23h1v1h-1zM55 23h1v1h-1zM57 23h1v1h-1zM60 26h1v1h-1zM64 27h1v1h-1zM24 28h1v1h-1zM37 28h1v1h-1zM39 28h1v1h-1zM45 28h2v1h-2zM33 29h1v1h-1zM40 29h1v1h-1zM47 29h1v1h-1zM50 29h1v1h-1zM63 29h1v1h-1zM39 30h1v1h-1zM25 32h1v1h-1zM37 32h1v1h-1zM39 32h1v1h-1zM44 32h1v1h-1zM46 32h1v1h-1zM54 32h1v1h-1zM56 32h1v1h-1zM64 32h1v1h-1zM35 35h1v1h-1zM45 35h1v1h-1zM59 35h1v1h-1zM8 36h1v1h-1zM38 36h1v1h-1zM46 36h1v1h-1zM54 36h2v1h-2zM57 36h2v1h-2zM64 36h1v1h-1zM2 37h1v1h-1zM24 37h1v1h-1zM40 37h1v1h-1zM51 37h1v1h-1zM55 37h1v1h-1zM63 37h1v1h-1zM8 38h1v1h-1zM11 38h1v1h-1zM6 39h2v1h-2zM2 42h1v1h-1zM2 44h1v1h-1zM21 44h1v1h-1zM34 44h1v1h-1zM2 46h3v1h-3zM6 46h1v1h-1zM13 46h1v1h-1zM19 46h1v1h-1zM23 46h1v1h-1zM26 46h2v1h-2zM44 46h1v1h-1zM11 47h1v1h-1zM21 47h1v1h-1zM0 48h1v1h-1zM2 48h1v1h-1zM7 48h2v1h-2zM17 48h1v1h-1zM21 48h1v1h-1zM28 48h1v1h-1zM43 48h1v1h-1zM59 48h1v1h-1zM3 49h1v1h-1zM12 49h2v1h-2zM3 51h1v1h-1zM9 51h1v1h-1zM12 51h1v1h-1zM14 51h1v1h-1zM18 51h1v1h-1zM23 51h1v1h-1zM26 51h2v1h-2zM46 51h1v1h-1zM64 51h1v1h-1zM8 52h2v1h-2zM21 52h1v1h-1zM24 52h1v1h-1zM41 52h1v1h-1zM3 53h1v1h-1zM3 54h2v1h-2zM13 54h1v1h-1zM18 54h2v1h-2zM21 54h1v1h-1zM2 56h1v1h-1zM7 56h1v1h-1zM9 56h2v1h-2zM12 56h2v1h-2zM16 56h3v1h-3zM23 56h2v1h-2zM45 56h1v1h-1zM53 56h1v1h-1zM24 57h1v1h-1zM15 58h1v1h-1zM20 58h1v1h-1zM24 58h2v1h-2zM31 58h1v1h-1zM38 58h1v1h-1zM44 58h1v1h-1zM0 59h1v1h-1zM13 59h1v1h-1zM23 59h2v1h-2zM26 59h1v1h-1zM32 59h1v1h-1zM39 59h1v1h-1zM43 59h1v1h-1zM56 59h1v1h-1zM8 60h1v1h-1zM11 60h1v1h-1zM23 61h1v1h-1zM8 62h1v1h-1zM15 62h1v1h-1zM17 62h1v1h-1zM24 62h1v1h-1zM63 62h1v1h-1zM7 63h1v1h-1zM11 63h2v1h-2zM23 63h2v1h-2zM2 64h1v1h-1zM27 64h1v1h-1zM2 65h1v1h-1zM7 66h1v1h-1zM23 66h1v1h-1zM62 66h2v1h-2zM7 67h1v1h-1zM11 67h2v1h-2zM28 67h1v1h-1zM30 67h1v1h-1zM45 67h1v1h-1zM4 68h1v1h-1zM7 68h1v1h-1zM10 68h1v1h-1zM16 68h1v1h-1zM23 68h1v1h-1zM31 68h2v1h-2zM41 68h1v1h-1zM47 68h1v1h-1zM64 68h1v1h-1zM3 71h1v1h-1zM7 71h2v1h-2zM12 71h1v1h-1zM14 71h1v1h-1zM19 71h1v1h-1zM21 71h1v1h-1zM39 71h1v1h-1zM41 71h1v1h-1zM56 71h1v1h-1zM59 71h1v1h-1zM14 72h1v1h-1zM28 72h1v1h-1zM37 72h1v1h-1zM63 72h1v1h-1zM2 73h1v1h-1zM8 73h1v1h-1zM12 73h1v1h-1zM21 73h1v1h-1zM23 73h1v1h-1zM63 73h1v1h-1zM8 74h1v1h-1zM16 74h1v1h-1zM21 74h1v1h-1zM26 74h1v1h-1zM46 74h1v1h-1z"/>
<path fill="#ffadad" d="M24 0h1v1h-1zM42 0h1v1h-1zM7 1h1v1h-1zM59 1h1v1h-1zM6 2h1v1h-1zM9 2h1v1h-1zM15 2h1v1h-1zM13 4h1v1h-1zM12 6h1v1h-1zM48 8h1v1h-1zM27 9h1v1h-1zM24 11h1v1h-1zM7 14h1v1h-1zM13 17h1v1h-1zM7 20h1v1h-1zM28 22h1v1h-1zM9 23h1v1h-1zM54 25h1v1h-1zM30 28h1v1h-1zM28 29h1v1h-1zM50 30h1v1h-1zM50 31h1v1h-1zM28 32h1v1h-1zM50 33h1v1h-1zM41 38h1v1h-1zM52 44h1v1h-1zM61 45h1v1h-1zM17 46h1v1h-1zM53 48h1v1h-1zM62 48h1v1h-1zM60 49h1v1h-1zM62 49h1v1h-1zM52 50h1v1h-1zM35 52h1v1h-1zM64 52h1v1h-1zM61 53h1v1h-1zM63 53h1v1h-1zM61 55h2v1h-2zM48 58h1v1h-1zM63 58h1v1h-1zM14 66h1v1h-1zM33 68h1v1h-1zM30 70h1v1h-1zM9 72h1v1h-1zM32 72h1v1h-1z"/>
<path fill="#ffc2c2" d="M30 0h1v1h-1zM15 1h1v1h-1zM16 2h1v1h-1zM2 4h1v1h-1zM18 6h1v1h-1zM46 9h1v1h-1zM56 9h1v1h-1zM56 13h1v1h-1zM2 14h1v1h-1zM15 14h1v1h-1zM64 15h1v1h-1zM5 17h1v1h-1zM4 18h1v1h-1zM45 19h1v1h-1zM5 21h1v1h-1zM3 22h1v1h-1zM59 23h1v1h-1zM5 24h1v1h-1zM37 24h1v1h-1zM39 26h1v1h-1zM56 26h1v1h-1zM39 27h1v1h-1zM19 30h1v1h-1zM31 30h1v1h-1zM42 30h1v1h-1zM64 30h1v1h-1zM2 32h1v1h-1zM19 32h1v1h-1zM31 32h1v1h-1zM19 33h1v1h-1zM51 33h1v1h-1zM8 34h1v1h-1zM37 34h1v1h-1zM21 35h1v1h-1zM47 35h1v1h-1zM42 36h1v1h-1zM62 37h1v1h-1zM7 38h1v1h-1zM57 39h1v1h-1zM39 42h1v1h-1zM5 44h1v1h-1zM49 45h1v1h-1zM5 47h1v1h-1zM50 47h1v1h-1zM61 47h1v1h-1zM5 48h1v1h-1zM50 48h1v1h-1zM4 49h2v1h-2zM5 50h1v1h-1zM5 51h1v1h-1zM62 52h1v1h-1zM35 53h1v1h-1zM62 53h1v1h-1zM61 56h1v1h-1zM13 61h1v1h-1zM56 61h2v1h-2zM53 62h1v1h-1zM54 63h1v1h-1zM8 66h1v1h-1zM58 67h1v1h-1zM21 70h1v1h-1zM15 74h1v1h-1zM24 74h1v1h-1z"/>
<path fill="#ff8f8f" d="M38 0h1v1h-1zM49 2h1v1h-1zM21 9h1v1h-1zM23 22h1v1h-1zM27 29h1v1h-1zM30 30h1v1h-1zM30 31h1v1h-1zM30 32h1v1h-1zM28 33h1v1h-1zM0 39h1v1h-1zM25 48h1v1h-1zM61 48h1v1h-1zM64 54h1v1h-1zM1 64h1v1h-1zM9 68h1v1h-1zM31 70h2v1h-2zM31 72h1v1h-1z"/>
<path fill="#cfcfff" d="M45 0h1v1h-1zM32 1h1v1h-1zM12 2h1v1h-1zM44 5h2v1h-2zM47 5h1v1h-1zM49 5h1v1h-1zM34 8h1v1h-1zM32 9h1v1h-1zM45 9h1v1h-1zM63 12h1v1h-1zM46 18h1v1h-1zM43 19h1v1h-1zM50 19h1v1h-1zM32 20h1v1h-1zM45 20h1v1h-1zM48 20h1v1h-1zM54 20h1v1h-1zM59 20h1v1h-1zM62 20h2v1h-2zM27 22h1v1h-1zM34 22h1v1h-1zM36 22h1v1h-1zM38 22h1v1h-1zM24 23h2v1h-2zM32 23h1v1h-1zM39 23h1v1h-1zM43 23h1v1h-1zM48 23h1v1h-1zM54 23h1v1h-1zM56 23h1v1h-1zM58 23h1v1h-1zM62 23h1v1h-1zM63 26h1v1h-1zM51 28h1v1h-1zM63 28h1v1h-1zM51 31h1v1h-1zM33 36h1v1h-1zM53 36h1v1h-1zM13 38h1v1h-1zM3 41h1v1h-1zM8 41h1v1h-1zM24 41h1v1h-1zM7 46h1v1h-1zM11 46h2v1h-2zM15 46h1v1h-1zM39 46h1v1h-1zM13 47h1v1h-1zM3 48h1v1h-1zM2 51h1v1h-1zM8 51h1v1h-1zM11 51h1v1h-1zM53 51h1v1h-1zM11 52h1v1h-1zM15 52h1v1h-1zM3 56h1v1h-1zM21 56h1v1h-1zM27 59h1v1h-1zM41 59h1v1h-1zM7 62h1v1h-1zM11 62h1v1h-1zM13 62h1v1h-1zM22 62h1v1h-1zM14 63h1v1h-1zM21 66h1v1h-1zM13 67h1v1h-1zM0 68h2v1h-2zM3 68h1v1h-1zM21 68h2v1h-2zM27 68h1v1h-1zM45 68h1v1h-1zM60 68h1v1h-1zM63 68h1v1h-1zM13 71h1v1h-1zM40 71h1v1h-1zM45 71h1v1h-1zM53 71h1v1h-1zM63 71h1v1h-1zM4 72h1v1h-1zM7 72h1v1h-1zM17 72h1v1h-1zM22 72h1v1h-1zM24 72h1v1h-1zM27 73h1v1h-1zM13 74h1v1h-1z"/>
<path fill="#e7e7ff" d="M46 0h1v1h-1zM50 0h1v1h-1zM53 0h1v1h-1zM56 0h1v1h-1zM61 0h1v1h-1zM3 1h2v1h-2zM9 1h1v1h-1zM14 1h1v1h-1zM27 1h1v1h-1zM31 1h1v1h-1zM38 1h1v1h-1zM41 1h1v1h-1zM51 1h1v1h-1zM53 1h1v1h-1zM58 1h1v1h-1zM60 1h1v1h-1zM4 2h1v1h-1zM7 2h1v1h-1zM17 2h1v1h-1zM19 2h1v1h-1zM39 2h1v1h-1zM48 2h1v1h-1zM50 2h2v1h-2zM59 2h1v1h-1zM62 2h1v1h-1zM64 2h1v1h-1zM2 3h1v1h-1zM6 3h3v1h-3zM12 3h1v1h-1zM15 3h1v1h-1zM33 3h1v1h-1zM36 3h1v1h-1zM39 3h2v1h-2zM51 3h1v1h-1zM54 3h2v1h-2zM57 3h1v1h-1zM62 3h1v1h-1zM21 4h1v1h-1zM43 4h1v1h-1zM45 4h1v1h-1zM53 4h1v1h-1zM62 4h1v1h-1zM0 5h1v1h-1zM6 5h1v1h-1zM9 5h1v1h-1zM22 5h1v1h-1zM34 5h1v1h-1zM36 5h1v1h-1zM40 5h1v1h-1zM43 5h1v1h-1zM53 5h1v1h-1zM57 5h2v1h-2zM63 5h1v1h-1zM3 6h1v1h-1zM9 6h2v1h-2zM15 6h1v1h-1zM21 6h1v1h-1zM28 6h1v1h-1zM30 6h2v1h-2zM37 6h3v1h-3zM45 6h1v1h-1zM52 6h1v1h-1zM54 6h1v1h-1zM56 6h2v1h-2zM60 6h2v1h-2zM10 7h1v1h-1zM17 7h1v1h-1zM19 7h1v1h-1zM32 7h1v1h-1zM35 7h3v1h-3zM40 7h1v1h-1zM45 7h3v1h-3zM49 7h1v1h-1zM58 7h2v1h-2zM62 7h1v1h-1zM64 7h1v1h-1zM12 8h1v1h-1zM21 8h1v1h-1zM42 8h1v1h-1zM44 8h1v1h-1zM59 8h1v1h-1zM62 8h1v1h-1zM2 9h2v1h-2zM9 9h1v1h-1zM13 9h1v1h-1zM20 9h1v1h-1zM30 9h1v1h-1zM40 9h1v1h-1zM48 9h1v1h-1zM54 9h2v1h-2zM57 9h1v1h-1zM59 9h2v1h-2zM55 10h1v1h-1zM4 11h1v1h-1zM7 11h1v1h-1zM9 11h1v1h-1zM13 11h1v1h-1zM18 11h1v1h-1zM20 11h2v1h-2zM34 11h1v1h-1zM36 11h1v1h-1zM39 11h1v1h-1zM48 11h2v1h-2zM51 11h1v1h-1zM55 11h1v1h-1zM58 11h1v1h-1zM62 11h1v1h-1zM8 12h1v1h-1zM36 12h1v1h-1zM39 12h1v1h-1zM46 12h1v1h-1zM3 13h1v1h-1zM9 13h1v1h-1zM12 13h1v1h-1zM24 13h2v1h-2zM34 13h1v1h-1zM40 13h1v1h-1zM42 13h1v1h-1zM48 13h2v1h-2zM53 13h1v1h-1zM60 13h1v1h-1zM64 13h1v1h-1zM4 14h2v1h-2zM19 14h1v1h-1zM22 14h1v1h-1zM43 14h1v1h-1zM48 14h1v1h-1zM51 14h1v1h-1zM61 14h1v1h-1zM8 15h1v1h-1zM39 15h1v1h-1zM45 15h1v1h-1zM47 15h1v1h-1zM56 15h1v1h-1zM7 16h1v1h-1zM16 16h1v1h-1zM21 16h2v1h-2zM51 16h1v1h-1zM54 16h1v1h-1zM59 16h1v1h-1zM62 16h3v1h-3zM15 17h1v1h-1zM19 17h1v1h-1zM40 17h1v1h-1zM46 17h1v1h-1zM50 17h1v1h-1zM58 17h2v1h-2zM5 18h2v1h-2zM16 18h1v1h-1zM24 18h1v1h-1zM26 18h3v1h-3zM33 18h1v1h-1zM35 18h4v1h-4zM48 18h1v1h-1zM50 18h2v1h-2zM58 18h1v1h-1zM8 19h2v1h-2zM14 19h1v1h-1zM21 19h1v1h-1zM27 19h1v1h-1zM30 19h1v1h-1zM34 19h2v1h-2zM37 19h1v1h-1zM42 19h1v1h-1zM44 19h1v1h-1zM47 19h1v1h-1zM53 19h1v1h-1zM57 19h2v1h-2zM2 20h2v1h-2zM10 20h1v1h-1zM15 20h2v1h-2zM18 20h2v1h-2zM23 20h1v1h-1zM37 20h2v1h-2zM43 20h2v1h-2zM57 20h1v1h-1zM61 20h1v1h-1zM64 20h1v1h-1zM0 22h1v1h-1zM2 22h1v1h-1zM4 22h1v1h-1zM6 22h1v1h-1zM8 22h1v1h-1zM10 22h1v1h-1zM15 22h2v1h-2zM24 22h1v1h-1zM26 22h1v1h-1zM32 22h1v1h-1zM37 22h1v1h-1zM39 22h1v1h-1zM41 22h4v1h-4zM51 22h1v1h-1zM53 22h1v1h-1zM55 22h1v1h-1zM60 22h1v1h-1zM4 23h1v1h-1zM12 23h3v1h-3zM21 23h2v1h-2zM30 23h1v1h-1zM37 23h2v1h-2zM42 23h1v1h-1zM46 23h1v1h-1zM61 23h1v1h-1zM39 24h1v1h-1zM45 24h1v1h-1zM53 24h1v1h-1zM60 24h1v1h-1zM17 25h1v1h-1zM35 25h1v1h-1zM37 25h1v1h-1zM43 25h1v1h-1zM45 25h1v1h-1zM51 25h1v1h-1zM53 25h1v1h-1zM63 25h1v1h-1zM12 26h1v1h-1zM19 26h1v1h-1zM21 26h1v1h-1zM23 26h1v1h-1zM37 26h2v1h-2zM49 26h2v1h-2zM53 26h2v1h-2zM61 26h1v1h-1zM14 27h1v1h-1zM32 27h1v1h-1zM43 27h1v1h-1zM45 27h1v1h-1zM47 27h1v1h-1zM49 27h1v1h-1zM60 27h1v1h-1zM7 28h2v1h-2zM10 28h3v1h-3zM18 28h2v1h-2zM21 28h1v1h-1zM23 28h1v1h-1zM25 28h1v1h-1zM43 28h1v1h-1zM50 28h1v1h-1zM52 28h1v1h-1zM57 28h1v1h-1zM59 28h1v1h-1zM61 28h1v1h-1zM2 29h3v1h-3zM7 29h1v1h-1zM23 29h1v1h-1zM25 29h1v1h-1zM32 29h1v1h-1zM37 29h3v1h-3zM45 29h2v1h-2zM48 29h2v1h-2zM51 29h1v1h-1zM61 29h2v1h-2zM64 29h1v1h-1zM3 30h1v1h-1zM21 30h1v1h-1zM34 30h1v1h-1zM36 30h2v1h-2zM48 30h1v1h-1zM56 30h1v1h-1zM62 30h1v1h-1zM1 31h1v1h-1zM8 31h1v1h-1zM24 31h1v1h-1zM32 31h2v1h-2zM35 31h2v1h-2zM40 31h1v1h-1zM43 31h1v1h-1zM47 31h1v1h-1zM53 31h1v1h-1zM56 31h2v1h-2zM0 32h1v1h-1zM6 32h1v1h-1zM16 32h1v1h-1zM21 32h1v1h-1zM41 32h1v1h-1zM51 32h1v1h-1zM53 32h1v1h-1zM59 32h2v1h-2zM62 32h1v1h-1zM32 33h2v1h-2zM45 33h2v1h-2zM49 33h1v1h-1zM59 33h1v1h-1zM61 33h2v1h-2zM21 34h1v1h-1zM43 34h1v1h-1zM56 34h2v1h-2zM60 34h2v1h-2zM9 35h1v1h-1zM12 35h1v1h-1zM32 35h1v1h-1zM38 35h1v1h-1zM41 35h1v1h-1zM46 35h1v1h-1zM50 35h1v1h-1zM53 35h1v1h-1zM57 35h1v1h-1zM63 35h1v1h-1zM0 36h1v1h-1zM3 36h1v1h-1zM13 36h1v1h-1zM16 36h1v1h-1zM18 36h1v1h-1zM21 36h1v1h-1zM24 36h1v1h-1zM31 36h1v1h-1zM34 36h1v1h-1zM40 36h1v1h-1zM43 36h1v1h-1zM45 36h1v1h-1zM48 36h2v1h-2zM51 36h1v1h-1zM59 36h1v1h-1zM4 37h1v1h-1zM7 37h1v1h-1zM10 37h1v1h-1zM16 37h1v1h-1zM26 37h2v1h-2zM33 37h1v1h-1zM35 37h1v1h-1zM37 37h1v1h-1zM44 37h3v1h-3zM48 37h1v1h-1zM50 37h1v1h-1zM53 37h1v1h-1zM56 37h1v1h-1zM60 37h1v1h-1zM64 37h1v1h-1zM3 38h2v1h-2zM6 38h1v1h-1zM17 38h1v1h-1zM19 38h1v1h-1zM21 38h1v1h-1zM25 38h1v1h-1zM32 38h1v1h-1zM34 38h1v1h-1zM39 38h1v1h-1zM54 38h2v1h-2zM62 38h3v1h-3zM5 39h1v1h-1zM16 39h2v1h-2zM23 39h1v1h-1zM26 39h1v1h-1zM32 39h1v1h-1zM38 39h3v1h-3zM48 39h1v1h-1zM62 39h1v1h-1zM6 40h1v1h-1zM8 40h2v1h-2zM12 40h2v1h-2zM18 40h1v1h-1zM23 40h2v1h-2zM31 40h1v1h-1zM0 41h1v1h-1zM6 41h1v1h-1zM11 41h1v1h-1zM13 41h3v1h-3zM20 41h1v1h-1zM26 41h1v1h-1zM30 41h1v1h-1zM34 41h1v1h-1zM40 41h2v1h-2zM47 41h1v1h-1zM59 41h1v1h-1zM63 41h1v1h-1zM3 42h1v1h-1zM8 42h2v1h-2zM12 42h1v1h-1zM14 42h2v1h-2zM19 42h1v1h-1zM25 42h1v1h-1zM34 42h1v1h-1zM44 42h2v1h-2zM51 42h1v1h-1zM63 42h1v1h-1zM8 43h1v1h-1zM10 43h1v1h-1zM14 43h2v1h-2zM21 43h1v1h-1zM23 43h1v1h-1zM32 43h1v1h-1zM39 43h1v1h-1zM45 43h1v1h-1zM3 44h1v1h-1zM7 44h2v1h-2zM12 44h2v1h-2zM15 44h3v1h-3zM22 44h1v1h-1zM25 44h1v1h-1zM36 44h1v1h-1zM39 44h1v1h-1zM57 44h1v1h-1zM11 45h1v1h-1zM0 46h1v1h-1zM8 46h1v1h-1zM10 46h1v1h-1zM14 46h1v1h-1zM18 46h1v1h-1zM22 46h1v1h-1zM25 46h1v1h-1zM34 46h2v1h-2zM38 46h1v1h-1zM41 46h1v1h-1zM43 46h1v1h-1zM45 46h1v1h-1zM50 46h1v1h-1zM53 46h1v1h-1zM56 46h2v1h-2zM59 46h1v1h-1zM64 46h1v1h-1zM4 47h1v1h-1zM7 47h1v1h-1zM24 47h4v1h-4zM29 47h1v1h-1zM31 47h1v1h-1zM38 47h3v1h-3zM44 47h1v1h-1zM57 47h1v1h-1zM6 48h1v1h-1zM10 48h1v1h-1zM12 48h3v1h-3zM16 48h1v1h-1zM20 48h1v1h-1zM27 48h1v1h-1zM29 48h1v1h-1zM31 48h1v1h-1zM39 48h1v1h-1zM44 48h2v1h-2zM16 49h1v1h-1zM20 49h1v1h-1zM26 49h1v1h-1zM29 49h1v1h-1zM34 49h1v1h-1zM39 49h1v1h-1zM51 49h1v1h-1zM56 49h1v1h-1zM15 50h1v1h-1zM24 50h1v1h-1zM1 51h1v1h-1zM21 51h1v1h-1zM32 51h1v1h-1zM38 51h4v1h-4zM44 51h2v1h-2zM47 51h3v1h-3zM54 51h1v1h-1zM58 51h1v1h-1zM1 52h2v1h-2zM12 52h1v1h-1zM16 52h1v1h-1zM18 52h1v1h-1zM23 52h1v1h-1zM26 52h1v1h-1zM28 52h1v1h-1zM30 52h1v1h-1zM39 52h1v1h-1zM46 52h1v1h-1zM5 53h1v1h-1zM9 53h1v1h-1zM12 53h1v1h-1zM14 53h2v1h-2zM17 53h1v1h-1zM21 53h1v1h-1zM26 53h2v1h-2zM37 53h1v1h-1zM41 53h1v1h-1zM2 54h1v1h-1zM8 54h2v1h-2zM12 54h1v1h-1zM15 54h3v1h-3zM20 54h1v1h-1zM22 54h1v1h-1zM24 54h1v1h-1zM26 54h1v1h-1zM28 54h1v1h-1zM34 54h1v1h-1zM36 54h1v1h-1zM60 54h1v1h-1zM1 55h3v1h-3zM7 55h1v1h-1zM13 55h1v1h-1zM17 55h1v1h-1zM24 55h1v1h-1zM26 55h1v1h-1zM32 55h1v1h-1zM1 56h1v1h-1zM4 56h1v1h-1zM6 56h1v1h-1zM8 56h1v1h-1zM28 56h1v1h-1zM41 56h1v1h-1zM43 56h1v1h-1zM46 56h2v1h-2zM51 56h1v1h-1zM64 56h1v1h-1zM3 57h1v1h-1zM6 57h1v1h-1zM15 57h1v1h-1zM23 57h1v1h-1zM27 57h1v1h-1zM1 58h1v1h-1zM3 58h1v1h-1zM5 58h1v1h-1zM8 58h1v1h-1zM10 58h1v1h-1zM16 58h1v1h-1zM18 58h2v1h-2zM28 58h2v1h-2zM41 58h1v1h-1zM45 58h1v1h-1zM47 58h1v1h-1zM53 58h1v1h-1zM62 58h1v1h-1zM64 58h1v1h-1zM2 59h2v1h-2zM7 59h1v1h-1zM18 59h1v1h-1zM21 59h2v1h-2zM28 59h1v1h-1zM30 59h1v1h-1zM33 59h4v1h-4zM50 59h1v1h-1zM55 59h1v1h-1zM59 59h1v1h-1zM61 59h1v1h-1zM2 60h1v1h-1zM7 60h1v1h-1zM10 60h1v1h-1zM15 60h1v1h-1zM17 60h4v1h-4zM22 60h1v1h-1zM27 60h1v1h-1zM32 60h2v1h-2zM45 60h1v1h-1zM59 60h1v1h-1zM63 60h1v1h-1zM4 61h1v1h-1zM7 61h2v1h-2zM16 61h1v1h-1zM19 61h1v1h-1zM32 61h1v1h-1zM63 61h1v1h-1zM0 62h1v1h-1zM2 62h3v1h-3zM14 62h1v1h-1zM16 62h1v1h-1zM19 62h2v1h-2zM28 62h1v1h-1zM30 62h2v1h-2zM33 62h2v1h-2zM41 62h1v1h-1zM43 62h3v1h-3zM50 62h1v1h-1zM0 63h1v1h-1zM13 63h1v1h-1zM18 63h1v1h-1zM21 63h1v1h-1zM25 63h3v1h-3zM34 63h1v1h-1zM36 63h1v1h-1zM39 63h1v1h-1zM42 63h1v1h-1zM45 63h2v1h-2zM49 63h1v1h-1zM51 63h1v1h-1zM56 63h1v1h-1zM60 63h1v1h-1zM63 63h2v1h-2zM3 64h1v1h-1zM6 64h1v1h-1zM8 64h1v1h-1zM10 64h1v1h-1zM12 64h2v1h-2zM15 64h1v1h-1zM18 64h1v1h-1zM30 64h2v1h-2zM36 64h1v1h-1zM41 64h1v1h-1zM51 64h1v1h-1zM61 64h1v1h-1zM3 65h2v1h-2zM9 65h1v1h-1zM12 65h1v1h-1zM15 65h1v1h-1zM17 65h2v1h-2zM21 65h4v1h-4zM27 65h1v1h-1zM38 65h1v1h-1zM64 65h1v1h-1zM4 66h1v1h-1zM10 66h1v1h-1zM12 66h1v1h-1zM16 66h1v1h-1zM18 66h2v1h-2zM27 66h1v1h-1zM29 66h3v1h-3zM41 66h1v1h-1zM43 66h1v1h-1zM48 66h1v1h-1zM53 66h1v1h-1zM3 67h1v1h-1zM5 67h1v1h-1zM10 67h1v1h-1zM21 67h1v1h-1zM24 67h1v1h-1zM33 67h1v1h-1zM35 67h2v1h-2zM39 67h1v1h-1zM42 67h1v1h-1zM46 67h1v1h-1zM57 67h1v1h-1zM24 68h1v1h-1zM26 68h1v1h-1zM29 68h1v1h-1zM35 68h3v1h-3zM40 68h1v1h-1zM48 68h1v1h-1zM52 68h1v1h-1zM54 68h2v1h-2zM59 68h1v1h-1zM2 69h1v1h-1zM11 69h1v1h-1zM14 69h1v1h-1zM24 69h1v1h-1zM38 69h1v1h-1zM4 70h2v1h-2zM8 70h2v1h-2zM17 70h1v1h-1zM24 70h2v1h-2zM34 70h1v1h-1zM4 71h1v1h-1zM20 71h1v1h-1zM22 71h4v1h-4zM37 71h1v1h-1zM44 71h1v1h-1zM47 71h1v1h-1zM50 71h1v1h-1zM54 71h2v1h-2zM60 71h1v1h-1zM3 72h1v1h-1zM12 72h2v1h-2zM29 72h1v1h-1zM39 72h1v1h-1zM44 72h1v1h-1zM47 72h1v1h-1zM49 72h1v1h-1zM51 72h1v1h-1zM54 72h1v1h-1zM56 72h1v1h-1zM60 72h3v1h-3zM64 72h1v1h-1zM5 73h1v1h-1zM9 73h2v1h-2zM13 73h1v1h-1zM15 73h2v1h-2zM22 73h1v1h-1zM39 73h1v1h-1zM47 73h1v1h-1zM52 73h1v1h-1zM54 73h1v1h-1zM57 73h1v1h-1zM1 74h2v1h-2zM6 74h1v1h-1zM10 74h3v1h-3zM14 74h1v1h-1zM22 74h1v1h-1zM30 74h1v1h-1zM39 74h1v1h-1zM42 74h1v1h-1zM53 74h2v1h-2zM63 74h1v1h-1z"/>
<path fill="#ffa3a3" d="M49 0h1v1h-1zM18 1h1v1h-1zM9 3h1v1h-1zM7 5h1v1h-1zM2 10h1v1h-1zM2 11h1v1h-1zM28 11h1v1h-1zM0 14h1v1h-1zM28 21h2v1h-2zM48 22h1v1h-1zM8 26h1v1h-1zM44 27h1v1h-1zM3 28h1v1h-1zM28 30h1v1h-1zM28 31h1v1h-1zM30 33h1v1h-1zM35 36h1v1h-1zM62 45h1v1h-1zM1 46h1v1h-1zM40 46h1v1h-1zM46 46h1v1h-1zM54 46h1v1h-1zM48 47h1v1h-1zM61 49h1v1h-1zM0 51h1v1h-1zM16 51h1v1h-1zM33 51h2v1h-2zM63 52h1v1h-1zM12 59h1v1h-1zM8 67h1v1h-1zM20 68h1v1h-1zM29 71h1v1h-1zM32 71h1v1h-1zM46 72h1v1h-1z"/>
<path fill="#ff7070" d="M24 1h1v1h-1zM10 5h1v1h-1zM27 13h1v1h-1zM6 15h1v1h-1zM23 21h1v1h-1zM16 27h1v1h-1zM52 35h1v1h-1zM27 36h1v1h-1zM36 36h1v1h-1zM57 37h1v1h-1zM64 41h1v1h-1zM18 43h1v1h-1zM34 53h1v1h-1zM34 56h1v1h-1zM14 57h1v1h-1z"/>
<path fill="#ffe0e0" d="M29 1h1v1h-1zM16 4h1v1h-1zM21 7h1v1h-1zM1 8h1v1h-1zM20 8h1v1h-1zM30 8h1v1h-1zM10 10h1v1h-1zM19 10h1v1h-1zM20 12h1v1h-1zM18 16h1v1h-1zM52 16h1v1h-1zM51 17h1v1h-1zM1 21h1v1h-1zM26 21h1v1h-1zM40 21h1v1h-1zM53 21h1v1h-1zM49 22h1v1h-1zM24 24h1v1h-1zM1 25h1v1h-1zM3 27h1v1h-1zM29 28h1v1h-1zM6 33h1v1h-1zM38 33h1v1h-1zM54 33h1v1h-1zM11 36h1v1h-1zM14 37h1v1h-1zM59 39h1v1h-1zM61 39h1v1h-1zM35 41h1v1h-1zM58 42h1v1h-1zM58 43h1v1h-1zM61 43h1v1h-1zM42 45h1v1h-1zM44 45h1v1h-1zM56 45h1v1h-1zM64 45h1v1h-1zM60 47h1v1h-1zM46 48h1v1h-1zM53 50h3v1h-3zM58 50h1v1h-1zM55 53h1v1h-1zM58 55h1v1h-1zM60 56h1v1h-1zM52 57h1v1h-1zM61 57h1v1h-1zM37 61h1v1h-1zM50 61h1v1h-1zM55 63h1v1h-1zM55 66h1v1h-1zM20 67h1v1h-1zM40 69h1v1h-1z"/>
<path fill="#bfbfff" d="M45 1h1v1h-1zM32 5h1v1h-1zM63 11h1v1h-1zM63 23h1v1h-1zM63 36h1v1h-1zM15 68h1v1h-1z"/>
<path fill="#c7c7ff" d="M56 1h1v1h-1zM54 5h1v1h-1zM59 11h1v1h-1zM64 11h1v1h-1zM11 23h1v1h-1zM40 23h1v1h-1zM64 23h1v1h-1zM64 31h1v1h-1zM63 46h1v1h-1zM19 51h1v1h-1zM7 58h1v1h-1zM8 59h1v1h-1zM16 63h1v1h-1zM2 68h1v1h-1zM8 68h1v1h-1zM13 68h1v1h-1zM46 68h1v1h-1zM3 70h1v1h-1zM9 71h1v1h-1zM45 72h1v1h-1zM24 73h1v1h-1z"/>
<path fill="#ffebeb" d="M22 3h1v1h-1zM20 4h1v1h-1zM28 4h1v1h-1zM55 4h1v1h-1zM5 10h1v1h-1zM11 10h1v1h-1zM17 10h2v1h-2zM21 10h2v1h-2zM24 10h1v1h-1zM30 10h2v1h-2zM42 10h1v1h-1zM30 12h1v1h-1zM12 15h1v1h-1zM20 15h1v1h-1zM31 15h1v1h-1zM0 16h1v1h-1zM12 16h1v1h-1zM31 16h1v1h-1zM5 19h1v1h-1zM0 21h1v1h-1zM17 21h1v1h-1zM22 21h1v1h-1zM52 21h1v1h-1zM0 24h2v1h-2zM17 24h1v1h-1zM27 24h1v1h-1zM30 24h2v1h-2zM35 24h1v1h-1zM55 24h1v1h-1zM23 25h1v1h-1zM30 25h1v1h-1zM28 27h1v1h-1zM26 30h1v1h-1zM29 30h1v1h-1zM22 31h1v1h-1zM1 33h1v1h-1zM13 33h1v1h-1zM23 33h1v1h-1zM26 33h1v1h-1zM52 33h1v1h-1zM6 34h1v1h-1zM11 34h1v1h-1zM20 34h1v1h-1zM29 34h1v1h-1zM6 37h1v1h-1zM52 38h1v1h-1zM42 39h1v1h-1zM52 39h1v1h-1zM10 40h1v1h-1zM58 40h1v1h-1zM5 42h1v1h-1zM41 42h1v1h-1zM47 43h1v1h-1zM59 43h1v1h-1zM50 44h1v1h-1zM58 44h1v1h-1zM16 45h1v1h-1zM26 45h1v1h-1zM28 45h2v1h-2zM37 45h1v1h-1zM46 45h1v1h-1zM50 45h1v1h-1zM55 45h1v1h-1zM58 45h1v1h-1zM63 45h1v1h-1zM52 47h1v1h-1zM1 50h1v1h-1zM11 50h1v1h-1zM25 50h1v1h-1zM28 50h1v1h-1zM32 50h1v1h-1zM34 50h1v1h-1zM38 50h1v1h-1zM47 50h1v1h-1zM62 50h1v1h-1zM60 52h1v1h-1zM49 54h1v1h-1zM46 55h1v1h-1zM32 57h1v1h-1zM34 57h1v1h-1zM37 57h1v1h-1zM39 60h1v1h-1zM52 60h1v1h-1zM55 60h1v1h-1zM57 60h1v1h-1zM52 61h1v1h-1zM60 62h1v1h-1zM58 65h1v1h-1zM32 66h1v1h-1zM50 69h1v1h-1zM52 69h1v1h-1zM60 69h1v1h-1z"/>
<path fill="#ff5c5c" d="M22 4h1v1h-1zM0 10h1v1h-1zM31 22h1v1h-1zM9 24h1v1h-1zM4 28h1v1h-1zM1 63h1v1h-1zM32 74h1v1h-1z"/>
<path fill="#ffd6d6" d="M25 4h1v1h-1zM6 8h1v1h-1zM26 10h1v1h-1zM29 10h1v1h-1zM27 11h1v1h-1zM12 12h1v1h-1zM29 14h1v1h-1zM15 16h1v1h-1zM3 18h1v1h-1zM23 24h1v1h-1zM16 26h1v1h-1zM15 28h1v1h-1zM10 30h1v1h-1zM19 31h1v1h-1zM47 32h1v1h-1zM3 33h1v1h-1zM4 34h1v1h-1zM22 34h1v1h-1zM48 34h1v1h-1zM27 35h1v1h-1zM52 37h1v1h-1zM33 38h1v1h-1zM37 42h1v1h-1zM44 43h1v1h-1zM49 44h1v1h-1zM51 48h1v1h-1zM15 49h1v1h-1zM35 49h1v1h-1zM42 50h1v1h-1zM51 50h1v1h-1zM49 52h1v1h-1zM6 53h1v1h-1zM39 53h1v1h-1zM39 57h1v1h-1zM64 59h1v1h-1zM16 60h1v1h-1zM38 61h1v1h-1zM6 62h1v1h-1zM48 64h1v1h-1zM57 64h1v1h-1zM37 69h1v1h-1zM42 69h1v1h-1zM37 74h1v1h-1z"/>
<path fill="#ff5252" d="M17 6h1v1h-1zM37 36h1v1h-1zM56 66h1v1h-1zM31 74h1v1h-1z"/>
<path fill="#ff4747" d="M23 6h1v1h-1zM59 6h1v1h-1zM2 16h2v1h-2zM25 35h1v1h-1zM35 70h1v1h-1z"/>
<path fill="#ff3333" d="M0 7h1v1h-1zM0 9h1v1h-1zM59 40h1v1h-1z"/>
<path fill="#ff6666" d="M0 8h1v1h-1zM5 15h1v1h-1zM7 23h1v1h-1zM24 26h1v1h-1zM58 39h1v1h-1zM1 60h1v1h-1zM1 65h1v1h-1zM1 66h1v1h-1z"/>
<path fill="#ff0a0a" d="M0 11h1v1h-1z"/>
<path fill="#ff2929" d="M0 12h1v1h-1zM57 38h2v1h-2zM1 61h1v1h-1zM38 71h1v1h-1z"/>
<path fill="#ff1414" d="M0 13h1v1h-1zM21 20h1v1h-1zM31 73h2v1h-2z"/>
<path fill="#ff1f1f" d="M2 17h1v1h-1zM2 18h1v1h-1zM2 19h1v1h-1zM21 21h1v1h-1zM21 22h1v1h-1z"/>
<path fill="#ff7a7a" d="M34 17h1v1h-1zM31 21h1v1h-1zM3 34h1v1h-1zM1 47h1v1h-1zM33 53h1v1h-1zM33 54h1v1h-1z"/>
<path fill="#ff3d3d" d="M58 37h1v1h-1zM34 40h1v1h-1zM51 40h1v1h-1zM15 51h1v1h-1zM56 65h1v1h-1z"/>
</g>
<line x1="356.0" y1="295.1" x2="411.0" y2="295.1" stroke="#c4c4c4" stroke-width="0.8"/>
<path d="M365.0 298.3L472.0 298.3M472.0 298.3L490.0 300.0M365.0 298.3L365.0 302.0M397.0 298.3L397.0 302.0M430.0 300.5L470.0 300.5M505.6 299.0L505.6 302.0M512.0 300.0L562.0 300.0M512.0 300.0L512.0 302.5M562.0 300.0L562.0 302.5M575.5 300.5L617.0 300.5M575.5 300.5L575.5 303.0M594.0 300.5L594.0 303.0M613.0 300.5L613.0 303.0M618.0 300.0L634.0 300.0M634.0 300.0L634.0 302.5M520.0 301.5L545.0 301.5" stroke="#4a4a4a" stroke-width="0.6" fill="none"/>
<text transform="translate(495.00,294.50) scale(1.0,1)" font-size="3" text-anchor="start" fill="#222" font-family="Liberation Sans">a.cad</text>
<g transform="scale(0.22999999999999998)" font-size="10" fill="#1a1a1a" stroke="#1a1a1a" stroke-width="0.7" font-family="Liberation Sans"><text x="2815.2" y="1332.6">DL-Car LP</text><text x="2815.2" y="1344.7">18:1 e</text><text x="2815.2" y="1356.8">olideateAla(16:0</text><text x="2815.2" y="1368.9">SphidePhea</text><text x="2815.2" y="1381.1">hydroxy3- Ala-</text><text x="2815.2" y="1393.2">LPCa</text><text x="2815.2" y="1405.3">CE-eneCar hydrox</text><text x="2815.2" y="1417.4">ol oxo ene-ac</text><text x="2815.2" y="1429.5">18:1cis-(16:0</text><text x="2815.2" y="1441.6">TG-</text><text x="2815.2" y="1453.8">oxoinemethyl L</text><text x="2815.2" y="1465.9">oxoPC3-</text><text x="2815.2" y="1478.0">(16:0) SphSphAl</text><text x="2815.2" y="1490.1">hydroxyAlaD</text><text x="2815.2" y="1502.2">ol acid LPA 3-meth</text><text x="2815.2" y="1514.3">yl-PC-2-LPC i</text><text x="2815.2" y="1526.5">CEAla (16:0)one</text><text x="2815.2" y="1538.6">methylCE CEone</text><text x="2815.2" y="1550.7">2,5- PE PEmet</text><text x="2815.2" y="1562.8">PCDL-Ala</text><text x="2815.2" y="1574.9">(16:0)-ide PC-cisy</text><text x="2815.2" y="1587.0">cisSph-yl</text><text x="2815.2" y="1599.2">cisateDL-oxo </text><text x="2815.2" y="1611.3">esterene-TG</text><text x="2815.2" y="1623.4">Ala-amineol-Sphgl</text><text x="2815.2" y="1635.5">glu-Sph DL</text><text x="2815.2" y="1647.6">2,5- (16:</text><text x="2815.2" y="1659.7">olmethylAla T</text><text x="2815.2" y="1671.8">LPA Ph</text><text x="2815.2" y="1684.0">2,5-c</text><text x="2815.2" y="1696.1">eneylA</text><text x="2815.2" y="1708.2">acid LPC-(16:</text><text x="2815.2" y="1720.3">ylmethyl-TG a</text><text x="2815.2" y="1732.4">oylacid(16:0)c</text><text x="2815.2" y="1744.5">atePEine yl-</text><text x="2815.2" y="1756.7">oneAla Ca</text><text x="2815.2" y="1768.8">-2-ine CarPE</text><text x="2815.2" y="1780.9">SphDL-DL- o</text><text x="2815.2" y="1793.0">Car-ol--2-Caronec</text><text x="2815.2" y="1805.1">LPC</text><text x="2815.2" y="1817.2">cis-ideoylAla CE T</text><text x="2815.2" y="1829.4">LPC-eneylone </text><text x="2815.2" y="1841.5">one-ene-T</text><text x="2815.2" y="1853.6">oyl</text><text x="2815.2" y="1865.7">LPC</text><text x="2815.2" y="1877.8">DL-DL-ine-Car-LPAc</text><text x="2815.2" y="1889.9">cis-esterCEol3- </text><text x="2815.2" y="1902.1">DL-DL</text><text x="2815.2" y="1914.2">-2- oylAla--2-</text><text x="2815.2" y="1926.3">Phe methylLPC-</text><text x="2815.2" y="1938.4">LPALPA oxo-P</text><text x="2815.2" y="1950.5">3--Ala18</text><text x="2815.2" y="1962.6">ateSp</text><text x="2815.2" y="1974.7">oyloyl-TGPheate</text><text x="2815.2" y="1986.9">acidyl (16:</text><text x="2815.2" y="1999.0">oxo-oxo-LPA-2-</text><text x="2815.2" y="2011.1">methyloy</text><text x="2815.2" y="2023.2">Alaene2,5</text><text x="2815.2" y="2035.3">amineh</text><text x="2815.2" y="2047.4">3- 18:1 TG 3- gluC</text><text x="2815.2" y="2059.6">18:1LP</text><text x="2815.2" y="2071.7">ene-methylideS</text><text x="2815.2" y="2083.8">3- LPAyl-oneinePE</text><text x="2815.2" y="2095.9">Alaate aci</text><text x="2815.2" y="2108.0">eneylaminegl</text><text x="2815.2" y="2120.1">2,5- PECEamineami</text><text x="2815.2" y="2132.3">esterCE oxo</text><text x="2815.2" y="2144.4">eneester-acid</text><text x="2815.2" y="2156.5">CE-ateacidcisineh</text><text x="2815.2" y="2168.6">ineyl a</text><text x="2815.2" y="2180.7">ideene-me</text><text x="2815.2" y="2192.8">hyd</text><text x="2815.2" y="2204.9">Phe-hydroxyat</text><text x="2815.2" y="2217.1">CECarene ide3-m</text><text x="2815.2" y="2229.2">Sph acid 18:1ate-</text></g>
<g fill="#444" stroke="#444" stroke-width="0.5" font-family="Liberation Sans"><text transform="translate(355.6,514.3) rotate(90) scale(0.24)" font-size="10">N105  e2</text><text transform="translate(360.1,514.3) rotate(90) scale(0.24)" font-size="10">P11  ke</text><text transform="translate(364.6,514.3) rotate(90) scale(0.24)" font-size="10">S95  21</text><text transform="translate(369.1,514.3) rotate(90) scale(0.24)" font-size="10">N53  1e</text><text transform="translate(373.6,514.3) rotate(90) scale(0.24)" font-size="10">P53  d1</text><text transform="translate(378.1,514.3) rotate(90) scale(0.24)" font-size="10">S43  21</text><text transform="translate(382.6,514.3) rotate(90) scale(0.24)" font-size="10">N36  e2</text><text transform="translate(387.1,514.3) rotate(90) scale(0.24)" font-size="10">P117  ba</text><text transform="translate(391.6,514.3) rotate(90) scale(0.24)" font-size="10">P111  ea</text><text transform="translate(396.1,514.3) rotate(90) scale(0.24)" font-size="10">S61  ae</text><text transform="translate(400.6,514.3) rotate(90) scale(0.24)" font-size="10">S106  12</text><text transform="translate(405.1,514.3) rotate(90) scale(0.24)" font-size="10">S70  r1</text><text transform="translate(409.6,514.3) rotate(90) scale(0.24)" font-size="10">S41  d2</text><text transform="translate(414.1,514.3) rotate(90) scale(0.24)" font-size="10">C12  b2</text><text transform="translate(418.6,514.3) rotate(90) scale(0.24)" font-size="10">S138  be</text><text transform="translate(423.1,514.3) rotate(90) scale(0.24)" font-size="10">P117  be</text><text transform="translate(427.6,514.3) rotate(90) scale(0.24)" font-size="10">P33  c2</text><text transform="translate(432.1,514.3) rotate(90) scale(0.24)" font-size="10">S23  e2</text><text transform="translate(436.6,514.3) rotate(90) scale(0.24)" font-size="10">C157  a1</text><text transform="translate(441.1,514.3) rotate(90) scale(0.24)" font-size="10">N70  c1</text><text transform="translate(445.6,514.3) rotate(90) scale(0.24)" font-size="10">C143  ba</text><text transform="translate(450.1,514.3) rotate(90) scale(0.24)" font-size="10">S159  ke</text><text transform="translate(454.6,514.3) rotate(90) scale(0.24)" font-size="10">P112  d1</text><text transform="translate(459.1,514.3) rotate(90) scale(0.24)" font-size="10">N94  ae</text><text transform="translate(463.6,514.3) rotate(90) scale(0.24)" font-size="10">S64  de</text><text transform="translate(468.1,514.3) rotate(90) scale(0.24)" font-size="10">C93  ba</text><text transform="translate(472.6,514.3) rotate(90) scale(0.24)" font-size="10">C36  21</text><text transform="translate(477.1,514.3) rotate(90) scale(0.24)" font-size="10">S107  2e</text><text transform="translate(481.6,514.3) rotate(90) scale(0.24)" font-size="10">N98  d1</text><text transform="translate(486.1,514.3) rotate(90) scale(0.24)" font-size="10">N69  be</text><text transform="translate(490.6,514.3) rotate(90) scale(0.24)" font-size="10">C153  k2</text><text transform="translate(495.1,514.3) rotate(90) scale(0.24)" font-size="10">C53  e1</text><text transform="translate(499.6,514.3) rotate(90) scale(0.24)" font-size="10">S54  e2</text><text transform="translate(504.1,514.3) rotate(90) scale(0.24)" font-size="10">S47  a1</text><text transform="translate(508.6,514.3) rotate(90) scale(0.24)" font-size="10">S125  de</text><text transform="translate(513.1,514.3) rotate(90) scale(0.24)" font-size="10">C13  ka</text><text transform="translate(517.6,514.3) rotate(90) scale(0.24)" font-size="10">P133  2a</text><text transform="translate(522.1,514.3) rotate(90) scale(0.24)" font-size="10">P32  2a</text><text transform="translate(526.6,514.3) rotate(90) scale(0.24)" font-size="10">S26  re</text><text transform="translate(531.1,514.3) rotate(90) scale(0.24)" font-size="10">P153  r2</text><text transform="translate(535.6,514.3) rotate(90) scale(0.24)" font-size="10">C136  k1</text><text transform="translate(540.1,514.3) rotate(90) scale(0.24)" font-size="10">S80  22</text><text transform="translate(544.6,514.3) rotate(90) scale(0.24)" font-size="10">P31  c2</text><text transform="translate(549.1,514.3) rotate(90) scale(0.24)" font-size="10">S61  ce</text><text transform="translate(553.6,514.3) rotate(90) scale(0.24)" font-size="10">N153  2e</text><text transform="translate(558.1,514.3) rotate(90) scale(0.24)" font-size="10">S54  2e</text><text transform="translate(562.6,514.3) rotate(90) scale(0.24)" font-size="10">C147  b1</text><text transform="translate(567.1,514.3) rotate(90) scale(0.24)" font-size="10">N149  e1</text><text transform="translate(571.6,514.3) rotate(90) scale(0.24)" font-size="10">C26  d2</text><text transform="translate(576.1,514.3) rotate(90) scale(0.24)" font-size="10">S35  1e</text><text transform="translate(580.6,514.3) rotate(90) scale(0.24)" font-size="10">S135  a1</text><text transform="translate(585.1,514.3) rotate(90) scale(0.24)" font-size="10">C72  12</text><text transform="translate(589.6,514.3) rotate(90) scale(0.24)" font-size="10">C156  12</text><text transform="translate(594.1,514.3) rotate(90) scale(0.24)" font-size="10">S31  ae</text><text transform="translate(598.6,514.3) rotate(90) scale(0.24)" font-size="10">N160  b1</text><text transform="translate(603.1,514.3) rotate(90) scale(0.24)" font-size="10">P18  c1</text><text transform="translate(607.6,514.3) rotate(90) scale(0.24)" font-size="10">S17  ke</text><text transform="translate(612.1,514.3) rotate(90) scale(0.24)" font-size="10">N16  ba</text><text transform="translate(616.6,514.3) rotate(90) scale(0.24)" font-size="10">S92  ae</text><text transform="translate(621.1,514.3) rotate(90) scale(0.24)" font-size="10">N48  re</text><text transform="translate(625.6,514.3) rotate(90) scale(0.24)" font-size="10">P37  k2</text><text transform="translate(630.1,514.3) rotate(90) scale(0.24)" font-size="10">N43  d2</text><text transform="translate(634.6,514.3) rotate(90) scale(0.24)" font-size="10">S38  a1</text><text transform="translate(639.1,514.3) rotate(90) scale(0.24)" font-size="10">S31  k1</text><text transform="translate(643.6,514.3) rotate(90) scale(0.24)" font-size="10">S129  22</text></g>
<path d="M350.5 353.1h3M350.5 325.5h3M350.5 386.4h3M350.5 336.2h3M350.5 317.8h3M350.5 387.5h3M350.5 494.9h3M350.5 470.5h3M350.5 463.2h3M350.5 350.2h3M350.5 415.6h3M350.5 361.5h3M350.5 339.9h3M350.5 326.1h3M350.5 348.6h3M350.5 496.9h3M350.5 476.4h3M350.5 471.8h3M350.5 470.5h3M350.5 344.2h3M350.5 368.4h3M350.5 434.4h3M350.5 456.2h3M350.5 481.8h3M350.5 487.1h3M350.5 322.0h3M350.5 430.0h3M350.5 443.7h3M350.5 409.2h3M350.5 341.0h3" stroke="#555" stroke-width="0.7" fill="none"/>
<line x1="351.0" y1="314.0" x2="351.0" y2="501.0" stroke="#888" stroke-width="0.7"/>
<defs><linearGradient id="ck" x1="0" x2="0" y1="0" y2="1"><stop offset="0" stop-color="#ff5555"/><stop offset="0.5" stop-color="#ffffff"/><stop offset="1" stop-color="#5555ff"/></linearGradient></defs>
<rect x="675" y="304.2" width="2.2" height="26.7" fill="url(#ck)"/>
<text transform="translate(114.60,539.60) scale(0.92,1)" font-size="10" text-anchor="start" fill="#1a1a1a" font-family="Liberation Sans" font-weight="bold">patients.vs.control</text>
<path d="M121.19 624.36V782.06M121.19 624.36H128.01M128.01 624.36V782.06M121.19 632.24H134.83M134.83 632.24V782.06M121.19 640.13H141.65M141.65 640.13V782.06M121.19 648.01H148.47M148.47 648.01V782.06M121.19 655.90H155.29M155.29 655.90V782.06M121.19 663.78H162.11M162.11 663.78V782.06M121.19 671.67H168.93M168.93 671.67V782.06M121.19 679.55H175.75M175.75 679.55V782.06M121.19 687.44H182.57M182.57 687.44V782.06M121.19 695.32H189.39M189.39 695.32V782.06M121.19 703.21H196.21M196.21 703.21V782.06M121.19 711.09H203.03M203.03 711.09V782.06M121.19 718.98H209.85M209.85 718.98V782.06M121.19 726.86H216.67M216.67 726.86V782.06M121.19 734.75H223.49M223.49 734.75V782.06M121.19 742.63H230.31M230.31 742.63V782.06M121.19 750.52H237.13M237.13 750.52V782.06M121.19 758.40H243.95M243.95 758.40V782.06M121.19 766.29H250.77M250.77 766.29V782.06M121.19 774.17H257.59M257.59 774.17V782.06M121.19 782.06H257.59" stroke="#e6e6e6" stroke-width="0.6" fill="none"/>
<ellipse cx="124.6" cy="628.3" rx="3.0" ry="3.6" fill="#800000"/>
<ellipse cx="124.6" cy="636.2" rx="2.3" ry="2.7" fill="#00ffdf"/>
<ellipse cx="131.4" cy="636.2" rx="3.0" ry="3.6" fill="#800000"/>
<ellipse cx="124.6" cy="644.1" rx="2.0" ry="2.3" fill="#ffce00"/>
<ellipse cx="131.4" cy="644.1" rx="1.6" ry="1.9" fill="#00ff33"/>
<ellipse cx="138.2" cy="644.1" rx="3.0" ry="3.6" fill="#800000"/>
<ellipse cx="124.6" cy="652.0" rx="2.0" ry="2.3" fill="#ffce00"/>
<ellipse cx="131.4" cy="652.0" rx="1.6" ry="1.9" fill="#00ff33"/>
<ellipse cx="138.2" cy="652.0" rx="1.6" ry="1.9" fill="#ffed00"/>
<ellipse cx="145.1" cy="652.0" rx="3.0" ry="3.6" fill="#800000"/>
<ellipse cx="124.6" cy="659.8" rx="2.0" ry="2.3" fill="#ffce00"/>
<ellipse cx="131.4" cy="659.8" rx="1.6" ry="1.9" fill="#00ff33"/>
<ellipse cx="138.2" cy="659.8" rx="2.0" ry="2.3" fill="#ffce00"/>
<ellipse cx="145.1" cy="659.8" rx="2.3" ry="2.7" fill="#ffb000"/>
<ellipse cx="151.9" cy="659.8" rx="3.0" ry="3.6" fill="#800000"/>
<ellipse cx="124.6" cy="667.7" rx="2.0" ry="2.3" fill="#ffce00"/>
<ellipse cx="138.2" cy="667.7" rx="1.6" ry="1.9" fill="#ffed00"/>
<ellipse cx="145.1" cy="667.7" rx="2.3" ry="2.7" fill="#ffb000"/>
<ellipse cx="151.9" cy="667.7" rx="2.0" ry="2.3" fill="#ffce00"/>
<ellipse cx="158.7" cy="667.7" rx="3.0" ry="3.6" fill="#800000"/>
<ellipse cx="124.6" cy="675.6" rx="2.0" ry="2.3" fill="#ffce00"/>
<ellipse cx="138.2" cy="675.6" rx="2.9" ry="3.5" fill="#961d00"/>
<ellipse cx="145.1" cy="675.6" rx="1.6" ry="1.9" fill="#ffed00"/>
<ellipse cx="151.9" cy="675.6" rx="2.0" ry="2.3" fill="#ffce00"/>
<ellipse cx="158.7" cy="675.6" rx="1.6" ry="1.9" fill="#ffed00"/>
<ellipse cx="165.5" cy="675.6" rx="3.0" ry="3.6" fill="#800000"/>
<ellipse cx="124.6" cy="683.5" rx="2.0" ry="2.3" fill="#ffce00"/>
<ellipse cx="131.4" cy="683.5" rx="1.6" ry="1.9" fill="#00ff33"/>
<ellipse cx="138.2" cy="683.5" rx="2.3" ry="2.7" fill="#ffb000"/>
<ellipse cx="145.1" cy="683.5" rx="2.3" ry="2.7" fill="#ffb000"/>
<ellipse cx="151.9" cy="683.5" rx="2.3" ry="2.7" fill="#ffb000"/>
<ellipse cx="158.7" cy="683.5" rx="2.0" ry="2.3" fill="#ffce00"/>
<ellipse cx="165.5" cy="683.5" rx="2.0" ry="2.3" fill="#ffce00"/>
<ellipse cx="172.3" cy="683.5" rx="3.0" ry="3.6" fill="#800000"/>
<ellipse cx="124.6" cy="691.4" rx="1.6" ry="1.9" fill="#00ff33"/>
<ellipse cx="131.4" cy="691.4" rx="2.0" ry="2.3" fill="#ffce00"/>
<ellipse cx="145.1" cy="691.4" rx="1.6" ry="1.9" fill="#00ff33"/>
<ellipse cx="151.9" cy="691.4" rx="1.6" ry="1.9" fill="#00ff33"/>
<ellipse cx="179.2" cy="691.4" rx="3.0" ry="3.6" fill="#800000"/>
<ellipse cx="124.6" cy="699.3" rx="2.0" ry="2.3" fill="#ffce00"/>
<ellipse cx="131.4" cy="699.3" rx="1.6" ry="1.9" fill="#00ff33"/>
<ellipse cx="145.1" cy="699.3" rx="1.6" ry="1.9" fill="#ffed00"/>
<ellipse cx="158.7" cy="699.3" rx="1.6" ry="1.9" fill="#ffed00"/>
<ellipse cx="186.0" cy="699.3" rx="3.0" ry="3.6" fill="#800000"/>
<ellipse cx="124.6" cy="707.1" rx="2.0" ry="2.3" fill="#00ff8c"/>
<ellipse cx="138.2" cy="707.1" rx="1.6" ry="1.9" fill="#00ff33"/>
<ellipse cx="145.1" cy="707.1" rx="2.0" ry="2.3" fill="#00ff8c"/>
<ellipse cx="151.9" cy="707.1" rx="1.6" ry="1.9" fill="#00ff33"/>
<ellipse cx="158.7" cy="707.1" rx="2.0" ry="2.3" fill="#00ff8c"/>
<ellipse cx="172.3" cy="707.1" rx="2.0" ry="2.3" fill="#00ff8c"/>
<ellipse cx="192.8" cy="707.1" rx="3.0" ry="3.6" fill="#800000"/>
<ellipse cx="124.6" cy="715.0" rx="1.6" ry="1.9" fill="#00ff33"/>
<ellipse cx="131.4" cy="715.0" rx="1.6" ry="1.9" fill="#ffed00"/>
<ellipse cx="145.1" cy="715.0" rx="1.6" ry="1.9" fill="#00ff33"/>
<ellipse cx="151.9" cy="715.0" rx="2.0" ry="2.3" fill="#00ff8c"/>
<ellipse cx="179.2" cy="715.0" rx="2.0" ry="2.3" fill="#ffce00"/>
<ellipse cx="199.6" cy="715.0" rx="3.0" ry="3.6" fill="#800000"/>
<ellipse cx="131.4" cy="722.9" rx="1.6" ry="1.9" fill="#00ff33"/>
<ellipse cx="158.7" cy="722.9" rx="1.6" ry="1.9" fill="#ffed00"/>
<ellipse cx="179.2" cy="722.9" rx="1.6" ry="1.9" fill="#00ff33"/>
<ellipse cx="186.0" cy="722.9" rx="2.0" ry="2.3" fill="#ffce00"/>
<ellipse cx="206.4" cy="722.9" rx="3.0" ry="3.6" fill="#800000"/>
<ellipse cx="131.4" cy="730.8" rx="1.6" ry="1.9" fill="#00ff33"/>
<ellipse cx="158.7" cy="730.8" rx="1.6" ry="1.9" fill="#ffed00"/>
<ellipse cx="213.3" cy="730.8" rx="3.0" ry="3.6" fill="#800000"/>
<ellipse cx="145.1" cy="738.7" rx="2.0" ry="2.3" fill="#00ff8c"/>
<ellipse cx="151.9" cy="738.7" rx="2.0" ry="2.3" fill="#00ff8c"/>
<ellipse cx="158.7" cy="738.7" rx="1.6" ry="1.9" fill="#00ff33"/>
<ellipse cx="172.3" cy="738.7" rx="1.6" ry="1.9" fill="#00ff33"/>
<ellipse cx="179.2" cy="738.7" rx="1.6" ry="1.9" fill="#ffed00"/>
<ellipse cx="199.6" cy="738.7" rx="2.3" ry="2.7" fill="#ffb000"/>
<ellipse cx="220.1" cy="738.7" rx="3.0" ry="3.6" fill="#800000"/>
<ellipse cx="124.6" cy="746.6" rx="1.6" ry="1.9" fill="#00ff33"/>
<ellipse cx="131.4" cy="746.6" rx="2.0" ry="2.3" fill="#ffce00"/>
<ellipse cx="138.2" cy="746.6" rx="1.6" ry="1.9" fill="#00ff33"/>
<ellipse cx="145.1" cy="746.6" rx="2.0" ry="2.3" fill="#00ff8c"/>
<ellipse cx="151.9" cy="746.6" rx="1.6" ry="1.9" fill="#00ff33"/>
<ellipse cx="165.5" cy="746.6" rx="1.6" ry="1.9" fill="#00ff33"/>
<ellipse cx="172.3" cy="746.6" rx="1.6" ry="1.9" fill="#00ff33"/>
<ellipse cx="186.0" cy="746.6" rx="1.6" ry="1.9" fill="#00ff33"/>
<ellipse cx="192.8" cy="746.6" rx="1.6" ry="1.9" fill="#ffed00"/>
<ellipse cx="206.4" cy="746.6" rx="1.6" ry="1.9" fill="#00ff33"/>
<ellipse cx="226.9" cy="746.6" rx="3.0" ry="3.6" fill="#800000"/>
<ellipse cx="124.6" cy="754.5" rx="1.6" ry="1.9" fill="#00ff33"/>
<ellipse cx="138.2" cy="754.5" rx="1.6" ry="1.9" fill="#00ff33"/>
<ellipse cx="145.1" cy="754.5" rx="1.6" ry="1.9" fill="#00ff33"/>
<ellipse cx="151.9" cy="754.5" rx="2.0" ry="2.3" fill="#00ff8c"/>
<ellipse cx="165.5" cy="754.5" rx="1.6" ry="1.9" fill="#00ff33"/>
<ellipse cx="172.3" cy="754.5" rx="1.6" ry="1.9" fill="#00ff33"/>
<ellipse cx="192.8" cy="754.5" rx="2.3" ry="2.7" fill="#ffb000"/>
<ellipse cx="226.9" cy="754.5" rx="1.6" ry="1.9" fill="#ffed00"/>
<ellipse cx="233.7" cy="754.5" rx="3.0" ry="3.6" fill="#800000"/>
<ellipse cx="124.6" cy="762.3" rx="1.6" ry="1.9" fill="#00ff33"/>
<ellipse cx="131.4" cy="762.3" rx="2.3" ry="2.7" fill="#ffb000"/>
<ellipse cx="179.2" cy="762.3" rx="1.6" ry="1.9" fill="#ffed00"/>
<ellipse cx="186.0" cy="762.3" rx="1.6" ry="1.9" fill="#00ff33"/>
<ellipse cx="199.6" cy="762.3" rx="1.6" ry="1.9" fill="#ffed00"/>
<ellipse cx="240.5" cy="762.3" rx="3.0" ry="3.6" fill="#800000"/>
<ellipse cx="124.6" cy="770.2" rx="2.0" ry="2.3" fill="#00ff8c"/>
<ellipse cx="145.1" cy="770.2" rx="1.6" ry="1.9" fill="#00ff33"/>
<ellipse cx="226.9" cy="770.2" rx="1.6" ry="1.9" fill="#ffed00"/>
<ellipse cx="247.4" cy="770.2" rx="3.0" ry="3.6" fill="#800000"/>
<ellipse cx="124.6" cy="778.1" rx="1.6" ry="1.9" fill="#00ff33"/>
<ellipse cx="138.2" cy="778.1" rx="1.6" ry="1.9" fill="#00ff33"/>
<ellipse cx="158.7" cy="778.1" rx="1.6" ry="1.9" fill="#00ff33"/>
<ellipse cx="192.8" cy="778.1" rx="2.3" ry="2.7" fill="#ffb000"/>
<ellipse cx="233.7" cy="778.1" rx="2.3" ry="2.7" fill="#ffb000"/>
<ellipse cx="247.4" cy="778.1" rx="1.6" ry="1.9" fill="#ffed00"/>
<ellipse cx="254.2" cy="778.1" rx="3.0" ry="3.6" fill="#800000"/>
<text transform="translate(120.60,630.10) scale(0.905,1)" font-size="5" text-anchor="end" fill="#1a1a1a" font-family="Liberation Sans" stroke="#1a1a1a" stroke-width="0.22">alpha-Ketoglutaric acid</text>
<text transform="translate(120.60,637.98) scale(0.905,1)" font-size="5" text-anchor="end" fill="#1a1a1a" font-family="Liberation Sans" stroke="#1a1a1a" stroke-width="0.22">5-(6-hydroxy-6-methyloctyl)-2,5-dihydrofuran-2-one</text>
<text transform="translate(120.60,645.87) scale(0.905,1)" font-size="5" text-anchor="end" fill="#1a1a1a" font-family="Liberation Sans" stroke="#1a1a1a" stroke-width="0.22">2-(3,4-dimethoxyphenyl)quinoline</text>
<text transform="translate(120.60,653.75) scale(0.905,1)" font-size="5" text-anchor="end" fill="#1a1a1a" font-family="Liberation Sans" stroke="#1a1a1a" stroke-width="0.22">D-Erythro-sphingosine 1-phosphate</text>
<text transform="translate(120.60,661.64) scale(0.905,1)" font-size="5" text-anchor="end" fill="#1a1a1a" font-family="Liberation Sans" stroke="#1a1a1a" stroke-width="0.22">ACar 20:0</text>
<text transform="translate(120.60,669.52) scale(0.905,1)" font-size="5" text-anchor="end" fill="#1a1a1a" font-family="Liberation Sans" stroke="#1a1a1a" stroke-width="0.22">PC (16:2e/2:0)</text>
<text transform="translate(120.60,677.41) scale(0.905,1)" font-size="5" text-anchor="end" fill="#1a1a1a" font-family="Liberation Sans" stroke="#1a1a1a" stroke-width="0.22">4-acetyl-4-(ethoxycarbonyl)heptanedioic acid</text>
<text transform="translate(120.60,685.29) scale(0.905,1)" font-size="5" text-anchor="end" fill="#1a1a1a" font-family="Liberation Sans" stroke="#1a1a1a" stroke-width="0.22">PC (22:5e/2:0)</text>
<text transform="translate(120.60,693.18) scale(0.905,1)" font-size="5" text-anchor="end" fill="#1a1a1a" font-family="Liberation Sans" stroke="#1a1a1a" stroke-width="0.22">(5Z)-3-aminonon-5-enoic acid</text>
<text transform="translate(120.60,701.06) scale(0.905,1)" font-size="5" text-anchor="end" fill="#1a1a1a" font-family="Liberation Sans" stroke="#1a1a1a" stroke-width="0.22">PC (16:4e/2:0)</text>
<text transform="translate(120.60,708.95) scale(0.905,1)" font-size="5" text-anchor="end" fill="#1a1a1a" font-family="Liberation Sans" stroke="#1a1a1a" stroke-width="0.22">C.I. Basic Orange 2</text>
<text transform="translate(120.60,716.83) scale(0.905,1)" font-size="5" text-anchor="end" fill="#1a1a1a" font-family="Liberation Sans" stroke="#1a1a1a" stroke-width="0.22">PC (18:1e/4:0)</text>
<text transform="translate(120.60,724.72) scale(0.905,1)" font-size="5" text-anchor="end" fill="#1a1a1a" font-family="Liberation Sans" stroke="#1a1a1a" stroke-width="0.22">4-Methoxycinnamaldehyde</text>
<text transform="translate(120.60,732.60) scale(0.905,1)" font-size="5" text-anchor="end" fill="#1a1a1a" font-family="Liberation Sans" stroke="#1a1a1a" stroke-width="0.22">DL-Stachydrine</text>
<text transform="translate(120.60,740.49) scale(0.905,1)" font-size="5" text-anchor="end" fill="#1a1a1a" font-family="Liberation Sans" stroke="#1a1a1a" stroke-width="0.22">PC (14:1e/8:0)</text>
<text transform="translate(120.60,748.37) scale(0.905,1)" font-size="5" text-anchor="end" fill="#1a1a1a" font-family="Liberation Sans" stroke="#1a1a1a" stroke-width="0.22">(1E)-5-hydroxy-1,7-diphenylhept-1-en-3-one</text>
<text transform="translate(120.60,756.26) scale(0.905,1)" font-size="5" text-anchor="end" fill="#1a1a1a" font-family="Liberation Sans" stroke="#1a1a1a" stroke-width="0.22">4-acetyl-3-methyl-5-(methylthio)thiophene-2-carbothioamide</text>
<text transform="translate(120.60,764.14) scale(0.905,1)" font-size="5" text-anchor="end" fill="#1a1a1a" font-family="Liberation Sans" stroke="#1a1a1a" stroke-width="0.22">Oleoylethylamide</text>
<text transform="translate(120.60,772.03) scale(0.905,1)" font-size="5" text-anchor="end" fill="#1a1a1a" font-family="Liberation Sans" stroke="#1a1a1a" stroke-width="0.22">2-chloro-6-(4-methoxyphenoxy)benzonitrile</text>
<text transform="translate(120.60,779.91) scale(0.905,1)" font-size="5" text-anchor="end" fill="#1a1a1a" font-family="Liberation Sans" stroke="#1a1a1a" stroke-width="0.22">N8-Acetylspermidine</text>
<text transform="translate(126.40,624.80) scale(0.905,1) rotate(-47)" font-size="5.2" fill="#222" stroke="#222" stroke-width="0.1" font-family="Liberation Sans">alpha-Ketoglutaric acid</text>
<text transform="translate(133.22,632.68) scale(0.905,1) rotate(-47)" font-size="5.2" fill="#222" stroke="#222" stroke-width="0.1" font-family="Liberation Sans">5-(6-hydroxy-6-methyloctyl)-2,5-dihydrofuran-2-one</text>
<text transform="translate(140.04,640.57) scale(0.905,1) rotate(-47)" font-size="5.2" fill="#222" stroke="#222" stroke-width="0.1" font-family="Liberation Sans">2-(3,4-dimethoxyphenyl)quinoline</text>
<text transform="translate(146.86,648.45) scale(0.905,1) rotate(-47)" font-size="5.2" fill="#222" stroke="#222" stroke-width="0.1" font-family="Liberation Sans">D-Erythro-sphingosine 1-phosphate</text>
<text transform="translate(153.68,656.34) scale(0.905,1) rotate(-47)" font-size="5.2" fill="#222" stroke="#222" stroke-width="0.1" font-family="Liberation Sans">ACar 20:0</text>
<text transform="translate(160.50,664.22) scale(0.905,1) rotate(-47)" font-size="5.2" fill="#222" stroke="#222" stroke-width="0.1" font-family="Liberation Sans">PC (16:2e/2:0)</text>
<text transform="translate(167.32,672.11) scale(0.905,1) rotate(-47)" font-size="5.2" fill="#222" stroke="#222" stroke-width="0.1" font-family="Liberation Sans">4-acetyl-4-(ethoxycarbonyl)heptanedioic acid</text>
<text transform="translate(174.14,680.00) scale(0.905,1) rotate(-47)" font-size="5.2" fill="#222" stroke="#222" stroke-width="0.1" font-family="Liberation Sans">PC (22:5e/2:0)</text>
<text transform="translate(180.96,687.88) scale(0.905,1) rotate(-47)" font-size="5.2" fill="#222" stroke="#222" stroke-width="0.1" font-family="Liberation Sans">(5Z)-3-aminonon-5-enoic acid</text>
<text transform="translate(187.78,695.76) scale(0.905,1) rotate(-47)" font-size="5.2" fill="#222" stroke="#222" stroke-width="0.1" font-family="Liberation Sans">PC (16:4e/2:0)</text>
<text transform="translate(194.60,703.65) scale(0.905,1) rotate(-47)" font-size="5.2" fill="#222" stroke="#222" stroke-width="0.1" font-family="Liberation Sans">C.I. Basic Orange 2</text>
<text transform="translate(201.42,711.53) scale(0.905,1) rotate(-47)" font-size="5.2" fill="#222" stroke="#222" stroke-width="0.1" font-family="Liberation Sans">PC (18:1e/4:0)</text>
<text transform="translate(208.24,719.42) scale(0.905,1) rotate(-47)" font-size="5.2" fill="#222" stroke="#222" stroke-width="0.1" font-family="Liberation Sans">4-Methoxycinnamaldehyde</text>
<text transform="translate(215.06,727.30) scale(0.905,1) rotate(-47)" font-size="5.2" fill="#222" stroke="#222" stroke-width="0.1" font-family="Liberation Sans">DL-Stachydrine</text>
<text transform="translate(221.88,735.19) scale(0.905,1) rotate(-47)" font-size="5.2" fill="#222" stroke="#222" stroke-width="0.1" font-family="Liberation Sans">PC (14:1e/8:0)</text>
<text transform="translate(228.70,743.07) scale(0.905,1) rotate(-47)" font-size="5.2" fill="#222" stroke="#222" stroke-width="0.1" font-family="Liberation Sans">(1E)-5-hydroxy-1,7-diphenylhept-1-en-3-one</text>
<text transform="translate(235.52,750.96) scale(0.905,1) rotate(-47)" font-size="5.2" fill="#222" stroke="#222" stroke-width="0.1" font-family="Liberation Sans">4-acetyl-3-methyl-5-(methylthio)thiophene-2-carbothioamide</text>
<text transform="translate(242.34,758.84) scale(0.905,1) rotate(-47)" font-size="5.2" fill="#222" stroke="#222" stroke-width="0.1" font-family="Liberation Sans">Oleoylethylamide</text>
<text transform="translate(249.16,766.73) scale(0.905,1) rotate(-47)" font-size="5.2" fill="#222" stroke="#222" stroke-width="0.1" font-family="Liberation Sans">2-chloro-6-(4-methoxyphenoxy)benzonitrile</text>
<text transform="translate(255.98,774.62) scale(0.905,1) rotate(-47)" font-size="5.2" fill="#222" stroke="#222" stroke-width="0.1" font-family="Liberation Sans">N8-Acetylspermidine</text>
<defs><linearGradient id="cb121" x1="0" x2="1" y1="0" y2="0"><stop offset="0.000" stop-color="#0000ff"/><stop offset="0.100" stop-color="#006eff"/><stop offset="0.200" stop-color="#00ffff"/><stop offset="0.400" stop-color="#00ff00"/><stop offset="0.600" stop-color="#ffff00"/><stop offset="0.800" stop-color="#ffa500"/><stop offset="1.000" stop-color="#800000"/></linearGradient></defs>
<rect x="121.2" y="785.0" width="136.40000000000003" height="6.2000000000000455" fill="url(#cb121)"/>
<text transform="translate(121.20,800.30) scale(1.0,1)" font-size="5" text-anchor="middle" fill="#333" font-family="Liberation Sans">-1</text>
<text transform="translate(134.84,800.30) scale(1.0,1)" font-size="5" text-anchor="middle" fill="#333" font-family="Liberation Sans">-0.8</text>
<text transform="translate(148.48,800.30) scale(1.0,1)" font-size="5" text-anchor="middle" fill="#333" font-family="Liberation Sans">-0.6</text>
<text transform="translate(162.12,800.30) scale(1.0,1)" font-size="5" text-anchor="middle" fill="#333" font-family="Liberation Sans">-0.4</text>
<text transform="translate(175.76,800.30) scale(1.0,1)" font-size="5" text-anchor="middle" fill="#333" font-family="Liberation Sans">-0.2</text>
<text transform="translate(189.40,800.30) scale(1.0,1)" font-size="5" text-anchor="middle" fill="#333" font-family="Liberation Sans">0</text>
<text transform="translate(203.04,800.30) scale(1.0,1)" font-size="5" text-anchor="middle" fill="#333" font-family="Liberation Sans">0.2</text>
<text transform="translate(216.68,800.30) scale(1.0,1)" font-size="5" text-anchor="middle" fill="#333" font-family="Liberation Sans">0.4</text>
<text transform="translate(230.32,800.30) scale(1.0,1)" font-size="5" text-anchor="middle" fill="#333" font-family="Liberation Sans">0.6</text>
<text transform="translate(243.96,800.30) scale(1.0,1)" font-size="5" text-anchor="middle" fill="#333" font-family="Liberation Sans">0.8</text>
<text transform="translate(257.60,800.30) scale(1.0,1)" font-size="5" text-anchor="middle" fill="#333" font-family="Liberation Sans">1</text>
<text transform="translate(471.40,539.30) scale(0.92,1)" font-size="10" text-anchor="start" fill="#1a1a1a" font-family="Liberation Sans" font-weight="bold">patients.vs.control</text>
<path d="M452.94 612.60V780.60M452.94 612.60H460.06M460.06 612.60V780.60M452.94 621.00H467.19M467.19 621.00V780.60M452.94 629.40H474.32M474.32 629.40V780.60M452.94 637.80H481.45M481.45 637.80V780.60M452.94 646.20H488.58M488.58 646.20V780.60M452.94 654.60H495.71M495.71 654.60V780.60M452.94 663.00H502.85M502.85 663.00V780.60M452.94 671.40H509.98M509.98 671.40V780.60M452.94 679.80H517.11M517.11 679.80V780.60M452.94 688.20H524.24M524.24 688.20V780.60M452.94 696.60H531.37M531.37 696.60V780.60M452.94 705.00H538.50M538.50 705.00V780.60M452.94 713.40H545.62M545.62 713.40V780.60M452.94 721.80H552.75M552.75 721.80V780.60M452.94 730.20H559.88M559.88 730.20V780.60M452.94 738.60H567.01M567.01 738.60V780.60M452.94 747.00H574.14M574.14 747.00V780.60M452.94 755.40H581.27M581.27 755.40V780.60M452.94 763.80H588.40M588.40 763.80V780.60M452.94 772.20H595.53M595.53 772.20V780.60M452.94 780.60H595.53" stroke="#e3e3e3" stroke-width="0.6" fill="none"/>
<ellipse cx="456.5" cy="616.8" rx="3.3" ry="4.1" fill="#800000"/>
<ellipse cx="456.5" cy="625.2" rx="2.1" ry="2.7" fill="#00ff8c"/>
<ellipse cx="463.6" cy="625.2" rx="3.3" ry="4.1" fill="#800000"/>
<ellipse cx="456.5" cy="633.6" rx="3.0" ry="3.7" fill="#b94a00"/>
<ellipse cx="463.6" cy="633.6" rx="2.1" ry="2.7" fill="#00ff8c"/>
<ellipse cx="470.8" cy="633.6" rx="3.3" ry="4.1" fill="#800000"/>
<ellipse cx="456.5" cy="642.0" rx="2.1" ry="2.7" fill="#ffce00"/>
<ellipse cx="463.6" cy="642.0" rx="1.7" ry="2.2" fill="#00ff33"/>
<ellipse cx="470.8" cy="642.0" rx="2.1" ry="2.7" fill="#ffce00"/>
<ellipse cx="477.9" cy="642.0" rx="3.3" ry="4.1" fill="#800000"/>
<ellipse cx="456.5" cy="650.4" rx="2.8" ry="3.4" fill="#df7c00"/>
<ellipse cx="463.6" cy="650.4" rx="1.7" ry="2.2" fill="#00ff33"/>
<ellipse cx="470.8" cy="650.4" rx="2.8" ry="3.4" fill="#df7c00"/>
<ellipse cx="477.9" cy="650.4" rx="2.1" ry="2.7" fill="#ffce00"/>
<ellipse cx="485.0" cy="650.4" rx="3.3" ry="4.1" fill="#800000"/>
<ellipse cx="456.5" cy="658.8" rx="1.7" ry="2.2" fill="#ffed00"/>
<ellipse cx="463.6" cy="658.8" rx="1.7" ry="2.2" fill="#00ff33"/>
<ellipse cx="485.0" cy="658.8" rx="2.1" ry="2.7" fill="#ffce00"/>
<ellipse cx="492.1" cy="658.8" rx="3.3" ry="4.1" fill="#800000"/>
<ellipse cx="456.5" cy="667.2" rx="3.0" ry="3.7" fill="#b94a00"/>
<ellipse cx="463.6" cy="667.2" rx="1.7" ry="2.2" fill="#00ff33"/>
<ellipse cx="470.8" cy="667.2" rx="3.0" ry="3.7" fill="#b94a00"/>
<ellipse cx="477.9" cy="667.2" rx="2.4" ry="3.0" fill="#ffb000"/>
<ellipse cx="485.0" cy="667.2" rx="2.4" ry="3.0" fill="#ffb000"/>
<ellipse cx="499.3" cy="667.2" rx="3.3" ry="4.1" fill="#800000"/>
<ellipse cx="456.5" cy="675.6" rx="2.1" ry="2.7" fill="#ffce00"/>
<ellipse cx="463.6" cy="675.6" rx="2.1" ry="2.7" fill="#00ff8c"/>
<ellipse cx="470.8" cy="675.6" rx="2.1" ry="2.7" fill="#ffce00"/>
<ellipse cx="477.9" cy="675.6" rx="2.1" ry="2.7" fill="#ffce00"/>
<ellipse cx="492.1" cy="675.6" rx="1.7" ry="2.2" fill="#ffed00"/>
<ellipse cx="499.3" cy="675.6" rx="2.1" ry="2.7" fill="#ffce00"/>
<ellipse cx="506.4" cy="675.6" rx="3.3" ry="4.1" fill="#800000"/>
<ellipse cx="456.5" cy="684.0" rx="2.1" ry="2.7" fill="#00ff8c"/>
<ellipse cx="463.6" cy="684.0" rx="3.0" ry="3.7" fill="#b94a00"/>
<ellipse cx="470.8" cy="684.0" rx="2.1" ry="2.7" fill="#00ff8c"/>
<ellipse cx="477.9" cy="684.0" rx="1.7" ry="2.2" fill="#00ff33"/>
<ellipse cx="485.0" cy="684.0" rx="2.1" ry="2.7" fill="#00ff8c"/>
<ellipse cx="492.1" cy="684.0" rx="2.1" ry="2.7" fill="#00ff8c"/>
<ellipse cx="499.3" cy="684.0" rx="2.1" ry="2.7" fill="#00ff8c"/>
<ellipse cx="506.4" cy="684.0" rx="2.4" ry="3.0" fill="#00ffdf"/>
<ellipse cx="513.5" cy="684.0" rx="3.3" ry="4.1" fill="#800000"/>
<ellipse cx="463.6" cy="692.4" rx="1.7" ry="2.2" fill="#00ff33"/>
<ellipse cx="506.4" cy="692.4" rx="1.7" ry="2.2" fill="#ffed00"/>
<ellipse cx="513.5" cy="692.4" rx="1.7" ry="2.2" fill="#00ff33"/>
<ellipse cx="520.7" cy="692.4" rx="3.3" ry="4.1" fill="#800000"/>
<ellipse cx="456.5" cy="700.8" rx="3.0" ry="3.7" fill="#b94a00"/>
<ellipse cx="463.6" cy="700.8" rx="2.1" ry="2.7" fill="#00ff8c"/>
<ellipse cx="470.8" cy="700.8" rx="3.0" ry="3.7" fill="#b94a00"/>
<ellipse cx="477.9" cy="700.8" rx="2.1" ry="2.7" fill="#ffce00"/>
<ellipse cx="485.0" cy="700.8" rx="2.8" ry="3.4" fill="#df7c00"/>
<ellipse cx="492.1" cy="700.8" rx="1.7" ry="2.2" fill="#ffed00"/>
<ellipse cx="499.3" cy="700.8" rx="3.0" ry="3.7" fill="#b94a00"/>
<ellipse cx="506.4" cy="700.8" rx="2.1" ry="2.7" fill="#ffce00"/>
<ellipse cx="513.5" cy="700.8" rx="2.1" ry="2.7" fill="#00ff8c"/>
<ellipse cx="527.8" cy="700.8" rx="3.3" ry="4.1" fill="#800000"/>
<ellipse cx="477.9" cy="709.2" rx="2.1" ry="2.7" fill="#ffce00"/>
<ellipse cx="534.9" cy="709.2" rx="3.3" ry="4.1" fill="#800000"/>
<ellipse cx="456.5" cy="717.6" rx="1.7" ry="2.2" fill="#00ff33"/>
<ellipse cx="463.6" cy="717.6" rx="2.4" ry="3.0" fill="#ffb000"/>
<ellipse cx="470.8" cy="717.6" rx="1.7" ry="2.2" fill="#00ff33"/>
<ellipse cx="477.9" cy="717.6" rx="1.7" ry="2.2" fill="#00ff33"/>
<ellipse cx="485.0" cy="717.6" rx="1.7" ry="2.2" fill="#00ff33"/>
<ellipse cx="492.1" cy="717.6" rx="2.1" ry="2.7" fill="#00ff8c"/>
<ellipse cx="499.3" cy="717.6" rx="1.7" ry="2.2" fill="#00ff33"/>
<ellipse cx="506.4" cy="717.6" rx="2.1" ry="2.7" fill="#00ff8c"/>
<ellipse cx="513.5" cy="717.6" rx="2.4" ry="3.0" fill="#ffb000"/>
<ellipse cx="527.8" cy="717.6" rx="1.7" ry="2.2" fill="#00ff33"/>
<ellipse cx="542.1" cy="717.6" rx="3.3" ry="4.1" fill="#800000"/>
<ellipse cx="456.5" cy="726.0" rx="1.7" ry="2.2" fill="#00ff33"/>
<ellipse cx="463.6" cy="726.0" rx="2.4" ry="3.0" fill="#ffb000"/>
<ellipse cx="470.8" cy="726.0" rx="1.7" ry="2.2" fill="#00ff33"/>
<ellipse cx="477.9" cy="726.0" rx="2.1" ry="2.7" fill="#00ff8c"/>
<ellipse cx="485.0" cy="726.0" rx="1.7" ry="2.2" fill="#00ff33"/>
<ellipse cx="492.1" cy="726.0" rx="2.1" ry="2.7" fill="#00ff8c"/>
<ellipse cx="499.3" cy="726.0" rx="1.7" ry="2.2" fill="#00ff33"/>
<ellipse cx="506.4" cy="726.0" rx="2.1" ry="2.7" fill="#00ff8c"/>
<ellipse cx="513.5" cy="726.0" rx="2.4" ry="3.0" fill="#ffb000"/>
<ellipse cx="520.7" cy="726.0" rx="1.7" ry="2.2" fill="#00ff33"/>
<ellipse cx="542.1" cy="726.0" rx="2.1" ry="2.7" fill="#ffce00"/>
<ellipse cx="549.2" cy="726.0" rx="3.3" ry="4.1" fill="#800000"/>
<ellipse cx="456.5" cy="734.4" rx="2.1" ry="2.7" fill="#00ff8c"/>
<ellipse cx="463.6" cy="734.4" rx="1.7" ry="2.2" fill="#ffed00"/>
<ellipse cx="470.8" cy="734.4" rx="1.7" ry="2.2" fill="#00ff33"/>
<ellipse cx="477.9" cy="734.4" rx="2.4" ry="3.0" fill="#00ffdf"/>
<ellipse cx="485.0" cy="734.4" rx="1.7" ry="2.2" fill="#00ff33"/>
<ellipse cx="492.1" cy="734.4" rx="1.7" ry="2.2" fill="#00ff33"/>
<ellipse cx="499.3" cy="734.4" rx="2.1" ry="2.7" fill="#00ff8c"/>
<ellipse cx="506.4" cy="734.4" rx="1.7" ry="2.2" fill="#00ff33"/>
<ellipse cx="513.5" cy="734.4" rx="1.7" ry="2.2" fill="#ffed00"/>
<ellipse cx="527.8" cy="734.4" rx="1.7" ry="2.2" fill="#00ff33"/>
<ellipse cx="534.9" cy="734.4" rx="1.7" ry="2.2" fill="#00ff33"/>
<ellipse cx="542.1" cy="734.4" rx="1.7" ry="2.2" fill="#ffed00"/>
<ellipse cx="549.2" cy="734.4" rx="2.1" ry="2.7" fill="#ffce00"/>
<ellipse cx="556.3" cy="734.4" rx="3.3" ry="4.1" fill="#800000"/>
<ellipse cx="456.5" cy="742.8" rx="1.7" ry="2.2" fill="#ffed00"/>
<ellipse cx="463.6" cy="742.8" rx="2.1" ry="2.7" fill="#00ff8c"/>
<ellipse cx="492.1" cy="742.8" rx="2.8" ry="3.4" fill="#df7c00"/>
<ellipse cx="506.4" cy="742.8" rx="2.1" ry="2.7" fill="#ffce00"/>
<ellipse cx="513.5" cy="742.8" rx="1.7" ry="2.2" fill="#00ff33"/>
<ellipse cx="527.8" cy="742.8" rx="1.7" ry="2.2" fill="#ffed00"/>
<ellipse cx="542.1" cy="742.8" rx="2.1" ry="2.7" fill="#00ff8c"/>
<ellipse cx="563.5" cy="742.8" rx="3.3" ry="4.1" fill="#800000"/>
<ellipse cx="456.5" cy="751.2" rx="1.7" ry="2.2" fill="#00ff33"/>
<ellipse cx="470.8" cy="751.2" rx="1.7" ry="2.2" fill="#00ff33"/>
<ellipse cx="477.9" cy="751.2" rx="1.7" ry="2.2" fill="#00ff33"/>
<ellipse cx="485.0" cy="751.2" rx="1.7" ry="2.2" fill="#00ff33"/>
<ellipse cx="499.3" cy="751.2" rx="1.7" ry="2.2" fill="#00ff33"/>
<ellipse cx="506.4" cy="751.2" rx="1.7" ry="2.2" fill="#00ff33"/>
<ellipse cx="527.8" cy="751.2" rx="1.7" ry="2.2" fill="#00ff33"/>
<ellipse cx="542.1" cy="751.2" rx="1.7" ry="2.2" fill="#ffed00"/>
<ellipse cx="556.3" cy="751.2" rx="2.1" ry="2.7" fill="#ffce00"/>
<ellipse cx="570.6" cy="751.2" rx="3.3" ry="4.1" fill="#800000"/>
<ellipse cx="456.5" cy="759.6" rx="2.1" ry="2.7" fill="#ffce00"/>
<ellipse cx="463.6" cy="759.6" rx="1.7" ry="2.2" fill="#00ff33"/>
<ellipse cx="470.8" cy="759.6" rx="1.7" ry="2.2" fill="#ffed00"/>
<ellipse cx="485.0" cy="759.6" rx="1.7" ry="2.2" fill="#ffed00"/>
<ellipse cx="492.1" cy="759.6" rx="1.7" ry="2.2" fill="#ffed00"/>
<ellipse cx="499.3" cy="759.6" rx="1.7" ry="2.2" fill="#ffed00"/>
<ellipse cx="513.5" cy="759.6" rx="1.7" ry="2.2" fill="#00ff33"/>
<ellipse cx="520.7" cy="759.6" rx="2.1" ry="2.7" fill="#ffce00"/>
<ellipse cx="527.8" cy="759.6" rx="1.7" ry="2.2" fill="#ffed00"/>
<ellipse cx="549.2" cy="759.6" rx="1.7" ry="2.2" fill="#00ff33"/>
<ellipse cx="577.7" cy="759.6" rx="3.3" ry="4.1" fill="#800000"/>
<ellipse cx="456.5" cy="768.0" rx="2.1" ry="2.7" fill="#00ff8c"/>
<ellipse cx="463.6" cy="768.0" rx="2.1" ry="2.7" fill="#ffce00"/>
<ellipse cx="470.8" cy="768.0" rx="1.7" ry="2.2" fill="#00ff33"/>
<ellipse cx="477.9" cy="768.0" rx="2.1" ry="2.7" fill="#00ff8c"/>
<ellipse cx="485.0" cy="768.0" rx="2.1" ry="2.7" fill="#00ff8c"/>
<ellipse cx="492.1" cy="768.0" rx="2.1" ry="2.7" fill="#00ff8c"/>
<ellipse cx="499.3" cy="768.0" rx="1.7" ry="2.2" fill="#00ff33"/>
<ellipse cx="506.4" cy="768.0" rx="1.7" ry="2.2" fill="#00ff33"/>
<ellipse cx="513.5" cy="768.0" rx="1.7" ry="2.2" fill="#ffed00"/>
<ellipse cx="520.7" cy="768.0" rx="2.1" ry="2.7" fill="#00ff8c"/>
<ellipse cx="527.8" cy="768.0" rx="1.7" ry="2.2" fill="#00ff33"/>
<ellipse cx="542.1" cy="768.0" rx="2.1" ry="2.7" fill="#ffce00"/>
<ellipse cx="549.2" cy="768.0" rx="2.1" ry="2.7" fill="#ffce00"/>
<ellipse cx="556.3" cy="768.0" rx="1.7" ry="2.2" fill="#ffed00"/>
<ellipse cx="563.5" cy="768.0" rx="2.1" ry="2.7" fill="#00ff8c"/>
<ellipse cx="577.7" cy="768.0" rx="2.1" ry="2.7" fill="#00ff8c"/>
<ellipse cx="584.8" cy="768.0" rx="3.3" ry="4.1" fill="#800000"/>
<ellipse cx="477.9" cy="776.4" rx="2.1" ry="2.7" fill="#ffce00"/>
<ellipse cx="492.1" cy="776.4" rx="1.7" ry="2.2" fill="#ffed00"/>
<ellipse cx="499.3" cy="776.4" rx="1.7" ry="2.2" fill="#ffed00"/>
<ellipse cx="506.4" cy="776.4" rx="2.4" ry="3.0" fill="#ffb000"/>
<ellipse cx="513.5" cy="776.4" rx="1.7" ry="2.2" fill="#00ff33"/>
<ellipse cx="534.9" cy="776.4" rx="2.1" ry="2.7" fill="#ffce00"/>
<ellipse cx="542.1" cy="776.4" rx="2.1" ry="2.7" fill="#00ff8c"/>
<ellipse cx="549.2" cy="776.4" rx="1.7" ry="2.2" fill="#00ff33"/>
<ellipse cx="563.5" cy="776.4" rx="2.1" ry="2.7" fill="#ffce00"/>
<ellipse cx="570.6" cy="776.4" rx="1.7" ry="2.2" fill="#00ff33"/>
<ellipse cx="584.8" cy="776.4" rx="1.7" ry="2.2" fill="#00ff33"/>
<ellipse cx="592.0" cy="776.4" rx="3.3" ry="4.1" fill="#800000"/>
<text transform="translate(452.20,618.64) scale(0.9,1)" font-size="5.1" text-anchor="end" fill="#1a1a1a" font-family="Liberation Sans" stroke="#1a1a1a" stroke-width="0.22">LPA 16:0</text>
<text transform="translate(452.20,627.04) scale(0.9,1)" font-size="5.1" text-anchor="end" fill="#1a1a1a" font-family="Liberation Sans" stroke="#1a1a1a" stroke-width="0.22">Lignoceric Acid</text>
<text transform="translate(452.20,635.44) scale(0.9,1)" font-size="5.1" text-anchor="end" fill="#1a1a1a" font-family="Liberation Sans" stroke="#1a1a1a" stroke-width="0.22">LPA 16:1</text>
<text transform="translate(452.20,643.84) scale(0.9,1)" font-size="5.1" text-anchor="end" fill="#1a1a1a" font-family="Liberation Sans" stroke="#1a1a1a" stroke-width="0.22">14,15-Leukotriene E4</text>
<text transform="translate(452.20,652.24) scale(0.9,1)" font-size="5.1" text-anchor="end" fill="#1a1a1a" font-family="Liberation Sans" stroke="#1a1a1a" stroke-width="0.22">LPA 18:3</text>
<text transform="translate(452.20,660.64) scale(0.9,1)" font-size="5.1" text-anchor="end" fill="#1a1a1a" font-family="Liberation Sans" stroke="#1a1a1a" stroke-width="0.22">LPC 20:1</text>
<text transform="translate(452.20,669.04) scale(0.9,1)" font-size="5.1" text-anchor="end" fill="#1a1a1a" font-family="Liberation Sans" stroke="#1a1a1a" stroke-width="0.22">LPA 14:0</text>
<text transform="translate(452.20,677.44) scale(0.9,1)" font-size="5.1" text-anchor="end" fill="#1a1a1a" font-family="Liberation Sans" stroke="#1a1a1a" stroke-width="0.22">LPE 15:0</text>
<text transform="translate(452.20,685.84) scale(0.9,1)" font-size="5.1" text-anchor="end" fill="#1a1a1a" font-family="Liberation Sans" stroke="#1a1a1a" stroke-width="0.22">Docosanoic Acid</text>
<text transform="translate(452.20,694.24) scale(0.9,1)" font-size="5.1" text-anchor="end" fill="#1a1a1a" font-family="Liberation Sans" stroke="#1a1a1a" stroke-width="0.22">L-Palmitoylcarnitine</text>
<text transform="translate(452.20,702.64) scale(0.9,1)" font-size="5.1" text-anchor="end" fill="#1a1a1a" font-family="Liberation Sans" stroke="#1a1a1a" stroke-width="0.22">LPA 20:5</text>
<text transform="translate(452.20,711.04) scale(0.9,1)" font-size="5.1" text-anchor="end" fill="#1a1a1a" font-family="Liberation Sans" stroke="#1a1a1a" stroke-width="0.22">Lysopg 18:1</text>
<text transform="translate(452.20,719.44) scale(0.9,1)" font-size="5.1" text-anchor="end" fill="#1a1a1a" font-family="Liberation Sans" stroke="#1a1a1a" stroke-width="0.22">(±)9-HpODE</text>
<text transform="translate(452.20,727.84) scale(0.9,1)" font-size="5.1" text-anchor="end" fill="#1a1a1a" font-family="Liberation Sans" stroke="#1a1a1a" stroke-width="0.22">22(S)-Hydroxycholesterol</text>
<text transform="translate(452.20,736.24) scale(0.9,1)" font-size="5.1" text-anchor="end" fill="#1a1a1a" font-family="Liberation Sans" stroke="#1a1a1a" stroke-width="0.22">Phe-Phe</text>
<text transform="translate(452.20,744.64) scale(0.9,1)" font-size="5.1" text-anchor="end" fill="#1a1a1a" font-family="Liberation Sans" stroke="#1a1a1a" stroke-width="0.22">11(E)-Eicosenoic Acid</text>
<text transform="translate(452.20,753.04) scale(0.9,1)" font-size="5.1" text-anchor="end" fill="#1a1a1a" font-family="Liberation Sans" stroke="#1a1a1a" stroke-width="0.22">8-Aminooctanoic acid</text>
<text transform="translate(452.20,761.44) scale(0.9,1)" font-size="5.1" text-anchor="end" fill="#1a1a1a" font-family="Liberation Sans" stroke="#1a1a1a" stroke-width="0.22">1-[6-(benzyloxy)-3-(tert-butyl)-2-hydroxyphenyl]ethan-1-one</text>
<text transform="translate(452.20,769.84) scale(0.9,1)" font-size="5.1" text-anchor="end" fill="#1a1a1a" font-family="Liberation Sans" stroke="#1a1a1a" stroke-width="0.22">Delta-Tridecalactone</text>
<text transform="translate(452.20,778.24) scale(0.9,1)" font-size="5.1" text-anchor="end" fill="#1a1a1a" font-family="Liberation Sans" stroke="#1a1a1a" stroke-width="0.22">PC (2:0/16:2)</text>
<text transform="translate(458.30,613.30) scale(0.9,1) rotate(-47)" font-size="5.35" fill="#222" stroke="#222" stroke-width="0.1" font-family="Liberation Sans">LPA 16:0</text>
<text transform="translate(465.43,621.70) scale(0.9,1) rotate(-47)" font-size="5.35" fill="#222" stroke="#222" stroke-width="0.1" font-family="Liberation Sans">Lignoceric Acid</text>
<text transform="translate(472.56,630.10) scale(0.9,1) rotate(-47)" font-size="5.35" fill="#222" stroke="#222" stroke-width="0.1" font-family="Liberation Sans">LPA 16:1</text>
<text transform="translate(479.69,638.50) scale(0.9,1) rotate(-47)" font-size="5.35" fill="#222" stroke="#222" stroke-width="0.1" font-family="Liberation Sans">14,15-Leukotriene E4</text>
<text transform="translate(486.82,646.90) scale(0.9,1) rotate(-47)" font-size="5.35" fill="#222" stroke="#222" stroke-width="0.1" font-family="Liberation Sans">LPA 18:3</text>
<text transform="translate(493.95,655.30) scale(0.9,1) rotate(-47)" font-size="5.35" fill="#222" stroke="#222" stroke-width="0.1" font-family="Liberation Sans">LPC 20:1</text>
<text transform="translate(501.08,663.70) scale(0.9,1) rotate(-47)" font-size="5.35" fill="#222" stroke="#222" stroke-width="0.1" font-family="Liberation Sans">LPA 14:0</text>
<text transform="translate(508.21,672.10) scale(0.9,1) rotate(-47)" font-size="5.35" fill="#222" stroke="#222" stroke-width="0.1" font-family="Liberation Sans">LPE 15:0</text>
<text transform="translate(515.34,680.50) scale(0.9,1) rotate(-47)" font-size="5.35" fill="#222" stroke="#222" stroke-width="0.1" font-family="Liberation Sans">Docosanoic Acid</text>
<text transform="translate(522.47,688.90) scale(0.9,1) rotate(-47)" font-size="5.35" fill="#222" stroke="#222" stroke-width="0.1" font-family="Liberation Sans">L-Palmitoylcarnitine</text>
<text transform="translate(529.60,697.30) scale(0.9,1) rotate(-47)" font-size="5.35" fill="#222" stroke="#222" stroke-width="0.1" font-family="Liberation Sans">LPA 20:5</text>
<text transform="translate(536.73,705.70) scale(0.9,1) rotate(-47)" font-size="5.35" fill="#222" stroke="#222" stroke-width="0.1" font-family="Liberation Sans">Lysopg 18:1</text>
<text transform="translate(543.86,714.10) scale(0.9,1) rotate(-47)" font-size="5.35" fill="#222" stroke="#222" stroke-width="0.1" font-family="Liberation Sans">(±)9-HpODE</text>
<text transform="translate(550.99,722.50) scale(0.9,1) rotate(-47)" font-size="5.35" fill="#222" stroke="#222" stroke-width="0.1" font-family="Liberation Sans">22(S)-Hydroxycholesterol</text>
<text transform="translate(558.12,730.90) scale(0.9,1) rotate(-47)" font-size="5.35" fill="#222" stroke="#222" stroke-width="0.1" font-family="Liberation Sans">Phe-Phe</text>
<text transform="translate(565.25,739.30) scale(0.9,1) rotate(-47)" font-size="5.35" fill="#222" stroke="#222" stroke-width="0.1" font-family="Liberation Sans">11(E)-Eicosenoic Acid</text>
<text transform="translate(572.38,747.70) scale(0.9,1) rotate(-47)" font-size="5.35" fill="#222" stroke="#222" stroke-width="0.1" font-family="Liberation Sans">8-Aminooctanoic acid</text>
<text transform="translate(579.51,756.10) scale(0.9,1) rotate(-47)" font-size="5.35" fill="#222" stroke="#222" stroke-width="0.1" font-family="Liberation Sans">1-[6-(benzyloxy)-3-(tert-butyl)-2-hydroxyphenyl]ethan-1-one</text>
<text transform="translate(586.64,764.50) scale(0.9,1) rotate(-47)" font-size="5.35" fill="#222" stroke="#222" stroke-width="0.1" font-family="Liberation Sans">Delta-Tridecalactone</text>
<text transform="translate(593.77,772.90) scale(0.9,1) rotate(-47)" font-size="5.35" fill="#222" stroke="#222" stroke-width="0.1" font-family="Liberation Sans">PC (2:0/16:2)</text>
<defs><linearGradient id="cb453" x1="0" x2="1" y1="0" y2="0"><stop offset="0.000" stop-color="#0000ff"/><stop offset="0.100" stop-color="#006eff"/><stop offset="0.200" stop-color="#00ffff"/><stop offset="0.400" stop-color="#00ff00"/><stop offset="0.600" stop-color="#ffff00"/><stop offset="0.800" stop-color="#ffa500"/><stop offset="1.000" stop-color="#800000"/></linearGradient></defs>
<rect x="453" y="784.2" width="142" height="6.399999999999977" fill="url(#cb453)"/>
<text transform="translate(453.00,800.00) scale(1.0,1)" font-size="5" text-anchor="middle" fill="#333" font-family="Liberation Sans">-1</text>
<text transform="translate(467.20,800.00) scale(1.0,1)" font-size="5" text-anchor="middle" fill="#333" font-family="Liberation Sans">-0.8</text>
<text transform="translate(481.40,800.00) scale(1.0,1)" font-size="5" text-anchor="middle" fill="#333" font-family="Liberation Sans">-0.6</text>
<text transform="translate(495.60,800.00) scale(1.0,1)" font-size="5" text-anchor="middle" fill="#333" font-family="Liberation Sans">-0.4</text>
<text transform="translate(509.80,800.00) scale(1.0,1)" font-size="5" text-anchor="middle" fill="#333" font-family="Liberation Sans">-0.2</text>
<text transform="translate(524.00,800.00) scale(1.0,1)" font-size="5" text-anchor="middle" fill="#333" font-family="Liberation Sans">0</text>
<text transform="translate(538.20,800.00) scale(1.0,1)" font-size="5" text-anchor="middle" fill="#333" font-family="Liberation Sans">0.2</text>
<text transform="translate(552.40,800.00) scale(1.0,1)" font-size="5" text-anchor="middle" fill="#333" font-family="Liberation Sans">0.4</text>
<text transform="translate(566.60,800.00) scale(1.0,1)" font-size="5" text-anchor="middle" fill="#333" font-family="Liberation Sans">0.6</text>
<text transform="translate(580.80,800.00) scale(1.0,1)" font-size="5" text-anchor="middle" fill="#333" font-family="Liberation Sans">0.8</text>
<text transform="translate(595.00,800.00) scale(1.0,1)" font-size="5" text-anchor="middle" fill="#333" font-family="Liberation Sans">1</text>
<text transform="translate(27.50,14.00) scale(1.0,1)" font-size="20" text-anchor="start" fill="#000" font-family="Liberation Serif" font-weight="bold">A</text>
<text transform="translate(349.20,21.00) scale(1.0,1)" font-size="20" text-anchor="start" fill="#000" font-family="Liberation Serif" font-weight="bold">B</text>
<text transform="translate(28.60,282.80) scale(1.0,1)" font-size="20" text-anchor="start" fill="#000" font-family="Liberation Serif" font-weight="bold">C</text>
<text transform="translate(353.40,274.30) scale(1.0,1)" font-size="20" text-anchor="start" fill="#000" font-family="Liberation Serif" font-weight="bold">D</text>
<text transform="translate(35.00,545.00) scale(1.0,1)" font-size="20" text-anchor="start" fill="#000" font-family="Liberation Serif" font-weight="bold">E</text>
<text transform="translate(358.20,545.00) scale(1.0,1)" font-size="20" text-anchor="start" fill="#000" font-family="Liberation Serif" font-weight="bold">F</text>
</svg></body></html>
